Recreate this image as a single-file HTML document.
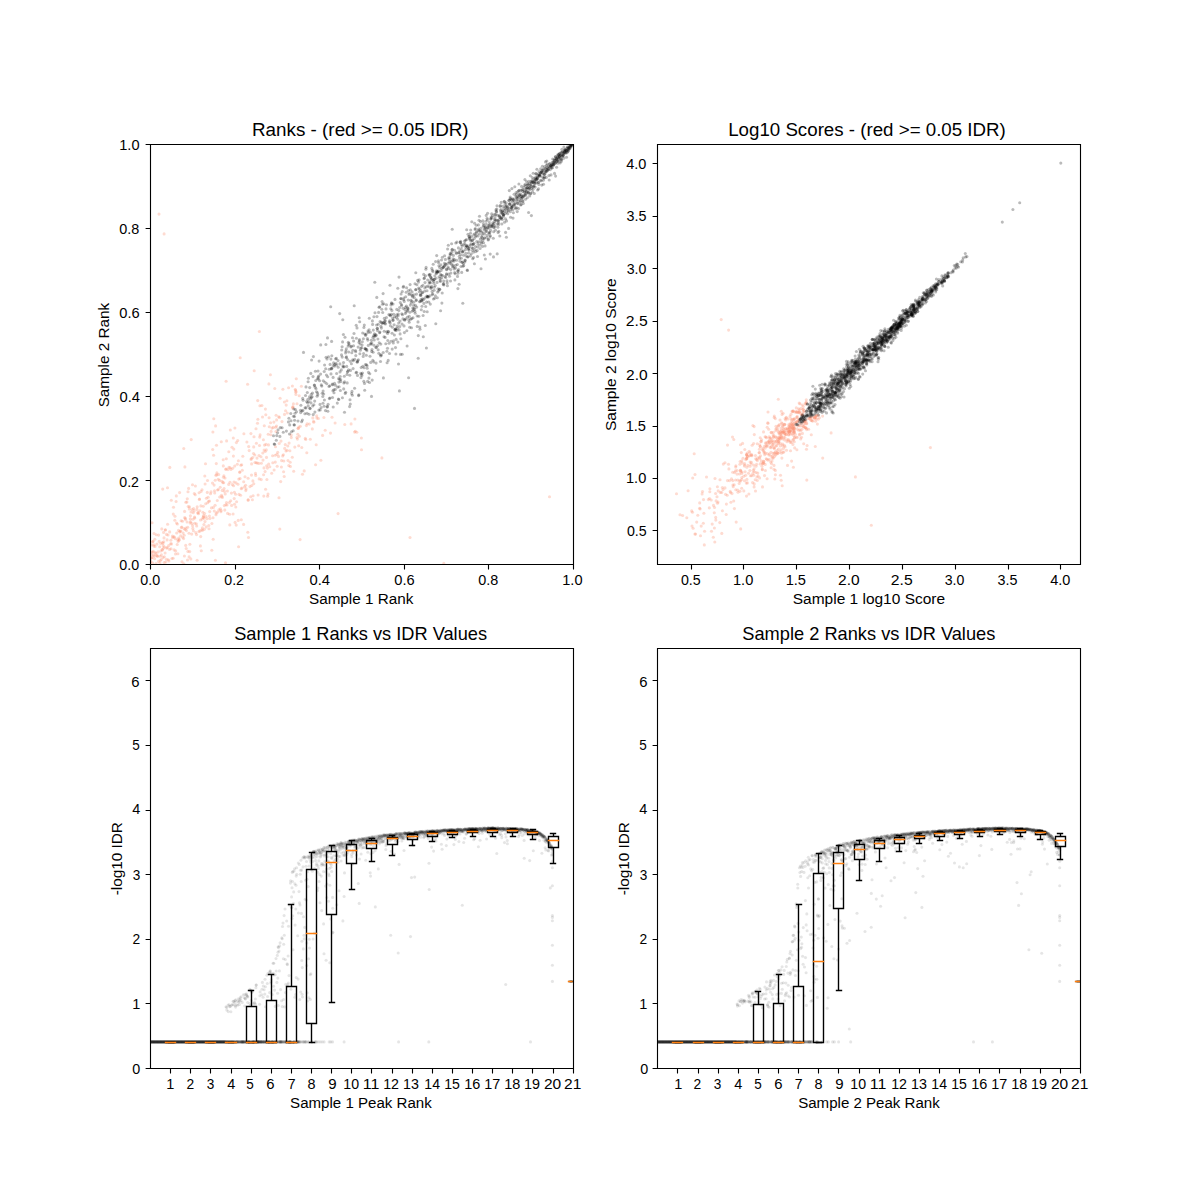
<!DOCTYPE html>
<html><head><meta charset="utf-8"><title>IDR plots</title>
<style>
html,body{margin:0;padding:0;background:#fff;}
body{width:1200px;height:1200px;overflow:hidden;font-family:"Liberation Sans", sans-serif;}
svg{display:block;position:absolute;left:0;top:0;}
text{font-family:"Liberation Sans", sans-serif;fill:#000;}
.fr{fill:none;stroke:#000;stroke-width:1.11;stroke-linecap:butt;}
.pk{fill:#000;fill-opacity:0.27;}
.pr{fill:#fc9272;fill-opacity:0.33;}
.pb{fill:#000;fill-opacity:0.1;}
.bx{fill:none;stroke:#000;stroke-width:1.39;stroke-linecap:butt;stroke-linejoin:miter;}
.cp{stroke-linecap:square;}
.md{fill:none;stroke:#ff7f0e;stroke-width:1.39;stroke-linecap:square;}
</style></head><body>
<svg width="1200" height="1200" viewBox="0 0 1200 1200">
<clipPath id="c1"><rect x="150.0" y="144.0" width="422.727" height="420.0"/></clipPath>
<g class="pr" clip-path="url(#c1)"><circle cx="283.4" cy="454.8" r="1.55"/><circle cx="185.8" cy="502.3" r="1.55"/><circle cx="196.9" cy="509.4" r="1.55"/><circle cx="228.8" cy="451.7" r="1.55"/><circle cx="279.2" cy="443.5" r="1.55"/><circle cx="192.5" cy="484.7" r="1.55"/><circle cx="173.5" cy="507.2" r="1.55"/><circle cx="250.7" cy="496.8" r="1.55"/><circle cx="217.6" cy="512.1" r="1.55"/><circle cx="254.8" cy="455" r="1.55"/><circle cx="178.9" cy="540.6" r="1.55"/><circle cx="283.8" cy="461" r="1.55"/><circle cx="200.9" cy="505.9" r="1.55"/><circle cx="184.4" cy="556" r="1.55"/><circle cx="163.2" cy="545.7" r="1.55"/><circle cx="154" cy="533.5" r="1.55"/><circle cx="332" cy="417.2" r="1.55"/><circle cx="190.8" cy="558.9" r="1.55"/><circle cx="275.9" cy="431.6" r="1.55"/><circle cx="257.9" cy="419.2" r="1.55"/><circle cx="281.6" cy="460.6" r="1.55"/><circle cx="178.5" cy="530.4" r="1.55"/><circle cx="232" cy="447.3" r="1.55"/><circle cx="166.7" cy="548.1" r="1.55"/><circle cx="284.5" cy="414.4" r="1.55"/><circle cx="179.6" cy="492.6" r="1.55"/><circle cx="151.8" cy="545" r="1.55"/><circle cx="253.5" cy="453.5" r="1.55"/><circle cx="275.7" cy="427.2" r="1.55"/><circle cx="170.6" cy="543.7" r="1.55"/><circle cx="226.3" cy="458.8" r="1.55"/><circle cx="354.9" cy="419" r="1.55"/><circle cx="247.8" cy="532.2" r="1.55"/><circle cx="189.9" cy="544.3" r="1.55"/><circle cx="234.5" cy="504.3" r="1.55"/><circle cx="239.7" cy="472.3" r="1.55"/><circle cx="295.6" cy="390" r="1.55"/><circle cx="248.7" cy="446.6" r="1.55"/><circle cx="240.6" cy="495.3" r="1.55"/><circle cx="248.3" cy="499.9" r="1.55"/><circle cx="268.7" cy="464.1" r="1.55"/><circle cx="266.7" cy="465.8" r="1.55"/><circle cx="320.9" cy="460.3" r="1.55"/><circle cx="282.7" cy="455.9" r="1.55"/><circle cx="205.7" cy="503.7" r="1.55"/><circle cx="287.3" cy="413" r="1.55"/><circle cx="285.6" cy="410.8" r="1.55"/><circle cx="173.3" cy="514.1" r="1.55"/><circle cx="223.7" cy="482.7" r="1.55"/><circle cx="174.4" cy="537" r="1.55"/><circle cx="209.5" cy="501" r="1.55"/><circle cx="200.7" cy="536.6" r="1.55"/><circle cx="294.8" cy="447.1" r="1.55"/><circle cx="209.9" cy="518.5" r="1.55"/><circle cx="154.4" cy="556.1" r="1.55"/><circle cx="287.8" cy="446" r="1.55"/><circle cx="203.1" cy="517.4" r="1.55"/><circle cx="199.8" cy="510.7" r="1.55"/><circle cx="316.7" cy="415.9" r="1.55"/><circle cx="220.4" cy="508.7" r="1.55"/><circle cx="255.5" cy="473.4" r="1.55"/><circle cx="263.4" cy="439.8" r="1.55"/><circle cx="222.2" cy="490.4" r="1.55"/><circle cx="198.5" cy="513.8" r="1.55"/><circle cx="281.4" cy="467" r="1.55"/><circle cx="264.1" cy="450.1" r="1.55"/><circle cx="288.8" cy="465.6" r="1.55"/><circle cx="293.4" cy="403.9" r="1.55"/><circle cx="223.9" cy="475.8" r="1.55"/><circle cx="167.5" cy="487.7" r="1.55"/><circle cx="183.8" cy="563.8" r="1.55"/><circle cx="231.6" cy="505.4" r="1.55"/><circle cx="301.4" cy="386.3" r="1.55"/><circle cx="262.5" cy="417" r="1.55"/><circle cx="179.8" cy="532" r="1.55"/><circle cx="246.9" cy="442" r="1.55"/><circle cx="264.5" cy="445.1" r="1.55"/><circle cx="255.7" cy="475.4" r="1.55"/><circle cx="233.6" cy="485.8" r="1.55"/><circle cx="224.4" cy="491.3" r="1.55"/><circle cx="160.8" cy="551" r="1.55"/><circle cx="223.5" cy="477.3" r="1.55"/><circle cx="166.5" cy="534.4" r="1.55"/><circle cx="174.8" cy="520.2" r="1.55"/><circle cx="171" cy="548.7" r="1.55"/><circle cx="179.4" cy="539.5" r="1.55"/><circle cx="245" cy="476.7" r="1.55"/><circle cx="198.3" cy="512.5" r="1.55"/><circle cx="306.8" cy="452.8" r="1.55"/><circle cx="381.9" cy="457.9" r="1.55"/><circle cx="228.7" cy="484.4" r="1.55"/><circle cx="275.5" cy="446.8" r="1.55"/><circle cx="161.2" cy="559.6" r="1.55"/><circle cx="168.9" cy="560.9" r="1.55"/><circle cx="265.4" cy="409.1" r="1.55"/><circle cx="235.8" cy="507" r="1.55"/><circle cx="200.4" cy="545.9" r="1.55"/><circle cx="325.2" cy="430.3" r="1.55"/><circle cx="264.3" cy="425.8" r="1.55"/><circle cx="219.7" cy="497" r="1.55"/><circle cx="241.9" cy="488" r="1.55"/><circle cx="318.4" cy="418.5" r="1.55"/><circle cx="160.1" cy="556.3" r="1.55"/><circle cx="278.7" cy="416.8" r="1.55"/><circle cx="292.8" cy="406.8" r="1.55"/><circle cx="237.3" cy="464.3" r="1.55"/><circle cx="177.2" cy="544.5" r="1.55"/><circle cx="305.7" cy="439.5" r="1.55"/><circle cx="312.8" cy="417.9" r="1.55"/><circle cx="243.6" cy="524.4" r="1.55"/><circle cx="185.7" cy="545.4" r="1.55"/><circle cx="222.8" cy="482.6" r="1.55"/><circle cx="284.4" cy="402" r="1.55"/><circle cx="199.6" cy="499" r="1.55"/><circle cx="268.9" cy="383.9" r="1.55"/><circle cx="215.1" cy="505.2" r="1.55"/><circle cx="272" cy="428.1" r="1.55"/><circle cx="154.2" cy="544.8" r="1.55"/><circle cx="196.3" cy="523.8" r="1.55"/><circle cx="284.7" cy="448.4" r="1.55"/><circle cx="189.5" cy="506.7" r="1.55"/><circle cx="259.2" cy="478.9" r="1.55"/><circle cx="288" cy="460.5" r="1.55"/><circle cx="209.4" cy="516" r="1.55"/><circle cx="187.1" cy="522" r="1.55"/><circle cx="243.9" cy="433.8" r="1.55"/><circle cx="221.3" cy="441.8" r="1.55"/><circle cx="206.1" cy="516.5" r="1.55"/><circle cx="183.6" cy="538.6" r="1.55"/><circle cx="262.8" cy="453" r="1.55"/><circle cx="298.9" cy="427" r="1.55"/><circle cx="218.7" cy="474.5" r="1.55"/><circle cx="261.9" cy="405.5" r="1.55"/><circle cx="153.3" cy="551.2" r="1.55"/><circle cx="189" cy="533.3" r="1.55"/><circle cx="192.1" cy="509.6" r="1.55"/><circle cx="322.6" cy="435.4" r="1.55"/><circle cx="158.1" cy="551.9" r="1.55"/><circle cx="297" cy="403.7" r="1.55"/><circle cx="266" cy="444.4" r="1.55"/><circle cx="306.4" cy="425.6" r="1.55"/><circle cx="292.6" cy="408.1" r="1.55"/><circle cx="163.4" cy="548.3" r="1.55"/><circle cx="215.8" cy="475.3" r="1.55"/><circle cx="299.4" cy="436.2" r="1.55"/><circle cx="235.6" cy="494.2" r="1.55"/><circle cx="236.6" cy="501.7" r="1.55"/><circle cx="216.3" cy="463.6" r="1.55"/><circle cx="178.7" cy="538.1" r="1.55"/><circle cx="156.1" cy="563.5" r="1.55"/><circle cx="152.2" cy="557.4" r="1.55"/><circle cx="355.3" cy="431.2" r="1.55"/><circle cx="215.6" cy="425.9" r="1.55"/><circle cx="156.2" cy="534.8" r="1.55"/><circle cx="201.1" cy="491.5" r="1.55"/><circle cx="305.3" cy="438.4" r="1.55"/><circle cx="310.3" cy="439.3" r="1.55"/><circle cx="274.1" cy="470" r="1.55"/><circle cx="192.8" cy="528.4" r="1.55"/><circle cx="165.3" cy="530" r="1.55"/><circle cx="213.6" cy="455.2" r="1.55"/><circle cx="218.9" cy="509.9" r="1.55"/><circle cx="164" cy="537.9" r="1.55"/><circle cx="191.9" cy="523.6" r="1.55"/><circle cx="335.1" cy="423" r="1.55"/><circle cx="243.7" cy="481.8" r="1.55"/><circle cx="188.6" cy="488.4" r="1.55"/><circle cx="254.9" cy="462.5" r="1.55"/><circle cx="202.9" cy="512.3" r="1.55"/><circle cx="180.9" cy="531.1" r="1.55"/><circle cx="232.3" cy="484.6" r="1.55"/><circle cx="220.2" cy="487.3" r="1.55"/><circle cx="233.4" cy="456.1" r="1.55"/><circle cx="290.2" cy="462.3" r="1.55"/><circle cx="178.1" cy="541.5" r="1.55"/><circle cx="161.4" cy="554.9" r="1.55"/><circle cx="316.9" cy="418.1" r="1.55"/><circle cx="273.3" cy="427.4" r="1.55"/><circle cx="181.4" cy="527.5" r="1.55"/><circle cx="256" cy="428.7" r="1.55"/><circle cx="173.2" cy="558.3" r="1.55"/><circle cx="222.4" cy="497.5" r="1.55"/><circle cx="152.6" cy="541.9" r="1.55"/><circle cx="240.1" cy="478.5" r="1.55"/><circle cx="266.5" cy="457.4" r="1.55"/><circle cx="239.9" cy="472" r="1.55"/><circle cx="194.3" cy="493.5" r="1.55"/><circle cx="248.1" cy="478.2" r="1.55"/><circle cx="275.2" cy="455.3" r="1.55"/><circle cx="215.2" cy="480.2" r="1.55"/><circle cx="157.5" cy="556.5" r="1.55"/><circle cx="251.8" cy="485.5" r="1.55"/><circle cx="304.2" cy="470.9" r="1.55"/><circle cx="282" cy="421.6" r="1.55"/><circle cx="233.1" cy="514" r="1.55"/><circle cx="250" cy="486.6" r="1.55"/><circle cx="253.1" cy="495.7" r="1.55"/><circle cx="197.6" cy="512.9" r="1.55"/><circle cx="177.9" cy="553.8" r="1.55"/><circle cx="169.8" cy="467.4" r="1.55"/><circle cx="298.7" cy="445.7" r="1.55"/><circle cx="225.9" cy="504.8" r="1.55"/><circle cx="202.4" cy="527.7" r="1.55"/><circle cx="156.6" cy="555.6" r="1.55"/><circle cx="187.9" cy="551.4" r="1.55"/><circle cx="290.4" cy="466.5" r="1.55"/><circle cx="232.7" cy="468.3" r="1.55"/><circle cx="158.5" cy="561.4" r="1.55"/><circle cx="190.4" cy="515.8" r="1.55"/><circle cx="205.5" cy="463.7" r="1.55"/><circle cx="257" cy="458.1" r="1.55"/><circle cx="241.2" cy="488.8" r="1.55"/><circle cx="184.6" cy="511.4" r="1.55"/><circle cx="273.9" cy="422.1" r="1.55"/><circle cx="284.2" cy="476.5" r="1.55"/><circle cx="238.2" cy="520.4" r="1.55"/><circle cx="153.1" cy="541.2" r="1.55"/><circle cx="361.5" cy="449.7" r="1.55"/><circle cx="276.5" cy="426.1" r="1.55"/><circle cx="292.3" cy="457.2" r="1.55"/><circle cx="323.9" cy="417.5" r="1.55"/><circle cx="216.2" cy="513.1" r="1.55"/><circle cx="307.1" cy="423.8" r="1.55"/><circle cx="203.5" cy="515.6" r="1.55"/><circle cx="252.4" cy="499.7" r="1.55"/><circle cx="316.2" cy="444.8" r="1.55"/><circle cx="289.1" cy="443.1" r="1.55"/><circle cx="259.9" cy="405.7" r="1.55"/><circle cx="261.4" cy="463.2" r="1.55"/><circle cx="269.8" cy="466.7" r="1.55"/><circle cx="313.8" cy="422.3" r="1.55"/><circle cx="268.2" cy="434.2" r="1.55"/><circle cx="300.3" cy="426.3" r="1.55"/><circle cx="269.3" cy="426.7" r="1.55"/><circle cx="194.5" cy="517.1" r="1.55"/><circle cx="295.7" cy="392.3" r="1.55"/><circle cx="211.9" cy="523.5" r="1.55"/><circle cx="184.2" cy="535.3" r="1.55"/><circle cx="155.5" cy="552.5" r="1.55"/><circle cx="226.6" cy="440.9" r="1.55"/><circle cx="291.3" cy="437.6" r="1.55"/><circle cx="267.4" cy="468.1" r="1.55"/><circle cx="193" cy="519.3" r="1.55"/><circle cx="175.7" cy="550.9" r="1.55"/><circle cx="234" cy="482" r="1.55"/><circle cx="301.8" cy="447.5" r="1.55"/><circle cx="197.1" cy="560.2" r="1.55"/><circle cx="210.5" cy="493.7" r="1.55"/><circle cx="214.1" cy="485.1" r="1.55"/><circle cx="230" cy="482.2" r="1.55"/><circle cx="213.2" cy="539.3" r="1.55"/><circle cx="272.8" cy="462.7" r="1.55"/><circle cx="155.1" cy="546.5" r="1.55"/><circle cx="208.1" cy="497.2" r="1.55"/><circle cx="182.5" cy="521.3" r="1.55"/><circle cx="238.8" cy="479.1" r="1.55"/><circle cx="162.3" cy="542.5" r="1.55"/><circle cx="229.4" cy="502.6" r="1.55"/><circle cx="238" cy="484.2" r="1.55"/><circle cx="291.2" cy="435.1" r="1.55"/><circle cx="295.2" cy="389.6" r="1.55"/><circle cx="185.1" cy="529.5" r="1.55"/><circle cx="203.7" cy="516.7" r="1.55"/><circle cx="176.7" cy="533" r="1.55"/><circle cx="218.2" cy="479.3" r="1.55"/><circle cx="207" cy="518.7" r="1.55"/><circle cx="265.2" cy="451.5" r="1.55"/><circle cx="268" cy="494.1" r="1.55"/><circle cx="188" cy="491.7" r="1.55"/><circle cx="204.4" cy="529.3" r="1.55"/><circle cx="168.7" cy="545.6" r="1.55"/><circle cx="229" cy="467.2" r="1.55"/><circle cx="162.1" cy="549.6" r="1.55"/><circle cx="200" cy="530.9" r="1.55"/><circle cx="224.3" cy="505.6" r="1.55"/><circle cx="309.3" cy="424.1" r="1.55"/><circle cx="204.8" cy="476" r="1.55"/><circle cx="234.9" cy="428" r="1.55"/><circle cx="171.5" cy="543.9" r="1.55"/><circle cx="225" cy="478" r="1.55"/><circle cx="152" cy="522.7" r="1.55"/><circle cx="226.5" cy="502.5" r="1.55"/><circle cx="227.9" cy="469.6" r="1.55"/><circle cx="223.2" cy="459.7" r="1.55"/><circle cx="217.3" cy="500.5" r="1.55"/><circle cx="229.6" cy="514.3" r="1.55"/><circle cx="174.1" cy="549.9" r="1.55"/><circle cx="204.6" cy="513.6" r="1.55"/><circle cx="223.3" cy="465.9" r="1.55"/><circle cx="186" cy="528" r="1.55"/><circle cx="184" cy="528.6" r="1.55"/><circle cx="194.7" cy="523.3" r="1.55"/><circle cx="241.3" cy="519.8" r="1.55"/><circle cx="196.5" cy="534.6" r="1.55"/><circle cx="230.3" cy="430" r="1.55"/><circle cx="263.6" cy="474.7" r="1.55"/><circle cx="258.8" cy="463.4" r="1.55"/><circle cx="279.8" cy="529.1" r="1.55"/><circle cx="286.2" cy="405.1" r="1.55"/><circle cx="153.7" cy="555.1" r="1.55"/><circle cx="299.2" cy="395.8" r="1.55"/><circle cx="167.1" cy="539.9" r="1.55"/><circle cx="256.2" cy="462.8" r="1.55"/><circle cx="293" cy="407.3" r="1.55"/><circle cx="257.7" cy="400.6" r="1.55"/><circle cx="166.4" cy="559.3" r="1.55"/><circle cx="168.2" cy="559.8" r="1.55"/><circle cx="276.6" cy="419.9" r="1.55"/><circle cx="198.9" cy="531.5" r="1.55"/><circle cx="205" cy="521.6" r="1.55"/><circle cx="244.5" cy="486.9" r="1.55"/><circle cx="225.2" cy="493.9" r="1.55"/><circle cx="216" cy="514.7" r="1.55"/><circle cx="269.1" cy="417.7" r="1.55"/><circle cx="285.3" cy="444.6" r="1.55"/><circle cx="211" cy="491.9" r="1.55"/><circle cx="189.3" cy="508.9" r="1.55"/><circle cx="152.9" cy="552.3" r="1.55"/><circle cx="202" cy="489.7" r="1.55"/><circle cx="189.1" cy="556.9" r="1.55"/><circle cx="245.6" cy="485.3" r="1.55"/><circle cx="159.7" cy="546.7" r="1.55"/><circle cx="216.7" cy="474.9" r="1.55"/><circle cx="277" cy="454.3" r="1.55"/><circle cx="193.2" cy="512.7" r="1.55"/><circle cx="278.5" cy="456.4" r="1.55"/><circle cx="259" cy="455.5" r="1.55"/><circle cx="193.6" cy="508.5" r="1.55"/><circle cx="199.3" cy="499.5" r="1.55"/><circle cx="182.7" cy="537.3" r="1.55"/><circle cx="187.5" cy="560" r="1.55"/><circle cx="241.7" cy="464.7" r="1.55"/><circle cx="260.1" cy="434.9" r="1.55"/><circle cx="195.8" cy="532.6" r="1.55"/><circle cx="152.8" cy="563.1" r="1.55"/><circle cx="225.7" cy="469.2" r="1.55"/><circle cx="218.4" cy="489.5" r="1.55"/><circle cx="212.9" cy="432" r="1.55"/><circle cx="265.6" cy="489.3" r="1.55"/><circle cx="151.5" cy="558" r="1.55"/><circle cx="230.9" cy="469.4" r="1.55"/><circle cx="275.3" cy="462.1" r="1.55"/><circle cx="206.2" cy="526.9" r="1.55"/><circle cx="220.9" cy="511.8" r="1.55"/><circle cx="159.9" cy="562.9" r="1.55"/><circle cx="238.4" cy="460.8" r="1.55"/><circle cx="188.2" cy="506.5" r="1.55"/><circle cx="182" cy="561.8" r="1.55"/><circle cx="207.7" cy="502.8" r="1.55"/><circle cx="201.8" cy="529.9" r="1.55"/><circle cx="236" cy="482.9" r="1.55"/><circle cx="193.4" cy="530.8" r="1.55"/><circle cx="163.8" cy="541.7" r="1.55"/><circle cx="240.8" cy="465.2" r="1.55"/><circle cx="176.5" cy="523.1" r="1.55"/><circle cx="270.4" cy="374.8" r="1.55"/><circle cx="219.5" cy="480.4" r="1.55"/><circle cx="234.4" cy="492.2" r="1.55"/><circle cx="154.8" cy="539.2" r="1.55"/><circle cx="246.1" cy="488.9" r="1.55"/><circle cx="221.1" cy="510.5" r="1.55"/><circle cx="162.9" cy="543.4" r="1.55"/><circle cx="161.8" cy="528.9" r="1.55"/><circle cx="224.1" cy="488.6" r="1.55"/><circle cx="251.5" cy="475.1" r="1.55"/><circle cx="175.5" cy="554" r="1.55"/><circle cx="296.9" cy="437.5" r="1.55"/><circle cx="181.8" cy="527.1" r="1.55"/><circle cx="184.9" cy="466.9" r="1.55"/><circle cx="159.2" cy="541.4" r="1.55"/><circle cx="226.1" cy="469" r="1.55"/><circle cx="270.8" cy="434.7" r="1.55"/><circle cx="205.1" cy="484" r="1.55"/><circle cx="187.7" cy="527.3" r="1.55"/><circle cx="254" cy="436.7" r="1.55"/><circle cx="235.1" cy="522.4" r="1.55"/><circle cx="264" cy="467.9" r="1.55"/><circle cx="259.5" cy="445.5" r="1.55"/><circle cx="267.6" cy="496.3" r="1.55"/><circle cx="164.5" cy="547" r="1.55"/><circle cx="227.4" cy="491" r="1.55"/><circle cx="286" cy="451" r="1.55"/><circle cx="258.1" cy="495" r="1.55"/><circle cx="271.1" cy="431.4" r="1.55"/><circle cx="240.2" cy="357.7" r="1.55"/><circle cx="296.1" cy="391.6" r="1.55"/><circle cx="251.3" cy="458.5" r="1.55"/><circle cx="236.4" cy="442.6" r="1.55"/><circle cx="177.8" cy="539.7" r="1.55"/><circle cx="150.9" cy="561.3" r="1.55"/><circle cx="209" cy="528.8" r="1.55"/><circle cx="298.1" cy="428.3" r="1.55"/><circle cx="281" cy="441.1" r="1.55"/><circle cx="207.5" cy="480.5" r="1.55"/><circle cx="180" cy="531.3" r="1.55"/><circle cx="277.7" cy="452.2" r="1.55"/><circle cx="169.5" cy="549.4" r="1.55"/><circle cx="280.7" cy="481.6" r="1.55"/><circle cx="187.3" cy="498.8" r="1.55"/><circle cx="259.7" cy="437.1" r="1.55"/><circle cx="234.7" cy="466.1" r="1.55"/><circle cx="233.8" cy="449.1" r="1.55"/><circle cx="202.6" cy="530.2" r="1.55"/><circle cx="242.8" cy="456.3" r="1.55"/><circle cx="313.6" cy="421.2" r="1.55"/><circle cx="265.8" cy="414.8" r="1.55"/><circle cx="216.5" cy="445.3" r="1.55"/><circle cx="214.7" cy="493" r="1.55"/><circle cx="167.3" cy="547.6" r="1.55"/><circle cx="172.4" cy="536.1" r="1.55"/><circle cx="248.5" cy="537.5" r="1.55"/><circle cx="162.7" cy="489.1" r="1.55"/><circle cx="276.1" cy="415.2" r="1.55"/><circle cx="201.3" cy="550.7" r="1.55"/><circle cx="286.9" cy="400.7" r="1.55"/><circle cx="185.3" cy="518.2" r="1.55"/><circle cx="344.8" cy="424.5" r="1.55"/><circle cx="279.4" cy="417.4" r="1.55"/><circle cx="151.7" cy="554.7" r="1.55"/><circle cx="238.6" cy="546.8" r="1.55"/><circle cx="227.6" cy="513.4" r="1.55"/><circle cx="153.9" cy="546.1" r="1.55"/><circle cx="245.8" cy="490.6" r="1.55"/><circle cx="202.2" cy="519.1" r="1.55"/><circle cx="351.1" cy="423.9" r="1.55"/><circle cx="356.8" cy="432.3" r="1.55"/><circle cx="208.6" cy="501.2" r="1.55"/><circle cx="312.3" cy="428.9" r="1.55"/><circle cx="195.4" cy="486" r="1.55"/><circle cx="261" cy="456.8" r="1.55"/><circle cx="203.9" cy="524.6" r="1.55"/><circle cx="164.2" cy="562.5" r="1.55"/><circle cx="160.7" cy="543.5" r="1.55"/><circle cx="169.7" cy="531.9" r="1.55"/><circle cx="213.8" cy="418.8" r="1.55"/><circle cx="296.3" cy="378.7" r="1.55"/><circle cx="221.5" cy="495.2" r="1.55"/><circle cx="271.7" cy="473.2" r="1.55"/><circle cx="151.3" cy="552.1" r="1.55"/><circle cx="213" cy="517.8" r="1.55"/><circle cx="292.4" cy="386" r="1.55"/><circle cx="227" cy="505" r="1.55"/><circle cx="196.7" cy="526" r="1.55"/><circle cx="170.8" cy="540.3" r="1.55"/><circle cx="297.4" cy="439.1" r="1.55"/><circle cx="253.7" cy="446.9" r="1.55"/><circle cx="164.3" cy="556.7" r="1.55"/><circle cx="279" cy="497.7" r="1.55"/><circle cx="175" cy="516.3" r="1.55"/><circle cx="158.6" cy="535.1" r="1.55"/><circle cx="185.5" cy="519.6" r="1.55"/><circle cx="206.4" cy="498.3" r="1.55"/><circle cx="230.1" cy="467.8" r="1.55"/><circle cx="302.5" cy="474.2" r="1.55"/><circle cx="252.9" cy="480.9" r="1.55"/><circle cx="173.7" cy="536.8" r="1.55"/><circle cx="257.2" cy="463" r="1.55"/><circle cx="237.7" cy="440.6" r="1.55"/><circle cx="186.9" cy="502.1" r="1.55"/><circle cx="172.6" cy="537.7" r="1.55"/><circle cx="297.8" cy="434.3" r="1.55"/><circle cx="214.5" cy="490.8" r="1.55"/><circle cx="295.9" cy="394.5" r="1.55"/><circle cx="274.8" cy="388.5" r="1.55"/><circle cx="234.2" cy="498.6" r="1.55"/><circle cx="216.9" cy="472.9" r="1.55"/><circle cx="221.9" cy="496.6" r="1.55"/><circle cx="204" cy="518.3" r="1.55"/><circle cx="272.6" cy="455.7" r="1.55"/><circle cx="268.5" cy="444.9" r="1.55"/><circle cx="225.5" cy="562.7" r="1.55"/><circle cx="186.2" cy="548.5" r="1.55"/><circle cx="167.6" cy="524.2" r="1.55"/><circle cx="263.8" cy="496.1" r="1.55"/><circle cx="163" cy="557.6" r="1.55"/><circle cx="165.4" cy="529.7" r="1.55"/><circle cx="171.3" cy="500.3" r="1.55"/><circle cx="224.8" cy="510.1" r="1.55"/><circle cx="265.1" cy="471.6" r="1.55"/><circle cx="197.2" cy="506.8" r="1.55"/><circle cx="231.4" cy="493.1" r="1.55"/><circle cx="217.5" cy="490" r="1.55"/><circle cx="283.6" cy="471.8" r="1.55"/><circle cx="287.1" cy="450.2" r="1.55"/><circle cx="247.6" cy="384.3" r="1.55"/><circle cx="254.2" cy="370.8" r="1.55"/><circle cx="266.3" cy="449.9" r="1.55"/><circle cx="209.7" cy="511.6" r="1.55"/><circle cx="176.1" cy="501.5" r="1.55"/><circle cx="176.3" cy="495.9" r="1.55"/><circle cx="150.6" cy="558.2" r="1.55"/><circle cx="157.4" cy="555.8" r="1.55"/><circle cx="211.8" cy="550.3" r="1.55"/><circle cx="330.5" cy="433.1" r="1.55"/><circle cx="168" cy="535" r="1.55"/><circle cx="165.8" cy="562" r="1.55"/><circle cx="293.7" cy="471.2" r="1.55"/><circle cx="194.8" cy="518" r="1.55"/><circle cx="183.1" cy="533.1" r="1.55"/><circle cx="222" cy="481.3" r="1.55"/><circle cx="203.3" cy="506.3" r="1.55"/><circle cx="208.8" cy="525.5" r="1.55"/><circle cx="261.2" cy="479.6" r="1.55"/><circle cx="270.6" cy="422.8" r="1.55"/><circle cx="214.3" cy="511" r="1.55"/><circle cx="211.4" cy="507.9" r="1.55"/><circle cx="190.1" cy="522.9" r="1.55"/><circle cx="175.4" cy="538.8" r="1.55"/><circle cx="190.3" cy="518.9" r="1.55"/><circle cx="180.7" cy="535.9" r="1.55"/><circle cx="191.2" cy="439.6" r="1.55"/><circle cx="212.5" cy="483.1" r="1.55"/><circle cx="242.3" cy="470.3" r="1.55"/><circle cx="256.4" cy="443.3" r="1.55"/><circle cx="192.6" cy="525.7" r="1.55"/><circle cx="181.1" cy="520.7" r="1.55"/><circle cx="194.1" cy="510.9" r="1.55"/><circle cx="199.1" cy="492.8" r="1.55"/><circle cx="263" cy="460.1" r="1.55"/><circle cx="233.3" cy="438" r="1.55"/><circle cx="249.2" cy="450.6" r="1.55"/><circle cx="155.9" cy="553.6" r="1.55"/><circle cx="189.7" cy="551.6" r="1.55"/><circle cx="177.4" cy="524" r="1.55"/><circle cx="239" cy="494.4" r="1.55"/><circle cx="229.8" cy="524.9" r="1.55"/><circle cx="154.6" cy="558.7" r="1.55"/><circle cx="251.6" cy="463.9" r="1.55"/><circle cx="213.4" cy="507.4" r="1.55"/><circle cx="253.8" cy="483.7" r="1.55"/><circle cx="215.4" cy="560.3" r="1.55"/><circle cx="163.6" cy="532.4" r="1.55"/><circle cx="200.5" cy="520" r="1.55"/><circle cx="289.9" cy="450.8" r="1.55"/><circle cx="165.1" cy="553" r="1.55"/><circle cx="282.9" cy="389.2" r="1.55"/><circle cx="191" cy="512" r="1.55"/><circle cx="298.3" cy="428.5" r="1.55"/><circle cx="259.4" cy="331.5" r="1.55"/><circle cx="190.6" cy="521.8" r="1.55"/><circle cx="230.7" cy="500.8" r="1.55"/><circle cx="162.5" cy="550.1" r="1.55"/><circle cx="248" cy="500.1" r="1.55"/><circle cx="315.6" cy="464.8" r="1.55"/><circle cx="191.7" cy="534.1" r="1.55"/><circle cx="251.1" cy="459.5" r="1.55"/><circle cx="236.2" cy="525.1" r="1.55"/><circle cx="212.7" cy="449.5" r="1.55"/><circle cx="288.6" cy="387.8" r="1.55"/><circle cx="250.9" cy="433.6" r="1.55"/><circle cx="207.3" cy="492.4" r="1.55"/><circle cx="280.1" cy="398.2" r="1.55"/><circle cx="157" cy="544.1" r="1.55"/><circle cx="184.7" cy="517.6" r="1.55"/><circle cx="266.9" cy="479.5" r="1.55"/><circle cx="160.3" cy="560.5" r="1.55"/><circle cx="150.4" cy="562.4" r="1.55"/><circle cx="252.7" cy="457.5" r="1.55"/><circle cx="277.2" cy="466.3" r="1.55"/><circle cx="195.2" cy="494.8" r="1.55"/><circle cx="171.9" cy="558.5" r="1.55"/><circle cx="257.5" cy="423.2" r="1.55"/><circle cx="186.4" cy="530.6" r="1.55"/><circle cx="159" cy="214.1" r="1.55"/><circle cx="164.1" cy="233.9" r="1.55"/><circle cx="549.5" cy="496.8" r="1.55"/><circle cx="410" cy="537.5" r="1.55"/><circle cx="443.8" cy="563.2" r="1.55"/><circle cx="300.1" cy="539.6" r="1.55"/><circle cx="338.1" cy="513.6" r="1.55"/><circle cx="226.1" cy="381.3" r="1.55"/><circle cx="183.8" cy="448.5" r="1.55"/><circle cx="354.6" cy="432.1" r="1.55"/><circle cx="361.4" cy="438" r="1.55"/></g>
<g class="pk" clip-path="url(#c1)"><circle cx="458.6" cy="269.5" r="1.55"/><circle cx="293.9" cy="409" r="1.55"/><circle cx="445.7" cy="277.5" r="1.55"/><circle cx="343.7" cy="388.9" r="1.55"/><circle cx="344.5" cy="412.3" r="1.55"/><circle cx="524.4" cy="190.9" r="1.55"/><circle cx="366.9" cy="350.7" r="1.55"/><circle cx="508.2" cy="211" r="1.55"/><circle cx="367.2" cy="368.2" r="1.55"/><circle cx="326.1" cy="357.3" r="1.55"/><circle cx="527" cy="187.8" r="1.55"/><circle cx="381.8" cy="309.3" r="1.55"/><circle cx="524.2" cy="192.2" r="1.55"/><circle cx="426.2" cy="286.8" r="1.55"/><circle cx="345.2" cy="393.4" r="1.55"/><circle cx="439.7" cy="267.6" r="1.55"/><circle cx="440.6" cy="310.7" r="1.55"/><circle cx="400.5" cy="354.4" r="1.55"/><circle cx="469.1" cy="250.1" r="1.55"/><circle cx="367.6" cy="381.4" r="1.55"/><circle cx="552.7" cy="159" r="1.55"/><circle cx="524" cy="187.3" r="1.55"/><circle cx="295" cy="413.3" r="1.55"/><circle cx="484.1" cy="229.6" r="1.55"/><circle cx="456.2" cy="252.5" r="1.55"/><circle cx="497.7" cy="220.5" r="1.55"/><circle cx="376.3" cy="335.2" r="1.55"/><circle cx="448.7" cy="257.9" r="1.55"/><circle cx="350" cy="399.8" r="1.55"/><circle cx="346.5" cy="356.9" r="1.55"/><circle cx="488.2" cy="239.9" r="1.55"/><circle cx="519.6" cy="199.5" r="1.55"/><circle cx="412.6" cy="297" r="1.55"/><circle cx="337.3" cy="403.1" r="1.55"/><circle cx="553.4" cy="164.6" r="1.55"/><circle cx="563.2" cy="155.5" r="1.55"/><circle cx="427.5" cy="296.5" r="1.55"/><circle cx="454.9" cy="279.9" r="1.55"/><circle cx="511.7" cy="205.5" r="1.55"/><circle cx="494.2" cy="227.1" r="1.55"/><circle cx="536.9" cy="169.2" r="1.55"/><circle cx="388.9" cy="314.6" r="1.55"/><circle cx="518.1" cy="203.7" r="1.55"/><circle cx="307.9" cy="399.3" r="1.55"/><circle cx="395" cy="299.4" r="1.55"/><circle cx="382.7" cy="312.5" r="1.55"/><circle cx="369.1" cy="329.7" r="1.55"/><circle cx="501.4" cy="218.5" r="1.55"/><circle cx="486" cy="221.2" r="1.55"/><circle cx="429.4" cy="275.1" r="1.55"/><circle cx="554.9" cy="160.4" r="1.55"/><circle cx="504.5" cy="222.3" r="1.55"/><circle cx="439.5" cy="289.4" r="1.55"/><circle cx="426.1" cy="267.4" r="1.55"/><circle cx="501.6" cy="217.6" r="1.55"/><circle cx="437.3" cy="297.8" r="1.55"/><circle cx="470.7" cy="230" r="1.55"/><circle cx="542.8" cy="172.3" r="1.55"/><circle cx="512.1" cy="207" r="1.55"/><circle cx="463" cy="266.3" r="1.55"/><circle cx="378.3" cy="324.2" r="1.55"/><circle cx="544.4" cy="176.9" r="1.55"/><circle cx="464.1" cy="245" r="1.55"/><circle cx="317.1" cy="396.2" r="1.55"/><circle cx="529.7" cy="195.9" r="1.55"/><circle cx="386.7" cy="331.9" r="1.55"/><circle cx="495.9" cy="209.9" r="1.55"/><circle cx="536" cy="179.4" r="1.55"/><circle cx="373.1" cy="352.2" r="1.55"/><circle cx="428.8" cy="302" r="1.55"/><circle cx="308.4" cy="378.3" r="1.55"/><circle cx="526.4" cy="188.2" r="1.55"/><circle cx="553.1" cy="165.5" r="1.55"/><circle cx="481" cy="268.7" r="1.55"/><circle cx="459.9" cy="250.8" r="1.55"/><circle cx="356.4" cy="338.3" r="1.55"/><circle cx="309" cy="414.3" r="1.55"/><circle cx="512.3" cy="206.5" r="1.55"/><circle cx="453.4" cy="255.4" r="1.55"/><circle cx="428.3" cy="296.3" r="1.55"/><circle cx="499.2" cy="215.9" r="1.55"/><circle cx="525.9" cy="191.1" r="1.55"/><circle cx="413.9" cy="308.3" r="1.55"/><circle cx="450.5" cy="281" r="1.55"/><circle cx="523.7" cy="196.6" r="1.55"/><circle cx="454.7" cy="272.6" r="1.55"/><circle cx="490.9" cy="219.1" r="1.55"/><circle cx="318.9" cy="410.1" r="1.55"/><circle cx="312.5" cy="393.1" r="1.55"/><circle cx="555.6" cy="176.1" r="1.55"/><circle cx="491.5" cy="226.4" r="1.55"/><circle cx="560.4" cy="159.2" r="1.55"/><circle cx="501" cy="213" r="1.55"/><circle cx="531.9" cy="182.3" r="1.55"/><circle cx="294.6" cy="420.3" r="1.55"/><circle cx="384.3" cy="318.4" r="1.55"/><circle cx="447" cy="280.8" r="1.55"/><circle cx="407.1" cy="346" r="1.55"/><circle cx="494.8" cy="221.4" r="1.55"/><circle cx="525.5" cy="199.3" r="1.55"/><circle cx="537.4" cy="179.1" r="1.55"/><circle cx="341.3" cy="369.9" r="1.55"/><circle cx="494.4" cy="219.2" r="1.55"/><circle cx="403.6" cy="299.8" r="1.55"/><circle cx="496.6" cy="211.9" r="1.55"/><circle cx="509" cy="200.2" r="1.55"/><circle cx="508.8" cy="207.9" r="1.55"/><circle cx="424.4" cy="277.9" r="1.55"/><circle cx="517.6" cy="201.2" r="1.55"/><circle cx="291.5" cy="431.8" r="1.55"/><circle cx="424.2" cy="311.5" r="1.55"/><circle cx="485.2" cy="226.7" r="1.55"/><circle cx="536.5" cy="179.2" r="1.55"/><circle cx="526.2" cy="189.1" r="1.55"/><circle cx="323.1" cy="391.1" r="1.55"/><circle cx="558.8" cy="161.2" r="1.55"/><circle cx="568.9" cy="147.5" r="1.55"/><circle cx="493.5" cy="256.9" r="1.55"/><circle cx="386.5" cy="304.7" r="1.55"/><circle cx="550.9" cy="167.6" r="1.55"/><circle cx="475.3" cy="228.5" r="1.55"/><circle cx="520.9" cy="190.4" r="1.55"/><circle cx="418.3" cy="335.6" r="1.55"/><circle cx="343.5" cy="362.6" r="1.55"/><circle cx="470.5" cy="233.3" r="1.55"/><circle cx="392.2" cy="349.1" r="1.55"/><circle cx="414.7" cy="309.1" r="1.55"/><circle cx="441.5" cy="260" r="1.55"/><circle cx="424.8" cy="287.9" r="1.55"/><circle cx="567.2" cy="152.6" r="1.55"/><circle cx="476.2" cy="225.3" r="1.55"/><circle cx="324.2" cy="371.5" r="1.55"/><circle cx="338.9" cy="382.1" r="1.55"/><circle cx="328.5" cy="356.7" r="1.55"/><circle cx="330.9" cy="359.1" r="1.55"/><circle cx="334.7" cy="366.1" r="1.55"/><circle cx="388.2" cy="360.4" r="1.55"/><circle cx="497.4" cy="223.8" r="1.55"/><circle cx="520" cy="193.9" r="1.55"/><circle cx="394.1" cy="324.8" r="1.55"/><circle cx="353.1" cy="368.6" r="1.55"/><circle cx="426.4" cy="348" r="1.55"/><circle cx="387.8" cy="340.5" r="1.55"/><circle cx="397.6" cy="319.1" r="1.55"/><circle cx="433.6" cy="281.3" r="1.55"/><circle cx="386.4" cy="317.5" r="1.55"/><circle cx="564.6" cy="151.3" r="1.55"/><circle cx="323.7" cy="394" r="1.55"/><circle cx="380.1" cy="321.5" r="1.55"/><circle cx="563.4" cy="155.1" r="1.55"/><circle cx="496.8" cy="209" r="1.55"/><circle cx="276.3" cy="440.2" r="1.55"/><circle cx="363.9" cy="327.5" r="1.55"/><circle cx="538.5" cy="188.9" r="1.55"/><circle cx="349.6" cy="406.6" r="1.55"/><circle cx="441.3" cy="275.3" r="1.55"/><circle cx="462.1" cy="246.1" r="1.55"/><circle cx="397.9" cy="342.1" r="1.55"/><circle cx="535.8" cy="173.9" r="1.55"/><circle cx="431.9" cy="278.8" r="1.55"/><circle cx="569.2" cy="146.9" r="1.55"/><circle cx="537.6" cy="190" r="1.55"/><circle cx="353.6" cy="341" r="1.55"/><circle cx="487.3" cy="235.3" r="1.55"/><circle cx="446.6" cy="274.7" r="1.55"/><circle cx="361" cy="377.6" r="1.55"/><circle cx="566.1" cy="152.9" r="1.55"/><circle cx="390.8" cy="308.7" r="1.55"/><circle cx="534.5" cy="183.6" r="1.55"/><circle cx="514.6" cy="204.1" r="1.55"/><circle cx="283.3" cy="432.2" r="1.55"/><circle cx="419.4" cy="289" r="1.55"/><circle cx="462.3" cy="251.7" r="1.55"/><circle cx="437.1" cy="282.4" r="1.55"/><circle cx="321.3" cy="384.9" r="1.55"/><circle cx="400.7" cy="298.5" r="1.55"/><circle cx="547.7" cy="170.1" r="1.55"/><circle cx="339.1" cy="386.7" r="1.55"/><circle cx="522.9" cy="201.5" r="1.55"/><circle cx="518.3" cy="196.8" r="1.55"/><circle cx="512.6" cy="201.9" r="1.55"/><circle cx="420.9" cy="295.2" r="1.55"/><circle cx="572.7" cy="144.5" r="1.55"/><circle cx="457.7" cy="270.7" r="1.55"/><circle cx="570.7" cy="145.3" r="1.55"/><circle cx="380.3" cy="354.7" r="1.55"/><circle cx="320.6" cy="374.1" r="1.55"/><circle cx="365.8" cy="349.3" r="1.55"/><circle cx="492" cy="225.1" r="1.55"/><circle cx="432.7" cy="293.7" r="1.55"/><circle cx="362.3" cy="341.8" r="1.55"/><circle cx="398.5" cy="364" r="1.55"/><circle cx="384.2" cy="331.2" r="1.55"/><circle cx="538.2" cy="182.5" r="1.55"/><circle cx="511.2" cy="208.1" r="1.55"/><circle cx="395.2" cy="329.3" r="1.55"/><circle cx="471.5" cy="236.6" r="1.55"/><circle cx="540.6" cy="180.3" r="1.55"/><circle cx="549" cy="175.6" r="1.55"/><circle cx="456.6" cy="260.3" r="1.55"/><circle cx="448.8" cy="274" r="1.55"/><circle cx="353.3" cy="360.8" r="1.55"/><circle cx="520.5" cy="205" r="1.55"/><circle cx="416.3" cy="299.9" r="1.55"/><circle cx="278.1" cy="429.8" r="1.55"/><circle cx="398.1" cy="315.7" r="1.55"/><circle cx="409" cy="294.5" r="1.55"/><circle cx="417.2" cy="326.4" r="1.55"/><circle cx="430.8" cy="276.9" r="1.55"/><circle cx="516.5" cy="194.4" r="1.55"/><circle cx="463.7" cy="265.6" r="1.55"/><circle cx="293.5" cy="416.3" r="1.55"/><circle cx="402.2" cy="354.2" r="1.55"/><circle cx="514.8" cy="186.7" r="1.55"/><circle cx="475.9" cy="251.6" r="1.55"/><circle cx="321.1" cy="407.5" r="1.55"/><circle cx="311" cy="402.9" r="1.55"/><circle cx="491.1" cy="217" r="1.55"/><circle cx="571.8" cy="145.8" r="1.55"/><circle cx="282.1" cy="427.8" r="1.55"/><circle cx="543.3" cy="180.2" r="1.55"/><circle cx="362.8" cy="366.2" r="1.55"/><circle cx="516.3" cy="197.5" r="1.55"/><circle cx="374.6" cy="335.7" r="1.55"/><circle cx="555.1" cy="163.4" r="1.55"/><circle cx="570.9" cy="146.6" r="1.55"/><circle cx="530.6" cy="184.7" r="1.55"/><circle cx="404.7" cy="320.2" r="1.55"/><circle cx="476.4" cy="232.9" r="1.55"/><circle cx="474.2" cy="238.6" r="1.55"/><circle cx="365.4" cy="364.6" r="1.55"/><circle cx="451.8" cy="252.3" r="1.55"/><circle cx="561.7" cy="160.1" r="1.55"/><circle cx="406.6" cy="287.7" r="1.55"/><circle cx="443.3" cy="284.4" r="1.55"/><circle cx="380.7" cy="356" r="1.55"/><circle cx="470" cy="239.7" r="1.55"/><circle cx="413.2" cy="310.2" r="1.55"/><circle cx="424.6" cy="291.2" r="1.55"/><circle cx="458.2" cy="271.3" r="1.55"/><circle cx="376.8" cy="297.4" r="1.55"/><circle cx="363.6" cy="353.6" r="1.55"/><circle cx="525.3" cy="194" r="1.55"/><circle cx="354.6" cy="388.3" r="1.55"/><circle cx="377.2" cy="328.6" r="1.55"/><circle cx="545.2" cy="172.9" r="1.55"/><circle cx="442.6" cy="275.5" r="1.55"/><circle cx="410.8" cy="300.3" r="1.55"/><circle cx="349.8" cy="375.2" r="1.55"/><circle cx="447.9" cy="263.2" r="1.55"/><circle cx="438.7" cy="291" r="1.55"/><circle cx="452" cy="249.9" r="1.55"/><circle cx="373.5" cy="335.9" r="1.55"/><circle cx="403.1" cy="308.2" r="1.55"/><circle cx="560.8" cy="155.3" r="1.55"/><circle cx="545.7" cy="168.5" r="1.55"/><circle cx="528.1" cy="192.8" r="1.55"/><circle cx="350.2" cy="361.3" r="1.55"/><circle cx="366.7" cy="349.4" r="1.55"/><circle cx="552.5" cy="167.7" r="1.55"/><circle cx="476.8" cy="241.5" r="1.55"/><circle cx="410.3" cy="305.1" r="1.55"/><circle cx="488.9" cy="228" r="1.55"/><circle cx="349" cy="344.7" r="1.55"/><circle cx="394.4" cy="335" r="1.55"/><circle cx="478.6" cy="229.1" r="1.55"/><circle cx="534.1" cy="186" r="1.55"/><circle cx="460.8" cy="254.7" r="1.55"/><circle cx="409.3" cy="316.4" r="1.55"/><circle cx="427.9" cy="286.1" r="1.55"/><circle cx="530.3" cy="175.8" r="1.55"/><circle cx="425" cy="282.6" r="1.55"/><circle cx="390.6" cy="315.8" r="1.55"/><circle cx="358.4" cy="359.8" r="1.55"/><circle cx="382.9" cy="322.6" r="1.55"/><circle cx="326.8" cy="383.8" r="1.55"/><circle cx="412.1" cy="291.9" r="1.55"/><circle cx="323" cy="403.3" r="1.55"/><circle cx="358.6" cy="395.6" r="1.55"/><circle cx="350.9" cy="346.9" r="1.55"/><circle cx="450.3" cy="253.4" r="1.55"/><circle cx="528.6" cy="212.5" r="1.55"/><circle cx="456.4" cy="253.6" r="1.55"/><circle cx="347.4" cy="372.1" r="1.55"/><circle cx="363.2" cy="356.4" r="1.55"/><circle cx="544.2" cy="174.5" r="1.55"/><circle cx="315.4" cy="371.3" r="1.55"/><circle cx="521.4" cy="194.8" r="1.55"/><circle cx="416.1" cy="300.5" r="1.55"/><circle cx="334.5" cy="383.2" r="1.55"/><circle cx="461.3" cy="258.3" r="1.55"/><circle cx="343.4" cy="334.5" r="1.55"/><circle cx="459.1" cy="284.2" r="1.55"/><circle cx="482.5" cy="246.4" r="1.55"/><circle cx="439.8" cy="289.2" r="1.55"/><circle cx="326.4" cy="375" r="1.55"/><circle cx="513" cy="218.1" r="1.55"/><circle cx="478.4" cy="224.9" r="1.55"/><circle cx="465.6" cy="240.2" r="1.55"/><circle cx="492.4" cy="225.8" r="1.55"/><circle cx="399.2" cy="329.9" r="1.55"/><circle cx="474.4" cy="263.8" r="1.55"/><circle cx="389.1" cy="343.2" r="1.55"/><circle cx="317.6" cy="392.9" r="1.55"/><circle cx="535.6" cy="177.2" r="1.55"/><circle cx="561.9" cy="149.3" r="1.55"/><circle cx="338.2" cy="367.3" r="1.55"/><circle cx="410.4" cy="289.9" r="1.55"/><circle cx="401.4" cy="304.5" r="1.55"/><circle cx="518.9" cy="184" r="1.55"/><circle cx="539.3" cy="176" r="1.55"/><circle cx="539.1" cy="171.6" r="1.55"/><circle cx="309.9" cy="408.2" r="1.55"/><circle cx="504.2" cy="201.3" r="1.55"/><circle cx="280.3" cy="427.6" r="1.55"/><circle cx="533.6" cy="186.2" r="1.55"/><circle cx="339.5" cy="379.2" r="1.55"/><circle cx="391.1" cy="341.2" r="1.55"/><circle cx="336.4" cy="358.4" r="1.55"/><circle cx="499.4" cy="219.6" r="1.55"/><circle cx="387.1" cy="362.8" r="1.55"/><circle cx="522.7" cy="191.5" r="1.55"/><circle cx="476.6" cy="231.7" r="1.55"/><circle cx="478.3" cy="230.6" r="1.55"/><circle cx="403.5" cy="286.3" r="1.55"/><circle cx="475.7" cy="236.8" r="1.55"/><circle cx="425.9" cy="269.3" r="1.55"/><circle cx="358.8" cy="394.9" r="1.55"/><circle cx="373.7" cy="361.9" r="1.55"/><circle cx="364.7" cy="390.3" r="1.55"/><circle cx="311.4" cy="397.6" r="1.55"/><circle cx="550.5" cy="166.1" r="1.55"/><circle cx="521.8" cy="196.2" r="1.55"/><circle cx="449.6" cy="276.2" r="1.55"/><circle cx="505.1" cy="213.4" r="1.55"/><circle cx="529" cy="181.3" r="1.55"/><circle cx="436.5" cy="270.9" r="1.55"/><circle cx="364.3" cy="325.1" r="1.55"/><circle cx="451.4" cy="264.3" r="1.55"/><circle cx="334" cy="392.7" r="1.55"/><circle cx="341.5" cy="354.9" r="1.55"/><circle cx="504.9" cy="203.9" r="1.55"/><circle cx="409.7" cy="327.3" r="1.55"/><circle cx="473.5" cy="257.6" r="1.55"/><circle cx="377" cy="316.6" r="1.55"/><circle cx="495.5" cy="230.2" r="1.55"/><circle cx="385.4" cy="323.9" r="1.55"/><circle cx="564.8" cy="149.5" r="1.55"/><circle cx="329.9" cy="398" r="1.55"/><circle cx="499.6" cy="216.1" r="1.55"/><circle cx="471.8" cy="221.8" r="1.55"/><circle cx="561.5" cy="159.3" r="1.55"/><circle cx="382.5" cy="304.3" r="1.55"/><circle cx="370.4" cy="332.3" r="1.55"/><circle cx="351.6" cy="393.6" r="1.55"/><circle cx="485.4" cy="259" r="1.55"/><circle cx="407.9" cy="310" r="1.55"/><circle cx="453.8" cy="266.9" r="1.55"/><circle cx="508.6" cy="228.4" r="1.55"/><circle cx="455.5" cy="268" r="1.55"/><circle cx="474.6" cy="223.3" r="1.55"/><circle cx="308.1" cy="381.8" r="1.55"/><circle cx="552" cy="164.8" r="1.55"/><circle cx="447.6" cy="249" r="1.55"/><circle cx="504.7" cy="210.5" r="1.55"/><circle cx="505.6" cy="232.4" r="1.55"/><circle cx="412.3" cy="311.1" r="1.55"/><circle cx="509.1" cy="200.4" r="1.55"/><circle cx="432.5" cy="270.2" r="1.55"/><circle cx="406.4" cy="306" r="1.55"/><circle cx="367.4" cy="338.5" r="1.55"/><circle cx="465" cy="260.1" r="1.55"/><circle cx="405.7" cy="296.8" r="1.55"/><circle cx="306" cy="386.9" r="1.55"/><circle cx="315.2" cy="387.2" r="1.55"/><circle cx="452.5" cy="266.7" r="1.55"/><circle cx="465.9" cy="247.4" r="1.55"/><circle cx="459.5" cy="258.5" r="1.55"/><circle cx="329.8" cy="385.8" r="1.55"/><circle cx="325" cy="382.3" r="1.55"/><circle cx="305.9" cy="407.9" r="1.55"/><circle cx="520.2" cy="202.3" r="1.55"/><circle cx="469.3" cy="238" r="1.55"/><circle cx="489.1" cy="225.4" r="1.55"/><circle cx="393.2" cy="320" r="1.55"/><circle cx="493.3" cy="238.2" r="1.55"/><circle cx="431.6" cy="286.4" r="1.55"/><circle cx="344.1" cy="366.8" r="1.55"/><circle cx="467.4" cy="270.5" r="1.55"/><circle cx="325.9" cy="344.5" r="1.55"/><circle cx="347" cy="374.5" r="1.55"/><circle cx="479.9" cy="245.3" r="1.55"/><circle cx="512.4" cy="198.8" r="1.55"/><circle cx="360.8" cy="373.2" r="1.55"/><circle cx="468.5" cy="253" r="1.55"/><circle cx="494.1" cy="223.4" r="1.55"/><circle cx="370.7" cy="362.4" r="1.55"/><circle cx="473.8" cy="234.9" r="1.55"/><circle cx="543.9" cy="178.3" r="1.55"/><circle cx="570.2" cy="147.7" r="1.55"/><circle cx="541.3" cy="180.7" r="1.55"/><circle cx="462.5" cy="262.1" r="1.55"/><circle cx="502.3" cy="219.4" r="1.55"/><circle cx="498.5" cy="224.7" r="1.55"/><circle cx="480.8" cy="228.2" r="1.55"/><circle cx="559.3" cy="156.8" r="1.55"/><circle cx="480.3" cy="239" r="1.55"/><circle cx="338.6" cy="378.5" r="1.55"/><circle cx="344.3" cy="376.3" r="1.55"/><circle cx="420.5" cy="294.3" r="1.55"/><circle cx="300.9" cy="405.3" r="1.55"/><circle cx="327.7" cy="376.8" r="1.55"/><circle cx="437.8" cy="271.5" r="1.55"/><circle cx="549.8" cy="164.1" r="1.55"/><circle cx="352" cy="391.4" r="1.55"/><circle cx="327.2" cy="407.1" r="1.55"/><circle cx="423.5" cy="299.6" r="1.55"/><circle cx="312.1" cy="396.7" r="1.55"/><circle cx="397.2" cy="326.1" r="1.55"/><circle cx="467.8" cy="247.2" r="1.55"/><circle cx="493.9" cy="227.8" r="1.55"/><circle cx="535.2" cy="187.1" r="1.55"/><circle cx="491.7" cy="213.9" r="1.55"/><circle cx="374.4" cy="333.7" r="1.55"/><circle cx="400.3" cy="302.5" r="1.55"/><circle cx="497.6" cy="215.2" r="1.55"/><circle cx="382.3" cy="323.5" r="1.55"/><circle cx="351.8" cy="352.7" r="1.55"/><circle cx="402.3" cy="291.5" r="1.55"/><circle cx="516.7" cy="199.7" r="1.55"/><circle cx="537.3" cy="176.7" r="1.55"/><circle cx="348.7" cy="352" r="1.55"/><circle cx="521.6" cy="186.4" r="1.55"/><circle cx="529.4" cy="187.5" r="1.55"/><circle cx="463.2" cy="251" r="1.55"/><circle cx="408.2" cy="300.1" r="1.55"/><circle cx="437.6" cy="292.1" r="1.55"/><circle cx="440.2" cy="280.6" r="1.55"/><circle cx="416.7" cy="307.1" r="1.55"/><circle cx="472.7" cy="258.7" r="1.55"/><circle cx="542.6" cy="170.5" r="1.55"/><circle cx="503.8" cy="214.7" r="1.55"/><circle cx="453.1" cy="258.9" r="1.55"/><circle cx="559.7" cy="153.5" r="1.55"/><circle cx="357" cy="327.9" r="1.55"/><circle cx="434.1" cy="290.3" r="1.55"/><circle cx="338.4" cy="399.1" r="1.55"/><circle cx="486.7" cy="237.5" r="1.55"/><circle cx="340.6" cy="379.6" r="1.55"/><circle cx="343" cy="365.9" r="1.55"/><circle cx="318.5" cy="379" r="1.55"/><circle cx="421.8" cy="300.9" r="1.55"/><circle cx="460.2" cy="242.4" r="1.55"/><circle cx="320.7" cy="344.9" r="1.55"/><circle cx="438.2" cy="271.1" r="1.55"/><circle cx="464.8" cy="262" r="1.55"/><circle cx="342.1" cy="346.7" r="1.55"/><circle cx="348.9" cy="343.4" r="1.55"/><circle cx="461" cy="266.5" r="1.55"/><circle cx="310.1" cy="408.6" r="1.55"/><circle cx="436.7" cy="255.6" r="1.55"/><circle cx="526.6" cy="181.6" r="1.55"/><circle cx="542.2" cy="177.1" r="1.55"/><circle cx="418.7" cy="288.1" r="1.55"/><circle cx="413" cy="317.7" r="1.55"/><circle cx="529.2" cy="188" r="1.55"/><circle cx="483.6" cy="242.8" r="1.55"/><circle cx="540" cy="175.2" r="1.55"/><circle cx="454.5" cy="250.3" r="1.55"/><circle cx="455.8" cy="243" r="1.55"/><circle cx="431.8" cy="268.4" r="1.55"/><circle cx="545.5" cy="161.9" r="1.55"/><circle cx="320" cy="404.4" r="1.55"/><circle cx="539.5" cy="175" r="1.55"/><circle cx="427.3" cy="296.7" r="1.55"/><circle cx="431.2" cy="279.3" r="1.55"/><circle cx="441.7" cy="278" r="1.55"/><circle cx="430.5" cy="282.8" r="1.55"/><circle cx="503.4" cy="216.5" r="1.55"/><circle cx="412.5" cy="295.6" r="1.55"/><circle cx="571.4" cy="145.1" r="1.55"/><circle cx="465.4" cy="249.7" r="1.55"/><circle cx="538" cy="175.4" r="1.55"/><circle cx="432.9" cy="271.6" r="1.55"/><circle cx="473.1" cy="244.6" r="1.55"/><circle cx="524.9" cy="179.6" r="1.55"/><circle cx="333.8" cy="389.8" r="1.55"/><circle cx="565.9" cy="150.6" r="1.55"/><circle cx="489.3" cy="222" r="1.55"/><circle cx="451.1" cy="254.3" r="1.55"/><circle cx="543.5" cy="184.2" r="1.55"/><circle cx="399.8" cy="326.6" r="1.55"/><circle cx="423.7" cy="274.4" r="1.55"/><circle cx="361.4" cy="374.3" r="1.55"/><circle cx="460.4" cy="242.6" r="1.55"/><circle cx="531.2" cy="181.4" r="1.55"/><circle cx="350.3" cy="404" r="1.55"/><circle cx="409.5" cy="293.2" r="1.55"/><circle cx="530.8" cy="193.7" r="1.55"/><circle cx="507.5" cy="207.2" r="1.55"/><circle cx="411.2" cy="302.9" r="1.55"/><circle cx="381" cy="326.2" r="1.55"/><circle cx="378.6" cy="312.4" r="1.55"/><circle cx="553.8" cy="162.3" r="1.55"/><circle cx="302.4" cy="420.1" r="1.55"/><circle cx="477.9" cy="243.9" r="1.55"/><circle cx="434.3" cy="287.2" r="1.55"/><circle cx="507.7" cy="213.8" r="1.55"/><circle cx="345.7" cy="392.2" r="1.55"/><circle cx="422" cy="306.2" r="1.55"/><circle cx="501.8" cy="224" r="1.55"/><circle cx="526" cy="192.9" r="1.55"/><circle cx="566.7" cy="150.4" r="1.55"/><circle cx="296.5" cy="411.7" r="1.55"/><circle cx="401.1" cy="293.9" r="1.55"/><circle cx="381.6" cy="355.1" r="1.55"/><circle cx="549.4" cy="166.8" r="1.55"/><circle cx="352.9" cy="350.3" r="1.55"/><circle cx="364.5" cy="383.4" r="1.55"/><circle cx="450.9" cy="273.1" r="1.55"/><circle cx="335.4" cy="385.2" r="1.55"/><circle cx="432.3" cy="294.8" r="1.55"/><circle cx="361.7" cy="347.8" r="1.55"/><circle cx="324.4" cy="400" r="1.55"/><circle cx="372.9" cy="337.6" r="1.55"/><circle cx="328.1" cy="404.2" r="1.55"/><circle cx="530.5" cy="193.3" r="1.55"/><circle cx="355.8" cy="355.6" r="1.55"/><circle cx="385.3" cy="320.6" r="1.55"/><circle cx="333.1" cy="377.4" r="1.55"/><circle cx="551.2" cy="165.9" r="1.55"/><circle cx="344.6" cy="381.9" r="1.55"/><circle cx="568.5" cy="150.2" r="1.55"/><circle cx="397.8" cy="288.3" r="1.55"/><circle cx="416" cy="289.5" r="1.55"/><circle cx="375.7" cy="370.6" r="1.55"/><circle cx="398.9" cy="310.5" r="1.55"/><circle cx="305.5" cy="395.5" r="1.55"/><circle cx="420.2" cy="301.2" r="1.55"/><circle cx="393.3" cy="343" r="1.55"/><circle cx="322.2" cy="393.3" r="1.55"/><circle cx="420.7" cy="290.5" r="1.55"/><circle cx="345.6" cy="352.9" r="1.55"/><circle cx="372" cy="349.6" r="1.55"/><circle cx="506" cy="205.9" r="1.55"/><circle cx="445.5" cy="264" r="1.55"/><circle cx="531" cy="186.5" r="1.55"/><circle cx="557.8" cy="163.2" r="1.55"/><circle cx="538.7" cy="182.2" r="1.55"/><circle cx="473.7" cy="252.1" r="1.55"/><circle cx="447.4" cy="285.7" r="1.55"/><circle cx="554.2" cy="163.9" r="1.55"/><circle cx="376.4" cy="347.2" r="1.55"/><circle cx="318.2" cy="377" r="1.55"/><circle cx="317.8" cy="394.7" r="1.55"/><circle cx="418" cy="321.9" r="1.55"/><circle cx="559.9" cy="153.3" r="1.55"/><circle cx="273.5" cy="435.8" r="1.55"/><circle cx="401.8" cy="313.8" r="1.55"/><circle cx="489.5" cy="233.5" r="1.55"/><circle cx="466.5" cy="239.5" r="1.55"/><circle cx="524.8" cy="185.5" r="1.55"/><circle cx="311.6" cy="360" r="1.55"/><circle cx="335.3" cy="389.4" r="1.55"/><circle cx="470.2" cy="244.8" r="1.55"/><circle cx="556.2" cy="159.5" r="1.55"/><circle cx="340.8" cy="381.6" r="1.55"/><circle cx="377.4" cy="328.3" r="1.55"/><circle cx="414.3" cy="297.6" r="1.55"/><circle cx="519.1" cy="194.6" r="1.55"/><circle cx="383.2" cy="352.5" r="1.55"/><circle cx="300.5" cy="410.2" r="1.55"/><circle cx="330.7" cy="306.7" r="1.55"/><circle cx="477.7" cy="247" r="1.55"/><circle cx="452.9" cy="265.1" r="1.55"/><circle cx="411.4" cy="295" r="1.55"/><circle cx="567.4" cy="147.8" r="1.55"/><circle cx="368.3" cy="345.4" r="1.55"/><circle cx="320.2" cy="409.9" r="1.55"/><circle cx="383.6" cy="322.8" r="1.55"/><circle cx="316.5" cy="391.8" r="1.55"/><circle cx="288.9" cy="418.3" r="1.55"/><circle cx="562.1" cy="156.4" r="1.55"/><circle cx="511" cy="209.4" r="1.55"/><circle cx="568.7" cy="148" r="1.55"/><circle cx="304.9" cy="413.7" r="1.55"/><circle cx="319.6" cy="380.8" r="1.55"/><circle cx="425.5" cy="275.7" r="1.55"/><circle cx="500.7" cy="218" r="1.55"/><circle cx="468" cy="234.2" r="1.55"/><circle cx="365" cy="348.5" r="1.55"/><circle cx="332.3" cy="384.1" r="1.55"/><circle cx="286.4" cy="431.1" r="1.55"/><circle cx="383.4" cy="377.9" r="1.55"/><circle cx="495.7" cy="214.5" r="1.55"/><circle cx="502" cy="212.8" r="1.55"/><circle cx="551" cy="174.9" r="1.55"/><circle cx="560.6" cy="154.6" r="1.55"/><circle cx="474" cy="243.3" r="1.55"/><circle cx="460.6" cy="241.3" r="1.55"/><circle cx="440.9" cy="264.9" r="1.55"/><circle cx="540.7" cy="168.8" r="1.55"/><circle cx="520.7" cy="196.4" r="1.55"/><circle cx="397.4" cy="328.4" r="1.55"/><circle cx="419.6" cy="301.8" r="1.55"/><circle cx="534.3" cy="193.5" r="1.55"/><circle cx="421.6" cy="300.7" r="1.55"/><circle cx="523.3" cy="203.5" r="1.55"/><circle cx="384" cy="336.8" r="1.55"/><circle cx="487.1" cy="218.3" r="1.55"/><circle cx="557.5" cy="160.8" r="1.55"/><circle cx="309.7" cy="387.6" r="1.55"/><circle cx="517" cy="198.4" r="1.55"/><circle cx="438.4" cy="260.9" r="1.55"/><circle cx="375" cy="312.7" r="1.55"/><circle cx="516.9" cy="207.7" r="1.55"/><circle cx="337.5" cy="387.1" r="1.55"/><circle cx="525.1" cy="184.4" r="1.55"/><circle cx="506.4" cy="237.3" r="1.55"/><circle cx="517.8" cy="191.7" r="1.55"/><circle cx="359.9" cy="353.8" r="1.55"/><circle cx="537.8" cy="178.1" r="1.55"/><circle cx="544.8" cy="166.6" r="1.55"/><circle cx="356.6" cy="372.3" r="1.55"/><circle cx="366" cy="334.3" r="1.55"/><circle cx="548.5" cy="169" r="1.55"/><circle cx="503.6" cy="215" r="1.55"/><circle cx="554.7" cy="160.3" r="1.55"/><circle cx="372.2" cy="380.1" r="1.55"/><circle cx="403.8" cy="298.1" r="1.55"/><circle cx="530.1" cy="185.6" r="1.55"/><circle cx="430.1" cy="274.2" r="1.55"/><circle cx="365.2" cy="348.7" r="1.55"/><circle cx="317.4" cy="378.8" r="1.55"/><circle cx="559.1" cy="157.1" r="1.55"/><circle cx="332.1" cy="368.1" r="1.55"/><circle cx="567.6" cy="146.7" r="1.55"/><circle cx="379.6" cy="332.8" r="1.55"/><circle cx="366.3" cy="355.3" r="1.55"/><circle cx="444.3" cy="266" r="1.55"/><circle cx="513.4" cy="212.7" r="1.55"/><circle cx="433.4" cy="299" r="1.55"/><circle cx="567.9" cy="151.5" r="1.55"/><circle cx="480.5" cy="221.6" r="1.55"/><circle cx="407.5" cy="317.1" r="1.55"/><circle cx="440" cy="278.4" r="1.55"/><circle cx="372.6" cy="324.4" r="1.55"/><circle cx="406.8" cy="330.8" r="1.55"/><circle cx="348.5" cy="369.7" r="1.55"/><circle cx="458.8" cy="252.7" r="1.55"/><circle cx="425.1" cy="297.9" r="1.55"/><circle cx="362.1" cy="345.1" r="1.55"/><circle cx="515.6" cy="208.8" r="1.55"/><circle cx="336.6" cy="373.5" r="1.55"/><circle cx="391" cy="304.9" r="1.55"/><circle cx="554.3" cy="162.1" r="1.55"/><circle cx="343.2" cy="367" r="1.55"/><circle cx="415.6" cy="289.7" r="1.55"/><circle cx="438" cy="288.8" r="1.55"/><circle cx="490.4" cy="235.7" r="1.55"/><circle cx="566.8" cy="148.4" r="1.55"/><circle cx="469.8" cy="238.4" r="1.55"/><circle cx="546.3" cy="177.4" r="1.55"/><circle cx="471.6" cy="244.3" r="1.55"/><circle cx="534.9" cy="181.8" r="1.55"/><circle cx="542.4" cy="166.3" r="1.55"/><circle cx="313.2" cy="414.6" r="1.55"/><circle cx="513.7" cy="199" r="1.55"/><circle cx="330.1" cy="364.4" r="1.55"/><circle cx="392.4" cy="327.2" r="1.55"/><circle cx="536.7" cy="182.9" r="1.55"/><circle cx="366.5" cy="364.8" r="1.55"/><circle cx="541.1" cy="172.5" r="1.55"/><circle cx="452.2" cy="229.3" r="1.55"/><circle cx="532.5" cy="191.8" r="1.55"/><circle cx="430.7" cy="277.3" r="1.55"/><circle cx="313.4" cy="356.6" r="1.55"/><circle cx="465.2" cy="260.5" r="1.55"/><circle cx="425.3" cy="325.5" r="1.55"/><circle cx="502.7" cy="206.3" r="1.55"/><circle cx="479" cy="220.3" r="1.55"/><circle cx="417.6" cy="280.4" r="1.55"/><circle cx="470.9" cy="241.1" r="1.55"/><circle cx="472.9" cy="248.3" r="1.55"/><circle cx="327.4" cy="406.4" r="1.55"/><circle cx="568.1" cy="150.9" r="1.55"/><circle cx="506.2" cy="202.8" r="1.55"/><circle cx="466.7" cy="229.8" r="1.55"/><circle cx="504" cy="208.3" r="1.55"/><circle cx="491.3" cy="226.9" r="1.55"/><circle cx="300.7" cy="412.6" r="1.55"/><circle cx="495.3" cy="220.1" r="1.55"/><circle cx="422.6" cy="298.9" r="1.55"/><circle cx="389.7" cy="320.8" r="1.55"/><circle cx="434.7" cy="298.3" r="1.55"/><circle cx="421.1" cy="299.2" r="1.55"/><circle cx="468.9" cy="236.2" r="1.55"/><circle cx="418.5" cy="282.1" r="1.55"/><circle cx="346.1" cy="357.5" r="1.55"/><circle cx="318" cy="371" r="1.55"/><circle cx="500.9" cy="209.6" r="1.55"/><circle cx="356" cy="372.8" r="1.55"/><circle cx="435.2" cy="285.5" r="1.55"/><circle cx="498.3" cy="221.1" r="1.55"/><circle cx="493.7" cy="231.8" r="1.55"/><circle cx="529.5" cy="183.4" r="1.55"/><circle cx="314.9" cy="412.1" r="1.55"/><circle cx="521.3" cy="204.6" r="1.55"/><circle cx="400" cy="321.1" r="1.55"/><circle cx="352.5" cy="337.7" r="1.55"/><circle cx="448.1" cy="267.1" r="1.55"/><circle cx="348.1" cy="346.1" r="1.55"/><circle cx="421.5" cy="286.6" r="1.55"/><circle cx="482.3" cy="237.9" r="1.55"/><circle cx="491.9" cy="217.8" r="1.55"/><circle cx="377.9" cy="339" r="1.55"/><circle cx="371.3" cy="340.3" r="1.55"/><circle cx="560.2" cy="158.1" r="1.55"/><circle cx="455.7" cy="265.3" r="1.55"/><circle cx="428.1" cy="297.2" r="1.55"/><circle cx="341.7" cy="350" r="1.55"/><circle cx="406" cy="312" r="1.55"/><circle cx="532.8" cy="186.9" r="1.55"/><circle cx="368" cy="331" r="1.55"/><circle cx="379" cy="307.3" r="1.55"/><circle cx="393.5" cy="340.7" r="1.55"/><circle cx="534.7" cy="180.9" r="1.55"/><circle cx="422.4" cy="292.5" r="1.55"/><circle cx="347.2" cy="382.9" r="1.55"/><circle cx="522.2" cy="189.7" r="1.55"/><circle cx="375.9" cy="347.4" r="1.55"/><circle cx="386" cy="308.9" r="1.55"/><circle cx="276.8" cy="435.6" r="1.55"/><circle cx="547" cy="167.4" r="1.55"/><circle cx="506.9" cy="206.1" r="1.55"/><circle cx="289.7" cy="424.9" r="1.55"/><circle cx="359" cy="342.5" r="1.55"/><circle cx="359.3" cy="340.9" r="1.55"/><circle cx="457.5" cy="276.4" r="1.55"/><circle cx="338" cy="360.6" r="1.55"/><circle cx="377.7" cy="345.6" r="1.55"/><circle cx="303.5" cy="352.4" r="1.55"/><circle cx="380.5" cy="361.5" r="1.55"/><circle cx="551.8" cy="168.1" r="1.55"/><circle cx="559.5" cy="156.2" r="1.55"/><circle cx="371.8" cy="342.9" r="1.55"/><circle cx="570.3" cy="146.4" r="1.55"/><circle cx="566.5" cy="157.3" r="1.55"/><circle cx="477.2" cy="250.6" r="1.55"/><circle cx="392.1" cy="333.2" r="1.55"/><circle cx="431.4" cy="287.5" r="1.55"/><circle cx="368.5" cy="372.4" r="1.55"/><circle cx="478.1" cy="235.9" r="1.55"/><circle cx="541.8" cy="185.1" r="1.55"/><circle cx="447.2" cy="283" r="1.55"/><circle cx="482.1" cy="235.1" r="1.55"/><circle cx="558" cy="154.4" r="1.55"/><circle cx="545.9" cy="171.8" r="1.55"/><circle cx="357.5" cy="375.4" r="1.55"/><circle cx="539.8" cy="174.7" r="1.55"/><circle cx="290.8" cy="413.5" r="1.55"/><circle cx="477.5" cy="256.5" r="1.55"/><circle cx="319.1" cy="361.1" r="1.55"/><circle cx="346.3" cy="348.9" r="1.55"/><circle cx="408.4" cy="290.6" r="1.55"/><circle cx="347.8" cy="371.2" r="1.55"/><circle cx="514.1" cy="194.2" r="1.55"/><circle cx="533.4" cy="182.7" r="1.55"/><circle cx="379.2" cy="342.7" r="1.55"/><circle cx="329.2" cy="369.3" r="1.55"/><circle cx="393" cy="304" r="1.55"/><circle cx="294.5" cy="416.5" r="1.55"/><circle cx="399.4" cy="390.9" r="1.55"/><circle cx="308.2" cy="405.9" r="1.55"/><circle cx="510.1" cy="198.6" r="1.55"/><circle cx="527.3" cy="197.7" r="1.55"/><circle cx="478.8" cy="241.7" r="1.55"/><circle cx="392.6" cy="318" r="1.55"/><circle cx="446.8" cy="269.8" r="1.55"/><circle cx="394.8" cy="329.5" r="1.55"/><circle cx="444.6" cy="255.8" r="1.55"/><circle cx="468.1" cy="256.7" r="1.55"/><circle cx="369.3" cy="318.2" r="1.55"/><circle cx="390.4" cy="325.7" r="1.55"/><circle cx="352.7" cy="359.7" r="1.55"/><circle cx="446.3" cy="269.1" r="1.55"/><circle cx="472" cy="247.7" r="1.55"/><circle cx="537.1" cy="178" r="1.55"/><circle cx="563" cy="156.1" r="1.55"/><circle cx="414.5" cy="408.4" r="1.55"/><circle cx="549.2" cy="180" r="1.55"/><circle cx="419.3" cy="291.7" r="1.55"/><circle cx="515.4" cy="203" r="1.55"/><circle cx="400.1" cy="333.9" r="1.55"/><circle cx="457.3" cy="264.5" r="1.55"/><circle cx="507.1" cy="208.5" r="1.55"/><circle cx="464.5" cy="241" r="1.55"/><circle cx="332.5" cy="397.5" r="1.55"/><circle cx="395.9" cy="354" r="1.55"/><circle cx="459" cy="252.8" r="1.55"/><circle cx="340" cy="371.9" r="1.55"/><circle cx="523.1" cy="189.5" r="1.55"/><circle cx="561.3" cy="152" r="1.55"/><circle cx="354" cy="333.5" r="1.55"/><circle cx="523.5" cy="195.7" r="1.55"/><circle cx="410.6" cy="319.3" r="1.55"/><circle cx="437.5" cy="272.2" r="1.55"/><circle cx="533.9" cy="178.7" r="1.55"/><circle cx="510.4" cy="211.7" r="1.55"/><circle cx="332.7" cy="384.7" r="1.55"/><circle cx="407.3" cy="310.9" r="1.55"/><circle cx="456.9" cy="242.1" r="1.55"/><circle cx="313.9" cy="404.8" r="1.55"/><circle cx="548.3" cy="169.7" r="1.55"/><circle cx="536.2" cy="173.6" r="1.55"/><circle cx="461.2" cy="248.8" r="1.55"/><circle cx="513.2" cy="199.9" r="1.55"/><circle cx="509.5" cy="204.3" r="1.55"/><circle cx="310.8" cy="373.4" r="1.55"/><circle cx="510.8" cy="199.1" r="1.55"/><circle cx="449.8" cy="257.4" r="1.55"/><circle cx="562.6" cy="151.7" r="1.55"/><circle cx="356.2" cy="325.3" r="1.55"/><circle cx="543.7" cy="168.7" r="1.55"/><circle cx="532.3" cy="177.6" r="1.55"/><circle cx="488.4" cy="239.3" r="1.55"/><circle cx="307.3" cy="392.5" r="1.55"/><circle cx="522.4" cy="197.3" r="1.55"/><circle cx="442.4" cy="257.2" r="1.55"/><circle cx="514.5" cy="205.2" r="1.55"/><circle cx="563.7" cy="158.2" r="1.55"/><circle cx="293.2" cy="430.7" r="1.55"/><circle cx="402.9" cy="318.9" r="1.55"/><circle cx="475.5" cy="246.6" r="1.55"/><circle cx="552.9" cy="162.4" r="1.55"/><circle cx="405.8" cy="318.8" r="1.55"/><circle cx="546.6" cy="165.2" r="1.55"/><circle cx="518.7" cy="190.7" r="1.55"/><circle cx="524.6" cy="195.3" r="1.55"/><circle cx="557.7" cy="157.5" r="1.55"/><circle cx="325.7" cy="368.8" r="1.55"/><circle cx="408.6" cy="377.7" r="1.55"/><circle cx="327" cy="358.9" r="1.55"/><circle cx="359.5" cy="339.6" r="1.55"/><circle cx="526.8" cy="191.3" r="1.55"/><circle cx="521.1" cy="198.2" r="1.55"/><circle cx="375.5" cy="334.6" r="1.55"/><circle cx="387.5" cy="348.2" r="1.55"/><circle cx="467" cy="245.5" r="1.55"/><circle cx="467.2" cy="270" r="1.55"/><circle cx="432.1" cy="291.4" r="1.55"/><circle cx="427.2" cy="311.8" r="1.55"/><circle cx="388.7" cy="331.7" r="1.55"/><circle cx="404" cy="325.9" r="1.55"/><circle cx="572.5" cy="144.2" r="1.55"/><circle cx="555.3" cy="157" r="1.55"/><circle cx="418.2" cy="358.2" r="1.55"/><circle cx="518" cy="197.1" r="1.55"/><circle cx="546.8" cy="161" r="1.55"/><circle cx="358.1" cy="347.1" r="1.55"/><circle cx="464.7" cy="243.5" r="1.55"/><circle cx="371.7" cy="351.4" r="1.55"/><circle cx="369.5" cy="382.5" r="1.55"/><circle cx="540.4" cy="173" r="1.55"/><circle cx="374.8" cy="282.2" r="1.55"/><circle cx="441.1" cy="270.4" r="1.55"/><circle cx="561" cy="155.9" r="1.55"/><circle cx="565.4" cy="153.1" r="1.55"/><circle cx="440.4" cy="281.5" r="1.55"/><circle cx="454" cy="261.1" r="1.55"/><circle cx="465.8" cy="253.2" r="1.55"/><circle cx="463.4" cy="263.6" r="1.55"/><circle cx="439.3" cy="272" r="1.55"/><circle cx="505.3" cy="206.8" r="1.55"/><circle cx="484.3" cy="255" r="1.55"/><circle cx="402.5" cy="314.7" r="1.55"/><circle cx="461.5" cy="244.4" r="1.55"/><circle cx="569.4" cy="148.6" r="1.55"/><circle cx="434.9" cy="275.8" r="1.55"/><circle cx="333.2" cy="407" r="1.55"/><circle cx="563.9" cy="147.1" r="1.55"/><circle cx="467.6" cy="257" r="1.55"/><circle cx="346.7" cy="366.4" r="1.55"/><circle cx="509.7" cy="204.4" r="1.55"/><circle cx="339.9" cy="363.9" r="1.55"/><circle cx="485.6" cy="227.5" r="1.55"/><circle cx="538.9" cy="184.5" r="1.55"/><circle cx="552.1" cy="162.6" r="1.55"/><circle cx="429.2" cy="283.1" r="1.55"/><circle cx="332.9" cy="390.7" r="1.55"/><circle cx="468.7" cy="248.6" r="1.55"/><circle cx="493.1" cy="224.5" r="1.55"/><circle cx="532.7" cy="182" r="1.55"/><circle cx="517.2" cy="211.6" r="1.55"/><circle cx="373.3" cy="330.1" r="1.55"/><circle cx="324.6" cy="365" r="1.55"/><circle cx="380.8" cy="344.1" r="1.55"/><circle cx="503.3" cy="214.9" r="1.55"/><circle cx="531.6" cy="188.4" r="1.55"/><circle cx="308.8" cy="401.8" r="1.55"/><circle cx="472.4" cy="250.5" r="1.55"/><circle cx="452.3" cy="249.4" r="1.55"/><circle cx="444.4" cy="263.4" r="1.55"/><circle cx="541.7" cy="170.7" r="1.55"/><circle cx="556.9" cy="161.3" r="1.55"/><circle cx="407.7" cy="307.8" r="1.55"/><circle cx="419.8" cy="327" r="1.55"/><circle cx="454.4" cy="259.6" r="1.55"/><circle cx="327.9" cy="411.3" r="1.55"/><circle cx="362.5" cy="373" r="1.55"/><circle cx="418.9" cy="316.2" r="1.55"/><circle cx="512.8" cy="209.7" r="1.55"/><circle cx="315.8" cy="380.5" r="1.55"/><circle cx="486.5" cy="231.1" r="1.55"/><circle cx="313" cy="376.6" r="1.55"/><circle cx="547.4" cy="164.3" r="1.55"/><circle cx="558.6" cy="155" r="1.55"/><circle cx="486.3" cy="224.2" r="1.55"/><circle cx="405.3" cy="313.5" r="1.55"/><circle cx="425.7" cy="306.5" r="1.55"/><circle cx="424" cy="278.6" r="1.55"/><circle cx="466.3" cy="245.7" r="1.55"/><circle cx="487.4" cy="219.8" r="1.55"/><circle cx="443" cy="267.8" r="1.55"/><circle cx="361.9" cy="375.5" r="1.55"/><circle cx="406.2" cy="292.3" r="1.55"/><circle cx="395.5" cy="347.6" r="1.55"/><circle cx="374.2" cy="339.9" r="1.55"/><circle cx="561.1" cy="161.7" r="1.55"/><circle cx="452.7" cy="260.7" r="1.55"/><circle cx="429.6" cy="287" r="1.55"/><circle cx="359.2" cy="317.8" r="1.55"/><circle cx="354.7" cy="359.3" r="1.55"/><circle cx="502.9" cy="210.7" r="1.55"/><circle cx="370" cy="356.2" r="1.55"/><circle cx="390.2" cy="323" r="1.55"/><circle cx="476.1" cy="235.5" r="1.55"/><circle cx="433" cy="280.2" r="1.55"/><circle cx="360.4" cy="350.2" r="1.55"/><circle cx="434.5" cy="279.1" r="1.55"/><circle cx="360.1" cy="344" r="1.55"/><circle cx="462.6" cy="251.9" r="1.55"/><circle cx="550.7" cy="165.7" r="1.55"/><circle cx="489.7" cy="224.3" r="1.55"/><circle cx="436.9" cy="271.8" r="1.55"/><circle cx="385.8" cy="343.8" r="1.55"/><circle cx="484" cy="238.8" r="1.55"/><circle cx="448.5" cy="268.5" r="1.55"/><circle cx="396.7" cy="314.9" r="1.55"/><circle cx="374" cy="345.2" r="1.55"/><circle cx="564.5" cy="152.4" r="1.55"/><circle cx="433.8" cy="283.3" r="1.55"/><circle cx="342.6" cy="341.9" r="1.55"/><circle cx="502.1" cy="211.2" r="1.55"/><circle cx="333.4" cy="365.5" r="1.55"/><circle cx="461.7" cy="272.4" r="1.55"/><circle cx="414.8" cy="311.3" r="1.55"/><circle cx="333.6" cy="362.9" r="1.55"/><circle cx="359.7" cy="321.7" r="1.55"/><circle cx="429.7" cy="281.9" r="1.55"/><circle cx="360.6" cy="348.3" r="1.55"/><circle cx="405.5" cy="307.4" r="1.55"/><circle cx="274.6" cy="444.2" r="1.55"/><circle cx="443.9" cy="285" r="1.55"/><circle cx="494.6" cy="214.3" r="1.55"/><circle cx="498.1" cy="232.6" r="1.55"/><circle cx="442" cy="268.2" r="1.55"/><circle cx="427" cy="290.8" r="1.55"/><circle cx="416.5" cy="294.1" r="1.55"/><circle cx="411.7" cy="318.6" r="1.55"/><circle cx="487.6" cy="213.2" r="1.55"/><circle cx="535.4" cy="178.5" r="1.55"/><circle cx="517.4" cy="203.3" r="1.55"/><circle cx="483" cy="233.1" r="1.55"/><circle cx="487.8" cy="227.6" r="1.55"/><circle cx="386.9" cy="351.3" r="1.55"/><circle cx="372.8" cy="360.2" r="1.55"/><circle cx="395.7" cy="328.8" r="1.55"/><circle cx="353.5" cy="345.8" r="1.55"/><circle cx="408" cy="308.5" r="1.55"/><circle cx="469.6" cy="236.4" r="1.55"/><circle cx="316" cy="388.7" r="1.55"/><circle cx="560" cy="163" r="1.55"/><circle cx="490.8" cy="218.7" r="1.55"/><circle cx="496.5" cy="220" r="1.55"/><circle cx="294.3" cy="425" r="1.55"/><circle cx="438.9" cy="265.8" r="1.55"/><circle cx="411.9" cy="301" r="1.55"/><circle cx="378.1" cy="349.8" r="1.55"/><circle cx="404.6" cy="319.5" r="1.55"/><circle cx="362.7" cy="333" r="1.55"/><circle cx="435.4" cy="295.7" r="1.55"/><circle cx="508.4" cy="210.1" r="1.55"/><circle cx="533" cy="189.3" r="1.55"/><circle cx="390" cy="285.3" r="1.55"/><circle cx="555.5" cy="156.6" r="1.55"/><circle cx="431" cy="288.4" r="1.55"/><circle cx="474.8" cy="233.7" r="1.55"/><circle cx="461.9" cy="262.3" r="1.55"/><circle cx="563.5" cy="153.7" r="1.55"/><circle cx="488.7" cy="232.7" r="1.55"/><circle cx="416.9" cy="284.8" r="1.55"/><circle cx="340.4" cy="390.5" r="1.55"/><circle cx="345.9" cy="351.1" r="1.55"/><circle cx="541.5" cy="172.1" r="1.55"/><circle cx="498.7" cy="222.9" r="1.55"/><circle cx="446.5" cy="273.7" r="1.55"/><circle cx="546.1" cy="169.4" r="1.55"/><circle cx="402" cy="324.1" r="1.55"/><circle cx="396.1" cy="339.4" r="1.55"/><circle cx="291" cy="420.7" r="1.55"/><circle cx="572.4" cy="144" r="1.55"/><circle cx="497.2" cy="253.9" r="1.55"/><circle cx="462.8" cy="303.2" r="1.55"/><circle cx="497.9" cy="227.3" r="1.55"/><circle cx="435.8" cy="323.7" r="1.55"/><circle cx="547.2" cy="170.8" r="1.55"/><circle cx="555.8" cy="162.8" r="1.55"/><circle cx="382.1" cy="301.6" r="1.55"/><circle cx="460.1" cy="261.2" r="1.55"/><circle cx="396.5" cy="330.3" r="1.55"/><circle cx="448.3" cy="245.2" r="1.55"/><circle cx="357.3" cy="362.2" r="1.55"/><circle cx="442.2" cy="293" r="1.55"/><circle cx="391.9" cy="310.4" r="1.55"/><circle cx="527.1" cy="185.3" r="1.55"/><circle cx="430.3" cy="304.1" r="1.55"/><circle cx="335.6" cy="358.7" r="1.55"/><circle cx="488.5" cy="226.2" r="1.55"/><circle cx="367.8" cy="340.1" r="1.55"/><circle cx="522" cy="198.1" r="1.55"/><circle cx="389.9" cy="315.1" r="1.55"/><circle cx="288.4" cy="421.9" r="1.55"/><circle cx="482.9" cy="220.7" r="1.55"/><circle cx="484.7" cy="234" r="1.55"/><circle cx="463.6" cy="255.2" r="1.55"/><circle cx="451.2" cy="261.4" r="1.55"/><circle cx="527.7" cy="184.9" r="1.55"/><circle cx="439.1" cy="276.8" r="1.55"/><circle cx="379.7" cy="306.9" r="1.55"/><circle cx="377.5" cy="330.6" r="1.55"/><circle cx="298" cy="421" r="1.55"/><circle cx="546.4" cy="171.4" r="1.55"/><circle cx="479.5" cy="216.3" r="1.55"/><circle cx="331.6" cy="341.4" r="1.55"/><circle cx="426.6" cy="302.1" r="1.55"/><circle cx="564.3" cy="150.8" r="1.55"/><circle cx="479.4" cy="233.8" r="1.55"/><circle cx="520.3" cy="201" r="1.55"/><circle cx="565" cy="150" r="1.55"/><circle cx="450.1" cy="263.1" r="1.55"/><circle cx="336.7" cy="365.1" r="1.55"/><circle cx="443.7" cy="281.1" r="1.55"/><circle cx="301.6" cy="421.7" r="1.55"/><circle cx="499.8" cy="236" r="1.55"/><circle cx="531.4" cy="215.6" r="1.55"/><circle cx="314.5" cy="385.4" r="1.55"/><circle cx="357.7" cy="360.9" r="1.55"/><circle cx="306.6" cy="401.5" r="1.55"/><circle cx="354.2" cy="305.8" r="1.55"/><circle cx="370.6" cy="343.6" r="1.55"/><circle cx="371.5" cy="396.4" r="1.55"/><circle cx="294.1" cy="424.7" r="1.55"/><circle cx="551.4" cy="165.4" r="1.55"/><circle cx="383.1" cy="293.6" r="1.55"/><circle cx="457.9" cy="288.6" r="1.55"/><circle cx="558.9" cy="154.8" r="1.55"/><circle cx="535" cy="183.3" r="1.55"/><circle cx="412.8" cy="308" r="1.55"/><circle cx="536.3" cy="179.8" r="1.55"/><circle cx="449.4" cy="261.8" r="1.55"/><circle cx="566.3" cy="151.1" r="1.55"/><circle cx="427.7" cy="280" r="1.55"/><circle cx="323.3" cy="380.7" r="1.55"/><circle cx="413.6" cy="305.2" r="1.55"/><circle cx="429.9" cy="295.9" r="1.55"/><circle cx="342.8" cy="319.7" r="1.55"/><circle cx="381.2" cy="322.4" r="1.55"/><circle cx="400.9" cy="338.8" r="1.55"/><circle cx="434" cy="279.5" r="1.55"/><circle cx="552.3" cy="164.5" r="1.55"/><circle cx="415.2" cy="313.3" r="1.55"/><circle cx="533.2" cy="173.2" r="1.55"/><circle cx="302" cy="411" r="1.55"/><circle cx="401.6" cy="305.6" r="1.55"/><circle cx="567.8" cy="149.8" r="1.55"/><circle cx="361.2" cy="367.5" r="1.55"/><circle cx="500.5" cy="210.8" r="1.55"/><circle cx="393.7" cy="314.2" r="1.55"/><circle cx="484.5" cy="237.7" r="1.55"/><circle cx="329.4" cy="398.6" r="1.55"/><circle cx="445.4" cy="259.4" r="1.55"/><circle cx="331" cy="373.9" r="1.55"/><circle cx="351.3" cy="346.3" r="1.55"/><circle cx="475.1" cy="229.5" r="1.55"/><circle cx="485.1" cy="245.9" r="1.55"/><circle cx="384.7" cy="321.3" r="1.55"/><circle cx="321.8" cy="386.1" r="1.55"/><circle cx="376.6" cy="325" r="1.55"/><circle cx="558.4" cy="157.9" r="1.55"/><circle cx="549.6" cy="163.5" r="1.55"/><circle cx="485.8" cy="231.5" r="1.55"/><circle cx="458.4" cy="247.9" r="1.55"/><circle cx="504.4" cy="201.7" r="1.55"/><circle cx="562.8" cy="153.9" r="1.55"/><circle cx="423.9" cy="303.4" r="1.55"/><circle cx="415" cy="283.7" r="1.55"/><circle cx="327.5" cy="337.9" r="1.55"/><circle cx="352.4" cy="395.3" r="1.55"/><circle cx="343.9" cy="383" r="1.55"/><circle cx="376.1" cy="363.1" r="1.55"/><circle cx="544.6" cy="174.3" r="1.55"/><circle cx="482.7" cy="240.4" r="1.55"/><circle cx="409.9" cy="312.2" r="1.55"/><circle cx="474.9" cy="249.5" r="1.55"/><circle cx="556.4" cy="158.8" r="1.55"/><circle cx="500.3" cy="205.4" r="1.55"/><circle cx="483.2" cy="226.5" r="1.55"/><circle cx="318.7" cy="376.1" r="1.55"/><circle cx="501.2" cy="202.4" r="1.55"/><circle cx="495" cy="216.9" r="1.55"/><circle cx="345" cy="337.2" r="1.55"/><circle cx="556.7" cy="161.5" r="1.55"/><circle cx="515.8" cy="196" r="1.55"/><circle cx="480.1" cy="248.5" r="1.55"/><circle cx="331.2" cy="369" r="1.55"/><circle cx="481.9" cy="232" r="1.55"/><circle cx="355.7" cy="351.8" r="1.55"/><circle cx="443.2" cy="267.3" r="1.55"/><circle cx="451.6" cy="243.7" r="1.55"/><circle cx="305.1" cy="407.7" r="1.55"/><circle cx="395.4" cy="330.4" r="1.55"/><circle cx="381.4" cy="328.1" r="1.55"/><circle cx="399" cy="277.1" r="1.55"/><circle cx="527.5" cy="187.6" r="1.55"/><circle cx="554" cy="159.9" r="1.55"/><circle cx="469.4" cy="246.8" r="1.55"/><circle cx="426.8" cy="296.1" r="1.55"/><circle cx="503.1" cy="212.3" r="1.55"/><circle cx="486.9" cy="228.9" r="1.55"/><circle cx="446.1" cy="264.7" r="1.55"/><circle cx="373.9" cy="316.7" r="1.55"/><circle cx="455.1" cy="273.8" r="1.55"/><circle cx="528.4" cy="192" r="1.55"/><circle cx="506.6" cy="220.9" r="1.55"/><circle cx="279.9" cy="436.4" r="1.55"/><circle cx="302.7" cy="398.4" r="1.55"/><circle cx="450.7" cy="269.6" r="1.55"/><circle cx="506.7" cy="212.1" r="1.55"/><circle cx="499.9" cy="217.4" r="1.55"/><circle cx="492.6" cy="215.8" r="1.55"/><circle cx="480.6" cy="230.7" r="1.55"/><circle cx="570" cy="145.5" r="1.55"/><circle cx="436.2" cy="272.9" r="1.55"/><circle cx="398.3" cy="314" r="1.55"/><circle cx="310.5" cy="398.9" r="1.55"/><circle cx="562.4" cy="152.2" r="1.55"/><circle cx="529.9" cy="189.8" r="1.55"/><circle cx="384.9" cy="323.3" r="1.55"/><circle cx="401.2" cy="298.7" r="1.55"/><circle cx="557.1" cy="158.6" r="1.55"/><circle cx="429" cy="274.9" r="1.55"/><circle cx="378.8" cy="353.3" r="1.55"/><circle cx="389.3" cy="322" r="1.55"/><circle cx="436" cy="278.2" r="1.55"/><circle cx="545.3" cy="171" r="1.55"/><circle cx="543" cy="173.8" r="1.55"/><circle cx="470.4" cy="255.9" r="1.55"/><circle cx="339.7" cy="313.6" r="1.55"/><circle cx="338.8" cy="399.5" r="1.55"/><circle cx="379.9" cy="332.1" r="1.55"/><circle cx="334.9" cy="364.2" r="1.55"/><circle cx="371.1" cy="344.3" r="1.55"/><circle cx="497" cy="205.7" r="1.55"/><circle cx="519.2" cy="190.2" r="1.55"/><circle cx="351.4" cy="363.7" r="1.55"/><circle cx="544.1" cy="177.8" r="1.55"/><circle cx="404.9" cy="309.6" r="1.55"/><circle cx="473.3" cy="244.1" r="1.55"/><circle cx="436.4" cy="273.5" r="1.55"/><circle cx="385.1" cy="337.4" r="1.55"/><circle cx="309.5" cy="396.9" r="1.55"/><circle cx="450" cy="254.8" r="1.55"/><circle cx="490.2" cy="254.1" r="1.55"/><circle cx="565.2" cy="151.9" r="1.55"/><circle cx="454.2" cy="268.9" r="1.55"/><circle cx="515.2" cy="207.5" r="1.55"/><circle cx="557.3" cy="155.7" r="1.55"/><circle cx="516.1" cy="192.6" r="1.55"/><circle cx="423.1" cy="315.5" r="1.55"/><circle cx="303.1" cy="400.2" r="1.55"/><circle cx="511.5" cy="207.4" r="1.55"/><circle cx="554.5" cy="173.4" r="1.55"/><circle cx="539.6" cy="176.3" r="1.55"/><circle cx="527.9" cy="183.8" r="1.55"/><circle cx="571.6" cy="144.9" r="1.55"/><circle cx="417.1" cy="316" r="1.55"/><circle cx="481.4" cy="237.1" r="1.55"/><circle cx="441.9" cy="303.1" r="1.55"/><circle cx="383.8" cy="303.8" r="1.55"/><circle cx="484.9" cy="228.7" r="1.55"/><circle cx="409.2" cy="322.2" r="1.55"/><circle cx="342.4" cy="397.8" r="1.55"/><circle cx="472.2" cy="240.6" r="1.55"/><circle cx="411.5" cy="327.7" r="1.55"/><circle cx="445" cy="276.6" r="1.55"/><circle cx="459.3" cy="256.3" r="1.55"/><circle cx="420.4" cy="295.4" r="1.55"/><circle cx="365.6" cy="335.4" r="1.55"/><circle cx="413.7" cy="302.3" r="1.55"/><circle cx="528.2" cy="193.1" r="1.55"/><circle cx="311.2" cy="394.4" r="1.55"/><circle cx="415.4" cy="305.4" r="1.55"/><circle cx="556.6" cy="167.2" r="1.55"/><circle cx="340.2" cy="376.5" r="1.55"/><circle cx="572" cy="144.7" r="1.55"/><circle cx="364.9" cy="334.1" r="1.55"/><circle cx="363.4" cy="338.7" r="1.55"/><circle cx="490.6" cy="230.4" r="1.55"/><circle cx="569.8" cy="148.7" r="1.55"/><circle cx="391.3" cy="314.4" r="1.55"/><circle cx="368.2" cy="332.5" r="1.55"/><circle cx="357.1" cy="361.7" r="1.55"/><circle cx="367.1" cy="365.7" r="1.55"/><circle cx="399.6" cy="307.6" r="1.55"/><circle cx="336" cy="363.3" r="1.55"/><circle cx="490" cy="236.9" r="1.55"/><circle cx="511.9" cy="188.6" r="1.55"/><circle cx="514.3" cy="200.8" r="1.55"/><circle cx="538.4" cy="174.1" r="1.55"/><circle cx="495.2" cy="226" r="1.55"/><circle cx="421.3" cy="309.8" r="1.55"/><circle cx="472.6" cy="240.1" r="1.55"/><circle cx="565.7" cy="149.7" r="1.55"/><circle cx="274.2" cy="444" r="1.55"/><circle cx="307.5" cy="402.8" r="1.55"/><circle cx="404.2" cy="301.4" r="1.55"/><circle cx="289.5" cy="434" r="1.55"/><circle cx="528.8" cy="188.7" r="1.55"/><circle cx="553.6" cy="165" r="1.55"/><circle cx="302.9" cy="410.4" r="1.55"/><circle cx="394.6" cy="316.9" r="1.55"/><circle cx="492.8" cy="222.7" r="1.55"/><circle cx="314.3" cy="385" r="1.55"/><circle cx="295.4" cy="409.5" r="1.55"/><circle cx="331.8" cy="355.8" r="1.55"/><circle cx="550.3" cy="169.6" r="1.55"/><circle cx="410.1" cy="284.6" r="1.55"/><circle cx="513.5" cy="204.8" r="1.55"/><circle cx="500.1" cy="206.6" r="1.55"/><circle cx="483.4" cy="223.6" r="1.55"/><circle cx="350.5" cy="370.4" r="1.55"/><circle cx="540.9" cy="172.7" r="1.55"/><circle cx="435.6" cy="261.6" r="1.55"/><circle cx="483.8" cy="225.6" r="1.55"/><circle cx="363.8" cy="381.2" r="1.55"/><circle cx="403.3" cy="287.3" r="1.55"/><circle cx="486.2" cy="215.4" r="1.55"/><circle cx="325.5" cy="410.6" r="1.55"/><circle cx="342.2" cy="357.1" r="1.55"/><circle cx="329" cy="386.5" r="1.55"/><circle cx="509.3" cy="190.6" r="1.55"/><circle cx="496.3" cy="211.4" r="1.55"/><circle cx="532.1" cy="180.5" r="1.55"/><circle cx="312.7" cy="406" r="1.55"/><circle cx="322.8" cy="396.5" r="1.55"/><circle cx="392.8" cy="320.4" r="1.55"/><circle cx="556" cy="158.4" r="1.55"/><circle cx="505.5" cy="218.9" r="1.55"/><circle cx="518.5" cy="208.6" r="1.55"/><circle cx="548.8" cy="166.5" r="1.55"/><circle cx="510.2" cy="197" r="1.55"/><circle cx="355.5" cy="350.5" r="1.55"/><circle cx="466.9" cy="246.3" r="1.55"/><circle cx="468.3" cy="249.2" r="1.55"/><circle cx="489.8" cy="232.2" r="1.55"/><circle cx="415.8" cy="272.7" r="1.55"/><circle cx="531.7" cy="183.1" r="1.55"/><circle cx="422.9" cy="285.2" r="1.55"/><circle cx="509.9" cy="203.2" r="1.55"/><circle cx="458" cy="273.3" r="1.55"/><circle cx="443.5" cy="283.5" r="1.55"/><circle cx="389.5" cy="353.5" r="1.55"/><circle cx="347.6" cy="359.5" r="1.55"/><circle cx="375.3" cy="336.3" r="1.55"/><circle cx="420" cy="329.2" r="1.55"/><circle cx="422.2" cy="292.8" r="1.55"/><circle cx="408.8" cy="319.9" r="1.55"/><circle cx="368.9" cy="378.1" r="1.55"/><circle cx="571.1" cy="146" r="1.55"/><circle cx="558.2" cy="159.7" r="1.55"/><circle cx="479.7" cy="230.9" r="1.55"/><circle cx="404.4" cy="332.6" r="1.55"/><circle cx="314.7" cy="401.1" r="1.55"/><circle cx="481.6" cy="243.2" r="1.55"/><circle cx="307" cy="413.2" r="1.55"/><circle cx="324.1" cy="406.2" r="1.55"/><circle cx="543.1" cy="169.9" r="1.55"/><circle cx="433.2" cy="264.2" r="1.55"/><circle cx="331.4" cy="368.4" r="1.55"/><circle cx="525.7" cy="195.1" r="1.55"/><circle cx="449.2" cy="259.2" r="1.55"/><circle cx="547.9" cy="168.3" r="1.55"/><circle cx="391.7" cy="303.6" r="1.55"/><circle cx="396.3" cy="317.3" r="1.55"/><circle cx="502.5" cy="214.1" r="1.55"/><circle cx="398.7" cy="323.1" r="1.55"/><circle cx="369.8" cy="373.7" r="1.55"/><circle cx="419.1" cy="279.7" r="1.55"/><circle cx="277.6" cy="432.7" r="1.55"/><circle cx="414.1" cy="294.7" r="1.55"/><circle cx="364.1" cy="367.7" r="1.55"/><circle cx="568.3" cy="148.9" r="1.55"/><circle cx="533.8" cy="181.1" r="1.55"/><circle cx="510.6" cy="217.2" r="1.55"/><circle cx="511.3" cy="200.1" r="1.55"/><circle cx="519.4" cy="195.5" r="1.55"/><circle cx="391.5" cy="302.7" r="1.55"/><circle cx="388" cy="331.4" r="1.55"/><circle cx="522.6" cy="200.6" r="1.55"/><circle cx="444.1" cy="266.2" r="1.55"/><circle cx="498.8" cy="231.3" r="1.55"/><circle cx="440.8" cy="274.6" r="1.55"/><circle cx="481.2" cy="241.9" r="1.55"/><circle cx="505.8" cy="209.2" r="1.55"/><circle cx="348.3" cy="342.3" r="1.55"/><circle cx="423.3" cy="336.7" r="1.55"/><circle cx="396.8" cy="309.4" r="1.55"/><circle cx="466.1" cy="256.1" r="1.55"/><circle cx="438.6" cy="262.7" r="1.55"/><circle cx="372.4" cy="320.9" r="1.55"/><circle cx="564.1" cy="152.8" r="1.55"/><circle cx="471.3" cy="253.7" r="1.55"/><circle cx="387.6" cy="333.4" r="1.55"/></g>
<clipPath id="c2"><rect x="657.273" y="144.0" width="422.727" height="420.0"/></clipPath>
<g class="pr" clip-path="url(#c2)"><circle cx="735.4" cy="470.9" r="1.55"/><circle cx="700.5" cy="535.7" r="1.55"/><circle cx="695.6" cy="534.1" r="1.55"/><circle cx="704.6" cy="531.2" r="1.55"/><circle cx="682.6" cy="515.5" r="1.55"/><circle cx="714.8" cy="542" r="1.55"/><circle cx="711.5" cy="531.2" r="1.55"/><circle cx="701.2" cy="526.1" r="1.55"/><circle cx="686.8" cy="517.7" r="1.55"/><circle cx="692" cy="526.1" r="1.55"/><circle cx="713.3" cy="537.3" r="1.55"/><circle cx="744.6" cy="463.5" r="1.55"/><circle cx="691.7" cy="510.9" r="1.55"/><circle cx="714.4" cy="528" r="1.55"/><circle cx="703.3" cy="523.3" r="1.55"/><circle cx="694.9" cy="534" r="1.55"/><circle cx="696.7" cy="522.1" r="1.55"/><circle cx="688.1" cy="490.8" r="1.55"/><circle cx="692.5" cy="512.2" r="1.55"/><circle cx="697.8" cy="515.2" r="1.55"/><circle cx="714.3" cy="512.7" r="1.55"/><circle cx="693.1" cy="528.2" r="1.55"/><circle cx="703.9" cy="513.2" r="1.55"/><circle cx="715.7" cy="517.4" r="1.55"/><circle cx="719.8" cy="522.6" r="1.55"/><circle cx="700.1" cy="508.9" r="1.55"/><circle cx="699.6" cy="508.2" r="1.55"/><circle cx="721.8" cy="533.4" r="1.55"/><circle cx="726.2" cy="514.5" r="1.55"/><circle cx="712.2" cy="524.1" r="1.55"/><circle cx="703.5" cy="499.6" r="1.55"/><circle cx="714.5" cy="507.5" r="1.55"/><circle cx="699.7" cy="502.9" r="1.55"/><circle cx="709.9" cy="488.7" r="1.55"/><circle cx="715.8" cy="520.1" r="1.55"/><circle cx="708.4" cy="499.6" r="1.55"/><circle cx="716.1" cy="500.9" r="1.55"/><circle cx="736.2" cy="522.1" r="1.55"/><circle cx="722.4" cy="510.8" r="1.55"/><circle cx="718" cy="502" r="1.55"/><circle cx="726.4" cy="504.1" r="1.55"/><circle cx="709.3" cy="507.9" r="1.55"/><circle cx="715.6" cy="493.5" r="1.55"/><circle cx="740.7" cy="528.9" r="1.55"/><circle cx="702.1" cy="493.9" r="1.55"/><circle cx="713.5" cy="505.4" r="1.55"/><circle cx="709.8" cy="491.8" r="1.55"/><circle cx="695" cy="474.5" r="1.55"/><circle cx="717" cy="496.8" r="1.55"/><circle cx="717.5" cy="503.3" r="1.55"/><circle cx="709.5" cy="498.5" r="1.55"/><circle cx="727.2" cy="495.3" r="1.55"/><circle cx="734.4" cy="508.6" r="1.55"/><circle cx="702.5" cy="491.6" r="1.55"/><circle cx="720.3" cy="492.4" r="1.55"/><circle cx="732" cy="493.6" r="1.55"/><circle cx="718.2" cy="490.9" r="1.55"/><circle cx="717.4" cy="486.7" r="1.55"/><circle cx="706.5" cy="477" r="1.55"/><circle cx="738" cy="492.2" r="1.55"/><circle cx="694.2" cy="453.8" r="1.55"/><circle cx="730.2" cy="491.4" r="1.55"/><circle cx="723" cy="489.6" r="1.55"/><circle cx="730.9" cy="502.3" r="1.55"/><circle cx="721.7" cy="492.5" r="1.55"/><circle cx="725" cy="487.9" r="1.55"/><circle cx="711.2" cy="500" r="1.55"/><circle cx="730.6" cy="492.6" r="1.55"/><circle cx="733.7" cy="501" r="1.55"/><circle cx="722.4" cy="487.5" r="1.55"/><circle cx="720" cy="479.8" r="1.55"/><circle cx="729.6" cy="480.6" r="1.55"/><circle cx="743.8" cy="490.9" r="1.55"/><circle cx="735.8" cy="489.8" r="1.55"/><circle cx="725.6" cy="494.2" r="1.55"/><circle cx="746.5" cy="496.1" r="1.55"/><circle cx="727.5" cy="480.6" r="1.55"/><circle cx="715" cy="478.5" r="1.55"/><circle cx="734.6" cy="472.6" r="1.55"/><circle cx="737.7" cy="490" r="1.55"/><circle cx="733.2" cy="486.8" r="1.55"/><circle cx="740" cy="491.3" r="1.55"/><circle cx="731.5" cy="478.9" r="1.55"/><circle cx="734.2" cy="484.7" r="1.55"/><circle cx="735.6" cy="480" r="1.55"/><circle cx="725" cy="462.7" r="1.55"/><circle cx="739.7" cy="480.9" r="1.55"/><circle cx="754.1" cy="486.9" r="1.55"/><circle cx="748.9" cy="494" r="1.55"/><circle cx="732.9" cy="485" r="1.55"/><circle cx="739.5" cy="474" r="1.55"/><circle cx="746.9" cy="479.4" r="1.55"/><circle cx="732.7" cy="472.2" r="1.55"/><circle cx="753.8" cy="475.2" r="1.55"/><circle cx="732.8" cy="480.6" r="1.55"/><circle cx="752.6" cy="482.6" r="1.55"/><circle cx="728.9" cy="468.9" r="1.55"/><circle cx="757.3" cy="480.5" r="1.55"/><circle cx="744.5" cy="480.7" r="1.55"/><circle cx="741.8" cy="477.6" r="1.55"/><circle cx="745.6" cy="475.2" r="1.55"/><circle cx="728.5" cy="464.2" r="1.55"/><circle cx="746.3" cy="483.1" r="1.55"/><circle cx="755.5" cy="491" r="1.55"/><circle cx="748.5" cy="473.3" r="1.55"/><circle cx="741.7" cy="488.3" r="1.55"/><circle cx="723.3" cy="464.1" r="1.55"/><circle cx="740.5" cy="470.4" r="1.55"/><circle cx="747.4" cy="482.9" r="1.55"/><circle cx="739.2" cy="483.5" r="1.55"/><circle cx="750.1" cy="462" r="1.55"/><circle cx="752.8" cy="473.5" r="1.55"/><circle cx="754.2" cy="483.9" r="1.55"/><circle cx="740.6" cy="480.9" r="1.55"/><circle cx="741.8" cy="479.5" r="1.55"/><circle cx="739.9" cy="464.2" r="1.55"/><circle cx="762.5" cy="486.9" r="1.55"/><circle cx="745.1" cy="471.8" r="1.55"/><circle cx="754.1" cy="471.8" r="1.55"/><circle cx="746.9" cy="467.3" r="1.55"/><circle cx="737" cy="474.1" r="1.55"/><circle cx="743.8" cy="476.2" r="1.55"/><circle cx="741.8" cy="460.9" r="1.55"/><circle cx="740.7" cy="471.5" r="1.55"/><circle cx="742.1" cy="463.1" r="1.55"/><circle cx="740.4" cy="470.2" r="1.55"/><circle cx="737.8" cy="480.1" r="1.55"/><circle cx="742" cy="472" r="1.55"/><circle cx="740.1" cy="461.5" r="1.55"/><circle cx="755.2" cy="479.8" r="1.55"/><circle cx="735.9" cy="465.8" r="1.55"/><circle cx="751.6" cy="475.7" r="1.55"/><circle cx="753.3" cy="470.4" r="1.55"/><circle cx="746.6" cy="458.1" r="1.55"/><circle cx="746.6" cy="455.1" r="1.55"/><circle cx="735.7" cy="467.1" r="1.55"/><circle cx="756.9" cy="477" r="1.55"/><circle cx="750" cy="466.2" r="1.55"/><circle cx="746.5" cy="454.8" r="1.55"/><circle cx="747.5" cy="456.6" r="1.55"/><circle cx="737.1" cy="470.5" r="1.55"/><circle cx="757.8" cy="473.1" r="1.55"/><circle cx="750.5" cy="475.8" r="1.55"/><circle cx="743" cy="458.2" r="1.55"/><circle cx="749.9" cy="470.5" r="1.55"/><circle cx="756" cy="472.5" r="1.55"/><circle cx="744.4" cy="466.1" r="1.55"/><circle cx="744.6" cy="465" r="1.55"/><circle cx="759.6" cy="477.9" r="1.55"/><circle cx="758.1" cy="476" r="1.55"/><circle cx="741.8" cy="473.4" r="1.55"/><circle cx="746.8" cy="458.4" r="1.55"/><circle cx="754.1" cy="468.7" r="1.55"/><circle cx="774.8" cy="479" r="1.55"/><circle cx="751" cy="464" r="1.55"/><circle cx="747.3" cy="456" r="1.55"/><circle cx="747.8" cy="465.2" r="1.55"/><circle cx="747.2" cy="453.1" r="1.55"/><circle cx="746.7" cy="458.9" r="1.55"/><circle cx="782.2" cy="485.7" r="1.55"/><circle cx="733.8" cy="439.5" r="1.55"/><circle cx="756" cy="466.2" r="1.55"/><circle cx="767.1" cy="478.8" r="1.55"/><circle cx="751.4" cy="462.4" r="1.55"/><circle cx="762" cy="466.3" r="1.55"/><circle cx="765.2" cy="464.4" r="1.55"/><circle cx="745.7" cy="459.6" r="1.55"/><circle cx="741.3" cy="452.6" r="1.55"/><circle cx="759.6" cy="458.6" r="1.55"/><circle cx="753.6" cy="465.1" r="1.55"/><circle cx="763.6" cy="462.8" r="1.55"/><circle cx="727.5" cy="445.1" r="1.55"/><circle cx="766.2" cy="458.7" r="1.55"/><circle cx="749.7" cy="452.7" r="1.55"/><circle cx="740.5" cy="444.8" r="1.55"/><circle cx="762.3" cy="469.7" r="1.55"/><circle cx="749.1" cy="456.1" r="1.55"/><circle cx="756.6" cy="464.2" r="1.55"/><circle cx="759.6" cy="457.3" r="1.55"/><circle cx="762.4" cy="463.6" r="1.55"/><circle cx="756.6" cy="459.6" r="1.55"/><circle cx="775.4" cy="474.7" r="1.55"/><circle cx="751.8" cy="454.8" r="1.55"/><circle cx="763.8" cy="461.2" r="1.55"/><circle cx="761.6" cy="439.8" r="1.55"/><circle cx="751.4" cy="454.9" r="1.55"/><circle cx="746.7" cy="454.3" r="1.55"/><circle cx="757.4" cy="460.6" r="1.55"/><circle cx="771.1" cy="467.8" r="1.55"/><circle cx="757.8" cy="457.9" r="1.55"/><circle cx="755.4" cy="455.5" r="1.55"/><circle cx="762.7" cy="463.6" r="1.55"/><circle cx="765.4" cy="470.5" r="1.55"/><circle cx="761.3" cy="460.9" r="1.55"/><circle cx="762.3" cy="469.1" r="1.55"/><circle cx="742.6" cy="443.4" r="1.55"/><circle cx="759.7" cy="444.7" r="1.55"/><circle cx="764.5" cy="475.6" r="1.55"/><circle cx="774.5" cy="456.4" r="1.55"/><circle cx="759.4" cy="452.5" r="1.55"/><circle cx="732.5" cy="437" r="1.55"/><circle cx="755.7" cy="458.7" r="1.55"/><circle cx="773.4" cy="458" r="1.55"/><circle cx="760.2" cy="446.3" r="1.55"/><circle cx="760.2" cy="463.9" r="1.55"/><circle cx="750.2" cy="455.4" r="1.55"/><circle cx="763.5" cy="461.2" r="1.55"/><circle cx="760.3" cy="446.8" r="1.55"/><circle cx="769.1" cy="459.3" r="1.55"/><circle cx="780.5" cy="475.3" r="1.55"/><circle cx="767.2" cy="453.6" r="1.55"/><circle cx="781.2" cy="480.3" r="1.55"/><circle cx="774" cy="465.4" r="1.55"/><circle cx="760.5" cy="455.8" r="1.55"/><circle cx="775.3" cy="470.4" r="1.55"/><circle cx="751.9" cy="455.8" r="1.55"/><circle cx="770.6" cy="462.1" r="1.55"/><circle cx="771.6" cy="463.7" r="1.55"/><circle cx="763.7" cy="463.3" r="1.55"/><circle cx="769.4" cy="454.1" r="1.55"/><circle cx="772.4" cy="458.3" r="1.55"/><circle cx="749.2" cy="451.3" r="1.55"/><circle cx="774" cy="469.2" r="1.55"/><circle cx="759.4" cy="449.3" r="1.55"/><circle cx="764.1" cy="452.9" r="1.55"/><circle cx="759.1" cy="452.7" r="1.55"/><circle cx="768.1" cy="460.2" r="1.55"/><circle cx="766.8" cy="459.2" r="1.55"/><circle cx="752.1" cy="445.3" r="1.55"/><circle cx="773.3" cy="444.2" r="1.55"/><circle cx="744.8" cy="449.5" r="1.55"/><circle cx="769" cy="455" r="1.55"/><circle cx="764.4" cy="446.2" r="1.55"/><circle cx="753.6" cy="443.6" r="1.55"/><circle cx="771.2" cy="456.3" r="1.55"/><circle cx="777.7" cy="453.2" r="1.55"/><circle cx="765.6" cy="442.7" r="1.55"/><circle cx="765.2" cy="448.1" r="1.55"/><circle cx="771" cy="452.2" r="1.55"/><circle cx="754.3" cy="434.6" r="1.55"/><circle cx="766" cy="445.8" r="1.55"/><circle cx="763.4" cy="450.4" r="1.55"/><circle cx="764.1" cy="451.7" r="1.55"/><circle cx="765.3" cy="453.1" r="1.55"/><circle cx="762.9" cy="448.2" r="1.55"/><circle cx="775.4" cy="451.9" r="1.55"/><circle cx="782.9" cy="452.3" r="1.55"/><circle cx="767.2" cy="442.3" r="1.55"/><circle cx="793.4" cy="467.3" r="1.55"/><circle cx="773" cy="453.4" r="1.55"/><circle cx="772" cy="461.1" r="1.55"/><circle cx="772.8" cy="445.1" r="1.55"/><circle cx="772.5" cy="456.1" r="1.55"/><circle cx="754.1" cy="426.6" r="1.55"/><circle cx="776" cy="446" r="1.55"/><circle cx="760.2" cy="437.7" r="1.55"/><circle cx="774.8" cy="452.7" r="1.55"/><circle cx="774.4" cy="453.6" r="1.55"/><circle cx="772" cy="440.6" r="1.55"/><circle cx="757.3" cy="443.7" r="1.55"/><circle cx="773.6" cy="447.8" r="1.55"/><circle cx="776.8" cy="454" r="1.55"/><circle cx="774.4" cy="448.7" r="1.55"/><circle cx="769.7" cy="442.7" r="1.55"/><circle cx="761.1" cy="441.2" r="1.55"/><circle cx="771.6" cy="441.3" r="1.55"/><circle cx="772.8" cy="442.6" r="1.55"/><circle cx="767.1" cy="445.8" r="1.55"/><circle cx="770.1" cy="447.3" r="1.55"/><circle cx="765.8" cy="437" r="1.55"/><circle cx="779.9" cy="451.9" r="1.55"/><circle cx="764.8" cy="454.8" r="1.55"/><circle cx="777.9" cy="453.2" r="1.55"/><circle cx="766.9" cy="446.4" r="1.55"/><circle cx="774.6" cy="447.6" r="1.55"/><circle cx="771.1" cy="442.9" r="1.55"/><circle cx="781.5" cy="453.3" r="1.55"/><circle cx="768.8" cy="443.9" r="1.55"/><circle cx="776.8" cy="445.4" r="1.55"/><circle cx="768.9" cy="441" r="1.55"/><circle cx="775.6" cy="454.9" r="1.55"/><circle cx="771.5" cy="446.3" r="1.55"/><circle cx="762.5" cy="449.8" r="1.55"/><circle cx="765.1" cy="436.7" r="1.55"/><circle cx="766" cy="443.8" r="1.55"/><circle cx="781.9" cy="458.1" r="1.55"/><circle cx="768.6" cy="442.1" r="1.55"/><circle cx="761" cy="441.7" r="1.55"/><circle cx="777.1" cy="452.5" r="1.55"/><circle cx="781.1" cy="449.9" r="1.55"/><circle cx="777.1" cy="450.6" r="1.55"/><circle cx="770.9" cy="447.7" r="1.55"/><circle cx="778.9" cy="441.8" r="1.55"/><circle cx="771.2" cy="439.1" r="1.55"/><circle cx="774.1" cy="441.1" r="1.55"/><circle cx="787.5" cy="465.4" r="1.55"/><circle cx="783.8" cy="452.1" r="1.55"/><circle cx="778.4" cy="449.1" r="1.55"/><circle cx="780.7" cy="436.6" r="1.55"/><circle cx="791.6" cy="461.1" r="1.55"/><circle cx="769.7" cy="438.3" r="1.55"/><circle cx="763.5" cy="431.9" r="1.55"/><circle cx="780" cy="437.9" r="1.55"/><circle cx="769.3" cy="440.8" r="1.55"/><circle cx="782.6" cy="445.6" r="1.55"/><circle cx="775.4" cy="442.7" r="1.55"/><circle cx="790.5" cy="450.7" r="1.55"/><circle cx="776.6" cy="441.1" r="1.55"/><circle cx="780.3" cy="445.9" r="1.55"/><circle cx="766.6" cy="437.7" r="1.55"/><circle cx="770.4" cy="437.7" r="1.55"/><circle cx="773.5" cy="436.8" r="1.55"/><circle cx="780.6" cy="443.5" r="1.55"/><circle cx="784.5" cy="445.5" r="1.55"/><circle cx="776" cy="441.3" r="1.55"/><circle cx="778.9" cy="437.8" r="1.55"/><circle cx="775.7" cy="436.8" r="1.55"/><circle cx="782" cy="432.9" r="1.55"/><circle cx="776.9" cy="428.3" r="1.55"/><circle cx="773.1" cy="434.8" r="1.55"/><circle cx="780.5" cy="438.9" r="1.55"/><circle cx="778.4" cy="441.5" r="1.55"/><circle cx="781.9" cy="432.2" r="1.55"/><circle cx="776.1" cy="437.6" r="1.55"/><circle cx="785" cy="446.8" r="1.55"/><circle cx="773.4" cy="437.6" r="1.55"/><circle cx="778.6" cy="443.5" r="1.55"/><circle cx="775.9" cy="430.8" r="1.55"/><circle cx="777.6" cy="439.3" r="1.55"/><circle cx="780.3" cy="434.5" r="1.55"/><circle cx="786.5" cy="450.2" r="1.55"/><circle cx="779" cy="440.6" r="1.55"/><circle cx="781.5" cy="437.1" r="1.55"/><circle cx="768.7" cy="429.2" r="1.55"/><circle cx="771.5" cy="432.5" r="1.55"/><circle cx="778.4" cy="431.9" r="1.55"/><circle cx="791.5" cy="442.5" r="1.55"/><circle cx="790.2" cy="441" r="1.55"/><circle cx="773.9" cy="435.7" r="1.55"/><circle cx="782.8" cy="444.1" r="1.55"/><circle cx="783.6" cy="437.3" r="1.55"/><circle cx="788.4" cy="439.6" r="1.55"/><circle cx="783.5" cy="448.4" r="1.55"/><circle cx="781" cy="428.1" r="1.55"/><circle cx="781.5" cy="438.2" r="1.55"/><circle cx="767.2" cy="427.3" r="1.55"/><circle cx="796.9" cy="449.8" r="1.55"/><circle cx="781.5" cy="430.3" r="1.55"/><circle cx="778.1" cy="443.1" r="1.55"/><circle cx="783.8" cy="429.6" r="1.55"/><circle cx="790.3" cy="442.4" r="1.55"/><circle cx="784.6" cy="433.9" r="1.55"/><circle cx="768" cy="423.2" r="1.55"/><circle cx="783.1" cy="439" r="1.55"/><circle cx="781.5" cy="435.7" r="1.55"/><circle cx="788.7" cy="440.7" r="1.55"/><circle cx="792.9" cy="444.5" r="1.55"/><circle cx="778.3" cy="439.2" r="1.55"/><circle cx="788.6" cy="434.4" r="1.55"/><circle cx="773.4" cy="432.3" r="1.55"/><circle cx="784.8" cy="440.1" r="1.55"/><circle cx="769.1" cy="436.7" r="1.55"/><circle cx="786.4" cy="429" r="1.55"/><circle cx="774.3" cy="416" r="1.55"/><circle cx="775.8" cy="429.1" r="1.55"/><circle cx="779.1" cy="432.8" r="1.55"/><circle cx="778.5" cy="437.2" r="1.55"/><circle cx="779.7" cy="438.3" r="1.55"/><circle cx="788.7" cy="435" r="1.55"/><circle cx="783.2" cy="432.3" r="1.55"/><circle cx="783.7" cy="432" r="1.55"/><circle cx="779.2" cy="434" r="1.55"/><circle cx="794.7" cy="447.9" r="1.55"/><circle cx="771.1" cy="432.4" r="1.55"/><circle cx="777.9" cy="429.7" r="1.55"/><circle cx="784.9" cy="437.4" r="1.55"/><circle cx="783" cy="426.1" r="1.55"/><circle cx="790.6" cy="434.3" r="1.55"/><circle cx="767.8" cy="422.9" r="1.55"/><circle cx="793.6" cy="435.5" r="1.55"/><circle cx="781.1" cy="433.8" r="1.55"/><circle cx="790.7" cy="423.4" r="1.55"/><circle cx="785.1" cy="434.1" r="1.55"/><circle cx="789.5" cy="427.6" r="1.55"/><circle cx="780.2" cy="432.1" r="1.55"/><circle cx="782.8" cy="431.8" r="1.55"/><circle cx="787.7" cy="429.1" r="1.55"/><circle cx="794.6" cy="437.9" r="1.55"/><circle cx="780.9" cy="431.5" r="1.55"/><circle cx="786.1" cy="434.4" r="1.55"/><circle cx="774.2" cy="417.5" r="1.55"/><circle cx="778.6" cy="425.4" r="1.55"/><circle cx="788.6" cy="429.4" r="1.55"/><circle cx="782.3" cy="423.6" r="1.55"/><circle cx="784.9" cy="424.3" r="1.55"/><circle cx="790.3" cy="431.6" r="1.55"/><circle cx="787.8" cy="432.3" r="1.55"/><circle cx="793.2" cy="439.2" r="1.55"/><circle cx="768" cy="412" r="1.55"/><circle cx="784.2" cy="424.2" r="1.55"/><circle cx="786.4" cy="430.8" r="1.55"/><circle cx="783.3" cy="428.6" r="1.55"/><circle cx="794.4" cy="431.1" r="1.55"/><circle cx="803.7" cy="443.7" r="1.55"/><circle cx="792.9" cy="430.6" r="1.55"/><circle cx="789.9" cy="430.8" r="1.55"/><circle cx="784.4" cy="432.9" r="1.55"/><circle cx="790.5" cy="430.8" r="1.55"/><circle cx="789.5" cy="431.5" r="1.55"/><circle cx="794.3" cy="441.7" r="1.55"/><circle cx="786.1" cy="434.5" r="1.55"/><circle cx="789" cy="431.2" r="1.55"/><circle cx="789.4" cy="431.2" r="1.55"/><circle cx="784" cy="431.5" r="1.55"/><circle cx="788" cy="432" r="1.55"/><circle cx="778.1" cy="426.2" r="1.55"/><circle cx="797.3" cy="437.5" r="1.55"/><circle cx="784.5" cy="431.7" r="1.55"/><circle cx="792.4" cy="427.7" r="1.55"/><circle cx="789.1" cy="432.3" r="1.55"/><circle cx="789.5" cy="433.1" r="1.55"/><circle cx="792" cy="433.9" r="1.55"/><circle cx="782.5" cy="426" r="1.55"/><circle cx="787.1" cy="439.9" r="1.55"/><circle cx="799.2" cy="425.4" r="1.55"/><circle cx="796.3" cy="437.1" r="1.55"/><circle cx="787.6" cy="428.3" r="1.55"/><circle cx="775.3" cy="418.6" r="1.55"/><circle cx="780" cy="420" r="1.55"/><circle cx="776" cy="426.3" r="1.55"/><circle cx="791" cy="430.9" r="1.55"/><circle cx="782" cy="414.4" r="1.55"/><circle cx="791.1" cy="427.4" r="1.55"/><circle cx="783.1" cy="413.2" r="1.55"/><circle cx="794.2" cy="428.8" r="1.55"/><circle cx="785.5" cy="428.6" r="1.55"/><circle cx="790.1" cy="427.9" r="1.55"/><circle cx="801.5" cy="437.3" r="1.55"/><circle cx="792.5" cy="424.9" r="1.55"/><circle cx="789.2" cy="426.2" r="1.55"/><circle cx="794.4" cy="432.5" r="1.55"/><circle cx="793.3" cy="433.1" r="1.55"/><circle cx="784.5" cy="424.7" r="1.55"/><circle cx="792.6" cy="427.8" r="1.55"/><circle cx="800.2" cy="426" r="1.55"/><circle cx="793.1" cy="440.3" r="1.55"/><circle cx="807.1" cy="445.5" r="1.55"/><circle cx="800.8" cy="430.7" r="1.55"/><circle cx="787" cy="441.7" r="1.55"/><circle cx="798.7" cy="430.3" r="1.55"/><circle cx="806.5" cy="449.3" r="1.55"/><circle cx="800.7" cy="438.9" r="1.55"/><circle cx="792.3" cy="429" r="1.55"/><circle cx="781.5" cy="422.9" r="1.55"/><circle cx="794.6" cy="437.5" r="1.55"/><circle cx="793.7" cy="431.6" r="1.55"/><circle cx="799.9" cy="434.1" r="1.55"/><circle cx="797.5" cy="426.1" r="1.55"/><circle cx="797.2" cy="429.1" r="1.55"/><circle cx="795.3" cy="434.2" r="1.55"/><circle cx="794.2" cy="432.2" r="1.55"/><circle cx="792.3" cy="428.4" r="1.55"/><circle cx="781.3" cy="411.2" r="1.55"/><circle cx="793.9" cy="427" r="1.55"/><circle cx="785.7" cy="419.9" r="1.55"/><circle cx="791.7" cy="421.1" r="1.55"/><circle cx="794" cy="429.7" r="1.55"/><circle cx="785.1" cy="418.7" r="1.55"/><circle cx="793.4" cy="428.9" r="1.55"/><circle cx="801.9" cy="429.2" r="1.55"/><circle cx="803.5" cy="426.6" r="1.55"/><circle cx="794.4" cy="428.2" r="1.55"/><circle cx="788.1" cy="419" r="1.55"/><circle cx="792.2" cy="425.3" r="1.55"/><circle cx="789" cy="424.2" r="1.55"/><circle cx="791.1" cy="419" r="1.55"/><circle cx="789.5" cy="428.7" r="1.55"/><circle cx="779.6" cy="424.6" r="1.55"/><circle cx="790.9" cy="426.3" r="1.55"/><circle cx="786.3" cy="418" r="1.55"/><circle cx="802.4" cy="433.4" r="1.55"/><circle cx="799.3" cy="434.9" r="1.55"/><circle cx="792.7" cy="422.3" r="1.55"/><circle cx="796" cy="423.1" r="1.55"/><circle cx="786.2" cy="417.2" r="1.55"/><circle cx="793.4" cy="424.4" r="1.55"/><circle cx="795.2" cy="422.3" r="1.55"/><circle cx="790.7" cy="424.8" r="1.55"/><circle cx="793.7" cy="423.8" r="1.55"/><circle cx="793" cy="426.1" r="1.55"/><circle cx="797.3" cy="421.4" r="1.55"/><circle cx="794.2" cy="426.1" r="1.55"/><circle cx="811.3" cy="434.8" r="1.55"/><circle cx="799.7" cy="429.7" r="1.55"/><circle cx="792.3" cy="419.2" r="1.55"/><circle cx="794.1" cy="428.3" r="1.55"/><circle cx="803.8" cy="426.5" r="1.55"/><circle cx="803.6" cy="423.8" r="1.55"/><circle cx="798.1" cy="421.3" r="1.55"/><circle cx="788.9" cy="425.8" r="1.55"/><circle cx="791.4" cy="424" r="1.55"/><circle cx="794.3" cy="418.6" r="1.55"/><circle cx="790" cy="416.4" r="1.55"/><circle cx="792" cy="411.4" r="1.55"/><circle cx="792.7" cy="411.6" r="1.55"/><circle cx="799.3" cy="419.4" r="1.55"/><circle cx="802.4" cy="425.9" r="1.55"/><circle cx="806.8" cy="423.8" r="1.55"/><circle cx="805.6" cy="427.7" r="1.55"/><circle cx="799.6" cy="411.8" r="1.55"/><circle cx="805.1" cy="423.9" r="1.55"/><circle cx="796.1" cy="422" r="1.55"/><circle cx="794.3" cy="419.4" r="1.55"/><circle cx="798" cy="420.4" r="1.55"/><circle cx="805.6" cy="427.6" r="1.55"/><circle cx="808.7" cy="429.3" r="1.55"/><circle cx="796.8" cy="417.4" r="1.55"/><circle cx="804.8" cy="421.6" r="1.55"/><circle cx="791" cy="414.2" r="1.55"/><circle cx="796.4" cy="412.4" r="1.55"/><circle cx="801.2" cy="423.5" r="1.55"/><circle cx="806.7" cy="429.6" r="1.55"/><circle cx="799.3" cy="409.7" r="1.55"/><circle cx="799.2" cy="412" r="1.55"/><circle cx="798.1" cy="412.6" r="1.55"/><circle cx="800.9" cy="413.8" r="1.55"/><circle cx="797.1" cy="417.8" r="1.55"/><circle cx="804.8" cy="427.7" r="1.55"/><circle cx="802.2" cy="414.5" r="1.55"/><circle cx="806.8" cy="428.5" r="1.55"/><circle cx="793.7" cy="419.6" r="1.55"/><circle cx="806.1" cy="420.1" r="1.55"/><circle cx="793.4" cy="411.2" r="1.55"/><circle cx="812.1" cy="420.8" r="1.55"/><circle cx="796.3" cy="407.9" r="1.55"/><circle cx="797.2" cy="411.9" r="1.55"/><circle cx="797.2" cy="416.2" r="1.55"/><circle cx="808.8" cy="418.5" r="1.55"/><circle cx="808.9" cy="418.6" r="1.55"/><circle cx="794.9" cy="412" r="1.55"/><circle cx="806.5" cy="422.9" r="1.55"/><circle cx="796.3" cy="411.6" r="1.55"/><circle cx="805.6" cy="421.5" r="1.55"/><circle cx="799.9" cy="403.7" r="1.55"/><circle cx="798.7" cy="408.8" r="1.55"/><circle cx="804.2" cy="421.6" r="1.55"/><circle cx="802.9" cy="411.8" r="1.55"/><circle cx="799.1" cy="412.6" r="1.55"/><circle cx="802.5" cy="415" r="1.55"/><circle cx="802.9" cy="409.4" r="1.55"/><circle cx="801.1" cy="408.4" r="1.55"/><circle cx="804.4" cy="421.3" r="1.55"/><circle cx="793" cy="410.7" r="1.55"/><circle cx="811.2" cy="417.4" r="1.55"/><circle cx="816.2" cy="419" r="1.55"/><circle cx="811.2" cy="420.3" r="1.55"/><circle cx="804.5" cy="410.6" r="1.55"/><circle cx="817.4" cy="424.1" r="1.55"/><circle cx="816" cy="417.4" r="1.55"/><circle cx="810.4" cy="418.2" r="1.55"/><circle cx="801.6" cy="414.8" r="1.55"/><circle cx="813" cy="417" r="1.55"/><circle cx="803.3" cy="409.2" r="1.55"/><circle cx="803.9" cy="412" r="1.55"/><circle cx="812.7" cy="421.1" r="1.55"/><circle cx="816" cy="415.7" r="1.55"/><circle cx="815.7" cy="415.9" r="1.55"/><circle cx="814.9" cy="417.3" r="1.55"/><circle cx="810.1" cy="417.1" r="1.55"/><circle cx="805" cy="403.8" r="1.55"/><circle cx="814.3" cy="417.8" r="1.55"/><circle cx="811" cy="420.3" r="1.55"/><circle cx="799.2" cy="403.1" r="1.55"/><circle cx="814.5" cy="418.4" r="1.55"/><circle cx="815.5" cy="421.3" r="1.55"/><circle cx="815.1" cy="417.1" r="1.55"/><circle cx="819.4" cy="417.8" r="1.55"/><circle cx="806.2" cy="402" r="1.55"/><circle cx="806.2" cy="402.7" r="1.55"/><circle cx="805.9" cy="404.1" r="1.55"/><circle cx="803.3" cy="406.5" r="1.55"/><circle cx="802.2" cy="405" r="1.55"/><circle cx="818.1" cy="419.2" r="1.55"/><circle cx="806.3" cy="399.7" r="1.55"/><circle cx="822.6" cy="416.1" r="1.55"/><circle cx="817.1" cy="415.5" r="1.55"/><circle cx="818" cy="415.3" r="1.55"/><circle cx="721.2" cy="319.6" r="1.55"/><circle cx="728.6" cy="330.1" r="1.55"/><circle cx="930.4" cy="447.6" r="1.55"/><circle cx="855.4" cy="476.9" r="1.55"/><circle cx="871.3" cy="525.2" r="1.55"/><circle cx="822.7" cy="458.1" r="1.55"/><circle cx="806.8" cy="480.1" r="1.55"/><circle cx="752.9" cy="425.5" r="1.55"/><circle cx="778.3" cy="399.3" r="1.55"/><circle cx="676.5" cy="493.7" r="1.55"/><circle cx="704.3" cy="544.9" r="1.55"/><circle cx="680" cy="514.7" r="1.55"/><circle cx="692.7" cy="478" r="1.55"/><circle cx="831.1" cy="432.9" r="1.55"/><circle cx="815.3" cy="446.5" r="1.55"/></g>
<g class="pk" clip-path="url(#c2)"><circle cx="797.9" cy="424.8" r="1.55"/><circle cx="799.3" cy="421.8" r="1.55"/><circle cx="796" cy="424.4" r="1.55"/><circle cx="799.9" cy="419.7" r="1.55"/><circle cx="801.3" cy="421.4" r="1.55"/><circle cx="797" cy="424.3" r="1.55"/><circle cx="801.9" cy="417.9" r="1.55"/><circle cx="800.2" cy="418.8" r="1.55"/><circle cx="800.2" cy="419.6" r="1.55"/><circle cx="804" cy="418.8" r="1.55"/><circle cx="807" cy="416.2" r="1.55"/><circle cx="801" cy="423" r="1.55"/><circle cx="802.8" cy="421.7" r="1.55"/><circle cx="803.3" cy="417.3" r="1.55"/><circle cx="802.3" cy="415.6" r="1.55"/><circle cx="802.8" cy="414.8" r="1.55"/><circle cx="804.5" cy="416.3" r="1.55"/><circle cx="802.6" cy="419.2" r="1.55"/><circle cx="801.9" cy="418.3" r="1.55"/><circle cx="803.9" cy="420.2" r="1.55"/><circle cx="806.6" cy="416" r="1.55"/><circle cx="805.1" cy="417.9" r="1.55"/><circle cx="801.5" cy="416.7" r="1.55"/><circle cx="800.9" cy="418.8" r="1.55"/><circle cx="804.8" cy="416.2" r="1.55"/><circle cx="803.4" cy="416.8" r="1.55"/><circle cx="812.4" cy="415.3" r="1.55"/><circle cx="802" cy="421.2" r="1.55"/><circle cx="805.5" cy="419.6" r="1.55"/><circle cx="803.8" cy="419.7" r="1.55"/><circle cx="809.5" cy="416.3" r="1.55"/><circle cx="807.7" cy="414.9" r="1.55"/><circle cx="811.8" cy="414.7" r="1.55"/><circle cx="810.8" cy="413.9" r="1.55"/><circle cx="806.3" cy="411.3" r="1.55"/><circle cx="806.3" cy="414.4" r="1.55"/><circle cx="808.4" cy="414.9" r="1.55"/><circle cx="807" cy="415.5" r="1.55"/><circle cx="810.8" cy="416.3" r="1.55"/><circle cx="810.8" cy="413.6" r="1.55"/><circle cx="806.7" cy="411.4" r="1.55"/><circle cx="809.4" cy="408.3" r="1.55"/><circle cx="807.6" cy="409.3" r="1.55"/><circle cx="807.3" cy="403.7" r="1.55"/><circle cx="812" cy="410.8" r="1.55"/><circle cx="809.8" cy="404.8" r="1.55"/><circle cx="808.9" cy="411.1" r="1.55"/><circle cx="818.6" cy="415" r="1.55"/><circle cx="809.1" cy="408.5" r="1.55"/><circle cx="810.1" cy="410.9" r="1.55"/><circle cx="810.8" cy="413.9" r="1.55"/><circle cx="818.1" cy="408.4" r="1.55"/><circle cx="811.8" cy="407.5" r="1.55"/><circle cx="816.5" cy="409.3" r="1.55"/><circle cx="811.3" cy="410.4" r="1.55"/><circle cx="809.5" cy="407.3" r="1.55"/><circle cx="814.4" cy="402.5" r="1.55"/><circle cx="815.4" cy="409.7" r="1.55"/><circle cx="814.4" cy="406.1" r="1.55"/><circle cx="811.9" cy="411.9" r="1.55"/><circle cx="813.3" cy="414.8" r="1.55"/><circle cx="818.5" cy="409.2" r="1.55"/><circle cx="815.1" cy="414" r="1.55"/><circle cx="810.6" cy="412.4" r="1.55"/><circle cx="816.1" cy="411" r="1.55"/><circle cx="807.5" cy="404.2" r="1.55"/><circle cx="816.1" cy="407.5" r="1.55"/><circle cx="808.7" cy="407.9" r="1.55"/><circle cx="816.9" cy="409.8" r="1.55"/><circle cx="810.3" cy="411.2" r="1.55"/><circle cx="812.9" cy="405.6" r="1.55"/><circle cx="814.5" cy="406.9" r="1.55"/><circle cx="817.7" cy="412.6" r="1.55"/><circle cx="817.8" cy="410" r="1.55"/><circle cx="812.7" cy="406.9" r="1.55"/><circle cx="820.6" cy="406.9" r="1.55"/><circle cx="814.5" cy="403.1" r="1.55"/><circle cx="813.6" cy="405.3" r="1.55"/><circle cx="812.1" cy="409.7" r="1.55"/><circle cx="815.2" cy="407.6" r="1.55"/><circle cx="809.8" cy="406.7" r="1.55"/><circle cx="822.4" cy="410.9" r="1.55"/><circle cx="814.8" cy="411" r="1.55"/><circle cx="820.6" cy="409.6" r="1.55"/><circle cx="810.5" cy="400.1" r="1.55"/><circle cx="820.3" cy="408.9" r="1.55"/><circle cx="820.6" cy="403.2" r="1.55"/><circle cx="823.3" cy="407.8" r="1.55"/><circle cx="815.4" cy="404.2" r="1.55"/><circle cx="812.2" cy="400.5" r="1.55"/><circle cx="822" cy="412.5" r="1.55"/><circle cx="818.8" cy="406.8" r="1.55"/><circle cx="811" cy="402.5" r="1.55"/><circle cx="820.3" cy="410.3" r="1.55"/><circle cx="824.2" cy="411.2" r="1.55"/><circle cx="818.1" cy="408.7" r="1.55"/><circle cx="821.8" cy="400.7" r="1.55"/><circle cx="824.1" cy="405" r="1.55"/><circle cx="815.7" cy="412.1" r="1.55"/><circle cx="816.4" cy="403.1" r="1.55"/><circle cx="819.3" cy="408.5" r="1.55"/><circle cx="815.5" cy="400.1" r="1.55"/><circle cx="820.3" cy="411.4" r="1.55"/><circle cx="816" cy="408.2" r="1.55"/><circle cx="818.3" cy="406.7" r="1.55"/><circle cx="811.7" cy="405.1" r="1.55"/><circle cx="820.9" cy="403.4" r="1.55"/><circle cx="819.2" cy="406.8" r="1.55"/><circle cx="819" cy="402.2" r="1.55"/><circle cx="812.1" cy="398.3" r="1.55"/><circle cx="817" cy="396.5" r="1.55"/><circle cx="826.5" cy="412.9" r="1.55"/><circle cx="816.1" cy="402.6" r="1.55"/><circle cx="820.4" cy="399.2" r="1.55"/><circle cx="818.3" cy="406.2" r="1.55"/><circle cx="832.2" cy="412.2" r="1.55"/><circle cx="811.8" cy="394.8" r="1.55"/><circle cx="821" cy="406.2" r="1.55"/><circle cx="819.8" cy="403.2" r="1.55"/><circle cx="818" cy="398.3" r="1.55"/><circle cx="816.2" cy="398.8" r="1.55"/><circle cx="825.7" cy="408.2" r="1.55"/><circle cx="823.4" cy="403.4" r="1.55"/><circle cx="816.8" cy="396.2" r="1.55"/><circle cx="820" cy="402.7" r="1.55"/><circle cx="813" cy="398.8" r="1.55"/><circle cx="833.2" cy="413" r="1.55"/><circle cx="820.9" cy="404.9" r="1.55"/><circle cx="813.8" cy="394.2" r="1.55"/><circle cx="823.5" cy="406.7" r="1.55"/><circle cx="820.3" cy="405" r="1.55"/><circle cx="819" cy="399.2" r="1.55"/><circle cx="821.7" cy="399.4" r="1.55"/><circle cx="812.8" cy="393.4" r="1.55"/><circle cx="824.9" cy="408.3" r="1.55"/><circle cx="830" cy="408.9" r="1.55"/><circle cx="820.4" cy="406.3" r="1.55"/><circle cx="826.1" cy="401.5" r="1.55"/><circle cx="816.6" cy="395" r="1.55"/><circle cx="819.2" cy="400" r="1.55"/><circle cx="814.4" cy="396.6" r="1.55"/><circle cx="813.1" cy="398.7" r="1.55"/><circle cx="825.6" cy="401.4" r="1.55"/><circle cx="828.8" cy="405.2" r="1.55"/><circle cx="819.7" cy="402.3" r="1.55"/><circle cx="831.9" cy="410.9" r="1.55"/><circle cx="825.9" cy="403.3" r="1.55"/><circle cx="815.3" cy="389.1" r="1.55"/><circle cx="817.1" cy="402.2" r="1.55"/><circle cx="829.8" cy="403.3" r="1.55"/><circle cx="820.1" cy="403.7" r="1.55"/><circle cx="826.7" cy="404.2" r="1.55"/><circle cx="815.6" cy="393.2" r="1.55"/><circle cx="827.1" cy="405.7" r="1.55"/><circle cx="819.9" cy="393.1" r="1.55"/><circle cx="821.5" cy="403.8" r="1.55"/><circle cx="835" cy="404.5" r="1.55"/><circle cx="825.1" cy="398" r="1.55"/><circle cx="823.6" cy="397" r="1.55"/><circle cx="820.6" cy="395.2" r="1.55"/><circle cx="819.2" cy="395.6" r="1.55"/><circle cx="827.7" cy="402.6" r="1.55"/><circle cx="816.3" cy="394.2" r="1.55"/><circle cx="817.4" cy="395" r="1.55"/><circle cx="829.3" cy="407.3" r="1.55"/><circle cx="818.6" cy="393.8" r="1.55"/><circle cx="829.2" cy="396.8" r="1.55"/><circle cx="828" cy="403.3" r="1.55"/><circle cx="824.1" cy="397.9" r="1.55"/><circle cx="818.5" cy="395.4" r="1.55"/><circle cx="825.1" cy="403.9" r="1.55"/><circle cx="832.6" cy="406.8" r="1.55"/><circle cx="833.9" cy="406.3" r="1.55"/><circle cx="821.8" cy="392.4" r="1.55"/><circle cx="822.3" cy="404.8" r="1.55"/><circle cx="821.6" cy="395.1" r="1.55"/><circle cx="822.5" cy="402.9" r="1.55"/><circle cx="821.7" cy="398.6" r="1.55"/><circle cx="818.7" cy="395.8" r="1.55"/><circle cx="827.5" cy="399" r="1.55"/><circle cx="820.6" cy="388.5" r="1.55"/><circle cx="825.8" cy="399.1" r="1.55"/><circle cx="821.8" cy="394.4" r="1.55"/><circle cx="827.8" cy="401.8" r="1.55"/><circle cx="827.8" cy="394.8" r="1.55"/><circle cx="822.9" cy="396.7" r="1.55"/><circle cx="822.4" cy="398.1" r="1.55"/><circle cx="828.2" cy="401.6" r="1.55"/><circle cx="823.4" cy="396.6" r="1.55"/><circle cx="812.9" cy="386.2" r="1.55"/><circle cx="821.2" cy="391" r="1.55"/><circle cx="825" cy="395.1" r="1.55"/><circle cx="818.4" cy="393" r="1.55"/><circle cx="820.5" cy="395.3" r="1.55"/><circle cx="829.9" cy="402.8" r="1.55"/><circle cx="821.3" cy="390.3" r="1.55"/><circle cx="830.6" cy="398.4" r="1.55"/><circle cx="828.4" cy="392.9" r="1.55"/><circle cx="831.5" cy="401.1" r="1.55"/><circle cx="829.8" cy="399.6" r="1.55"/><circle cx="826.6" cy="396.2" r="1.55"/><circle cx="833.2" cy="397.6" r="1.55"/><circle cx="829.7" cy="394.4" r="1.55"/><circle cx="821.1" cy="392.4" r="1.55"/><circle cx="826.8" cy="399.5" r="1.55"/><circle cx="829.8" cy="396.6" r="1.55"/><circle cx="826.6" cy="394.9" r="1.55"/><circle cx="829.7" cy="394.8" r="1.55"/><circle cx="825.6" cy="393.5" r="1.55"/><circle cx="828.3" cy="396.8" r="1.55"/><circle cx="829.5" cy="390.9" r="1.55"/><circle cx="822.1" cy="388.3" r="1.55"/><circle cx="832" cy="403.1" r="1.55"/><circle cx="833.8" cy="400.6" r="1.55"/><circle cx="828.7" cy="393.9" r="1.55"/><circle cx="827" cy="392.4" r="1.55"/><circle cx="822.8" cy="391.4" r="1.55"/><circle cx="829" cy="394.8" r="1.55"/><circle cx="832.9" cy="397.7" r="1.55"/><circle cx="831.1" cy="397.8" r="1.55"/><circle cx="833.4" cy="395" r="1.55"/><circle cx="827.3" cy="391.2" r="1.55"/><circle cx="826.5" cy="390.1" r="1.55"/><circle cx="832.5" cy="396.6" r="1.55"/><circle cx="834.8" cy="392.4" r="1.55"/><circle cx="827.7" cy="389.9" r="1.55"/><circle cx="827.5" cy="396" r="1.55"/><circle cx="819.7" cy="385.2" r="1.55"/><circle cx="835.5" cy="392.5" r="1.55"/><circle cx="827.6" cy="388.5" r="1.55"/><circle cx="827.8" cy="391.8" r="1.55"/><circle cx="832.5" cy="394.7" r="1.55"/><circle cx="831.1" cy="396.7" r="1.55"/><circle cx="827.2" cy="390.1" r="1.55"/><circle cx="838.3" cy="396.6" r="1.55"/><circle cx="840" cy="398.3" r="1.55"/><circle cx="834.7" cy="399" r="1.55"/><circle cx="836.4" cy="396.4" r="1.55"/><circle cx="827.1" cy="395.9" r="1.55"/><circle cx="830.7" cy="402.7" r="1.55"/><circle cx="826.3" cy="389.4" r="1.55"/><circle cx="827.6" cy="386.4" r="1.55"/><circle cx="832.6" cy="391.2" r="1.55"/><circle cx="830.9" cy="393.6" r="1.55"/><circle cx="825.4" cy="390.4" r="1.55"/><circle cx="838.9" cy="397.4" r="1.55"/><circle cx="821.8" cy="389.4" r="1.55"/><circle cx="822.1" cy="384.2" r="1.55"/><circle cx="831.9" cy="387.5" r="1.55"/><circle cx="835.5" cy="399.7" r="1.55"/><circle cx="835.3" cy="392.8" r="1.55"/><circle cx="836.2" cy="389" r="1.55"/><circle cx="827" cy="396.5" r="1.55"/><circle cx="833.4" cy="393.3" r="1.55"/><circle cx="830.6" cy="394.3" r="1.55"/><circle cx="832.1" cy="391.1" r="1.55"/><circle cx="832" cy="389.5" r="1.55"/><circle cx="824.9" cy="385.1" r="1.55"/><circle cx="835.5" cy="394.4" r="1.55"/><circle cx="830.7" cy="388.4" r="1.55"/><circle cx="832.4" cy="392.9" r="1.55"/><circle cx="831.5" cy="394.7" r="1.55"/><circle cx="834.9" cy="395.4" r="1.55"/><circle cx="834.8" cy="393.9" r="1.55"/><circle cx="836.2" cy="392.8" r="1.55"/><circle cx="825.5" cy="396.4" r="1.55"/><circle cx="835.6" cy="387.9" r="1.55"/><circle cx="829.3" cy="385.2" r="1.55"/><circle cx="832.8" cy="386.2" r="1.55"/><circle cx="830.5" cy="383.2" r="1.55"/><circle cx="831.4" cy="385" r="1.55"/><circle cx="832.5" cy="391.1" r="1.55"/><circle cx="834.5" cy="391.9" r="1.55"/><circle cx="829.2" cy="390.3" r="1.55"/><circle cx="831.8" cy="383.4" r="1.55"/><circle cx="836.8" cy="388.7" r="1.55"/><circle cx="835.6" cy="393.2" r="1.55"/><circle cx="825.4" cy="384.4" r="1.55"/><circle cx="833.5" cy="395.8" r="1.55"/><circle cx="824.8" cy="383.9" r="1.55"/><circle cx="835" cy="392.3" r="1.55"/><circle cx="830.8" cy="388.2" r="1.55"/><circle cx="832.4" cy="388" r="1.55"/><circle cx="837.4" cy="390.3" r="1.55"/><circle cx="838.1" cy="395.2" r="1.55"/><circle cx="841.4" cy="396.6" r="1.55"/><circle cx="836.9" cy="395.6" r="1.55"/><circle cx="829.6" cy="382.7" r="1.55"/><circle cx="832.3" cy="386.9" r="1.55"/><circle cx="832.2" cy="391.1" r="1.55"/><circle cx="833.8" cy="384" r="1.55"/><circle cx="837.7" cy="389" r="1.55"/><circle cx="842.3" cy="393.6" r="1.55"/><circle cx="837" cy="384" r="1.55"/><circle cx="832.8" cy="379.9" r="1.55"/><circle cx="833" cy="383.9" r="1.55"/><circle cx="836.3" cy="391.4" r="1.55"/><circle cx="839.2" cy="393.7" r="1.55"/><circle cx="839" cy="390.9" r="1.55"/><circle cx="839.5" cy="390.5" r="1.55"/><circle cx="831" cy="386.1" r="1.55"/><circle cx="829" cy="385" r="1.55"/><circle cx="833.5" cy="382.8" r="1.55"/><circle cx="836.7" cy="385.9" r="1.55"/><circle cx="835.6" cy="384.1" r="1.55"/><circle cx="836.3" cy="388.2" r="1.55"/><circle cx="837.9" cy="392" r="1.55"/><circle cx="841.4" cy="381.7" r="1.55"/><circle cx="843.5" cy="391.5" r="1.55"/><circle cx="835" cy="381.7" r="1.55"/><circle cx="840.5" cy="386.6" r="1.55"/><circle cx="838.6" cy="383.4" r="1.55"/><circle cx="841.5" cy="388.4" r="1.55"/><circle cx="835.4" cy="386.7" r="1.55"/><circle cx="834.8" cy="386.7" r="1.55"/><circle cx="834.1" cy="381.8" r="1.55"/><circle cx="834.3" cy="380.1" r="1.55"/><circle cx="839.7" cy="388.7" r="1.55"/><circle cx="833.8" cy="384.1" r="1.55"/><circle cx="840.3" cy="391.1" r="1.55"/><circle cx="844" cy="397" r="1.55"/><circle cx="836.9" cy="382.8" r="1.55"/><circle cx="839.2" cy="389.7" r="1.55"/><circle cx="837.6" cy="384.2" r="1.55"/><circle cx="831.8" cy="376.6" r="1.55"/><circle cx="838.3" cy="383.4" r="1.55"/><circle cx="844.5" cy="388.7" r="1.55"/><circle cx="831.8" cy="381.6" r="1.55"/><circle cx="838.4" cy="382.7" r="1.55"/><circle cx="832.2" cy="379.4" r="1.55"/><circle cx="838.8" cy="385.8" r="1.55"/><circle cx="837" cy="384.2" r="1.55"/><circle cx="838.4" cy="388.1" r="1.55"/><circle cx="831.6" cy="380.3" r="1.55"/><circle cx="837.6" cy="385.7" r="1.55"/><circle cx="842.3" cy="384.5" r="1.55"/><circle cx="838.8" cy="381.6" r="1.55"/><circle cx="841.1" cy="385.3" r="1.55"/><circle cx="839.9" cy="386.3" r="1.55"/><circle cx="831.5" cy="375" r="1.55"/><circle cx="840.8" cy="386" r="1.55"/><circle cx="830.8" cy="376.5" r="1.55"/><circle cx="835.5" cy="377.2" r="1.55"/><circle cx="838" cy="383.1" r="1.55"/><circle cx="836" cy="378.9" r="1.55"/><circle cx="836.4" cy="379.8" r="1.55"/><circle cx="842.8" cy="387.3" r="1.55"/><circle cx="834.6" cy="379.6" r="1.55"/><circle cx="846" cy="384.4" r="1.55"/><circle cx="841.2" cy="394.1" r="1.55"/><circle cx="846.2" cy="386" r="1.55"/><circle cx="834.4" cy="379.5" r="1.55"/><circle cx="833.9" cy="376.8" r="1.55"/><circle cx="840.2" cy="382.2" r="1.55"/><circle cx="850.8" cy="386.5" r="1.55"/><circle cx="841.7" cy="378.7" r="1.55"/><circle cx="838.1" cy="379.6" r="1.55"/><circle cx="840.5" cy="380.5" r="1.55"/><circle cx="844.6" cy="382.7" r="1.55"/><circle cx="845.6" cy="385" r="1.55"/><circle cx="841.5" cy="380.4" r="1.55"/><circle cx="843.8" cy="377.2" r="1.55"/><circle cx="844.8" cy="380.7" r="1.55"/><circle cx="843.9" cy="378.3" r="1.55"/><circle cx="839.5" cy="379.4" r="1.55"/><circle cx="835.5" cy="373.6" r="1.55"/><circle cx="835.7" cy="381.8" r="1.55"/><circle cx="839.6" cy="380.6" r="1.55"/><circle cx="838" cy="381.7" r="1.55"/><circle cx="837.6" cy="377.9" r="1.55"/><circle cx="845.4" cy="380.4" r="1.55"/><circle cx="846" cy="383.5" r="1.55"/><circle cx="842.3" cy="383.4" r="1.55"/><circle cx="838.3" cy="379" r="1.55"/><circle cx="839.7" cy="383.4" r="1.55"/><circle cx="846.1" cy="380.9" r="1.55"/><circle cx="840" cy="381.2" r="1.55"/><circle cx="843" cy="383.8" r="1.55"/><circle cx="837.7" cy="374.2" r="1.55"/><circle cx="843.9" cy="376.4" r="1.55"/><circle cx="850.1" cy="382" r="1.55"/><circle cx="846.8" cy="382.2" r="1.55"/><circle cx="843.7" cy="377.3" r="1.55"/><circle cx="841.7" cy="381.1" r="1.55"/><circle cx="849.3" cy="388.2" r="1.55"/><circle cx="846.6" cy="383.1" r="1.55"/><circle cx="841.2" cy="375.9" r="1.55"/><circle cx="841.9" cy="382.3" r="1.55"/><circle cx="841.7" cy="377.1" r="1.55"/><circle cx="840.8" cy="377" r="1.55"/><circle cx="838" cy="375.5" r="1.55"/><circle cx="846.9" cy="380.1" r="1.55"/><circle cx="846.7" cy="381.4" r="1.55"/><circle cx="838.8" cy="374" r="1.55"/><circle cx="845.1" cy="380.7" r="1.55"/><circle cx="836.2" cy="375.5" r="1.55"/><circle cx="846.2" cy="377.5" r="1.55"/><circle cx="846.9" cy="382.7" r="1.55"/><circle cx="853.8" cy="378.7" r="1.55"/><circle cx="844.4" cy="378.6" r="1.55"/><circle cx="846.1" cy="378.3" r="1.55"/><circle cx="844.4" cy="377.9" r="1.55"/><circle cx="841.9" cy="379" r="1.55"/><circle cx="840.4" cy="375.1" r="1.55"/><circle cx="839.8" cy="371.3" r="1.55"/><circle cx="850" cy="384.6" r="1.55"/><circle cx="836.9" cy="373.9" r="1.55"/><circle cx="849.7" cy="379" r="1.55"/><circle cx="852.2" cy="375.6" r="1.55"/><circle cx="843.7" cy="375.5" r="1.55"/><circle cx="841.2" cy="374.3" r="1.55"/><circle cx="846.8" cy="376.5" r="1.55"/><circle cx="848.3" cy="371.6" r="1.55"/><circle cx="851.4" cy="376.4" r="1.55"/><circle cx="840.2" cy="377.5" r="1.55"/><circle cx="847.3" cy="383.1" r="1.55"/><circle cx="842.9" cy="374.8" r="1.55"/><circle cx="855" cy="378.5" r="1.55"/><circle cx="851.2" cy="377.1" r="1.55"/><circle cx="848.2" cy="381.8" r="1.55"/><circle cx="847.5" cy="372.1" r="1.55"/><circle cx="846.9" cy="373.7" r="1.55"/><circle cx="846.1" cy="375.5" r="1.55"/><circle cx="848.5" cy="381.8" r="1.55"/><circle cx="843.5" cy="374.1" r="1.55"/><circle cx="842.2" cy="374.5" r="1.55"/><circle cx="845.2" cy="375.4" r="1.55"/><circle cx="849.5" cy="375.2" r="1.55"/><circle cx="847.1" cy="374.5" r="1.55"/><circle cx="846.9" cy="374.9" r="1.55"/><circle cx="840.7" cy="372.4" r="1.55"/><circle cx="845.3" cy="372.6" r="1.55"/><circle cx="840.7" cy="374" r="1.55"/><circle cx="848.8" cy="380.7" r="1.55"/><circle cx="844.9" cy="376.9" r="1.55"/><circle cx="849.2" cy="377.7" r="1.55"/><circle cx="841.8" cy="371.3" r="1.55"/><circle cx="844" cy="370.9" r="1.55"/><circle cx="848.3" cy="370.3" r="1.55"/><circle cx="846.9" cy="376.3" r="1.55"/><circle cx="852.2" cy="371.9" r="1.55"/><circle cx="843.7" cy="368.8" r="1.55"/><circle cx="849.7" cy="373.8" r="1.55"/><circle cx="848.1" cy="376.1" r="1.55"/><circle cx="847.7" cy="368.6" r="1.55"/><circle cx="846.8" cy="374.9" r="1.55"/><circle cx="853.1" cy="377.7" r="1.55"/><circle cx="851.3" cy="378.7" r="1.55"/><circle cx="847.4" cy="370.7" r="1.55"/><circle cx="855.7" cy="377.2" r="1.55"/><circle cx="844.8" cy="374.5" r="1.55"/><circle cx="843.8" cy="372.1" r="1.55"/><circle cx="853.3" cy="376.4" r="1.55"/><circle cx="851.3" cy="373.1" r="1.55"/><circle cx="858.3" cy="379.3" r="1.55"/><circle cx="848.2" cy="372.4" r="1.55"/><circle cx="851.8" cy="371.3" r="1.55"/><circle cx="854.5" cy="372.6" r="1.55"/><circle cx="850.7" cy="373.3" r="1.55"/><circle cx="850.5" cy="371.7" r="1.55"/><circle cx="848.8" cy="373.2" r="1.55"/><circle cx="849.4" cy="372.6" r="1.55"/><circle cx="851.2" cy="370.8" r="1.55"/><circle cx="851.2" cy="377" r="1.55"/><circle cx="849.7" cy="368.3" r="1.55"/><circle cx="850.2" cy="370.4" r="1.55"/><circle cx="846.9" cy="370" r="1.55"/><circle cx="849.4" cy="371.3" r="1.55"/><circle cx="853.3" cy="375.4" r="1.55"/><circle cx="851.6" cy="371.7" r="1.55"/><circle cx="852.7" cy="366.1" r="1.55"/><circle cx="848.3" cy="372" r="1.55"/><circle cx="851.1" cy="372.6" r="1.55"/><circle cx="847.7" cy="373.4" r="1.55"/><circle cx="848.6" cy="367" r="1.55"/><circle cx="852.2" cy="370.4" r="1.55"/><circle cx="845.1" cy="370.1" r="1.55"/><circle cx="859.5" cy="376.6" r="1.55"/><circle cx="850.3" cy="373.9" r="1.55"/><circle cx="847.8" cy="370.6" r="1.55"/><circle cx="850.8" cy="374.5" r="1.55"/><circle cx="850.2" cy="370.3" r="1.55"/><circle cx="850.4" cy="364" r="1.55"/><circle cx="848.6" cy="366.2" r="1.55"/><circle cx="850.7" cy="368.2" r="1.55"/><circle cx="860.1" cy="377" r="1.55"/><circle cx="853.2" cy="369.4" r="1.55"/><circle cx="851.5" cy="372.4" r="1.55"/><circle cx="852.4" cy="366.5" r="1.55"/><circle cx="850.7" cy="380.5" r="1.55"/><circle cx="854" cy="374.6" r="1.55"/><circle cx="846.5" cy="364.2" r="1.55"/><circle cx="848.3" cy="361.7" r="1.55"/><circle cx="844.8" cy="369.7" r="1.55"/><circle cx="847.9" cy="368.9" r="1.55"/><circle cx="846.5" cy="366.9" r="1.55"/><circle cx="853.1" cy="364.9" r="1.55"/><circle cx="858.9" cy="367.8" r="1.55"/><circle cx="856.1" cy="373.5" r="1.55"/><circle cx="853.5" cy="369.4" r="1.55"/><circle cx="854.3" cy="372.8" r="1.55"/><circle cx="851.1" cy="362.3" r="1.55"/><circle cx="858.5" cy="373.4" r="1.55"/><circle cx="858.4" cy="379.1" r="1.55"/><circle cx="852.2" cy="369.1" r="1.55"/><circle cx="855.4" cy="370.5" r="1.55"/><circle cx="846.5" cy="361.4" r="1.55"/><circle cx="859.5" cy="369.3" r="1.55"/><circle cx="855.9" cy="369.4" r="1.55"/><circle cx="847.9" cy="363.7" r="1.55"/><circle cx="854.2" cy="365.3" r="1.55"/><circle cx="857.4" cy="372.5" r="1.55"/><circle cx="854.8" cy="371.2" r="1.55"/><circle cx="851.9" cy="361.4" r="1.55"/><circle cx="856" cy="362.6" r="1.55"/><circle cx="848.4" cy="369.3" r="1.55"/><circle cx="855.1" cy="368.1" r="1.55"/><circle cx="851.5" cy="366" r="1.55"/><circle cx="856.2" cy="366.3" r="1.55"/><circle cx="854.2" cy="366.9" r="1.55"/><circle cx="847.5" cy="365.1" r="1.55"/><circle cx="854.1" cy="370.7" r="1.55"/><circle cx="856.3" cy="367.5" r="1.55"/><circle cx="857.2" cy="369.7" r="1.55"/><circle cx="862.7" cy="374.1" r="1.55"/><circle cx="851.7" cy="360.3" r="1.55"/><circle cx="857" cy="366.6" r="1.55"/><circle cx="854.9" cy="372.8" r="1.55"/><circle cx="854.7" cy="363.7" r="1.55"/><circle cx="865.5" cy="370.8" r="1.55"/><circle cx="855.7" cy="363.3" r="1.55"/><circle cx="855.3" cy="366" r="1.55"/><circle cx="855.4" cy="362.6" r="1.55"/><circle cx="860.8" cy="369.1" r="1.55"/><circle cx="855" cy="361.5" r="1.55"/><circle cx="855.5" cy="363.8" r="1.55"/><circle cx="859.3" cy="365" r="1.55"/><circle cx="859.2" cy="365.3" r="1.55"/><circle cx="859.5" cy="369.1" r="1.55"/><circle cx="856" cy="365.4" r="1.55"/><circle cx="854.6" cy="362.8" r="1.55"/><circle cx="859.3" cy="362.6" r="1.55"/><circle cx="854.3" cy="362.4" r="1.55"/><circle cx="855" cy="363.8" r="1.55"/><circle cx="856.2" cy="363" r="1.55"/><circle cx="857.8" cy="366.3" r="1.55"/><circle cx="858.6" cy="368.9" r="1.55"/><circle cx="852.7" cy="362.4" r="1.55"/><circle cx="857" cy="361.5" r="1.55"/><circle cx="858.2" cy="363.9" r="1.55"/><circle cx="857.2" cy="365.1" r="1.55"/><circle cx="859.1" cy="361.5" r="1.55"/><circle cx="858.9" cy="367" r="1.55"/><circle cx="857.1" cy="363.8" r="1.55"/><circle cx="855.1" cy="356.1" r="1.55"/><circle cx="863.4" cy="367.1" r="1.55"/><circle cx="864.3" cy="368.2" r="1.55"/><circle cx="858.2" cy="365.6" r="1.55"/><circle cx="864.4" cy="359.9" r="1.55"/><circle cx="852.7" cy="360.2" r="1.55"/><circle cx="860.7" cy="363.2" r="1.55"/><circle cx="857.5" cy="359.5" r="1.55"/><circle cx="862.6" cy="363.1" r="1.55"/><circle cx="858" cy="368.9" r="1.55"/><circle cx="861.5" cy="368.1" r="1.55"/><circle cx="855.9" cy="361.5" r="1.55"/><circle cx="863.6" cy="367.3" r="1.55"/><circle cx="860.2" cy="365.4" r="1.55"/><circle cx="861.9" cy="365.4" r="1.55"/><circle cx="858.5" cy="360.5" r="1.55"/><circle cx="862.3" cy="362.1" r="1.55"/><circle cx="855.3" cy="359.4" r="1.55"/><circle cx="856.1" cy="361.9" r="1.55"/><circle cx="861.3" cy="362.6" r="1.55"/><circle cx="864.1" cy="366.9" r="1.55"/><circle cx="858.2" cy="361.5" r="1.55"/><circle cx="864.9" cy="361.5" r="1.55"/><circle cx="856" cy="361.2" r="1.55"/><circle cx="862.9" cy="363.4" r="1.55"/><circle cx="858.1" cy="358.1" r="1.55"/><circle cx="858.8" cy="363.8" r="1.55"/><circle cx="860" cy="359" r="1.55"/><circle cx="863.4" cy="362.1" r="1.55"/><circle cx="858.8" cy="355" r="1.55"/><circle cx="861.1" cy="360.1" r="1.55"/><circle cx="866.3" cy="363.8" r="1.55"/><circle cx="867.1" cy="360.3" r="1.55"/><circle cx="864" cy="359.6" r="1.55"/><circle cx="866.8" cy="362.9" r="1.55"/><circle cx="866" cy="355.7" r="1.55"/><circle cx="866.8" cy="361.8" r="1.55"/><circle cx="866.7" cy="359.7" r="1.55"/><circle cx="863.2" cy="361.6" r="1.55"/><circle cx="863.4" cy="361.2" r="1.55"/><circle cx="862.9" cy="358.9" r="1.55"/><circle cx="862.9" cy="361.1" r="1.55"/><circle cx="859.6" cy="357.5" r="1.55"/><circle cx="862.2" cy="355.1" r="1.55"/><circle cx="866.8" cy="365" r="1.55"/><circle cx="863.6" cy="357.9" r="1.55"/><circle cx="860.6" cy="351.5" r="1.55"/><circle cx="866.7" cy="363.7" r="1.55"/><circle cx="870" cy="360.3" r="1.55"/><circle cx="864.2" cy="360.8" r="1.55"/><circle cx="862.3" cy="352.7" r="1.55"/><circle cx="872.1" cy="361.7" r="1.55"/><circle cx="868" cy="360.8" r="1.55"/><circle cx="869.2" cy="360.3" r="1.55"/><circle cx="865.5" cy="359.2" r="1.55"/><circle cx="864.2" cy="356.5" r="1.55"/><circle cx="857.7" cy="363.1" r="1.55"/><circle cx="862.7" cy="352.8" r="1.55"/><circle cx="863.6" cy="359" r="1.55"/><circle cx="868.3" cy="359.8" r="1.55"/><circle cx="866.3" cy="359.3" r="1.55"/><circle cx="864.1" cy="347.7" r="1.55"/><circle cx="868.7" cy="359.8" r="1.55"/><circle cx="860.3" cy="353.1" r="1.55"/><circle cx="868.1" cy="357" r="1.55"/><circle cx="868.1" cy="354.6" r="1.55"/><circle cx="864" cy="355.4" r="1.55"/><circle cx="859.8" cy="356.1" r="1.55"/><circle cx="870.1" cy="361.7" r="1.55"/><circle cx="856.4" cy="351.5" r="1.55"/><circle cx="862.6" cy="354.4" r="1.55"/><circle cx="871.3" cy="358.7" r="1.55"/><circle cx="865.2" cy="356.9" r="1.55"/><circle cx="867.5" cy="354.8" r="1.55"/><circle cx="863.8" cy="351.7" r="1.55"/><circle cx="865.6" cy="360.1" r="1.55"/><circle cx="867.9" cy="353.4" r="1.55"/><circle cx="869.6" cy="354.6" r="1.55"/><circle cx="866.3" cy="360.4" r="1.55"/><circle cx="861.2" cy="351" r="1.55"/><circle cx="867.6" cy="355.9" r="1.55"/><circle cx="869.6" cy="356.6" r="1.55"/><circle cx="862.5" cy="353.5" r="1.55"/><circle cx="866.1" cy="354.8" r="1.55"/><circle cx="867.3" cy="354.2" r="1.55"/><circle cx="872.3" cy="358.9" r="1.55"/><circle cx="864.1" cy="353.7" r="1.55"/><circle cx="859.4" cy="349.3" r="1.55"/><circle cx="866.9" cy="354.6" r="1.55"/><circle cx="869.2" cy="353.7" r="1.55"/><circle cx="866.3" cy="360" r="1.55"/><circle cx="867.9" cy="351.4" r="1.55"/><circle cx="864.1" cy="351.1" r="1.55"/><circle cx="867.2" cy="352.1" r="1.55"/><circle cx="878.1" cy="357.8" r="1.55"/><circle cx="860.2" cy="351.9" r="1.55"/><circle cx="864.1" cy="348.1" r="1.55"/><circle cx="867.4" cy="355.3" r="1.55"/><circle cx="864.7" cy="348.8" r="1.55"/><circle cx="876.6" cy="355.1" r="1.55"/><circle cx="868.8" cy="350.9" r="1.55"/><circle cx="864.2" cy="348.4" r="1.55"/><circle cx="863.1" cy="346.3" r="1.55"/><circle cx="866.4" cy="350.5" r="1.55"/><circle cx="870.1" cy="354.2" r="1.55"/><circle cx="866.4" cy="348.4" r="1.55"/><circle cx="878" cy="361.7" r="1.55"/><circle cx="870.6" cy="356.4" r="1.55"/><circle cx="869.2" cy="352" r="1.55"/><circle cx="867" cy="352" r="1.55"/><circle cx="878.5" cy="359.3" r="1.55"/><circle cx="867.3" cy="350.6" r="1.55"/><circle cx="871.8" cy="354.8" r="1.55"/><circle cx="875.1" cy="355.5" r="1.55"/><circle cx="868.9" cy="348.1" r="1.55"/><circle cx="875.3" cy="350.3" r="1.55"/><circle cx="870.3" cy="349.2" r="1.55"/><circle cx="873.9" cy="356.4" r="1.55"/><circle cx="876.2" cy="354.3" r="1.55"/><circle cx="871.3" cy="354.1" r="1.55"/><circle cx="873.1" cy="350.1" r="1.55"/><circle cx="869.3" cy="346.1" r="1.55"/><circle cx="878.7" cy="357.6" r="1.55"/><circle cx="877" cy="353.9" r="1.55"/><circle cx="873.1" cy="353.4" r="1.55"/><circle cx="876.1" cy="354.7" r="1.55"/><circle cx="873" cy="349.5" r="1.55"/><circle cx="868.3" cy="347.8" r="1.55"/><circle cx="876.7" cy="351" r="1.55"/><circle cx="870.1" cy="347" r="1.55"/><circle cx="874.2" cy="345.3" r="1.55"/><circle cx="873.7" cy="352.9" r="1.55"/><circle cx="867.7" cy="345.8" r="1.55"/><circle cx="872.9" cy="349.7" r="1.55"/><circle cx="871.5" cy="349.3" r="1.55"/><circle cx="870.7" cy="345.2" r="1.55"/><circle cx="865.3" cy="350.2" r="1.55"/><circle cx="870.3" cy="350.8" r="1.55"/><circle cx="874.2" cy="346.6" r="1.55"/><circle cx="873.2" cy="350" r="1.55"/><circle cx="868.3" cy="345.8" r="1.55"/><circle cx="873.1" cy="349.7" r="1.55"/><circle cx="865.6" cy="349.6" r="1.55"/><circle cx="869.6" cy="348.2" r="1.55"/><circle cx="876.4" cy="351.4" r="1.55"/><circle cx="874.2" cy="344.4" r="1.55"/><circle cx="871.5" cy="346.3" r="1.55"/><circle cx="872.9" cy="349.4" r="1.55"/><circle cx="878.2" cy="348.8" r="1.55"/><circle cx="875.9" cy="344.6" r="1.55"/><circle cx="875.6" cy="350.4" r="1.55"/><circle cx="868.7" cy="346.3" r="1.55"/><circle cx="875.2" cy="349.8" r="1.55"/><circle cx="875" cy="346.8" r="1.55"/><circle cx="875.6" cy="347.2" r="1.55"/><circle cx="869.9" cy="347.3" r="1.55"/><circle cx="871.5" cy="347.5" r="1.55"/><circle cx="874.9" cy="349.1" r="1.55"/><circle cx="879.9" cy="346.7" r="1.55"/><circle cx="874" cy="345.9" r="1.55"/><circle cx="875.2" cy="349.6" r="1.55"/><circle cx="872.7" cy="343.6" r="1.55"/><circle cx="870.4" cy="343.2" r="1.55"/><circle cx="876.4" cy="349.5" r="1.55"/><circle cx="878.4" cy="347.7" r="1.55"/><circle cx="878.6" cy="347.4" r="1.55"/><circle cx="875.8" cy="346.5" r="1.55"/><circle cx="877.3" cy="348.7" r="1.55"/><circle cx="874.8" cy="348.4" r="1.55"/><circle cx="874.5" cy="342.6" r="1.55"/><circle cx="878.5" cy="349.9" r="1.55"/><circle cx="873.6" cy="343.5" r="1.55"/><circle cx="884" cy="350.7" r="1.55"/><circle cx="875.9" cy="345.7" r="1.55"/><circle cx="874" cy="343.4" r="1.55"/><circle cx="874.4" cy="346.8" r="1.55"/><circle cx="877.1" cy="345.6" r="1.55"/><circle cx="875.4" cy="347.7" r="1.55"/><circle cx="877.4" cy="348.1" r="1.55"/><circle cx="873.4" cy="345.7" r="1.55"/><circle cx="872.2" cy="339.3" r="1.55"/><circle cx="874" cy="343.9" r="1.55"/><circle cx="876.2" cy="348.6" r="1.55"/><circle cx="879.6" cy="348.8" r="1.55"/><circle cx="872.3" cy="339.5" r="1.55"/><circle cx="873.7" cy="349.3" r="1.55"/><circle cx="881.1" cy="347.4" r="1.55"/><circle cx="875.2" cy="339.8" r="1.55"/><circle cx="876.7" cy="341.7" r="1.55"/><circle cx="880.8" cy="341.1" r="1.55"/><circle cx="876.4" cy="343.4" r="1.55"/><circle cx="881.4" cy="350.7" r="1.55"/><circle cx="882.7" cy="344.5" r="1.55"/><circle cx="880.9" cy="342.4" r="1.55"/><circle cx="876.8" cy="343.8" r="1.55"/><circle cx="874" cy="339.6" r="1.55"/><circle cx="878.1" cy="342.9" r="1.55"/><circle cx="878.6" cy="343.2" r="1.55"/><circle cx="872.7" cy="339.5" r="1.55"/><circle cx="881" cy="348.2" r="1.55"/><circle cx="881.5" cy="349.7" r="1.55"/><circle cx="877.4" cy="342" r="1.55"/><circle cx="878.7" cy="343.6" r="1.55"/><circle cx="877.6" cy="338.5" r="1.55"/><circle cx="881.9" cy="345.2" r="1.55"/><circle cx="878.6" cy="342.7" r="1.55"/><circle cx="884.8" cy="346.5" r="1.55"/><circle cx="881.6" cy="344.9" r="1.55"/><circle cx="881.6" cy="345" r="1.55"/><circle cx="882.3" cy="343.1" r="1.55"/><circle cx="875.9" cy="338.8" r="1.55"/><circle cx="883.4" cy="343" r="1.55"/><circle cx="877" cy="337.1" r="1.55"/><circle cx="883.4" cy="340.7" r="1.55"/><circle cx="881.7" cy="343.9" r="1.55"/><circle cx="875.5" cy="340.9" r="1.55"/><circle cx="879.3" cy="340" r="1.55"/><circle cx="880.5" cy="341.1" r="1.55"/><circle cx="881" cy="342.9" r="1.55"/><circle cx="882.1" cy="341.9" r="1.55"/><circle cx="881" cy="341.7" r="1.55"/><circle cx="879.1" cy="338.9" r="1.55"/><circle cx="883.6" cy="340.4" r="1.55"/><circle cx="888.3" cy="347.3" r="1.55"/><circle cx="880.7" cy="338.8" r="1.55"/><circle cx="884.6" cy="346.1" r="1.55"/><circle cx="880.5" cy="335.9" r="1.55"/><circle cx="881.7" cy="337.5" r="1.55"/><circle cx="886.7" cy="342.7" r="1.55"/><circle cx="885.1" cy="341.8" r="1.55"/><circle cx="884.8" cy="346.2" r="1.55"/><circle cx="881.4" cy="344.3" r="1.55"/><circle cx="878.2" cy="341" r="1.55"/><circle cx="882.8" cy="340.1" r="1.55"/><circle cx="884.4" cy="343.6" r="1.55"/><circle cx="883.9" cy="341.7" r="1.55"/><circle cx="887.5" cy="341.4" r="1.55"/><circle cx="878.9" cy="339.9" r="1.55"/><circle cx="882.9" cy="338.3" r="1.55"/><circle cx="881.6" cy="338.7" r="1.55"/><circle cx="884.1" cy="336.6" r="1.55"/><circle cx="882.8" cy="338.9" r="1.55"/><circle cx="889.3" cy="339.5" r="1.55"/><circle cx="883.2" cy="340.1" r="1.55"/><circle cx="887" cy="341.5" r="1.55"/><circle cx="882" cy="341.6" r="1.55"/><circle cx="880" cy="333.5" r="1.55"/><circle cx="879.2" cy="336.2" r="1.55"/><circle cx="884.4" cy="337.2" r="1.55"/><circle cx="887.7" cy="340.7" r="1.55"/><circle cx="880.3" cy="342.2" r="1.55"/><circle cx="879.1" cy="335.8" r="1.55"/><circle cx="881.7" cy="341.4" r="1.55"/><circle cx="881.9" cy="339.3" r="1.55"/><circle cx="885.3" cy="340.1" r="1.55"/><circle cx="886.3" cy="340.3" r="1.55"/><circle cx="886.1" cy="337.8" r="1.55"/><circle cx="882" cy="337.2" r="1.55"/><circle cx="880.3" cy="336.9" r="1.55"/><circle cx="882.8" cy="337.9" r="1.55"/><circle cx="882.8" cy="339.3" r="1.55"/><circle cx="886.4" cy="337.9" r="1.55"/><circle cx="884.2" cy="336" r="1.55"/><circle cx="884.4" cy="334.9" r="1.55"/><circle cx="885.5" cy="339.4" r="1.55"/><circle cx="886.1" cy="340.5" r="1.55"/><circle cx="887.7" cy="336.2" r="1.55"/><circle cx="882.8" cy="334.6" r="1.55"/><circle cx="883.9" cy="337" r="1.55"/><circle cx="890.9" cy="342.4" r="1.55"/><circle cx="883.2" cy="333.9" r="1.55"/><circle cx="889.3" cy="337.7" r="1.55"/><circle cx="881" cy="336.7" r="1.55"/><circle cx="886" cy="334.9" r="1.55"/><circle cx="890.8" cy="338" r="1.55"/><circle cx="882.6" cy="331" r="1.55"/><circle cx="888.1" cy="337.4" r="1.55"/><circle cx="885.7" cy="335.2" r="1.55"/><circle cx="884.6" cy="331.1" r="1.55"/><circle cx="888.3" cy="339.3" r="1.55"/><circle cx="886.3" cy="333.7" r="1.55"/><circle cx="886.2" cy="336.1" r="1.55"/><circle cx="884.2" cy="334.2" r="1.55"/><circle cx="889.9" cy="336.5" r="1.55"/><circle cx="886.9" cy="340.1" r="1.55"/><circle cx="889.4" cy="337.1" r="1.55"/><circle cx="891.4" cy="343.1" r="1.55"/><circle cx="886.3" cy="339.3" r="1.55"/><circle cx="887.4" cy="333.8" r="1.55"/><circle cx="888.7" cy="336.6" r="1.55"/><circle cx="890" cy="334.4" r="1.55"/><circle cx="880.8" cy="330.6" r="1.55"/><circle cx="889.2" cy="337.9" r="1.55"/><circle cx="894.4" cy="338.2" r="1.55"/><circle cx="890.8" cy="336.5" r="1.55"/><circle cx="885.1" cy="334.9" r="1.55"/><circle cx="892.9" cy="340.6" r="1.55"/><circle cx="895.9" cy="337.3" r="1.55"/><circle cx="892.1" cy="336" r="1.55"/><circle cx="885.8" cy="336.2" r="1.55"/><circle cx="885" cy="330.7" r="1.55"/><circle cx="886.7" cy="337.3" r="1.55"/><circle cx="888.3" cy="329.2" r="1.55"/><circle cx="891.1" cy="336.6" r="1.55"/><circle cx="886.5" cy="333.6" r="1.55"/><circle cx="895.3" cy="335.1" r="1.55"/><circle cx="892.3" cy="333.2" r="1.55"/><circle cx="889.4" cy="332.8" r="1.55"/><circle cx="891.5" cy="334.1" r="1.55"/><circle cx="889.5" cy="336.8" r="1.55"/><circle cx="884.9" cy="328.8" r="1.55"/><circle cx="888.6" cy="332.4" r="1.55"/><circle cx="888.9" cy="332" r="1.55"/><circle cx="892" cy="331.3" r="1.55"/><circle cx="894.1" cy="334.7" r="1.55"/><circle cx="887.1" cy="331.7" r="1.55"/><circle cx="889.7" cy="332" r="1.55"/><circle cx="888.3" cy="331.9" r="1.55"/><circle cx="884.4" cy="332.1" r="1.55"/><circle cx="890.2" cy="329.7" r="1.55"/><circle cx="886.9" cy="331.5" r="1.55"/><circle cx="894.3" cy="331.3" r="1.55"/><circle cx="892.7" cy="338.1" r="1.55"/><circle cx="891" cy="334.9" r="1.55"/><circle cx="891" cy="335.9" r="1.55"/><circle cx="894.2" cy="332.4" r="1.55"/><circle cx="890" cy="330.4" r="1.55"/><circle cx="893.7" cy="332.5" r="1.55"/><circle cx="892.6" cy="331.4" r="1.55"/><circle cx="891.2" cy="331" r="1.55"/><circle cx="890.7" cy="330" r="1.55"/><circle cx="895.5" cy="328.7" r="1.55"/><circle cx="894.5" cy="330" r="1.55"/><circle cx="891.8" cy="331.9" r="1.55"/><circle cx="891.4" cy="329.4" r="1.55"/><circle cx="891.8" cy="327.2" r="1.55"/><circle cx="891.7" cy="327.5" r="1.55"/><circle cx="891.5" cy="331.2" r="1.55"/><circle cx="897.7" cy="333.1" r="1.55"/><circle cx="890.6" cy="328.1" r="1.55"/><circle cx="890.4" cy="329.1" r="1.55"/><circle cx="891.1" cy="329.8" r="1.55"/><circle cx="890.1" cy="328.8" r="1.55"/><circle cx="891.7" cy="328.2" r="1.55"/><circle cx="895.4" cy="331.2" r="1.55"/><circle cx="894.8" cy="334.4" r="1.55"/><circle cx="892.8" cy="327.3" r="1.55"/><circle cx="896.4" cy="326.6" r="1.55"/><circle cx="895.3" cy="332.1" r="1.55"/><circle cx="896" cy="328.8" r="1.55"/><circle cx="892.9" cy="329.6" r="1.55"/><circle cx="896.6" cy="328.3" r="1.55"/><circle cx="894.8" cy="328.1" r="1.55"/><circle cx="891.7" cy="328.6" r="1.55"/><circle cx="897.8" cy="327.8" r="1.55"/><circle cx="892.3" cy="328.2" r="1.55"/><circle cx="893.7" cy="327.4" r="1.55"/><circle cx="895.3" cy="329.3" r="1.55"/><circle cx="894.1" cy="324.2" r="1.55"/><circle cx="896.3" cy="330.1" r="1.55"/><circle cx="891.6" cy="328.4" r="1.55"/><circle cx="892.6" cy="326.4" r="1.55"/><circle cx="896.8" cy="328.9" r="1.55"/><circle cx="897.7" cy="328.4" r="1.55"/><circle cx="897.2" cy="330.1" r="1.55"/><circle cx="897.2" cy="331.9" r="1.55"/><circle cx="892.3" cy="326.6" r="1.55"/><circle cx="896.2" cy="325.9" r="1.55"/><circle cx="894.3" cy="324.3" r="1.55"/><circle cx="894.6" cy="325.4" r="1.55"/><circle cx="897.9" cy="329" r="1.55"/><circle cx="896.8" cy="327.7" r="1.55"/><circle cx="897.6" cy="326.7" r="1.55"/><circle cx="897.4" cy="327.6" r="1.55"/><circle cx="896.1" cy="325.3" r="1.55"/><circle cx="898.9" cy="329.6" r="1.55"/><circle cx="894.6" cy="324.3" r="1.55"/><circle cx="900" cy="326" r="1.55"/><circle cx="894" cy="326.5" r="1.55"/><circle cx="891.4" cy="327.7" r="1.55"/><circle cx="901.2" cy="330.4" r="1.55"/><circle cx="896.6" cy="324.9" r="1.55"/><circle cx="898" cy="328" r="1.55"/><circle cx="893.6" cy="326.1" r="1.55"/><circle cx="896.5" cy="323.5" r="1.55"/><circle cx="901.9" cy="326" r="1.55"/><circle cx="896.7" cy="328.1" r="1.55"/><circle cx="894.1" cy="329.3" r="1.55"/><circle cx="899.7" cy="325.3" r="1.55"/><circle cx="898.6" cy="327" r="1.55"/><circle cx="899.3" cy="327.2" r="1.55"/><circle cx="899.6" cy="325.4" r="1.55"/><circle cx="899.8" cy="326.1" r="1.55"/><circle cx="897.6" cy="326.7" r="1.55"/><circle cx="899.2" cy="324.3" r="1.55"/><circle cx="900.8" cy="326.8" r="1.55"/><circle cx="893.6" cy="320.2" r="1.55"/><circle cx="899.7" cy="326.7" r="1.55"/><circle cx="900.5" cy="322.5" r="1.55"/><circle cx="900.8" cy="322.9" r="1.55"/><circle cx="896.5" cy="325.4" r="1.55"/><circle cx="897.9" cy="322.2" r="1.55"/><circle cx="898.6" cy="326.8" r="1.55"/><circle cx="895.9" cy="322.1" r="1.55"/><circle cx="896.1" cy="322.8" r="1.55"/><circle cx="893.7" cy="324.9" r="1.55"/><circle cx="901.6" cy="328" r="1.55"/><circle cx="899.6" cy="323.2" r="1.55"/><circle cx="900.6" cy="322.1" r="1.55"/><circle cx="895.7" cy="321.2" r="1.55"/><circle cx="899.1" cy="324" r="1.55"/><circle cx="900.4" cy="325.8" r="1.55"/><circle cx="898.3" cy="320" r="1.55"/><circle cx="898.9" cy="324.1" r="1.55"/><circle cx="898.1" cy="325.4" r="1.55"/><circle cx="901.8" cy="323.4" r="1.55"/><circle cx="901.1" cy="325.6" r="1.55"/><circle cx="904.3" cy="326.3" r="1.55"/><circle cx="898.5" cy="324.1" r="1.55"/><circle cx="899.5" cy="323.2" r="1.55"/><circle cx="896.3" cy="323.6" r="1.55"/><circle cx="902.9" cy="323.6" r="1.55"/><circle cx="899.8" cy="322.7" r="1.55"/><circle cx="901.2" cy="323.2" r="1.55"/><circle cx="901.2" cy="324.2" r="1.55"/><circle cx="902" cy="320" r="1.55"/><circle cx="901.4" cy="320.5" r="1.55"/><circle cx="898.1" cy="325.1" r="1.55"/><circle cx="901.9" cy="321.2" r="1.55"/><circle cx="900.4" cy="322.4" r="1.55"/><circle cx="898.6" cy="323.3" r="1.55"/><circle cx="901.2" cy="321.2" r="1.55"/><circle cx="905" cy="322.4" r="1.55"/><circle cx="900.7" cy="319.5" r="1.55"/><circle cx="901.7" cy="321.2" r="1.55"/><circle cx="899.9" cy="322.7" r="1.55"/><circle cx="903.3" cy="323.6" r="1.55"/><circle cx="902.1" cy="318.5" r="1.55"/><circle cx="902.6" cy="319.1" r="1.55"/><circle cx="900.7" cy="320" r="1.55"/><circle cx="902.6" cy="323.2" r="1.55"/><circle cx="905.3" cy="319.9" r="1.55"/><circle cx="899.9" cy="324.5" r="1.55"/><circle cx="904.3" cy="318.9" r="1.55"/><circle cx="906.3" cy="325.2" r="1.55"/><circle cx="898.9" cy="324.9" r="1.55"/><circle cx="899.9" cy="315.4" r="1.55"/><circle cx="898.8" cy="318.1" r="1.55"/><circle cx="900.2" cy="317.1" r="1.55"/><circle cx="902.5" cy="318.5" r="1.55"/><circle cx="899" cy="317.7" r="1.55"/><circle cx="901.9" cy="320.7" r="1.55"/><circle cx="900.3" cy="316.8" r="1.55"/><circle cx="902.5" cy="319.9" r="1.55"/><circle cx="903" cy="317.2" r="1.55"/><circle cx="904.4" cy="320.2" r="1.55"/><circle cx="903.7" cy="319.4" r="1.55"/><circle cx="899.6" cy="319.1" r="1.55"/><circle cx="908" cy="321.5" r="1.55"/><circle cx="902.7" cy="315.6" r="1.55"/><circle cx="901.6" cy="318.9" r="1.55"/><circle cx="902.2" cy="315.1" r="1.55"/><circle cx="905.1" cy="321.2" r="1.55"/><circle cx="904.8" cy="321.4" r="1.55"/><circle cx="902.7" cy="319.5" r="1.55"/><circle cx="902.6" cy="310.7" r="1.55"/><circle cx="908.4" cy="317.1" r="1.55"/><circle cx="908.4" cy="321" r="1.55"/><circle cx="908.6" cy="315.8" r="1.55"/><circle cx="906.4" cy="319.6" r="1.55"/><circle cx="905.7" cy="317" r="1.55"/><circle cx="904.7" cy="313.5" r="1.55"/><circle cx="905.5" cy="316.3" r="1.55"/><circle cx="906.6" cy="313.6" r="1.55"/><circle cx="907.4" cy="317.2" r="1.55"/><circle cx="906.3" cy="309.8" r="1.55"/><circle cx="906.7" cy="317.9" r="1.55"/><circle cx="907.5" cy="315.4" r="1.55"/><circle cx="903.6" cy="313" r="1.55"/><circle cx="907.1" cy="311.7" r="1.55"/><circle cx="909.9" cy="314.7" r="1.55"/><circle cx="911.6" cy="315.7" r="1.55"/><circle cx="907.9" cy="315.4" r="1.55"/><circle cx="904.8" cy="313.2" r="1.55"/><circle cx="907.6" cy="312.3" r="1.55"/><circle cx="903.3" cy="310.2" r="1.55"/><circle cx="905" cy="313.8" r="1.55"/><circle cx="906.7" cy="312.4" r="1.55"/><circle cx="913.3" cy="315.9" r="1.55"/><circle cx="906.7" cy="313.5" r="1.55"/><circle cx="908.1" cy="317.6" r="1.55"/><circle cx="913.1" cy="316.4" r="1.55"/><circle cx="904.7" cy="310.9" r="1.55"/><circle cx="905.3" cy="313.2" r="1.55"/><circle cx="907.4" cy="312.9" r="1.55"/><circle cx="911.1" cy="314.3" r="1.55"/><circle cx="910.9" cy="312.6" r="1.55"/><circle cx="911.7" cy="315.1" r="1.55"/><circle cx="906" cy="311.2" r="1.55"/><circle cx="912.5" cy="315.4" r="1.55"/><circle cx="906.3" cy="309.5" r="1.55"/><circle cx="910.3" cy="316.3" r="1.55"/><circle cx="905.8" cy="313.6" r="1.55"/><circle cx="908.5" cy="315.1" r="1.55"/><circle cx="907.6" cy="311.1" r="1.55"/><circle cx="910.9" cy="314" r="1.55"/><circle cx="911.9" cy="313.5" r="1.55"/><circle cx="909.7" cy="312.3" r="1.55"/><circle cx="915.3" cy="313.3" r="1.55"/><circle cx="911.7" cy="314.5" r="1.55"/><circle cx="909.5" cy="308.9" r="1.55"/><circle cx="912.2" cy="313.9" r="1.55"/><circle cx="907.8" cy="312.1" r="1.55"/><circle cx="915.9" cy="312.3" r="1.55"/><circle cx="907.3" cy="315.1" r="1.55"/><circle cx="910.4" cy="307.3" r="1.55"/><circle cx="911.5" cy="309.9" r="1.55"/><circle cx="912" cy="313.9" r="1.55"/><circle cx="910.8" cy="312" r="1.55"/><circle cx="911.4" cy="314.6" r="1.55"/><circle cx="915.5" cy="312.1" r="1.55"/><circle cx="913.8" cy="311.9" r="1.55"/><circle cx="912.6" cy="312" r="1.55"/><circle cx="913.4" cy="310" r="1.55"/><circle cx="912.4" cy="312" r="1.55"/><circle cx="914.5" cy="313.4" r="1.55"/><circle cx="909.1" cy="311.5" r="1.55"/><circle cx="910.5" cy="311.4" r="1.55"/><circle cx="910.8" cy="308.4" r="1.55"/><circle cx="911.8" cy="314.5" r="1.55"/><circle cx="913.9" cy="308.9" r="1.55"/><circle cx="914.9" cy="309.6" r="1.55"/><circle cx="913.8" cy="306.8" r="1.55"/><circle cx="912.9" cy="309" r="1.55"/><circle cx="917.1" cy="309.8" r="1.55"/><circle cx="909.6" cy="309.2" r="1.55"/><circle cx="912.8" cy="313.5" r="1.55"/><circle cx="915.3" cy="311.4" r="1.55"/><circle cx="913.7" cy="309.3" r="1.55"/><circle cx="911.3" cy="304.6" r="1.55"/><circle cx="913.6" cy="305.4" r="1.55"/><circle cx="915.6" cy="308.5" r="1.55"/><circle cx="914.8" cy="311.6" r="1.55"/><circle cx="911.4" cy="306.3" r="1.55"/><circle cx="914.3" cy="309.7" r="1.55"/><circle cx="914.4" cy="309.1" r="1.55"/><circle cx="912.5" cy="305" r="1.55"/><circle cx="912.5" cy="310.8" r="1.55"/><circle cx="910.7" cy="306.7" r="1.55"/><circle cx="917.6" cy="311.3" r="1.55"/><circle cx="913.4" cy="306.7" r="1.55"/><circle cx="913.5" cy="304.3" r="1.55"/><circle cx="917.8" cy="311.6" r="1.55"/><circle cx="917" cy="309.1" r="1.55"/><circle cx="914" cy="310.7" r="1.55"/><circle cx="913.5" cy="306.4" r="1.55"/><circle cx="917.4" cy="306.7" r="1.55"/><circle cx="918.1" cy="304.9" r="1.55"/><circle cx="916" cy="309.2" r="1.55"/><circle cx="912.7" cy="305" r="1.55"/><circle cx="917.4" cy="307.8" r="1.55"/><circle cx="917.7" cy="308.4" r="1.55"/><circle cx="912.8" cy="306.6" r="1.55"/><circle cx="914.3" cy="308" r="1.55"/><circle cx="913.8" cy="304.3" r="1.55"/><circle cx="915" cy="306.7" r="1.55"/><circle cx="918.5" cy="303.3" r="1.55"/><circle cx="919.8" cy="307.5" r="1.55"/><circle cx="913.6" cy="305.6" r="1.55"/><circle cx="921.9" cy="305.2" r="1.55"/><circle cx="915.7" cy="301.2" r="1.55"/><circle cx="919.9" cy="306.3" r="1.55"/><circle cx="913.6" cy="307.5" r="1.55"/><circle cx="919.1" cy="305.6" r="1.55"/><circle cx="918.3" cy="304.3" r="1.55"/><circle cx="919" cy="305.9" r="1.55"/><circle cx="915.7" cy="304.5" r="1.55"/><circle cx="915.4" cy="300" r="1.55"/><circle cx="917.6" cy="304.1" r="1.55"/><circle cx="917.4" cy="303.1" r="1.55"/><circle cx="919.3" cy="303.6" r="1.55"/><circle cx="919.5" cy="305" r="1.55"/><circle cx="919.5" cy="305.3" r="1.55"/><circle cx="919.1" cy="302.8" r="1.55"/><circle cx="921" cy="306.8" r="1.55"/><circle cx="921.1" cy="303.9" r="1.55"/><circle cx="918.8" cy="304.1" r="1.55"/><circle cx="922.9" cy="303.8" r="1.55"/><circle cx="919.5" cy="302.1" r="1.55"/><circle cx="918.9" cy="302.2" r="1.55"/><circle cx="917.5" cy="302.3" r="1.55"/><circle cx="918.7" cy="299.5" r="1.55"/><circle cx="917" cy="301.7" r="1.55"/><circle cx="922.5" cy="304.2" r="1.55"/><circle cx="921.6" cy="299.8" r="1.55"/><circle cx="922.6" cy="300" r="1.55"/><circle cx="925.2" cy="299.9" r="1.55"/><circle cx="920.1" cy="302.1" r="1.55"/><circle cx="918.4" cy="301.1" r="1.55"/><circle cx="922.4" cy="298.9" r="1.55"/><circle cx="925.3" cy="300.6" r="1.55"/><circle cx="919.5" cy="301.5" r="1.55"/><circle cx="922.7" cy="298.2" r="1.55"/><circle cx="922.7" cy="301.6" r="1.55"/><circle cx="920.9" cy="301.9" r="1.55"/><circle cx="923.7" cy="299.2" r="1.55"/><circle cx="926.6" cy="301.5" r="1.55"/><circle cx="921.9" cy="299.7" r="1.55"/><circle cx="922.1" cy="299.1" r="1.55"/><circle cx="925.4" cy="303" r="1.55"/><circle cx="922.9" cy="297" r="1.55"/><circle cx="919.7" cy="297.4" r="1.55"/><circle cx="925.9" cy="299.5" r="1.55"/><circle cx="922.8" cy="298.4" r="1.55"/><circle cx="926.7" cy="296" r="1.55"/><circle cx="922.9" cy="300" r="1.55"/><circle cx="924.6" cy="294.6" r="1.55"/><circle cx="924.8" cy="299.4" r="1.55"/><circle cx="922.5" cy="296.5" r="1.55"/><circle cx="927.2" cy="298.1" r="1.55"/><circle cx="927.6" cy="298.6" r="1.55"/><circle cx="925.7" cy="294.8" r="1.55"/><circle cx="927.7" cy="295.6" r="1.55"/><circle cx="925.6" cy="297.2" r="1.55"/><circle cx="924.1" cy="293.2" r="1.55"/><circle cx="926.8" cy="290.5" r="1.55"/><circle cx="928.5" cy="296.9" r="1.55"/><circle cx="926.6" cy="294.7" r="1.55"/><circle cx="924.5" cy="294.8" r="1.55"/><circle cx="927" cy="294" r="1.55"/><circle cx="923.3" cy="292.7" r="1.55"/><circle cx="926.8" cy="297.1" r="1.55"/><circle cx="929.4" cy="295.7" r="1.55"/><circle cx="925.5" cy="294.8" r="1.55"/><circle cx="928.4" cy="295.8" r="1.55"/><circle cx="926.7" cy="293.8" r="1.55"/><circle cx="929.3" cy="294.4" r="1.55"/><circle cx="927.8" cy="293.6" r="1.55"/><circle cx="930.5" cy="293.6" r="1.55"/><circle cx="924.6" cy="292.5" r="1.55"/><circle cx="931.6" cy="296.3" r="1.55"/><circle cx="928.6" cy="289.5" r="1.55"/><circle cx="926.8" cy="290" r="1.55"/><circle cx="930.5" cy="292.9" r="1.55"/><circle cx="927" cy="292.6" r="1.55"/><circle cx="931" cy="296" r="1.55"/><circle cx="932.1" cy="294.2" r="1.55"/><circle cx="927.3" cy="292.3" r="1.55"/><circle cx="933.4" cy="294.9" r="1.55"/><circle cx="930.2" cy="291.2" r="1.55"/><circle cx="931.8" cy="290.8" r="1.55"/><circle cx="929.6" cy="291.2" r="1.55"/><circle cx="930" cy="293.4" r="1.55"/><circle cx="932.4" cy="291.4" r="1.55"/><circle cx="932.1" cy="290.3" r="1.55"/><circle cx="931.6" cy="291.9" r="1.55"/><circle cx="931.9" cy="291.1" r="1.55"/><circle cx="932.4" cy="291.6" r="1.55"/><circle cx="930.1" cy="288.9" r="1.55"/><circle cx="929.5" cy="291.9" r="1.55"/><circle cx="930.9" cy="288.6" r="1.55"/><circle cx="931.5" cy="291" r="1.55"/><circle cx="932.4" cy="290.1" r="1.55"/><circle cx="934.6" cy="287.5" r="1.55"/><circle cx="931.5" cy="289.3" r="1.55"/><circle cx="935.7" cy="292" r="1.55"/><circle cx="934.5" cy="289.6" r="1.55"/><circle cx="932" cy="289.5" r="1.55"/><circle cx="936.8" cy="289.7" r="1.55"/><circle cx="935.7" cy="290.3" r="1.55"/><circle cx="935.1" cy="288.8" r="1.55"/><circle cx="936.8" cy="287.7" r="1.55"/><circle cx="933.5" cy="287" r="1.55"/><circle cx="934.1" cy="285.9" r="1.55"/><circle cx="936.6" cy="288.2" r="1.55"/><circle cx="934" cy="288.7" r="1.55"/><circle cx="931.3" cy="287.2" r="1.55"/><circle cx="935.1" cy="287.2" r="1.55"/><circle cx="935.7" cy="283.7" r="1.55"/><circle cx="933.1" cy="285.8" r="1.55"/><circle cx="935.6" cy="286.9" r="1.55"/><circle cx="935.7" cy="287.2" r="1.55"/><circle cx="935.9" cy="286" r="1.55"/><circle cx="935.2" cy="286.2" r="1.55"/><circle cx="934.8" cy="285.1" r="1.55"/><circle cx="937.7" cy="284.5" r="1.55"/><circle cx="937" cy="285.4" r="1.55"/><circle cx="936.7" cy="284.8" r="1.55"/><circle cx="942.7" cy="285.9" r="1.55"/><circle cx="937.7" cy="284.3" r="1.55"/><circle cx="938.1" cy="284.9" r="1.55"/><circle cx="937.2" cy="283.6" r="1.55"/><circle cx="938.5" cy="283.8" r="1.55"/><circle cx="941.2" cy="281.7" r="1.55"/><circle cx="940.8" cy="283.3" r="1.55"/><circle cx="936.4" cy="279" r="1.55"/><circle cx="942" cy="283.2" r="1.55"/><circle cx="941.3" cy="282.7" r="1.55"/><circle cx="941.8" cy="281.6" r="1.55"/><circle cx="939.1" cy="281.2" r="1.55"/><circle cx="938.9" cy="279.6" r="1.55"/><circle cx="938.5" cy="281.5" r="1.55"/><circle cx="942.1" cy="282.3" r="1.55"/><circle cx="942.4" cy="281.9" r="1.55"/><circle cx="942.5" cy="280.3" r="1.55"/><circle cx="943.6" cy="280.8" r="1.55"/><circle cx="941.6" cy="279.1" r="1.55"/><circle cx="943.5" cy="276.8" r="1.55"/><circle cx="944.5" cy="281.2" r="1.55"/><circle cx="944.5" cy="280.9" r="1.55"/><circle cx="944.4" cy="280.2" r="1.55"/><circle cx="944.3" cy="281" r="1.55"/><circle cx="944.8" cy="277.9" r="1.55"/><circle cx="941.9" cy="275.9" r="1.55"/><circle cx="943.6" cy="278.6" r="1.55"/><circle cx="948.1" cy="277" r="1.55"/><circle cx="944" cy="278.3" r="1.55"/><circle cx="946.4" cy="278" r="1.55"/><circle cx="946.8" cy="277.4" r="1.55"/><circle cx="945.6" cy="275.4" r="1.55"/><circle cx="948" cy="276" r="1.55"/><circle cx="947.9" cy="275.1" r="1.55"/><circle cx="945" cy="274.9" r="1.55"/><circle cx="948.5" cy="276.6" r="1.55"/><circle cx="947.9" cy="272.9" r="1.55"/><circle cx="947.8" cy="276.1" r="1.55"/><circle cx="947" cy="276.9" r="1.55"/><circle cx="948.5" cy="272.9" r="1.55"/><circle cx="947.8" cy="273.3" r="1.55"/><circle cx="951" cy="272.7" r="1.55"/><circle cx="953.3" cy="270.1" r="1.55"/><circle cx="953.1" cy="272" r="1.55"/><circle cx="952.7" cy="271.2" r="1.55"/><circle cx="955.1" cy="268.1" r="1.55"/><circle cx="956.4" cy="268.1" r="1.55"/><circle cx="955.8" cy="265.6" r="1.55"/><circle cx="954.3" cy="265.5" r="1.55"/><circle cx="957.5" cy="266.2" r="1.55"/><circle cx="957.6" cy="264.3" r="1.55"/><circle cx="958.5" cy="267.1" r="1.55"/><circle cx="956.7" cy="264" r="1.55"/><circle cx="960.8" cy="261.7" r="1.55"/><circle cx="962.4" cy="262" r="1.55"/><circle cx="962.7" cy="260" r="1.55"/><circle cx="966.9" cy="256.6" r="1.55"/><circle cx="965.6" cy="256.9" r="1.55"/><circle cx="1002.3" cy="222.1" r="1.55"/><circle cx="1012.9" cy="209.5" r="1.55"/><circle cx="1019.7" cy="202.7" r="1.55"/><circle cx="1060.8" cy="163.1" r="1.55"/><circle cx="965.3" cy="253.5" r="1.55"/><circle cx="963.2" cy="257.7" r="1.55"/></g>
<clipPath id="c3"><rect x="150.0" y="648.0" width="422.727" height="420.0"/></clipPath>
<g class="pb" clip-path="url(#c3)"><circle cx="150.2" cy="1041.9" r="1.55"/><circle cx="150.4" cy="1041.9" r="1.55"/><circle cx="150.5" cy="1041.9" r="1.55"/><circle cx="150.7" cy="1041.9" r="1.55"/><circle cx="150.9" cy="1041.9" r="1.55"/><circle cx="151.1" cy="1041.9" r="1.55"/><circle cx="151.2" cy="1041.9" r="1.55"/><circle cx="151.4" cy="1041.9" r="1.55"/><circle cx="151.6" cy="1041.9" r="1.55"/><circle cx="151.8" cy="1041.9" r="1.55"/><circle cx="151.9" cy="1041.9" r="1.55"/><circle cx="152.1" cy="1041.9" r="1.55"/><circle cx="152.3" cy="1041.9" r="1.55"/><circle cx="152.5" cy="1041.9" r="1.55"/><circle cx="152.6" cy="1041.9" r="1.55"/><circle cx="152.8" cy="1041.9" r="1.55"/><circle cx="153" cy="1041.9" r="1.55"/><circle cx="153.2" cy="1041.9" r="1.55"/><circle cx="153.3" cy="1041.9" r="1.55"/><circle cx="153.5" cy="1041.9" r="1.55"/><circle cx="153.7" cy="1041.9" r="1.55"/><circle cx="153.9" cy="1041.9" r="1.55"/><circle cx="154" cy="1041.9" r="1.55"/><circle cx="154.2" cy="1041.9" r="1.55"/><circle cx="154.4" cy="1041.9" r="1.55"/><circle cx="154.6" cy="1041.9" r="1.55"/><circle cx="154.7" cy="1041.9" r="1.55"/><circle cx="154.9" cy="1041.9" r="1.55"/><circle cx="155.1" cy="1041.9" r="1.55"/><circle cx="155.3" cy="1041.9" r="1.55"/><circle cx="155.4" cy="1041.9" r="1.55"/><circle cx="155.6" cy="1041.9" r="1.55"/><circle cx="155.8" cy="1041.9" r="1.55"/><circle cx="156" cy="1041.9" r="1.55"/><circle cx="156.1" cy="1041.9" r="1.55"/><circle cx="156.3" cy="1041.9" r="1.55"/><circle cx="156.5" cy="1041.9" r="1.55"/><circle cx="156.7" cy="1041.9" r="1.55"/><circle cx="156.8" cy="1041.9" r="1.55"/><circle cx="157" cy="1041.9" r="1.55"/><circle cx="157.2" cy="1041.9" r="1.55"/><circle cx="157.4" cy="1041.9" r="1.55"/><circle cx="157.5" cy="1041.9" r="1.55"/><circle cx="157.7" cy="1041.9" r="1.55"/><circle cx="157.9" cy="1041.9" r="1.55"/><circle cx="158.1" cy="1041.9" r="1.55"/><circle cx="158.2" cy="1041.9" r="1.55"/><circle cx="158.4" cy="1041.9" r="1.55"/><circle cx="158.6" cy="1041.9" r="1.55"/><circle cx="158.8" cy="1041.9" r="1.55"/><circle cx="158.9" cy="1041.9" r="1.55"/><circle cx="159.1" cy="1041.9" r="1.55"/><circle cx="159.3" cy="1041.9" r="1.55"/><circle cx="159.5" cy="1041.9" r="1.55"/><circle cx="159.6" cy="1041.9" r="1.55"/><circle cx="159.8" cy="1041.9" r="1.55"/><circle cx="160" cy="1041.9" r="1.55"/><circle cx="160.2" cy="1041.9" r="1.55"/><circle cx="160.3" cy="1041.9" r="1.55"/><circle cx="160.5" cy="1041.9" r="1.55"/><circle cx="160.7" cy="1041.9" r="1.55"/><circle cx="160.9" cy="1041.9" r="1.55"/><circle cx="161" cy="1041.9" r="1.55"/><circle cx="161.2" cy="1041.9" r="1.55"/><circle cx="161.4" cy="1041.9" r="1.55"/><circle cx="161.6" cy="1041.9" r="1.55"/><circle cx="161.7" cy="1041.9" r="1.55"/><circle cx="161.9" cy="1041.9" r="1.55"/><circle cx="162.1" cy="1041.9" r="1.55"/><circle cx="162.3" cy="1041.9" r="1.55"/><circle cx="162.4" cy="1041.9" r="1.55"/><circle cx="162.6" cy="1041.9" r="1.55"/><circle cx="162.8" cy="1041.9" r="1.55"/><circle cx="163" cy="1041.9" r="1.55"/><circle cx="163.1" cy="1041.9" r="1.55"/><circle cx="163.3" cy="1041.9" r="1.55"/><circle cx="163.5" cy="1041.9" r="1.55"/><circle cx="163.7" cy="1041.9" r="1.55"/><circle cx="163.8" cy="1041.9" r="1.55"/><circle cx="164" cy="1041.9" r="1.55"/><circle cx="164.2" cy="1041.9" r="1.55"/><circle cx="164.4" cy="1041.9" r="1.55"/><circle cx="164.5" cy="1041.9" r="1.55"/><circle cx="164.7" cy="1041.9" r="1.55"/><circle cx="164.9" cy="1041.9" r="1.55"/><circle cx="165.1" cy="1041.9" r="1.55"/><circle cx="165.2" cy="1041.9" r="1.55"/><circle cx="165.4" cy="1041.9" r="1.55"/><circle cx="165.6" cy="1041.9" r="1.55"/><circle cx="165.8" cy="1041.9" r="1.55"/><circle cx="165.9" cy="1041.9" r="1.55"/><circle cx="166.1" cy="1041.9" r="1.55"/><circle cx="166.3" cy="1041.9" r="1.55"/><circle cx="166.5" cy="1041.9" r="1.55"/><circle cx="166.6" cy="1041.9" r="1.55"/><circle cx="166.8" cy="1041.9" r="1.55"/><circle cx="167" cy="1041.9" r="1.55"/><circle cx="167.2" cy="1041.9" r="1.55"/><circle cx="167.3" cy="1041.9" r="1.55"/><circle cx="167.5" cy="1041.9" r="1.55"/><circle cx="167.7" cy="1041.9" r="1.55"/><circle cx="167.9" cy="1041.9" r="1.55"/><circle cx="168" cy="1041.9" r="1.55"/><circle cx="168.2" cy="1041.9" r="1.55"/><circle cx="168.4" cy="1041.9" r="1.55"/><circle cx="168.6" cy="1041.9" r="1.55"/><circle cx="168.7" cy="1041.9" r="1.55"/><circle cx="168.9" cy="1041.9" r="1.55"/><circle cx="169.1" cy="1041.9" r="1.55"/><circle cx="169.3" cy="1041.9" r="1.55"/><circle cx="169.4" cy="1041.9" r="1.55"/><circle cx="169.6" cy="1041.9" r="1.55"/><circle cx="169.8" cy="1041.9" r="1.55"/><circle cx="170" cy="1041.9" r="1.55"/><circle cx="170.1" cy="1041.9" r="1.55"/><circle cx="170.3" cy="1041.9" r="1.55"/><circle cx="170.5" cy="1041.9" r="1.55"/><circle cx="170.7" cy="1041.9" r="1.55"/><circle cx="170.8" cy="1041.9" r="1.55"/><circle cx="171" cy="1041.9" r="1.55"/><circle cx="171.2" cy="1041.9" r="1.55"/><circle cx="171.4" cy="1041.9" r="1.55"/><circle cx="171.5" cy="1041.9" r="1.55"/><circle cx="171.7" cy="1041.9" r="1.55"/><circle cx="171.9" cy="1041.9" r="1.55"/><circle cx="172.1" cy="1041.9" r="1.55"/><circle cx="172.2" cy="1041.9" r="1.55"/><circle cx="172.4" cy="1041.9" r="1.55"/><circle cx="172.6" cy="1041.9" r="1.55"/><circle cx="172.8" cy="1041.9" r="1.55"/><circle cx="172.9" cy="1041.9" r="1.55"/><circle cx="173.1" cy="1041.9" r="1.55"/><circle cx="173.3" cy="1041.9" r="1.55"/><circle cx="173.5" cy="1041.9" r="1.55"/><circle cx="173.6" cy="1041.9" r="1.55"/><circle cx="173.8" cy="1041.9" r="1.55"/><circle cx="174" cy="1041.9" r="1.55"/><circle cx="174.2" cy="1041.9" r="1.55"/><circle cx="174.3" cy="1041.9" r="1.55"/><circle cx="174.5" cy="1041.9" r="1.55"/><circle cx="174.7" cy="1041.9" r="1.55"/><circle cx="174.9" cy="1041.9" r="1.55"/><circle cx="175" cy="1041.9" r="1.55"/><circle cx="175.2" cy="1041.9" r="1.55"/><circle cx="175.4" cy="1041.9" r="1.55"/><circle cx="175.6" cy="1041.9" r="1.55"/><circle cx="175.7" cy="1041.9" r="1.55"/><circle cx="175.9" cy="1041.9" r="1.55"/><circle cx="176.1" cy="1041.9" r="1.55"/><circle cx="176.3" cy="1041.9" r="1.55"/><circle cx="176.4" cy="1041.9" r="1.55"/><circle cx="176.6" cy="1041.9" r="1.55"/><circle cx="176.8" cy="1041.9" r="1.55"/><circle cx="177" cy="1041.9" r="1.55"/><circle cx="177.1" cy="1041.9" r="1.55"/><circle cx="177.3" cy="1041.9" r="1.55"/><circle cx="177.5" cy="1041.9" r="1.55"/><circle cx="177.7" cy="1041.9" r="1.55"/><circle cx="177.8" cy="1041.9" r="1.55"/><circle cx="178" cy="1041.9" r="1.55"/><circle cx="178.2" cy="1041.9" r="1.55"/><circle cx="178.4" cy="1041.9" r="1.55"/><circle cx="178.5" cy="1041.9" r="1.55"/><circle cx="178.7" cy="1041.9" r="1.55"/><circle cx="178.9" cy="1041.9" r="1.55"/><circle cx="179.1" cy="1041.9" r="1.55"/><circle cx="179.2" cy="1041.9" r="1.55"/><circle cx="179.4" cy="1041.9" r="1.55"/><circle cx="179.6" cy="1041.9" r="1.55"/><circle cx="179.8" cy="1041.9" r="1.55"/><circle cx="179.9" cy="1041.9" r="1.55"/><circle cx="180.1" cy="1041.9" r="1.55"/><circle cx="180.3" cy="1041.9" r="1.55"/><circle cx="180.5" cy="1041.9" r="1.55"/><circle cx="180.6" cy="1041.9" r="1.55"/><circle cx="180.8" cy="1041.9" r="1.55"/><circle cx="181" cy="1041.9" r="1.55"/><circle cx="181.2" cy="1041.9" r="1.55"/><circle cx="181.3" cy="1041.9" r="1.55"/><circle cx="181.5" cy="1041.9" r="1.55"/><circle cx="181.7" cy="1041.9" r="1.55"/><circle cx="181.9" cy="1041.9" r="1.55"/><circle cx="182" cy="1041.9" r="1.55"/><circle cx="182.2" cy="1041.9" r="1.55"/><circle cx="182.4" cy="1041.9" r="1.55"/><circle cx="182.6" cy="1041.9" r="1.55"/><circle cx="182.7" cy="1041.9" r="1.55"/><circle cx="182.9" cy="1041.9" r="1.55"/><circle cx="183.1" cy="1041.9" r="1.55"/><circle cx="183.3" cy="1041.9" r="1.55"/><circle cx="183.4" cy="1041.9" r="1.55"/><circle cx="183.6" cy="1041.9" r="1.55"/><circle cx="183.8" cy="1041.9" r="1.55"/><circle cx="184" cy="1041.9" r="1.55"/><circle cx="184.1" cy="1041.9" r="1.55"/><circle cx="184.3" cy="1041.9" r="1.55"/><circle cx="184.5" cy="1041.9" r="1.55"/><circle cx="184.7" cy="1041.9" r="1.55"/><circle cx="184.8" cy="1041.9" r="1.55"/><circle cx="185" cy="1041.9" r="1.55"/><circle cx="185.2" cy="1041.9" r="1.55"/><circle cx="185.4" cy="1041.9" r="1.55"/><circle cx="185.5" cy="1041.9" r="1.55"/><circle cx="185.7" cy="1041.9" r="1.55"/><circle cx="185.9" cy="1041.9" r="1.55"/><circle cx="186.1" cy="1041.9" r="1.55"/><circle cx="186.2" cy="1041.9" r="1.55"/><circle cx="186.4" cy="1041.9" r="1.55"/><circle cx="186.6" cy="1041.9" r="1.55"/><circle cx="186.8" cy="1041.9" r="1.55"/><circle cx="186.9" cy="1041.9" r="1.55"/><circle cx="187.1" cy="1041.9" r="1.55"/><circle cx="187.3" cy="1041.9" r="1.55"/><circle cx="187.5" cy="1041.9" r="1.55"/><circle cx="187.6" cy="1041.9" r="1.55"/><circle cx="187.8" cy="1041.9" r="1.55"/><circle cx="188" cy="1041.9" r="1.55"/><circle cx="188.2" cy="1041.9" r="1.55"/><circle cx="188.3" cy="1041.9" r="1.55"/><circle cx="188.5" cy="1041.9" r="1.55"/><circle cx="188.7" cy="1041.9" r="1.55"/><circle cx="188.9" cy="1041.9" r="1.55"/><circle cx="189" cy="1041.9" r="1.55"/><circle cx="189.2" cy="1041.9" r="1.55"/><circle cx="189.4" cy="1041.9" r="1.55"/><circle cx="189.6" cy="1041.9" r="1.55"/><circle cx="189.7" cy="1041.9" r="1.55"/><circle cx="189.9" cy="1041.9" r="1.55"/><circle cx="190.1" cy="1041.9" r="1.55"/><circle cx="190.3" cy="1041.9" r="1.55"/><circle cx="190.4" cy="1041.9" r="1.55"/><circle cx="190.6" cy="1041.9" r="1.55"/><circle cx="190.8" cy="1041.9" r="1.55"/><circle cx="191" cy="1041.9" r="1.55"/><circle cx="191.1" cy="1041.9" r="1.55"/><circle cx="191.3" cy="1041.9" r="1.55"/><circle cx="191.5" cy="1041.9" r="1.55"/><circle cx="191.7" cy="1041.9" r="1.55"/><circle cx="191.8" cy="1041.9" r="1.55"/><circle cx="192" cy="1041.9" r="1.55"/><circle cx="192.2" cy="1041.9" r="1.55"/><circle cx="192.4" cy="1041.9" r="1.55"/><circle cx="192.5" cy="1041.9" r="1.55"/><circle cx="192.7" cy="1041.9" r="1.55"/><circle cx="192.9" cy="1041.9" r="1.55"/><circle cx="193.1" cy="1041.9" r="1.55"/><circle cx="193.2" cy="1041.9" r="1.55"/><circle cx="193.4" cy="1041.9" r="1.55"/><circle cx="193.6" cy="1041.9" r="1.55"/><circle cx="193.8" cy="1041.9" r="1.55"/><circle cx="193.9" cy="1041.9" r="1.55"/><circle cx="194.1" cy="1041.9" r="1.55"/><circle cx="194.3" cy="1041.9" r="1.55"/><circle cx="194.5" cy="1041.9" r="1.55"/><circle cx="194.6" cy="1041.9" r="1.55"/><circle cx="194.8" cy="1041.9" r="1.55"/><circle cx="195" cy="1041.9" r="1.55"/><circle cx="195.2" cy="1041.9" r="1.55"/><circle cx="195.3" cy="1041.9" r="1.55"/><circle cx="195.5" cy="1041.9" r="1.55"/><circle cx="195.7" cy="1041.9" r="1.55"/><circle cx="195.9" cy="1041.9" r="1.55"/><circle cx="196" cy="1041.9" r="1.55"/><circle cx="196.2" cy="1041.9" r="1.55"/><circle cx="196.4" cy="1041.9" r="1.55"/><circle cx="196.6" cy="1041.9" r="1.55"/><circle cx="196.7" cy="1041.9" r="1.55"/><circle cx="196.9" cy="1041.9" r="1.55"/><circle cx="197.1" cy="1041.9" r="1.55"/><circle cx="197.3" cy="1041.9" r="1.55"/><circle cx="197.4" cy="1041.9" r="1.55"/><circle cx="197.6" cy="1041.9" r="1.55"/><circle cx="197.8" cy="1041.9" r="1.55"/><circle cx="198" cy="1041.9" r="1.55"/><circle cx="198.1" cy="1041.9" r="1.55"/><circle cx="198.3" cy="1041.9" r="1.55"/><circle cx="198.5" cy="1041.9" r="1.55"/><circle cx="198.7" cy="1041.9" r="1.55"/><circle cx="198.8" cy="1041.9" r="1.55"/><circle cx="199" cy="1041.9" r="1.55"/><circle cx="199.2" cy="1041.9" r="1.55"/><circle cx="199.4" cy="1041.9" r="1.55"/><circle cx="199.5" cy="1041.9" r="1.55"/><circle cx="199.7" cy="1041.9" r="1.55"/><circle cx="199.9" cy="1041.9" r="1.55"/><circle cx="200.1" cy="1041.9" r="1.55"/><circle cx="200.2" cy="1041.9" r="1.55"/><circle cx="200.4" cy="1041.9" r="1.55"/><circle cx="200.6" cy="1041.9" r="1.55"/><circle cx="200.8" cy="1041.9" r="1.55"/><circle cx="200.9" cy="1041.9" r="1.55"/><circle cx="201.1" cy="1041.9" r="1.55"/><circle cx="201.3" cy="1041.9" r="1.55"/><circle cx="201.5" cy="1041.9" r="1.55"/><circle cx="201.6" cy="1041.9" r="1.55"/><circle cx="201.8" cy="1041.9" r="1.55"/><circle cx="202" cy="1041.9" r="1.55"/><circle cx="202.2" cy="1041.9" r="1.55"/><circle cx="202.3" cy="1041.9" r="1.55"/><circle cx="202.5" cy="1041.9" r="1.55"/><circle cx="202.7" cy="1041.9" r="1.55"/><circle cx="202.9" cy="1041.9" r="1.55"/><circle cx="203" cy="1041.9" r="1.55"/><circle cx="203.2" cy="1041.9" r="1.55"/><circle cx="203.4" cy="1041.9" r="1.55"/><circle cx="203.6" cy="1041.9" r="1.55"/><circle cx="203.7" cy="1041.9" r="1.55"/><circle cx="203.9" cy="1041.9" r="1.55"/><circle cx="204.1" cy="1041.9" r="1.55"/><circle cx="204.3" cy="1041.9" r="1.55"/><circle cx="204.4" cy="1041.9" r="1.55"/><circle cx="204.6" cy="1041.9" r="1.55"/><circle cx="204.8" cy="1041.9" r="1.55"/><circle cx="205" cy="1041.9" r="1.55"/><circle cx="205.1" cy="1041.9" r="1.55"/><circle cx="205.3" cy="1041.9" r="1.55"/><circle cx="205.5" cy="1041.9" r="1.55"/><circle cx="205.7" cy="1041.9" r="1.55"/><circle cx="205.8" cy="1041.9" r="1.55"/><circle cx="206" cy="1041.9" r="1.55"/><circle cx="206.2" cy="1041.9" r="1.55"/><circle cx="206.4" cy="1041.9" r="1.55"/><circle cx="206.5" cy="1041.9" r="1.55"/><circle cx="206.7" cy="1041.9" r="1.55"/><circle cx="206.9" cy="1041.9" r="1.55"/><circle cx="207.1" cy="1041.9" r="1.55"/><circle cx="207.2" cy="1041.9" r="1.55"/><circle cx="207.4" cy="1041.9" r="1.55"/><circle cx="207.6" cy="1041.9" r="1.55"/><circle cx="207.8" cy="1041.9" r="1.55"/><circle cx="207.9" cy="1041.9" r="1.55"/><circle cx="208.1" cy="1041.9" r="1.55"/><circle cx="208.3" cy="1041.9" r="1.55"/><circle cx="208.5" cy="1041.9" r="1.55"/><circle cx="208.6" cy="1041.9" r="1.55"/><circle cx="208.8" cy="1041.9" r="1.55"/><circle cx="209" cy="1041.9" r="1.55"/><circle cx="209.2" cy="1041.9" r="1.55"/><circle cx="209.3" cy="1041.9" r="1.55"/><circle cx="209.5" cy="1041.9" r="1.55"/><circle cx="209.7" cy="1041.9" r="1.55"/><circle cx="209.9" cy="1041.9" r="1.55"/><circle cx="210" cy="1041.9" r="1.55"/><circle cx="210.2" cy="1041.9" r="1.55"/><circle cx="210.4" cy="1041.9" r="1.55"/><circle cx="210.6" cy="1041.9" r="1.55"/><circle cx="210.7" cy="1041.9" r="1.55"/><circle cx="210.9" cy="1041.9" r="1.55"/><circle cx="211.1" cy="1041.9" r="1.55"/><circle cx="211.3" cy="1041.9" r="1.55"/><circle cx="211.4" cy="1041.9" r="1.55"/><circle cx="211.6" cy="1041.9" r="1.55"/><circle cx="211.8" cy="1041.9" r="1.55"/><circle cx="212" cy="1041.9" r="1.55"/><circle cx="212.1" cy="1041.9" r="1.55"/><circle cx="212.3" cy="1041.9" r="1.55"/><circle cx="212.5" cy="1041.9" r="1.55"/><circle cx="212.7" cy="1041.9" r="1.55"/><circle cx="212.8" cy="1041.9" r="1.55"/><circle cx="213" cy="1041.9" r="1.55"/><circle cx="213.2" cy="1041.9" r="1.55"/><circle cx="213.4" cy="1041.9" r="1.55"/><circle cx="213.5" cy="1041.9" r="1.55"/><circle cx="213.7" cy="1041.9" r="1.55"/><circle cx="213.9" cy="1041.9" r="1.55"/><circle cx="214.1" cy="1041.9" r="1.55"/><circle cx="214.2" cy="1041.9" r="1.55"/><circle cx="214.4" cy="1041.9" r="1.55"/><circle cx="214.6" cy="1041.9" r="1.55"/><circle cx="214.8" cy="1041.9" r="1.55"/><circle cx="214.9" cy="1041.9" r="1.55"/><circle cx="215.1" cy="1041.9" r="1.55"/><circle cx="215.3" cy="1041.9" r="1.55"/><circle cx="215.5" cy="1041.9" r="1.55"/><circle cx="215.6" cy="1041.9" r="1.55"/><circle cx="215.8" cy="1041.9" r="1.55"/><circle cx="216" cy="1041.9" r="1.55"/><circle cx="216.2" cy="1041.9" r="1.55"/><circle cx="216.3" cy="1041.9" r="1.55"/><circle cx="216.5" cy="1041.9" r="1.55"/><circle cx="216.7" cy="1041.9" r="1.55"/><circle cx="216.9" cy="1041.9" r="1.55"/><circle cx="217" cy="1041.9" r="1.55"/><circle cx="217.2" cy="1041.9" r="1.55"/><circle cx="217.4" cy="1041.9" r="1.55"/><circle cx="217.6" cy="1041.9" r="1.55"/><circle cx="217.7" cy="1041.9" r="1.55"/><circle cx="217.9" cy="1041.9" r="1.55"/><circle cx="218.1" cy="1041.9" r="1.55"/><circle cx="218.3" cy="1041.9" r="1.55"/><circle cx="218.4" cy="1041.9" r="1.55"/><circle cx="218.6" cy="1041.9" r="1.55"/><circle cx="218.8" cy="1041.9" r="1.55"/><circle cx="219" cy="1041.9" r="1.55"/><circle cx="219.1" cy="1041.9" r="1.55"/><circle cx="219.3" cy="1041.9" r="1.55"/><circle cx="219.5" cy="1041.9" r="1.55"/><circle cx="219.7" cy="1041.9" r="1.55"/><circle cx="219.8" cy="1041.9" r="1.55"/><circle cx="220" cy="1041.9" r="1.55"/><circle cx="220.2" cy="1041.9" r="1.55"/><circle cx="220.4" cy="1041.9" r="1.55"/><circle cx="220.5" cy="1041.9" r="1.55"/><circle cx="220.7" cy="1041.9" r="1.55"/><circle cx="220.9" cy="1041.9" r="1.55"/><circle cx="221.1" cy="1041.9" r="1.55"/><circle cx="221.2" cy="1041.9" r="1.55"/><circle cx="221.4" cy="1041.9" r="1.55"/><circle cx="221.6" cy="1041.9" r="1.55"/><circle cx="221.8" cy="1041.9" r="1.55"/><circle cx="221.9" cy="1041.9" r="1.55"/><circle cx="222.1" cy="1041.9" r="1.55"/><circle cx="222.3" cy="1041.9" r="1.55"/><circle cx="222.5" cy="1041.9" r="1.55"/><circle cx="222.6" cy="1041.9" r="1.55"/><circle cx="222.8" cy="1041.9" r="1.55"/><circle cx="223" cy="1041.9" r="1.55"/><circle cx="223.2" cy="1041.9" r="1.55"/><circle cx="223.3" cy="1041.9" r="1.55"/><circle cx="223.5" cy="1041.9" r="1.55"/><circle cx="223.7" cy="1041.9" r="1.55"/><circle cx="223.9" cy="1041.9" r="1.55"/><circle cx="224" cy="1041.9" r="1.55"/><circle cx="224.2" cy="1041.9" r="1.55"/><circle cx="224.4" cy="1041.9" r="1.55"/><circle cx="224.6" cy="1041.9" r="1.55"/><circle cx="224.7" cy="1041.9" r="1.55"/><circle cx="224.9" cy="1041.9" r="1.55"/><circle cx="225.1" cy="1041.9" r="1.55"/><circle cx="225.3" cy="1041.9" r="1.55"/><circle cx="225.4" cy="1041.9" r="1.55"/><circle cx="225.6" cy="1041.9" r="1.55"/><circle cx="225.8" cy="1041.9" r="1.55"/><circle cx="226" cy="1006.7" r="1.55"/><circle cx="226.1" cy="1041.9" r="1.55"/><circle cx="226.3" cy="1041.9" r="1.55"/><circle cx="226.5" cy="1041.9" r="1.55"/><circle cx="226.7" cy="1007.3" r="1.55"/><circle cx="226.8" cy="1009.9" r="1.55"/><circle cx="227" cy="1041.9" r="1.55"/><circle cx="227.2" cy="1041.9" r="1.55"/><circle cx="227.4" cy="1041.9" r="1.55"/><circle cx="227.5" cy="1041.9" r="1.55"/><circle cx="227.7" cy="1041.9" r="1.55"/><circle cx="227.9" cy="1041.9" r="1.55"/><circle cx="228.1" cy="1005" r="1.55"/><circle cx="228.2" cy="1011.6" r="1.55"/><circle cx="228.4" cy="1041.9" r="1.55"/><circle cx="228.6" cy="1041.9" r="1.55"/><circle cx="228.8" cy="1041.9" r="1.55"/><circle cx="228.9" cy="1041.9" r="1.55"/><circle cx="229.1" cy="1004.9" r="1.55"/><circle cx="229.3" cy="1041.9" r="1.55"/><circle cx="229.5" cy="1041.9" r="1.55"/><circle cx="229.6" cy="1041.9" r="1.55"/><circle cx="229.8" cy="1006.6" r="1.55"/><circle cx="230" cy="1041.9" r="1.55"/><circle cx="230.2" cy="1041.9" r="1.55"/><circle cx="230.3" cy="1006.4" r="1.55"/><circle cx="230.5" cy="1041.9" r="1.55"/><circle cx="230.7" cy="1041.9" r="1.55"/><circle cx="230.9" cy="1011.7" r="1.55"/><circle cx="231" cy="1041.9" r="1.55"/><circle cx="231.2" cy="1041.9" r="1.55"/><circle cx="231.4" cy="1041.9" r="1.55"/><circle cx="231.6" cy="1005.3" r="1.55"/><circle cx="231.7" cy="1041.9" r="1.55"/><circle cx="231.9" cy="1041.9" r="1.55"/><circle cx="232.1" cy="1041.9" r="1.55"/><circle cx="232.3" cy="1004.5" r="1.55"/><circle cx="232.4" cy="1041.9" r="1.55"/><circle cx="232.6" cy="1041.9" r="1.55"/><circle cx="232.8" cy="1041.9" r="1.55"/><circle cx="233" cy="1041.9" r="1.55"/><circle cx="233.1" cy="1001.2" r="1.55"/><circle cx="233.3" cy="1041.9" r="1.55"/><circle cx="233.5" cy="1041.9" r="1.55"/><circle cx="233.7" cy="1004.8" r="1.55"/><circle cx="233.8" cy="1001.4" r="1.55"/><circle cx="234" cy="1041.9" r="1.55"/><circle cx="234.2" cy="1041.9" r="1.55"/><circle cx="234.4" cy="1041.9" r="1.55"/><circle cx="234.5" cy="1041.9" r="1.55"/><circle cx="234.7" cy="1041.9" r="1.55"/><circle cx="234.9" cy="1002.4" r="1.55"/><circle cx="235.1" cy="1000.6" r="1.55"/><circle cx="235.2" cy="1005.8" r="1.55"/><circle cx="235.4" cy="1041.9" r="1.55"/><circle cx="235.6" cy="1007.1" r="1.55"/><circle cx="235.8" cy="999.7" r="1.55"/><circle cx="235.9" cy="1041.9" r="1.55"/><circle cx="236.1" cy="1041.9" r="1.55"/><circle cx="236.3" cy="1041.9" r="1.55"/><circle cx="236.5" cy="1041.9" r="1.55"/><circle cx="236.6" cy="1004.8" r="1.55"/><circle cx="236.8" cy="1041.9" r="1.55"/><circle cx="237" cy="1041.9" r="1.55"/><circle cx="237.2" cy="1041.9" r="1.55"/><circle cx="237.3" cy="1041.9" r="1.55"/><circle cx="237.5" cy="1001.3" r="1.55"/><circle cx="237.7" cy="1005.3" r="1.55"/><circle cx="237.9" cy="1041.9" r="1.55"/><circle cx="238" cy="1041.9" r="1.55"/><circle cx="238.2" cy="1041.9" r="1.55"/><circle cx="238.4" cy="998.9" r="1.55"/><circle cx="238.6" cy="1002.1" r="1.55"/><circle cx="238.7" cy="1041.9" r="1.55"/><circle cx="238.9" cy="1041.9" r="1.55"/><circle cx="239.1" cy="1041.9" r="1.55"/><circle cx="239.3" cy="1041.9" r="1.55"/><circle cx="239.4" cy="1004.4" r="1.55"/><circle cx="239.6" cy="1001.3" r="1.55"/><circle cx="239.8" cy="999.2" r="1.55"/><circle cx="240" cy="1041.9" r="1.55"/><circle cx="240.1" cy="1041.9" r="1.55"/><circle cx="240.3" cy="997.9" r="1.55"/><circle cx="240.5" cy="1041.9" r="1.55"/><circle cx="240.7" cy="1041.9" r="1.55"/><circle cx="240.8" cy="1000.5" r="1.55"/><circle cx="241" cy="996.7" r="1.55"/><circle cx="241.2" cy="1041.9" r="1.55"/><circle cx="241.4" cy="1041.9" r="1.55"/><circle cx="241.5" cy="1041.9" r="1.55"/><circle cx="241.7" cy="1041.9" r="1.55"/><circle cx="241.9" cy="1041.9" r="1.55"/><circle cx="242.1" cy="1041.9" r="1.55"/><circle cx="242.2" cy="1002.4" r="1.55"/><circle cx="242.4" cy="1041.9" r="1.55"/><circle cx="242.6" cy="1041.9" r="1.55"/><circle cx="242.8" cy="1041.9" r="1.55"/><circle cx="242.9" cy="1041.9" r="1.55"/><circle cx="243.1" cy="1041.9" r="1.55"/><circle cx="243.3" cy="994.9" r="1.55"/><circle cx="243.5" cy="1041.9" r="1.55"/><circle cx="243.6" cy="1041.9" r="1.55"/><circle cx="243.8" cy="1041.9" r="1.55"/><circle cx="244" cy="1041.9" r="1.55"/><circle cx="244.2" cy="997.8" r="1.55"/><circle cx="244.3" cy="1041.9" r="1.55"/><circle cx="244.5" cy="1041.9" r="1.55"/><circle cx="244.7" cy="1006" r="1.55"/><circle cx="244.9" cy="1041.9" r="1.55"/><circle cx="245" cy="994.6" r="1.55"/><circle cx="245.2" cy="998.6" r="1.55"/><circle cx="245.4" cy="998.9" r="1.55"/><circle cx="245.6" cy="1041.9" r="1.55"/><circle cx="245.7" cy="1041.9" r="1.55"/><circle cx="245.9" cy="1041.9" r="1.55"/><circle cx="246.1" cy="1041.9" r="1.55"/><circle cx="246.3" cy="993.8" r="1.55"/><circle cx="246.4" cy="1041.9" r="1.55"/><circle cx="246.6" cy="994.9" r="1.55"/><circle cx="246.8" cy="1041.9" r="1.55"/><circle cx="247" cy="995.8" r="1.55"/><circle cx="247.1" cy="1041.9" r="1.55"/><circle cx="247.3" cy="996.6" r="1.55"/><circle cx="247.5" cy="1041.9" r="1.55"/><circle cx="247.7" cy="1002.6" r="1.55"/><circle cx="247.8" cy="996.9" r="1.55"/><circle cx="248" cy="1041.9" r="1.55"/><circle cx="248.2" cy="1041.9" r="1.55"/><circle cx="248.4" cy="1041.9" r="1.55"/><circle cx="248.5" cy="1041.9" r="1.55"/><circle cx="248.7" cy="1041.9" r="1.55"/><circle cx="248.9" cy="1041.9" r="1.55"/><circle cx="249.1" cy="1041.9" r="1.55"/><circle cx="249.2" cy="1041.9" r="1.55"/><circle cx="249.4" cy="1041.9" r="1.55"/><circle cx="249.6" cy="1041.9" r="1.55"/><circle cx="249.8" cy="1003.5" r="1.55"/><circle cx="249.9" cy="989.3" r="1.55"/><circle cx="250.1" cy="990.1" r="1.55"/><circle cx="250.3" cy="1005.2" r="1.55"/><circle cx="250.5" cy="1041.9" r="1.55"/><circle cx="250.6" cy="1041.9" r="1.55"/><circle cx="250.8" cy="991" r="1.55"/><circle cx="251" cy="1041.9" r="1.55"/><circle cx="251.2" cy="1000.5" r="1.55"/><circle cx="251.3" cy="1041.9" r="1.55"/><circle cx="251.5" cy="990.2" r="1.55"/><circle cx="251.7" cy="1041.9" r="1.55"/><circle cx="251.9" cy="992.4" r="1.55"/><circle cx="252" cy="991.8" r="1.55"/><circle cx="252.2" cy="1041.9" r="1.55"/><circle cx="252.4" cy="1003.4" r="1.55"/><circle cx="252.6" cy="1041.9" r="1.55"/><circle cx="252.7" cy="1041.9" r="1.55"/><circle cx="252.9" cy="1041.9" r="1.55"/><circle cx="253.1" cy="1041.9" r="1.55"/><circle cx="253.3" cy="1041.9" r="1.55"/><circle cx="253.4" cy="1041.9" r="1.55"/><circle cx="253.6" cy="1041.9" r="1.55"/><circle cx="253.8" cy="1041.9" r="1.55"/><circle cx="254" cy="1041.9" r="1.55"/><circle cx="254.2" cy="1041.9" r="1.55"/><circle cx="254.3" cy="1003.6" r="1.55"/><circle cx="254.5" cy="1002.4" r="1.55"/><circle cx="254.7" cy="1041.9" r="1.55"/><circle cx="254.9" cy="1041.9" r="1.55"/><circle cx="255" cy="1041.9" r="1.55"/><circle cx="255.2" cy="1041.9" r="1.55"/><circle cx="255.4" cy="999" r="1.55"/><circle cx="255.6" cy="1004" r="1.55"/><circle cx="255.7" cy="1041.9" r="1.55"/><circle cx="255.9" cy="987.8" r="1.55"/><circle cx="256.1" cy="985.1" r="1.55"/><circle cx="256.3" cy="985.1" r="1.55"/><circle cx="256.4" cy="1041.9" r="1.55"/><circle cx="256.6" cy="1041.9" r="1.55"/><circle cx="256.8" cy="1041.9" r="1.55"/><circle cx="257" cy="1041.9" r="1.55"/><circle cx="257.1" cy="1041.9" r="1.55"/><circle cx="257.3" cy="1041.9" r="1.55"/><circle cx="257.5" cy="1041.9" r="1.55"/><circle cx="257.7" cy="1041.9" r="1.55"/><circle cx="257.8" cy="1041.9" r="1.55"/><circle cx="258" cy="1041.9" r="1.55"/><circle cx="258.2" cy="1041.9" r="1.55"/><circle cx="258.4" cy="1041.9" r="1.55"/><circle cx="258.5" cy="1041.9" r="1.55"/><circle cx="258.7" cy="1041.9" r="1.55"/><circle cx="258.9" cy="1041.9" r="1.55"/><circle cx="259.1" cy="1041.9" r="1.55"/><circle cx="259.2" cy="1041.9" r="1.55"/><circle cx="259.4" cy="1041.9" r="1.55"/><circle cx="259.6" cy="1004.3" r="1.55"/><circle cx="259.8" cy="1041.9" r="1.55"/><circle cx="259.9" cy="995.8" r="1.55"/><circle cx="260.1" cy="991.9" r="1.55"/><circle cx="260.3" cy="1041.9" r="1.55"/><circle cx="260.5" cy="1041.9" r="1.55"/><circle cx="260.6" cy="1041.9" r="1.55"/><circle cx="260.8" cy="1041.9" r="1.55"/><circle cx="261" cy="1041.9" r="1.55"/><circle cx="261.2" cy="1041.9" r="1.55"/><circle cx="261.3" cy="1041.9" r="1.55"/><circle cx="261.5" cy="1041.9" r="1.55"/><circle cx="261.7" cy="1041.9" r="1.55"/><circle cx="261.9" cy="994.8" r="1.55"/><circle cx="262" cy="989.2" r="1.55"/><circle cx="262.2" cy="1041.9" r="1.55"/><circle cx="262.4" cy="982.4" r="1.55"/><circle cx="262.6" cy="1041.9" r="1.55"/><circle cx="262.7" cy="1041.9" r="1.55"/><circle cx="262.9" cy="1041.9" r="1.55"/><circle cx="263.1" cy="997.2" r="1.55"/><circle cx="263.3" cy="986.1" r="1.55"/><circle cx="263.4" cy="1041.9" r="1.55"/><circle cx="263.6" cy="1041.9" r="1.55"/><circle cx="263.8" cy="1041.9" r="1.55"/><circle cx="264" cy="1041.9" r="1.55"/><circle cx="264.1" cy="989.8" r="1.55"/><circle cx="264.3" cy="1041.9" r="1.55"/><circle cx="264.5" cy="1041.9" r="1.55"/><circle cx="264.7" cy="1041.9" r="1.55"/><circle cx="264.8" cy="994.1" r="1.55"/><circle cx="265" cy="979.3" r="1.55"/><circle cx="265.2" cy="1041.9" r="1.55"/><circle cx="265.4" cy="986.7" r="1.55"/><circle cx="265.5" cy="1006.8" r="1.55"/><circle cx="265.7" cy="1041.9" r="1.55"/><circle cx="265.9" cy="1041.9" r="1.55"/><circle cx="266.1" cy="1041.9" r="1.55"/><circle cx="266.2" cy="1041.9" r="1.55"/><circle cx="266.4" cy="1041.9" r="1.55"/><circle cx="266.6" cy="1041.9" r="1.55"/><circle cx="266.8" cy="1041.9" r="1.55"/><circle cx="266.9" cy="975.2" r="1.55"/><circle cx="267.1" cy="1041.9" r="1.55"/><circle cx="267.3" cy="983.5" r="1.55"/><circle cx="267.5" cy="1041.9" r="1.55"/><circle cx="267.6" cy="996.5" r="1.55"/><circle cx="267.8" cy="1041.9" r="1.55"/><circle cx="268" cy="973.3" r="1.55"/><circle cx="268.2" cy="1041.9" r="1.55"/><circle cx="268.3" cy="1041.9" r="1.55"/><circle cx="268.5" cy="1041.9" r="1.55"/><circle cx="268.7" cy="1041.9" r="1.55"/><circle cx="268.9" cy="1041.9" r="1.55"/><circle cx="269" cy="1041.9" r="1.55"/><circle cx="269.2" cy="1041.9" r="1.55"/><circle cx="269.4" cy="1041.9" r="1.55"/><circle cx="269.6" cy="992.6" r="1.55"/><circle cx="269.7" cy="972.4" r="1.55"/><circle cx="269.9" cy="1041.9" r="1.55"/><circle cx="270.1" cy="970.8" r="1.55"/><circle cx="270.3" cy="971.4" r="1.55"/><circle cx="270.4" cy="1041.9" r="1.55"/><circle cx="270.6" cy="1041.9" r="1.55"/><circle cx="270.8" cy="983" r="1.55"/><circle cx="271" cy="973.4" r="1.55"/><circle cx="271.1" cy="981.8" r="1.55"/><circle cx="271.3" cy="979.5" r="1.55"/><circle cx="271.5" cy="1041.9" r="1.55"/><circle cx="271.7" cy="1041.9" r="1.55"/><circle cx="271.8" cy="1041.9" r="1.55"/><circle cx="272" cy="1041.9" r="1.55"/><circle cx="272.2" cy="994.5" r="1.55"/><circle cx="272.4" cy="1041.9" r="1.55"/><circle cx="272.5" cy="1041.9" r="1.55"/><circle cx="272.7" cy="1041.9" r="1.55"/><circle cx="272.9" cy="1041.9" r="1.55"/><circle cx="273.1" cy="963.3" r="1.55"/><circle cx="273.2" cy="1041.9" r="1.55"/><circle cx="273.4" cy="973.4" r="1.55"/><circle cx="273.6" cy="986.3" r="1.55"/><circle cx="273.8" cy="963.3" r="1.55"/><circle cx="273.9" cy="975" r="1.55"/><circle cx="274.1" cy="1041.9" r="1.55"/><circle cx="274.3" cy="1041.9" r="1.55"/><circle cx="274.5" cy="1041.9" r="1.55"/><circle cx="274.6" cy="990.1" r="1.55"/><circle cx="274.8" cy="1041.9" r="1.55"/><circle cx="275" cy="1041.9" r="1.55"/><circle cx="275.2" cy="1006.4" r="1.55"/><circle cx="275.3" cy="974.8" r="1.55"/><circle cx="275.5" cy="1041.9" r="1.55"/><circle cx="275.7" cy="1041.9" r="1.55"/><circle cx="275.9" cy="1041.9" r="1.55"/><circle cx="276" cy="958.6" r="1.55"/><circle cx="276.2" cy="971" r="1.55"/><circle cx="276.4" cy="1041.9" r="1.55"/><circle cx="276.6" cy="1041.9" r="1.55"/><circle cx="276.7" cy="1041.9" r="1.55"/><circle cx="276.9" cy="982.4" r="1.55"/><circle cx="277.1" cy="1041.9" r="1.55"/><circle cx="277.3" cy="955.4" r="1.55"/><circle cx="277.4" cy="1041.9" r="1.55"/><circle cx="277.6" cy="993.3" r="1.55"/><circle cx="277.8" cy="978.1" r="1.55"/><circle cx="278" cy="952.2" r="1.55"/><circle cx="278.1" cy="946.9" r="1.55"/><circle cx="278.3" cy="1005.5" r="1.55"/><circle cx="278.5" cy="947.4" r="1.55"/><circle cx="278.7" cy="1041.9" r="1.55"/><circle cx="278.8" cy="1041.9" r="1.55"/><circle cx="279" cy="951" r="1.55"/><circle cx="279.2" cy="1041.9" r="1.55"/><circle cx="279.4" cy="970.9" r="1.55"/><circle cx="279.5" cy="1041.9" r="1.55"/><circle cx="279.7" cy="945.9" r="1.55"/><circle cx="279.9" cy="1041.9" r="1.55"/><circle cx="280.1" cy="942.7" r="1.55"/><circle cx="280.2" cy="1041.9" r="1.55"/><circle cx="280.4" cy="1041.9" r="1.55"/><circle cx="280.6" cy="989.6" r="1.55"/><circle cx="280.8" cy="1041.9" r="1.55"/><circle cx="280.9" cy="1041.9" r="1.55"/><circle cx="281.1" cy="1041.9" r="1.55"/><circle cx="281.3" cy="1041.9" r="1.55"/><circle cx="281.5" cy="1041.9" r="1.55"/><circle cx="281.6" cy="1000.8" r="1.55"/><circle cx="281.8" cy="937.9" r="1.55"/><circle cx="282" cy="1041.9" r="1.55"/><circle cx="282.2" cy="938.7" r="1.55"/><circle cx="282.3" cy="1006.6" r="1.55"/><circle cx="282.5" cy="926.5" r="1.55"/><circle cx="282.7" cy="1041.9" r="1.55"/><circle cx="282.9" cy="1041.9" r="1.55"/><circle cx="283" cy="923.1" r="1.55"/><circle cx="283.2" cy="1041.9" r="1.55"/><circle cx="283.4" cy="958.8" r="1.55"/><circle cx="283.6" cy="999.5" r="1.55"/><circle cx="283.7" cy="944.3" r="1.55"/><circle cx="283.9" cy="1041.9" r="1.55"/><circle cx="284.1" cy="915.6" r="1.55"/><circle cx="284.3" cy="935.2" r="1.55"/><circle cx="284.4" cy="1041.9" r="1.55"/><circle cx="284.6" cy="1006.9" r="1.55"/><circle cx="284.8" cy="1041.9" r="1.55"/><circle cx="285" cy="909" r="1.55"/><circle cx="285.1" cy="1041.9" r="1.55"/><circle cx="285.3" cy="959.5" r="1.55"/><circle cx="285.5" cy="992.6" r="1.55"/><circle cx="285.7" cy="1041.9" r="1.55"/><circle cx="285.8" cy="984.4" r="1.55"/><circle cx="286" cy="1041.9" r="1.55"/><circle cx="286.2" cy="1041.9" r="1.55"/><circle cx="286.4" cy="1041.9" r="1.55"/><circle cx="286.5" cy="1041.9" r="1.55"/><circle cx="286.7" cy="921" r="1.55"/><circle cx="286.9" cy="1041.9" r="1.55"/><circle cx="287.1" cy="963.9" r="1.55"/><circle cx="287.2" cy="986.3" r="1.55"/><circle cx="287.4" cy="964.6" r="1.55"/><circle cx="287.6" cy="1041.9" r="1.55"/><circle cx="287.8" cy="1041.9" r="1.55"/><circle cx="287.9" cy="984.6" r="1.55"/><circle cx="288.1" cy="956" r="1.55"/><circle cx="288.3" cy="983" r="1.55"/><circle cx="288.5" cy="926.2" r="1.55"/><circle cx="288.6" cy="1041.9" r="1.55"/><circle cx="288.8" cy="1041.9" r="1.55"/><circle cx="289" cy="975.6" r="1.55"/><circle cx="289.2" cy="905.1" r="1.55"/><circle cx="289.3" cy="1041.9" r="1.55"/><circle cx="289.5" cy="1041.9" r="1.55"/><circle cx="289.7" cy="1041.9" r="1.55"/><circle cx="289.9" cy="1041.9" r="1.55"/><circle cx="290" cy="1041.9" r="1.55"/><circle cx="290.2" cy="1041.9" r="1.55"/><circle cx="290.4" cy="883.1" r="1.55"/><circle cx="290.6" cy="880.7" r="1.55"/><circle cx="290.7" cy="1041.9" r="1.55"/><circle cx="290.9" cy="989.3" r="1.55"/><circle cx="291.1" cy="1041.9" r="1.55"/><circle cx="291.3" cy="1041.9" r="1.55"/><circle cx="291.4" cy="907.5" r="1.55"/><circle cx="291.6" cy="896.9" r="1.55"/><circle cx="291.8" cy="907.5" r="1.55"/><circle cx="292" cy="887.8" r="1.55"/><circle cx="292.1" cy="918.5" r="1.55"/><circle cx="292.3" cy="872.4" r="1.55"/><circle cx="292.5" cy="881.5" r="1.55"/><circle cx="292.7" cy="915.7" r="1.55"/><circle cx="292.8" cy="871.5" r="1.55"/><circle cx="293" cy="949.8" r="1.55"/><circle cx="293.2" cy="1041.9" r="1.55"/><circle cx="293.4" cy="1041.9" r="1.55"/><circle cx="293.5" cy="903.4" r="1.55"/><circle cx="293.7" cy="891.9" r="1.55"/><circle cx="293.9" cy="1041.9" r="1.55"/><circle cx="294.1" cy="871.1" r="1.55"/><circle cx="294.2" cy="1041.9" r="1.55"/><circle cx="294.4" cy="1041.9" r="1.55"/><circle cx="294.6" cy="868.7" r="1.55"/><circle cx="294.8" cy="997.2" r="1.55"/><circle cx="294.9" cy="883.8" r="1.55"/><circle cx="295.1" cy="925.1" r="1.55"/><circle cx="295.3" cy="1041.9" r="1.55"/><circle cx="295.5" cy="1041.9" r="1.55"/><circle cx="295.6" cy="994.6" r="1.55"/><circle cx="295.8" cy="909" r="1.55"/><circle cx="296" cy="885.2" r="1.55"/><circle cx="296.2" cy="876.1" r="1.55"/><circle cx="296.3" cy="977.6" r="1.55"/><circle cx="296.5" cy="867.8" r="1.55"/><circle cx="296.7" cy="874.2" r="1.55"/><circle cx="296.9" cy="1041.9" r="1.55"/><circle cx="297" cy="1041.9" r="1.55"/><circle cx="297.2" cy="1041.9" r="1.55"/><circle cx="297.4" cy="1041.9" r="1.55"/><circle cx="297.6" cy="1041.9" r="1.55"/><circle cx="297.7" cy="935.8" r="1.55"/><circle cx="297.9" cy="1041.9" r="1.55"/><circle cx="298.1" cy="979.1" r="1.55"/><circle cx="298.3" cy="863" r="1.55"/><circle cx="298.4" cy="913" r="1.55"/><circle cx="298.6" cy="1041.9" r="1.55"/><circle cx="298.8" cy="1041.9" r="1.55"/><circle cx="299" cy="891.6" r="1.55"/><circle cx="299.1" cy="1041.9" r="1.55"/><circle cx="299.3" cy="864.5" r="1.55"/><circle cx="299.5" cy="902.9" r="1.55"/><circle cx="299.7" cy="1041.9" r="1.55"/><circle cx="299.8" cy="999.6" r="1.55"/><circle cx="300" cy="905" r="1.55"/><circle cx="300.2" cy="874.3" r="1.55"/><circle cx="300.4" cy="1041.9" r="1.55"/><circle cx="300.5" cy="870.3" r="1.55"/><circle cx="300.7" cy="992" r="1.55"/><circle cx="300.9" cy="860.3" r="1.55"/><circle cx="301.1" cy="1041.9" r="1.55"/><circle cx="301.2" cy="881.5" r="1.55"/><circle cx="301.4" cy="913.4" r="1.55"/><circle cx="301.6" cy="870.1" r="1.55"/><circle cx="301.8" cy="960.5" r="1.55"/><circle cx="301.9" cy="941.2" r="1.55"/><circle cx="302.1" cy="994.3" r="1.55"/><circle cx="302.3" cy="967.6" r="1.55"/><circle cx="302.5" cy="997" r="1.55"/><circle cx="302.6" cy="1041.9" r="1.55"/><circle cx="302.8" cy="857.9" r="1.55"/><circle cx="303" cy="866.9" r="1.55"/><circle cx="303.2" cy="1041.9" r="1.55"/><circle cx="303.3" cy="948.9" r="1.55"/><circle cx="303.5" cy="916.8" r="1.55"/><circle cx="303.7" cy="857.1" r="1.55"/><circle cx="303.9" cy="1041.9" r="1.55"/><circle cx="304" cy="935.2" r="1.55"/><circle cx="304.2" cy="938.9" r="1.55"/><circle cx="304.4" cy="856.6" r="1.55"/><circle cx="304.6" cy="1041.9" r="1.55"/><circle cx="304.7" cy="927.4" r="1.55"/><circle cx="304.9" cy="857.9" r="1.55"/><circle cx="305.1" cy="899.3" r="1.55"/><circle cx="305.3" cy="857.2" r="1.55"/><circle cx="305.4" cy="1041.9" r="1.55"/><circle cx="305.6" cy="880.2" r="1.55"/><circle cx="305.8" cy="1041.9" r="1.55"/><circle cx="306" cy="866.3" r="1.55"/><circle cx="306.1" cy="1041.9" r="1.55"/><circle cx="306.3" cy="900" r="1.55"/><circle cx="306.5" cy="861.5" r="1.55"/><circle cx="306.7" cy="965.6" r="1.55"/><circle cx="306.8" cy="942.9" r="1.55"/><circle cx="307" cy="879.3" r="1.55"/><circle cx="307.2" cy="992.7" r="1.55"/><circle cx="307.4" cy="1001" r="1.55"/><circle cx="307.5" cy="871.8" r="1.55"/><circle cx="307.7" cy="856.2" r="1.55"/><circle cx="307.9" cy="857.2" r="1.55"/><circle cx="308.1" cy="1041.9" r="1.55"/><circle cx="308.2" cy="886.6" r="1.55"/><circle cx="308.4" cy="1041.9" r="1.55"/><circle cx="308.6" cy="958.8" r="1.55"/><circle cx="308.8" cy="857.8" r="1.55"/><circle cx="308.9" cy="997.7" r="1.55"/><circle cx="309.1" cy="866" r="1.55"/><circle cx="309.3" cy="939.2" r="1.55"/><circle cx="309.5" cy="948" r="1.55"/><circle cx="309.6" cy="857.3" r="1.55"/><circle cx="309.8" cy="855.4" r="1.55"/><circle cx="310" cy="859.7" r="1.55"/><circle cx="310.2" cy="974.7" r="1.55"/><circle cx="310.3" cy="999.4" r="1.55"/><circle cx="310.5" cy="862.1" r="1.55"/><circle cx="310.7" cy="857" r="1.55"/><circle cx="310.9" cy="973.7" r="1.55"/><circle cx="311" cy="855.5" r="1.55"/><circle cx="311.2" cy="869.4" r="1.55"/><circle cx="311.4" cy="854.6" r="1.55"/><circle cx="311.6" cy="1041.9" r="1.55"/><circle cx="311.7" cy="1041.9" r="1.55"/><circle cx="311.9" cy="857.9" r="1.55"/><circle cx="312.1" cy="1041.9" r="1.55"/><circle cx="312.3" cy="857.7" r="1.55"/><circle cx="312.4" cy="871.3" r="1.55"/><circle cx="312.6" cy="861.4" r="1.55"/><circle cx="312.8" cy="852.5" r="1.55"/><circle cx="313" cy="855.9" r="1.55"/><circle cx="313.1" cy="939" r="1.55"/><circle cx="313.3" cy="851.4" r="1.55"/><circle cx="313.5" cy="851.6" r="1.55"/><circle cx="313.7" cy="852.7" r="1.55"/><circle cx="313.8" cy="852.2" r="1.55"/><circle cx="314" cy="851.2" r="1.55"/><circle cx="314.2" cy="854.3" r="1.55"/><circle cx="314.4" cy="933.1" r="1.55"/><circle cx="314.5" cy="868.6" r="1.55"/><circle cx="314.7" cy="851.9" r="1.55"/><circle cx="314.9" cy="1041.9" r="1.55"/><circle cx="315.1" cy="857.2" r="1.55"/><circle cx="315.2" cy="854.7" r="1.55"/><circle cx="315.4" cy="851" r="1.55"/><circle cx="315.6" cy="860.6" r="1.55"/><circle cx="315.8" cy="852.3" r="1.55"/><circle cx="315.9" cy="1041.9" r="1.55"/><circle cx="316.1" cy="853" r="1.55"/><circle cx="316.3" cy="1041.9" r="1.55"/><circle cx="316.5" cy="865.2" r="1.55"/><circle cx="316.6" cy="863.6" r="1.55"/><circle cx="316.8" cy="853.7" r="1.55"/><circle cx="317" cy="850.8" r="1.55"/><circle cx="317.2" cy="856.2" r="1.55"/><circle cx="317.3" cy="853.8" r="1.55"/><circle cx="317.5" cy="890.6" r="1.55"/><circle cx="317.7" cy="872.2" r="1.55"/><circle cx="317.9" cy="888" r="1.55"/><circle cx="318" cy="865.8" r="1.55"/><circle cx="318.2" cy="849.8" r="1.55"/><circle cx="318.4" cy="868.4" r="1.55"/><circle cx="318.6" cy="850.2" r="1.55"/><circle cx="318.7" cy="853.2" r="1.55"/><circle cx="318.9" cy="860.9" r="1.55"/><circle cx="319.1" cy="881.5" r="1.55"/><circle cx="319.3" cy="850.6" r="1.55"/><circle cx="319.4" cy="852.1" r="1.55"/><circle cx="319.6" cy="874.5" r="1.55"/><circle cx="319.8" cy="851.9" r="1.55"/><circle cx="320" cy="902.7" r="1.55"/><circle cx="320.1" cy="853.7" r="1.55"/><circle cx="320.3" cy="856.9" r="1.55"/><circle cx="320.5" cy="849" r="1.55"/><circle cx="320.7" cy="852.4" r="1.55"/><circle cx="320.8" cy="855.9" r="1.55"/><circle cx="321" cy="852.8" r="1.55"/><circle cx="321.2" cy="876.1" r="1.55"/><circle cx="321.4" cy="863.6" r="1.55"/><circle cx="321.5" cy="865.2" r="1.55"/><circle cx="321.7" cy="910.6" r="1.55"/><circle cx="321.9" cy="854.4" r="1.55"/><circle cx="322.1" cy="849.3" r="1.55"/><circle cx="322.2" cy="851.1" r="1.55"/><circle cx="322.4" cy="849.5" r="1.55"/><circle cx="322.6" cy="863.9" r="1.55"/><circle cx="322.8" cy="849.7" r="1.55"/><circle cx="322.9" cy="851.3" r="1.55"/><circle cx="323.1" cy="864.8" r="1.55"/><circle cx="323.3" cy="850.9" r="1.55"/><circle cx="323.5" cy="871.5" r="1.55"/><circle cx="323.6" cy="923.9" r="1.55"/><circle cx="323.8" cy="847.7" r="1.55"/><circle cx="324" cy="953.8" r="1.55"/><circle cx="324.2" cy="847.6" r="1.55"/><circle cx="324.3" cy="855.9" r="1.55"/><circle cx="324.5" cy="865.1" r="1.55"/><circle cx="324.7" cy="854.7" r="1.55"/><circle cx="324.9" cy="861.6" r="1.55"/><circle cx="325" cy="850.7" r="1.55"/><circle cx="325.2" cy="849.2" r="1.55"/><circle cx="325.4" cy="851.6" r="1.55"/><circle cx="325.6" cy="886.1" r="1.55"/><circle cx="325.7" cy="847.4" r="1.55"/><circle cx="325.9" cy="871.9" r="1.55"/><circle cx="326.1" cy="960.3" r="1.55"/><circle cx="326.3" cy="854.8" r="1.55"/><circle cx="326.4" cy="869.1" r="1.55"/><circle cx="326.6" cy="856.7" r="1.55"/><circle cx="326.8" cy="897.5" r="1.55"/><circle cx="327" cy="884" r="1.55"/><circle cx="327.1" cy="853.5" r="1.55"/><circle cx="327.3" cy="847.4" r="1.55"/><circle cx="327.5" cy="847.5" r="1.55"/><circle cx="327.7" cy="850" r="1.55"/><circle cx="327.8" cy="861.1" r="1.55"/><circle cx="328" cy="856.7" r="1.55"/><circle cx="328.2" cy="846.1" r="1.55"/><circle cx="328.4" cy="852" r="1.55"/><circle cx="328.5" cy="901.3" r="1.55"/><circle cx="328.7" cy="874" r="1.55"/><circle cx="328.9" cy="861.9" r="1.55"/><circle cx="329.1" cy="848.7" r="1.55"/><circle cx="329.2" cy="875.7" r="1.55"/><circle cx="329.4" cy="868.5" r="1.55"/><circle cx="329.6" cy="845.9" r="1.55"/><circle cx="329.8" cy="962.8" r="1.55"/><circle cx="329.9" cy="885.3" r="1.55"/><circle cx="330.1" cy="846.1" r="1.55"/><circle cx="330.3" cy="863.7" r="1.55"/><circle cx="330.5" cy="846.8" r="1.55"/><circle cx="330.6" cy="919" r="1.55"/><circle cx="330.8" cy="853.7" r="1.55"/><circle cx="331" cy="867.3" r="1.55"/><circle cx="331.2" cy="845.6" r="1.55"/><circle cx="331.3" cy="864.7" r="1.55"/><circle cx="331.5" cy="857.4" r="1.55"/><circle cx="331.7" cy="871.5" r="1.55"/><circle cx="331.9" cy="858.5" r="1.55"/><circle cx="332" cy="847.8" r="1.55"/><circle cx="332.2" cy="846.7" r="1.55"/><circle cx="332.4" cy="932.9" r="1.55"/><circle cx="332.6" cy="897.4" r="1.55"/><circle cx="332.7" cy="908.3" r="1.55"/><circle cx="332.9" cy="932.3" r="1.55"/><circle cx="333.1" cy="847.9" r="1.55"/><circle cx="333.3" cy="845.8" r="1.55"/><circle cx="333.4" cy="844.7" r="1.55"/><circle cx="333.6" cy="846.1" r="1.55"/><circle cx="333.8" cy="855.9" r="1.55"/><circle cx="334" cy="846.5" r="1.55"/><circle cx="334.1" cy="861.1" r="1.55"/><circle cx="334.3" cy="848.4" r="1.55"/><circle cx="334.5" cy="845" r="1.55"/><circle cx="334.7" cy="846.9" r="1.55"/><circle cx="334.8" cy="848.9" r="1.55"/><circle cx="335" cy="851.8" r="1.55"/><circle cx="335.2" cy="846.4" r="1.55"/><circle cx="335.4" cy="847.3" r="1.55"/><circle cx="335.5" cy="859.5" r="1.55"/><circle cx="335.7" cy="849.3" r="1.55"/><circle cx="335.9" cy="850.3" r="1.55"/><circle cx="336.1" cy="845.6" r="1.55"/><circle cx="336.2" cy="855.5" r="1.55"/><circle cx="336.4" cy="855.7" r="1.55"/><circle cx="336.6" cy="845.5" r="1.55"/><circle cx="336.8" cy="904.7" r="1.55"/><circle cx="336.9" cy="843.6" r="1.55"/><circle cx="337.1" cy="855.5" r="1.55"/><circle cx="337.3" cy="850.2" r="1.55"/><circle cx="337.5" cy="853.5" r="1.55"/><circle cx="337.6" cy="859.4" r="1.55"/><circle cx="337.8" cy="844.2" r="1.55"/><circle cx="338" cy="862.3" r="1.55"/><circle cx="338.2" cy="843.9" r="1.55"/><circle cx="338.3" cy="845.3" r="1.55"/><circle cx="338.5" cy="856.6" r="1.55"/><circle cx="338.7" cy="851.2" r="1.55"/><circle cx="338.9" cy="844.2" r="1.55"/><circle cx="339" cy="890.7" r="1.55"/><circle cx="339.2" cy="846.9" r="1.55"/><circle cx="339.4" cy="848.6" r="1.55"/><circle cx="339.6" cy="844.9" r="1.55"/><circle cx="339.7" cy="847.2" r="1.55"/><circle cx="339.9" cy="856.4" r="1.55"/><circle cx="340.1" cy="846.2" r="1.55"/><circle cx="340.3" cy="844.6" r="1.55"/><circle cx="340.4" cy="849.6" r="1.55"/><circle cx="340.6" cy="842.9" r="1.55"/><circle cx="340.8" cy="844.5" r="1.55"/><circle cx="341" cy="843.2" r="1.55"/><circle cx="341.1" cy="861" r="1.55"/><circle cx="341.3" cy="842.4" r="1.55"/><circle cx="341.5" cy="846" r="1.55"/><circle cx="341.7" cy="853.1" r="1.55"/><circle cx="341.8" cy="844" r="1.55"/><circle cx="342" cy="843.6" r="1.55"/><circle cx="342.2" cy="846.2" r="1.55"/><circle cx="342.4" cy="847.6" r="1.55"/><circle cx="342.5" cy="846" r="1.55"/><circle cx="342.7" cy="848.5" r="1.55"/><circle cx="342.9" cy="920.9" r="1.55"/><circle cx="343.1" cy="844" r="1.55"/><circle cx="343.2" cy="843.6" r="1.55"/><circle cx="343.4" cy="855.3" r="1.55"/><circle cx="343.6" cy="852" r="1.55"/><circle cx="343.8" cy="846.3" r="1.55"/><circle cx="343.9" cy="843.6" r="1.55"/><circle cx="344.1" cy="896.5" r="1.55"/><circle cx="344.3" cy="847.4" r="1.55"/><circle cx="344.5" cy="872.9" r="1.55"/><circle cx="344.6" cy="854.9" r="1.55"/><circle cx="344.8" cy="855.4" r="1.55"/><circle cx="345" cy="842" r="1.55"/><circle cx="345.2" cy="846.2" r="1.55"/><circle cx="345.3" cy="852.8" r="1.55"/><circle cx="345.5" cy="844.6" r="1.55"/><circle cx="345.7" cy="849.6" r="1.55"/><circle cx="345.9" cy="843.9" r="1.55"/><circle cx="346" cy="844.3" r="1.55"/><circle cx="346.2" cy="848.3" r="1.55"/><circle cx="346.4" cy="842.2" r="1.55"/><circle cx="346.6" cy="847.6" r="1.55"/><circle cx="346.7" cy="847.6" r="1.55"/><circle cx="346.9" cy="854.4" r="1.55"/><circle cx="347.1" cy="850.7" r="1.55"/><circle cx="347.3" cy="846.7" r="1.55"/><circle cx="347.4" cy="844.4" r="1.55"/><circle cx="347.6" cy="849.7" r="1.55"/><circle cx="347.8" cy="852.4" r="1.55"/><circle cx="348" cy="844.7" r="1.55"/><circle cx="348.1" cy="841.9" r="1.55"/><circle cx="348.3" cy="843.7" r="1.55"/><circle cx="348.5" cy="841.9" r="1.55"/><circle cx="348.7" cy="844" r="1.55"/><circle cx="348.8" cy="841" r="1.55"/><circle cx="349" cy="842.9" r="1.55"/><circle cx="349.2" cy="841.3" r="1.55"/><circle cx="349.4" cy="841.2" r="1.55"/><circle cx="349.5" cy="844.4" r="1.55"/><circle cx="349.7" cy="850.5" r="1.55"/><circle cx="349.9" cy="843.9" r="1.55"/><circle cx="350.1" cy="844.1" r="1.55"/><circle cx="350.2" cy="846.1" r="1.55"/><circle cx="350.4" cy="841.4" r="1.55"/><circle cx="350.6" cy="841.2" r="1.55"/><circle cx="350.8" cy="844.4" r="1.55"/><circle cx="350.9" cy="840.7" r="1.55"/><circle cx="351.1" cy="841.5" r="1.55"/><circle cx="351.3" cy="845" r="1.55"/><circle cx="351.5" cy="854.6" r="1.55"/><circle cx="351.6" cy="841.8" r="1.55"/><circle cx="351.8" cy="856.8" r="1.55"/><circle cx="352" cy="840.8" r="1.55"/><circle cx="352.2" cy="851.2" r="1.55"/><circle cx="352.3" cy="840" r="1.55"/><circle cx="352.5" cy="841.3" r="1.55"/><circle cx="352.7" cy="864.1" r="1.55"/><circle cx="352.9" cy="850.5" r="1.55"/><circle cx="353" cy="844.5" r="1.55"/><circle cx="353.2" cy="853" r="1.55"/><circle cx="353.4" cy="842.8" r="1.55"/><circle cx="353.6" cy="844.1" r="1.55"/><circle cx="353.7" cy="842.6" r="1.55"/><circle cx="353.9" cy="839.8" r="1.55"/><circle cx="354.1" cy="840.6" r="1.55"/><circle cx="354.3" cy="840.3" r="1.55"/><circle cx="354.4" cy="841.7" r="1.55"/><circle cx="354.6" cy="846.4" r="1.55"/><circle cx="354.8" cy="843" r="1.55"/><circle cx="355" cy="847.7" r="1.55"/><circle cx="355.1" cy="840.1" r="1.55"/><circle cx="355.3" cy="850.2" r="1.55"/><circle cx="355.5" cy="840.3" r="1.55"/><circle cx="355.7" cy="845.6" r="1.55"/><circle cx="355.8" cy="841.9" r="1.55"/><circle cx="356" cy="840.7" r="1.55"/><circle cx="356.2" cy="846.5" r="1.55"/><circle cx="356.4" cy="855" r="1.55"/><circle cx="356.5" cy="850.7" r="1.55"/><circle cx="356.7" cy="840.9" r="1.55"/><circle cx="356.9" cy="848.5" r="1.55"/><circle cx="357.1" cy="841.3" r="1.55"/><circle cx="357.3" cy="842.6" r="1.55"/><circle cx="357.4" cy="840.3" r="1.55"/><circle cx="357.6" cy="840.1" r="1.55"/><circle cx="357.8" cy="841.6" r="1.55"/><circle cx="358" cy="842.7" r="1.55"/><circle cx="358.1" cy="841.4" r="1.55"/><circle cx="358.3" cy="883.5" r="1.55"/><circle cx="358.5" cy="847.7" r="1.55"/><circle cx="358.7" cy="839.6" r="1.55"/><circle cx="358.8" cy="838.9" r="1.55"/><circle cx="359" cy="844.6" r="1.55"/><circle cx="359.2" cy="903.4" r="1.55"/><circle cx="359.4" cy="839.3" r="1.55"/><circle cx="359.5" cy="859.1" r="1.55"/><circle cx="359.7" cy="840.4" r="1.55"/><circle cx="359.9" cy="839.2" r="1.55"/><circle cx="360.1" cy="840.6" r="1.55"/><circle cx="360.2" cy="845.9" r="1.55"/><circle cx="360.4" cy="845.2" r="1.55"/><circle cx="360.6" cy="842.5" r="1.55"/><circle cx="360.8" cy="840.3" r="1.55"/><circle cx="360.9" cy="844.1" r="1.55"/><circle cx="361.1" cy="854" r="1.55"/><circle cx="361.3" cy="838.9" r="1.55"/><circle cx="361.5" cy="841.3" r="1.55"/><circle cx="361.6" cy="839.1" r="1.55"/><circle cx="361.8" cy="847.9" r="1.55"/><circle cx="362" cy="838.7" r="1.55"/><circle cx="362.2" cy="840.9" r="1.55"/><circle cx="362.3" cy="844.6" r="1.55"/><circle cx="362.5" cy="839.6" r="1.55"/><circle cx="362.7" cy="838.8" r="1.55"/><circle cx="362.9" cy="839.8" r="1.55"/><circle cx="363" cy="838.9" r="1.55"/><circle cx="363.2" cy="847.6" r="1.55"/><circle cx="363.4" cy="841.2" r="1.55"/><circle cx="363.6" cy="840.7" r="1.55"/><circle cx="363.7" cy="838.5" r="1.55"/><circle cx="363.9" cy="839.8" r="1.55"/><circle cx="364.1" cy="838.7" r="1.55"/><circle cx="364.3" cy="847.5" r="1.55"/><circle cx="364.4" cy="843" r="1.55"/><circle cx="364.6" cy="841.5" r="1.55"/><circle cx="364.8" cy="838.6" r="1.55"/><circle cx="365" cy="839.2" r="1.55"/><circle cx="365.1" cy="843.3" r="1.55"/><circle cx="365.3" cy="838.5" r="1.55"/><circle cx="365.5" cy="840.8" r="1.55"/><circle cx="365.7" cy="860.2" r="1.55"/><circle cx="365.8" cy="840" r="1.55"/><circle cx="366" cy="837.9" r="1.55"/><circle cx="366.2" cy="842.5" r="1.55"/><circle cx="366.4" cy="841.8" r="1.55"/><circle cx="366.5" cy="844.7" r="1.55"/><circle cx="366.7" cy="838.5" r="1.55"/><circle cx="366.9" cy="840.4" r="1.55"/><circle cx="367.1" cy="839.5" r="1.55"/><circle cx="367.2" cy="840.8" r="1.55"/><circle cx="367.4" cy="838" r="1.55"/><circle cx="367.6" cy="837.9" r="1.55"/><circle cx="367.8" cy="852.3" r="1.55"/><circle cx="367.9" cy="841.6" r="1.55"/><circle cx="368.1" cy="838.7" r="1.55"/><circle cx="368.3" cy="840.4" r="1.55"/><circle cx="368.5" cy="840.4" r="1.55"/><circle cx="368.6" cy="843.6" r="1.55"/><circle cx="368.8" cy="838" r="1.55"/><circle cx="369" cy="837.2" r="1.55"/><circle cx="369.2" cy="838" r="1.55"/><circle cx="369.3" cy="838.7" r="1.55"/><circle cx="369.5" cy="840.4" r="1.55"/><circle cx="369.7" cy="837.5" r="1.55"/><circle cx="369.9" cy="837.9" r="1.55"/><circle cx="370" cy="842.3" r="1.55"/><circle cx="370.2" cy="872.8" r="1.55"/><circle cx="370.4" cy="841.6" r="1.55"/><circle cx="370.6" cy="876.1" r="1.55"/><circle cx="370.7" cy="844.7" r="1.55"/><circle cx="370.9" cy="853.8" r="1.55"/><circle cx="371.1" cy="839.1" r="1.55"/><circle cx="371.3" cy="843.7" r="1.55"/><circle cx="371.4" cy="836.8" r="1.55"/><circle cx="371.6" cy="841.8" r="1.55"/><circle cx="371.8" cy="837.5" r="1.55"/><circle cx="372" cy="841.6" r="1.55"/><circle cx="372.1" cy="838.1" r="1.55"/><circle cx="372.3" cy="837" r="1.55"/><circle cx="372.5" cy="836.8" r="1.55"/><circle cx="372.7" cy="838.3" r="1.55"/><circle cx="372.8" cy="842.5" r="1.55"/><circle cx="373" cy="852.5" r="1.55"/><circle cx="373.2" cy="836.9" r="1.55"/><circle cx="373.4" cy="838.7" r="1.55"/><circle cx="373.5" cy="846" r="1.55"/><circle cx="373.7" cy="839.9" r="1.55"/><circle cx="373.9" cy="842.7" r="1.55"/><circle cx="374.1" cy="837.9" r="1.55"/><circle cx="374.2" cy="838.2" r="1.55"/><circle cx="374.4" cy="843.2" r="1.55"/><circle cx="374.6" cy="836.9" r="1.55"/><circle cx="374.8" cy="840.7" r="1.55"/><circle cx="374.9" cy="839.8" r="1.55"/><circle cx="375.1" cy="850.8" r="1.55"/><circle cx="375.3" cy="906.9" r="1.55"/><circle cx="375.5" cy="836.2" r="1.55"/><circle cx="375.6" cy="837.1" r="1.55"/><circle cx="375.8" cy="843.2" r="1.55"/><circle cx="376" cy="840.7" r="1.55"/><circle cx="376.2" cy="841.5" r="1.55"/><circle cx="376.3" cy="838.9" r="1.55"/><circle cx="376.5" cy="842.1" r="1.55"/><circle cx="376.7" cy="841.6" r="1.55"/><circle cx="376.9" cy="842.7" r="1.55"/><circle cx="377" cy="838.3" r="1.55"/><circle cx="377.2" cy="839.6" r="1.55"/><circle cx="377.4" cy="835.9" r="1.55"/><circle cx="377.6" cy="841.6" r="1.55"/><circle cx="377.7" cy="837.7" r="1.55"/><circle cx="377.9" cy="840.1" r="1.55"/><circle cx="378.1" cy="836.3" r="1.55"/><circle cx="378.3" cy="868.9" r="1.55"/><circle cx="378.4" cy="838.7" r="1.55"/><circle cx="378.6" cy="839.7" r="1.55"/><circle cx="378.8" cy="836.4" r="1.55"/><circle cx="379" cy="837.8" r="1.55"/><circle cx="379.1" cy="836.1" r="1.55"/><circle cx="379.3" cy="843.9" r="1.55"/><circle cx="379.5" cy="835.9" r="1.55"/><circle cx="379.7" cy="837.5" r="1.55"/><circle cx="379.8" cy="838.1" r="1.55"/><circle cx="380" cy="842.2" r="1.55"/><circle cx="380.2" cy="841.9" r="1.55"/><circle cx="380.4" cy="835.5" r="1.55"/><circle cx="380.5" cy="839.1" r="1.55"/><circle cx="380.7" cy="839.9" r="1.55"/><circle cx="380.9" cy="836" r="1.55"/><circle cx="381.1" cy="836.2" r="1.55"/><circle cx="381.2" cy="836" r="1.55"/><circle cx="381.4" cy="838.4" r="1.55"/><circle cx="381.6" cy="838.7" r="1.55"/><circle cx="381.8" cy="836.8" r="1.55"/><circle cx="381.9" cy="841.4" r="1.55"/><circle cx="382.1" cy="836.7" r="1.55"/><circle cx="382.3" cy="842.6" r="1.55"/><circle cx="382.5" cy="835.4" r="1.55"/><circle cx="382.6" cy="836.7" r="1.55"/><circle cx="382.8" cy="841.1" r="1.55"/><circle cx="383" cy="835.1" r="1.55"/><circle cx="383.2" cy="841.5" r="1.55"/><circle cx="383.3" cy="836.7" r="1.55"/><circle cx="383.5" cy="835.1" r="1.55"/><circle cx="383.7" cy="839.8" r="1.55"/><circle cx="383.9" cy="836" r="1.55"/><circle cx="384" cy="841.6" r="1.55"/><circle cx="384.2" cy="834.9" r="1.55"/><circle cx="384.4" cy="835.2" r="1.55"/><circle cx="384.6" cy="834.8" r="1.55"/><circle cx="384.7" cy="835.6" r="1.55"/><circle cx="384.9" cy="837.1" r="1.55"/><circle cx="385.1" cy="835.9" r="1.55"/><circle cx="385.3" cy="838.7" r="1.55"/><circle cx="385.4" cy="835.4" r="1.55"/><circle cx="385.6" cy="835.7" r="1.55"/><circle cx="385.8" cy="849.5" r="1.55"/><circle cx="386" cy="845.8" r="1.55"/><circle cx="386.1" cy="843.9" r="1.55"/><circle cx="386.3" cy="835.1" r="1.55"/><circle cx="386.5" cy="834.8" r="1.55"/><circle cx="386.7" cy="836.4" r="1.55"/><circle cx="386.8" cy="839.1" r="1.55"/><circle cx="387" cy="835.3" r="1.55"/><circle cx="387.2" cy="835" r="1.55"/><circle cx="387.4" cy="836.7" r="1.55"/><circle cx="387.5" cy="835.2" r="1.55"/><circle cx="387.7" cy="841.2" r="1.55"/><circle cx="387.9" cy="837.1" r="1.55"/><circle cx="388.1" cy="838.1" r="1.55"/><circle cx="388.2" cy="835.5" r="1.55"/><circle cx="388.4" cy="834.6" r="1.55"/><circle cx="388.6" cy="837.6" r="1.55"/><circle cx="388.8" cy="835.2" r="1.55"/><circle cx="388.9" cy="837.2" r="1.55"/><circle cx="389.1" cy="836.8" r="1.55"/><circle cx="389.3" cy="834.8" r="1.55"/><circle cx="389.5" cy="834.9" r="1.55"/><circle cx="389.6" cy="839" r="1.55"/><circle cx="389.8" cy="838.7" r="1.55"/><circle cx="390" cy="840.7" r="1.55"/><circle cx="390.2" cy="834.5" r="1.55"/><circle cx="390.3" cy="834.3" r="1.55"/><circle cx="390.5" cy="836.6" r="1.55"/><circle cx="390.7" cy="935.2" r="1.55"/><circle cx="390.9" cy="834.2" r="1.55"/><circle cx="391" cy="835.9" r="1.55"/><circle cx="391.2" cy="851.2" r="1.55"/><circle cx="391.4" cy="839.3" r="1.55"/><circle cx="391.6" cy="837.1" r="1.55"/><circle cx="391.7" cy="834.2" r="1.55"/><circle cx="391.9" cy="834.7" r="1.55"/><circle cx="392.1" cy="839.1" r="1.55"/><circle cx="392.3" cy="835.9" r="1.55"/><circle cx="392.4" cy="835.7" r="1.55"/><circle cx="392.6" cy="838.4" r="1.55"/><circle cx="392.8" cy="835.6" r="1.55"/><circle cx="393" cy="834.8" r="1.55"/><circle cx="393.1" cy="837.3" r="1.55"/><circle cx="393.3" cy="835.9" r="1.55"/><circle cx="393.5" cy="835.7" r="1.55"/><circle cx="393.7" cy="834.3" r="1.55"/><circle cx="393.8" cy="836.3" r="1.55"/><circle cx="394" cy="835.3" r="1.55"/><circle cx="394.2" cy="834.9" r="1.55"/><circle cx="394.4" cy="837.9" r="1.55"/><circle cx="394.5" cy="854" r="1.55"/><circle cx="394.7" cy="834.8" r="1.55"/><circle cx="394.9" cy="836.2" r="1.55"/><circle cx="395.1" cy="839.4" r="1.55"/><circle cx="395.2" cy="835.3" r="1.55"/><circle cx="395.4" cy="841.2" r="1.55"/><circle cx="395.6" cy="833.8" r="1.55"/><circle cx="395.8" cy="834.1" r="1.55"/><circle cx="395.9" cy="834" r="1.55"/><circle cx="396.1" cy="836.9" r="1.55"/><circle cx="396.3" cy="833.8" r="1.55"/><circle cx="396.5" cy="834.5" r="1.55"/><circle cx="396.6" cy="833.5" r="1.55"/><circle cx="396.8" cy="839.2" r="1.55"/><circle cx="397" cy="838.3" r="1.55"/><circle cx="397.2" cy="842.2" r="1.55"/><circle cx="397.3" cy="834.9" r="1.55"/><circle cx="397.5" cy="838.8" r="1.55"/><circle cx="397.7" cy="833.4" r="1.55"/><circle cx="397.9" cy="837.5" r="1.55"/><circle cx="398" cy="841.2" r="1.55"/><circle cx="398.2" cy="953" r="1.55"/><circle cx="398.4" cy="834.8" r="1.55"/><circle cx="398.6" cy="837.6" r="1.55"/><circle cx="398.7" cy="833.5" r="1.55"/><circle cx="398.9" cy="836.4" r="1.55"/><circle cx="399.1" cy="864.4" r="1.55"/><circle cx="399.3" cy="835.3" r="1.55"/><circle cx="399.4" cy="833.3" r="1.55"/><circle cx="399.6" cy="837.8" r="1.55"/><circle cx="399.8" cy="834" r="1.55"/><circle cx="400" cy="835.2" r="1.55"/><circle cx="400.1" cy="835.8" r="1.55"/><circle cx="400.3" cy="833.7" r="1.55"/><circle cx="400.5" cy="833.6" r="1.55"/><circle cx="400.7" cy="836.3" r="1.55"/><circle cx="400.8" cy="833.8" r="1.55"/><circle cx="401" cy="836.3" r="1.55"/><circle cx="401.2" cy="835.6" r="1.55"/><circle cx="401.4" cy="838" r="1.55"/><circle cx="401.5" cy="838.2" r="1.55"/><circle cx="401.7" cy="833.6" r="1.55"/><circle cx="401.9" cy="841" r="1.55"/><circle cx="402.1" cy="833.6" r="1.55"/><circle cx="402.2" cy="835.6" r="1.55"/><circle cx="402.4" cy="833.7" r="1.55"/><circle cx="402.6" cy="836.2" r="1.55"/><circle cx="402.8" cy="837.5" r="1.55"/><circle cx="402.9" cy="837.4" r="1.55"/><circle cx="403.1" cy="838.4" r="1.55"/><circle cx="403.3" cy="838.5" r="1.55"/><circle cx="403.5" cy="833.5" r="1.55"/><circle cx="403.6" cy="833.9" r="1.55"/><circle cx="403.8" cy="835.6" r="1.55"/><circle cx="404" cy="850.5" r="1.55"/><circle cx="404.2" cy="838.8" r="1.55"/><circle cx="404.3" cy="832.8" r="1.55"/><circle cx="404.5" cy="833.1" r="1.55"/><circle cx="404.7" cy="832.9" r="1.55"/><circle cx="404.9" cy="835.7" r="1.55"/><circle cx="405" cy="833.2" r="1.55"/><circle cx="405.2" cy="833.3" r="1.55"/><circle cx="405.4" cy="833.8" r="1.55"/><circle cx="405.6" cy="836.8" r="1.55"/><circle cx="405.7" cy="833.9" r="1.55"/><circle cx="405.9" cy="832.8" r="1.55"/><circle cx="406.1" cy="833.3" r="1.55"/><circle cx="406.3" cy="833.6" r="1.55"/><circle cx="406.4" cy="834.3" r="1.55"/><circle cx="406.6" cy="833.7" r="1.55"/><circle cx="406.8" cy="833.7" r="1.55"/><circle cx="407" cy="837.2" r="1.55"/><circle cx="407.1" cy="837.2" r="1.55"/><circle cx="407.3" cy="833.9" r="1.55"/><circle cx="407.5" cy="833.6" r="1.55"/><circle cx="407.7" cy="833.1" r="1.55"/><circle cx="407.8" cy="833.1" r="1.55"/><circle cx="408" cy="833.4" r="1.55"/><circle cx="408.2" cy="834.9" r="1.55"/><circle cx="408.4" cy="833" r="1.55"/><circle cx="408.5" cy="834.1" r="1.55"/><circle cx="408.7" cy="833.5" r="1.55"/><circle cx="408.9" cy="832.5" r="1.55"/><circle cx="409.1" cy="832.5" r="1.55"/><circle cx="409.2" cy="837" r="1.55"/><circle cx="409.4" cy="834.1" r="1.55"/><circle cx="409.6" cy="833.8" r="1.55"/><circle cx="409.8" cy="836.5" r="1.55"/><circle cx="409.9" cy="832.4" r="1.55"/><circle cx="410.1" cy="837.5" r="1.55"/><circle cx="410.3" cy="835.2" r="1.55"/><circle cx="410.5" cy="936.6" r="1.55"/><circle cx="410.6" cy="836.1" r="1.55"/><circle cx="410.8" cy="834.7" r="1.55"/><circle cx="411" cy="833" r="1.55"/><circle cx="411.2" cy="833.2" r="1.55"/><circle cx="411.3" cy="833.7" r="1.55"/><circle cx="411.5" cy="877.6" r="1.55"/><circle cx="411.7" cy="833.5" r="1.55"/><circle cx="411.9" cy="833.1" r="1.55"/><circle cx="412" cy="834.9" r="1.55"/><circle cx="412.2" cy="836.4" r="1.55"/><circle cx="412.4" cy="833.4" r="1.55"/><circle cx="412.6" cy="840.4" r="1.55"/><circle cx="412.7" cy="835.2" r="1.55"/><circle cx="412.9" cy="836.6" r="1.55"/><circle cx="413.1" cy="834.5" r="1.55"/><circle cx="413.3" cy="845.2" r="1.55"/><circle cx="413.4" cy="833.6" r="1.55"/><circle cx="413.6" cy="834.4" r="1.55"/><circle cx="413.8" cy="836.6" r="1.55"/><circle cx="414" cy="832.4" r="1.55"/><circle cx="414.1" cy="833.1" r="1.55"/><circle cx="414.3" cy="832.7" r="1.55"/><circle cx="414.5" cy="834.9" r="1.55"/><circle cx="414.7" cy="877.1" r="1.55"/><circle cx="414.8" cy="833.1" r="1.55"/><circle cx="415" cy="832" r="1.55"/><circle cx="415.2" cy="833" r="1.55"/><circle cx="415.4" cy="831.9" r="1.55"/><circle cx="415.5" cy="832.3" r="1.55"/><circle cx="415.7" cy="833.3" r="1.55"/><circle cx="415.9" cy="833.8" r="1.55"/><circle cx="416.1" cy="832" r="1.55"/><circle cx="416.2" cy="832.3" r="1.55"/><circle cx="416.4" cy="833.9" r="1.55"/><circle cx="416.6" cy="833" r="1.55"/><circle cx="416.8" cy="833.8" r="1.55"/><circle cx="416.9" cy="833.2" r="1.55"/><circle cx="417.1" cy="832.4" r="1.55"/><circle cx="417.3" cy="833.6" r="1.55"/><circle cx="417.5" cy="832.3" r="1.55"/><circle cx="417.6" cy="832.2" r="1.55"/><circle cx="417.8" cy="833.7" r="1.55"/><circle cx="418" cy="837.2" r="1.55"/><circle cx="418.2" cy="833.8" r="1.55"/><circle cx="418.3" cy="832.4" r="1.55"/><circle cx="418.5" cy="833.1" r="1.55"/><circle cx="418.7" cy="835.7" r="1.55"/><circle cx="418.9" cy="835.1" r="1.55"/><circle cx="419" cy="831.7" r="1.55"/><circle cx="419.2" cy="831.6" r="1.55"/><circle cx="419.4" cy="833" r="1.55"/><circle cx="419.6" cy="832.7" r="1.55"/><circle cx="419.7" cy="832.7" r="1.55"/><circle cx="419.9" cy="831.8" r="1.55"/><circle cx="420.1" cy="834.1" r="1.55"/><circle cx="420.3" cy="833.2" r="1.55"/><circle cx="420.4" cy="831.6" r="1.55"/><circle cx="420.6" cy="831.9" r="1.55"/><circle cx="420.8" cy="837.2" r="1.55"/><circle cx="421" cy="831.6" r="1.55"/><circle cx="421.1" cy="831.9" r="1.55"/><circle cx="421.3" cy="834.8" r="1.55"/><circle cx="421.5" cy="831.5" r="1.55"/><circle cx="421.7" cy="832.6" r="1.55"/><circle cx="421.8" cy="832.1" r="1.55"/><circle cx="422" cy="832.5" r="1.55"/><circle cx="422.2" cy="833.1" r="1.55"/><circle cx="422.4" cy="831.4" r="1.55"/><circle cx="422.5" cy="832.8" r="1.55"/><circle cx="422.7" cy="831.8" r="1.55"/><circle cx="422.9" cy="831.7" r="1.55"/><circle cx="423.1" cy="831.7" r="1.55"/><circle cx="423.2" cy="834.3" r="1.55"/><circle cx="423.4" cy="832" r="1.55"/><circle cx="423.6" cy="834" r="1.55"/><circle cx="423.8" cy="837.7" r="1.55"/><circle cx="423.9" cy="832" r="1.55"/><circle cx="424.1" cy="836.8" r="1.55"/><circle cx="424.3" cy="832" r="1.55"/><circle cx="424.5" cy="834" r="1.55"/><circle cx="424.6" cy="832.4" r="1.55"/><circle cx="424.8" cy="835.9" r="1.55"/><circle cx="425" cy="833.4" r="1.55"/><circle cx="425.2" cy="832.5" r="1.55"/><circle cx="425.3" cy="831.1" r="1.55"/><circle cx="425.5" cy="831.8" r="1.55"/><circle cx="425.7" cy="834.1" r="1.55"/><circle cx="425.9" cy="832.9" r="1.55"/><circle cx="426" cy="831.2" r="1.55"/><circle cx="426.2" cy="836.1" r="1.55"/><circle cx="426.4" cy="831.8" r="1.55"/><circle cx="426.6" cy="835.1" r="1.55"/><circle cx="426.7" cy="832" r="1.55"/><circle cx="426.9" cy="832" r="1.55"/><circle cx="427.1" cy="830.9" r="1.55"/><circle cx="427.3" cy="831.1" r="1.55"/><circle cx="427.4" cy="835.1" r="1.55"/><circle cx="427.6" cy="832.2" r="1.55"/><circle cx="427.8" cy="831.2" r="1.55"/><circle cx="428" cy="834.6" r="1.55"/><circle cx="428.1" cy="831.8" r="1.55"/><circle cx="428.3" cy="838.4" r="1.55"/><circle cx="428.5" cy="830.9" r="1.55"/><circle cx="428.7" cy="833.3" r="1.55"/><circle cx="428.8" cy="834.8" r="1.55"/><circle cx="429" cy="863.3" r="1.55"/><circle cx="429.2" cy="889.5" r="1.55"/><circle cx="429.4" cy="831" r="1.55"/><circle cx="429.5" cy="831.4" r="1.55"/><circle cx="429.7" cy="832" r="1.55"/><circle cx="429.9" cy="831.9" r="1.55"/><circle cx="430.1" cy="832.2" r="1.55"/><circle cx="430.2" cy="833.2" r="1.55"/><circle cx="430.4" cy="831" r="1.55"/><circle cx="430.6" cy="832.3" r="1.55"/><circle cx="430.8" cy="831.3" r="1.55"/><circle cx="430.9" cy="831.2" r="1.55"/><circle cx="431.1" cy="832.5" r="1.55"/><circle cx="431.3" cy="830.8" r="1.55"/><circle cx="431.5" cy="835.6" r="1.55"/><circle cx="431.6" cy="847.1" r="1.55"/><circle cx="431.8" cy="834.5" r="1.55"/><circle cx="432" cy="830.7" r="1.55"/><circle cx="432.2" cy="830.7" r="1.55"/><circle cx="432.3" cy="834.2" r="1.55"/><circle cx="432.5" cy="831" r="1.55"/><circle cx="432.7" cy="831" r="1.55"/><circle cx="432.9" cy="830.8" r="1.55"/><circle cx="433" cy="831.3" r="1.55"/><circle cx="433.2" cy="834.5" r="1.55"/><circle cx="433.4" cy="830.7" r="1.55"/><circle cx="433.6" cy="851.1" r="1.55"/><circle cx="433.7" cy="832.6" r="1.55"/><circle cx="433.9" cy="831.2" r="1.55"/><circle cx="434.1" cy="831.9" r="1.55"/><circle cx="434.3" cy="830.9" r="1.55"/><circle cx="434.4" cy="840.5" r="1.55"/><circle cx="434.6" cy="832.6" r="1.55"/><circle cx="434.8" cy="830.8" r="1.55"/><circle cx="435" cy="836.2" r="1.55"/><circle cx="435.1" cy="831.6" r="1.55"/><circle cx="435.3" cy="832.2" r="1.55"/><circle cx="435.5" cy="830.7" r="1.55"/><circle cx="435.7" cy="838.5" r="1.55"/><circle cx="435.8" cy="832.5" r="1.55"/><circle cx="436" cy="841" r="1.55"/><circle cx="436.2" cy="831.2" r="1.55"/><circle cx="436.4" cy="831.3" r="1.55"/><circle cx="436.5" cy="831.9" r="1.55"/><circle cx="436.7" cy="830.6" r="1.55"/><circle cx="436.9" cy="835" r="1.55"/><circle cx="437.1" cy="830.2" r="1.55"/><circle cx="437.2" cy="832.1" r="1.55"/><circle cx="437.4" cy="830.3" r="1.55"/><circle cx="437.6" cy="830.9" r="1.55"/><circle cx="437.8" cy="833.1" r="1.55"/><circle cx="437.9" cy="831.4" r="1.55"/><circle cx="438.1" cy="830.7" r="1.55"/><circle cx="438.3" cy="831.2" r="1.55"/><circle cx="438.5" cy="831.7" r="1.55"/><circle cx="438.6" cy="833.7" r="1.55"/><circle cx="438.8" cy="831.2" r="1.55"/><circle cx="439" cy="831.2" r="1.55"/><circle cx="439.2" cy="833" r="1.55"/><circle cx="439.3" cy="830.8" r="1.55"/><circle cx="439.5" cy="833.1" r="1.55"/><circle cx="439.7" cy="831.1" r="1.55"/><circle cx="439.9" cy="830.7" r="1.55"/><circle cx="440" cy="832.3" r="1.55"/><circle cx="440.2" cy="832.1" r="1.55"/><circle cx="440.4" cy="831" r="1.55"/><circle cx="440.6" cy="830.1" r="1.55"/><circle cx="440.7" cy="832" r="1.55"/><circle cx="440.9" cy="830.3" r="1.55"/><circle cx="441.1" cy="830.8" r="1.55"/><circle cx="441.3" cy="831.3" r="1.55"/><circle cx="441.4" cy="844.3" r="1.55"/><circle cx="441.6" cy="831" r="1.55"/><circle cx="441.8" cy="830.9" r="1.55"/><circle cx="442" cy="834" r="1.55"/><circle cx="442.1" cy="849.3" r="1.55"/><circle cx="442.3" cy="830.5" r="1.55"/><circle cx="442.5" cy="831.9" r="1.55"/><circle cx="442.7" cy="830.1" r="1.55"/><circle cx="442.8" cy="830.3" r="1.55"/><circle cx="443" cy="830.5" r="1.55"/><circle cx="443.2" cy="830.5" r="1.55"/><circle cx="443.4" cy="830" r="1.55"/><circle cx="443.5" cy="831.5" r="1.55"/><circle cx="443.7" cy="830.4" r="1.55"/><circle cx="443.9" cy="830" r="1.55"/><circle cx="444.1" cy="834" r="1.55"/><circle cx="444.2" cy="830.6" r="1.55"/><circle cx="444.4" cy="829.9" r="1.55"/><circle cx="444.6" cy="835.5" r="1.55"/><circle cx="444.8" cy="831" r="1.55"/><circle cx="444.9" cy="829.9" r="1.55"/><circle cx="445.1" cy="829.8" r="1.55"/><circle cx="445.3" cy="831.3" r="1.55"/><circle cx="445.5" cy="830.5" r="1.55"/><circle cx="445.6" cy="830.5" r="1.55"/><circle cx="445.8" cy="830.3" r="1.55"/><circle cx="446" cy="829.8" r="1.55"/><circle cx="446.2" cy="830.1" r="1.55"/><circle cx="446.3" cy="845.6" r="1.55"/><circle cx="446.5" cy="831.3" r="1.55"/><circle cx="446.7" cy="831.3" r="1.55"/><circle cx="446.9" cy="839.1" r="1.55"/><circle cx="447" cy="831.1" r="1.55"/><circle cx="447.2" cy="830.8" r="1.55"/><circle cx="447.4" cy="830" r="1.55"/><circle cx="447.6" cy="829.7" r="1.55"/><circle cx="447.7" cy="831.1" r="1.55"/><circle cx="447.9" cy="831.1" r="1.55"/><circle cx="448.1" cy="830.4" r="1.55"/><circle cx="448.3" cy="829.9" r="1.55"/><circle cx="448.4" cy="829.9" r="1.55"/><circle cx="448.6" cy="831.6" r="1.55"/><circle cx="448.8" cy="835.7" r="1.55"/><circle cx="449" cy="830.3" r="1.55"/><circle cx="449.1" cy="831" r="1.55"/><circle cx="449.3" cy="829.8" r="1.55"/><circle cx="449.5" cy="831.7" r="1.55"/><circle cx="449.7" cy="830.3" r="1.55"/><circle cx="449.8" cy="832.2" r="1.55"/><circle cx="450" cy="829.5" r="1.55"/><circle cx="450.2" cy="829.5" r="1.55"/><circle cx="450.4" cy="832.4" r="1.55"/><circle cx="450.5" cy="829.5" r="1.55"/><circle cx="450.7" cy="832.8" r="1.55"/><circle cx="450.9" cy="829.8" r="1.55"/><circle cx="451.1" cy="830.6" r="1.55"/><circle cx="451.2" cy="831.2" r="1.55"/><circle cx="451.4" cy="830.9" r="1.55"/><circle cx="451.6" cy="829.7" r="1.55"/><circle cx="451.8" cy="829.7" r="1.55"/><circle cx="451.9" cy="829.5" r="1.55"/><circle cx="452.1" cy="829.9" r="1.55"/><circle cx="452.3" cy="833.2" r="1.55"/><circle cx="452.5" cy="830.1" r="1.55"/><circle cx="452.6" cy="829.5" r="1.55"/><circle cx="452.8" cy="831.6" r="1.55"/><circle cx="453" cy="833.5" r="1.55"/><circle cx="453.2" cy="830" r="1.55"/><circle cx="453.3" cy="830.7" r="1.55"/><circle cx="453.5" cy="830.5" r="1.55"/><circle cx="453.7" cy="829.9" r="1.55"/><circle cx="453.9" cy="844.6" r="1.55"/><circle cx="454" cy="830" r="1.55"/><circle cx="454.2" cy="829.8" r="1.55"/><circle cx="454.4" cy="830.8" r="1.55"/><circle cx="454.6" cy="829.7" r="1.55"/><circle cx="454.7" cy="832.8" r="1.55"/><circle cx="454.9" cy="831.1" r="1.55"/><circle cx="455.1" cy="831.2" r="1.55"/><circle cx="455.3" cy="839.4" r="1.55"/><circle cx="455.4" cy="830.4" r="1.55"/><circle cx="455.6" cy="836.1" r="1.55"/><circle cx="455.8" cy="830.9" r="1.55"/><circle cx="456" cy="829.7" r="1.55"/><circle cx="456.1" cy="829.3" r="1.55"/><circle cx="456.3" cy="831" r="1.55"/><circle cx="456.5" cy="830.6" r="1.55"/><circle cx="456.7" cy="835" r="1.55"/><circle cx="456.8" cy="829.6" r="1.55"/><circle cx="457" cy="830.5" r="1.55"/><circle cx="457.2" cy="830.7" r="1.55"/><circle cx="457.4" cy="829.4" r="1.55"/><circle cx="457.5" cy="829.3" r="1.55"/><circle cx="457.7" cy="829.2" r="1.55"/><circle cx="457.9" cy="829.1" r="1.55"/><circle cx="458.1" cy="830" r="1.55"/><circle cx="458.2" cy="831.2" r="1.55"/><circle cx="458.4" cy="829.1" r="1.55"/><circle cx="458.6" cy="831" r="1.55"/><circle cx="458.8" cy="829.6" r="1.55"/><circle cx="458.9" cy="841.6" r="1.55"/><circle cx="459.1" cy="830" r="1.55"/><circle cx="459.3" cy="831.8" r="1.55"/><circle cx="459.5" cy="830.1" r="1.55"/><circle cx="459.6" cy="830.5" r="1.55"/><circle cx="459.8" cy="829.4" r="1.55"/><circle cx="460" cy="833.9" r="1.55"/><circle cx="460.2" cy="829.1" r="1.55"/><circle cx="460.3" cy="829.2" r="1.55"/><circle cx="460.5" cy="829.7" r="1.55"/><circle cx="460.7" cy="831.3" r="1.55"/><circle cx="460.9" cy="829.6" r="1.55"/><circle cx="461.1" cy="829.6" r="1.55"/><circle cx="461.2" cy="830.1" r="1.55"/><circle cx="461.4" cy="831.3" r="1.55"/><circle cx="461.6" cy="830.6" r="1.55"/><circle cx="461.8" cy="831.5" r="1.55"/><circle cx="461.9" cy="831.6" r="1.55"/><circle cx="462.1" cy="829.2" r="1.55"/><circle cx="462.3" cy="905.2" r="1.55"/><circle cx="462.5" cy="830.2" r="1.55"/><circle cx="462.6" cy="831.8" r="1.55"/><circle cx="462.8" cy="829.3" r="1.55"/><circle cx="463" cy="830.4" r="1.55"/><circle cx="463.2" cy="830" r="1.55"/><circle cx="463.3" cy="831.3" r="1.55"/><circle cx="463.5" cy="832.1" r="1.55"/><circle cx="463.7" cy="842.5" r="1.55"/><circle cx="463.9" cy="829.7" r="1.55"/><circle cx="464" cy="829.5" r="1.55"/><circle cx="464.2" cy="830" r="1.55"/><circle cx="464.4" cy="829.3" r="1.55"/><circle cx="464.6" cy="838.2" r="1.55"/><circle cx="464.7" cy="829.1" r="1.55"/><circle cx="464.9" cy="828.7" r="1.55"/><circle cx="465.1" cy="829.6" r="1.55"/><circle cx="465.3" cy="829.7" r="1.55"/><circle cx="465.4" cy="829.2" r="1.55"/><circle cx="465.6" cy="828.7" r="1.55"/><circle cx="465.8" cy="830.1" r="1.55"/><circle cx="466" cy="834.1" r="1.55"/><circle cx="466.1" cy="830.9" r="1.55"/><circle cx="466.3" cy="829.6" r="1.55"/><circle cx="466.5" cy="829.7" r="1.55"/><circle cx="466.7" cy="833.7" r="1.55"/><circle cx="466.8" cy="829.6" r="1.55"/><circle cx="467" cy="829" r="1.55"/><circle cx="467.2" cy="828.6" r="1.55"/><circle cx="467.4" cy="830.4" r="1.55"/><circle cx="467.5" cy="830.4" r="1.55"/><circle cx="467.7" cy="829.7" r="1.55"/><circle cx="467.9" cy="828.7" r="1.55"/><circle cx="468.1" cy="829.8" r="1.55"/><circle cx="468.2" cy="832.5" r="1.55"/><circle cx="468.4" cy="830.3" r="1.55"/><circle cx="468.6" cy="829" r="1.55"/><circle cx="468.8" cy="828.6" r="1.55"/><circle cx="468.9" cy="829" r="1.55"/><circle cx="469.1" cy="828.7" r="1.55"/><circle cx="469.3" cy="828.9" r="1.55"/><circle cx="469.5" cy="828.9" r="1.55"/><circle cx="469.6" cy="828.8" r="1.55"/><circle cx="469.8" cy="830.1" r="1.55"/><circle cx="470" cy="829.6" r="1.55"/><circle cx="470.2" cy="828.6" r="1.55"/><circle cx="470.3" cy="828.9" r="1.55"/><circle cx="470.5" cy="830.8" r="1.55"/><circle cx="470.7" cy="829.2" r="1.55"/><circle cx="470.9" cy="828.9" r="1.55"/><circle cx="471" cy="831" r="1.55"/><circle cx="471.2" cy="828.5" r="1.55"/><circle cx="471.4" cy="830.3" r="1.55"/><circle cx="471.6" cy="828.7" r="1.55"/><circle cx="471.7" cy="830.7" r="1.55"/><circle cx="471.9" cy="828.9" r="1.55"/><circle cx="472.1" cy="829.3" r="1.55"/><circle cx="472.3" cy="828.9" r="1.55"/><circle cx="472.4" cy="828.5" r="1.55"/><circle cx="472.6" cy="828.4" r="1.55"/><circle cx="472.8" cy="828.8" r="1.55"/><circle cx="473" cy="829.1" r="1.55"/><circle cx="473.1" cy="829.2" r="1.55"/><circle cx="473.3" cy="828.6" r="1.55"/><circle cx="473.5" cy="829.4" r="1.55"/><circle cx="473.7" cy="839.7" r="1.55"/><circle cx="473.8" cy="829.5" r="1.55"/><circle cx="474" cy="828.9" r="1.55"/><circle cx="474.2" cy="830.7" r="1.55"/><circle cx="474.4" cy="831.2" r="1.55"/><circle cx="474.5" cy="828.3" r="1.55"/><circle cx="474.7" cy="838.7" r="1.55"/><circle cx="474.9" cy="830.7" r="1.55"/><circle cx="475.1" cy="829.5" r="1.55"/><circle cx="475.2" cy="828.4" r="1.55"/><circle cx="475.4" cy="828.5" r="1.55"/><circle cx="475.6" cy="829" r="1.55"/><circle cx="475.8" cy="829" r="1.55"/><circle cx="475.9" cy="828.7" r="1.55"/><circle cx="476.1" cy="829" r="1.55"/><circle cx="476.3" cy="829.1" r="1.55"/><circle cx="476.5" cy="828.7" r="1.55"/><circle cx="476.6" cy="828.5" r="1.55"/><circle cx="476.8" cy="830.1" r="1.55"/><circle cx="477" cy="828.8" r="1.55"/><circle cx="477.2" cy="828.9" r="1.55"/><circle cx="477.3" cy="829.2" r="1.55"/><circle cx="477.5" cy="829.4" r="1.55"/><circle cx="477.7" cy="831.9" r="1.55"/><circle cx="477.9" cy="832" r="1.55"/><circle cx="478" cy="829.6" r="1.55"/><circle cx="478.2" cy="829.2" r="1.55"/><circle cx="478.4" cy="846.7" r="1.55"/><circle cx="478.6" cy="828.4" r="1.55"/><circle cx="478.7" cy="830" r="1.55"/><circle cx="478.9" cy="828.2" r="1.55"/><circle cx="479.1" cy="833.6" r="1.55"/><circle cx="479.3" cy="831.3" r="1.55"/><circle cx="479.4" cy="829.9" r="1.55"/><circle cx="479.6" cy="828.4" r="1.55"/><circle cx="479.8" cy="828.6" r="1.55"/><circle cx="480" cy="829.1" r="1.55"/><circle cx="480.1" cy="840.3" r="1.55"/><circle cx="480.3" cy="830.5" r="1.55"/><circle cx="480.5" cy="828.2" r="1.55"/><circle cx="480.7" cy="828.9" r="1.55"/><circle cx="480.8" cy="828.4" r="1.55"/><circle cx="481" cy="829.5" r="1.55"/><circle cx="481.2" cy="830.1" r="1.55"/><circle cx="481.4" cy="830.4" r="1.55"/><circle cx="481.5" cy="829.3" r="1.55"/><circle cx="481.7" cy="829.2" r="1.55"/><circle cx="481.9" cy="828.3" r="1.55"/><circle cx="482.1" cy="831.5" r="1.55"/><circle cx="482.2" cy="833.2" r="1.55"/><circle cx="482.4" cy="830.5" r="1.55"/><circle cx="482.6" cy="830.7" r="1.55"/><circle cx="482.8" cy="828" r="1.55"/><circle cx="482.9" cy="830.3" r="1.55"/><circle cx="483.1" cy="828" r="1.55"/><circle cx="483.3" cy="828.8" r="1.55"/><circle cx="483.5" cy="829" r="1.55"/><circle cx="483.6" cy="829.7" r="1.55"/><circle cx="483.8" cy="829.4" r="1.55"/><circle cx="484" cy="828.2" r="1.55"/><circle cx="484.2" cy="828.3" r="1.55"/><circle cx="484.3" cy="828.8" r="1.55"/><circle cx="484.5" cy="828" r="1.55"/><circle cx="484.7" cy="828.3" r="1.55"/><circle cx="484.9" cy="827.9" r="1.55"/><circle cx="485" cy="830.2" r="1.55"/><circle cx="485.2" cy="831.4" r="1.55"/><circle cx="485.4" cy="830.6" r="1.55"/><circle cx="485.6" cy="828.2" r="1.55"/><circle cx="485.7" cy="828.6" r="1.55"/><circle cx="485.9" cy="830" r="1.55"/><circle cx="486.1" cy="830.6" r="1.55"/><circle cx="486.3" cy="829.4" r="1.55"/><circle cx="486.4" cy="828.3" r="1.55"/><circle cx="486.6" cy="839" r="1.55"/><circle cx="486.8" cy="828.6" r="1.55"/><circle cx="487" cy="829.3" r="1.55"/><circle cx="487.1" cy="829.3" r="1.55"/><circle cx="487.3" cy="828.3" r="1.55"/><circle cx="487.5" cy="828.8" r="1.55"/><circle cx="487.7" cy="828" r="1.55"/><circle cx="487.8" cy="828" r="1.55"/><circle cx="488" cy="829.3" r="1.55"/><circle cx="488.2" cy="827.9" r="1.55"/><circle cx="488.4" cy="828" r="1.55"/><circle cx="488.5" cy="828.5" r="1.55"/><circle cx="488.7" cy="828.2" r="1.55"/><circle cx="488.9" cy="828.4" r="1.55"/><circle cx="489.1" cy="828" r="1.55"/><circle cx="489.2" cy="830.5" r="1.55"/><circle cx="489.4" cy="828.2" r="1.55"/><circle cx="489.6" cy="828.2" r="1.55"/><circle cx="489.8" cy="834.4" r="1.55"/><circle cx="489.9" cy="828.3" r="1.55"/><circle cx="490.1" cy="829.5" r="1.55"/><circle cx="490.3" cy="828.2" r="1.55"/><circle cx="490.5" cy="829.5" r="1.55"/><circle cx="490.6" cy="827.9" r="1.55"/><circle cx="490.8" cy="828.1" r="1.55"/><circle cx="491" cy="828.8" r="1.55"/><circle cx="491.2" cy="828.2" r="1.55"/><circle cx="491.3" cy="829.5" r="1.55"/><circle cx="491.5" cy="828.4" r="1.55"/><circle cx="491.7" cy="828.5" r="1.55"/><circle cx="491.9" cy="827.8" r="1.55"/><circle cx="492" cy="829.4" r="1.55"/><circle cx="492.2" cy="827.8" r="1.55"/><circle cx="492.4" cy="828.2" r="1.55"/><circle cx="492.6" cy="828.3" r="1.55"/><circle cx="492.7" cy="827.9" r="1.55"/><circle cx="492.9" cy="828.3" r="1.55"/><circle cx="493.1" cy="827.9" r="1.55"/><circle cx="493.3" cy="828.1" r="1.55"/><circle cx="493.4" cy="827.9" r="1.55"/><circle cx="493.6" cy="829.6" r="1.55"/><circle cx="493.8" cy="828.2" r="1.55"/><circle cx="494" cy="831.2" r="1.55"/><circle cx="494.1" cy="828.3" r="1.55"/><circle cx="494.3" cy="828.8" r="1.55"/><circle cx="494.5" cy="829.6" r="1.55"/><circle cx="494.7" cy="828.6" r="1.55"/><circle cx="494.8" cy="828.1" r="1.55"/><circle cx="495" cy="828.6" r="1.55"/><circle cx="495.2" cy="828.2" r="1.55"/><circle cx="495.4" cy="830.7" r="1.55"/><circle cx="495.5" cy="838.2" r="1.55"/><circle cx="495.7" cy="829.9" r="1.55"/><circle cx="495.9" cy="827.9" r="1.55"/><circle cx="496.1" cy="828.6" r="1.55"/><circle cx="496.2" cy="830.5" r="1.55"/><circle cx="496.4" cy="828.8" r="1.55"/><circle cx="496.6" cy="829.5" r="1.55"/><circle cx="496.8" cy="853.5" r="1.55"/><circle cx="496.9" cy="829.9" r="1.55"/><circle cx="497.1" cy="828.2" r="1.55"/><circle cx="497.3" cy="829.6" r="1.55"/><circle cx="497.5" cy="827.9" r="1.55"/><circle cx="497.6" cy="832.1" r="1.55"/><circle cx="497.8" cy="828.9" r="1.55"/><circle cx="498" cy="827.9" r="1.55"/><circle cx="498.2" cy="828" r="1.55"/><circle cx="498.3" cy="829.6" r="1.55"/><circle cx="498.5" cy="828.5" r="1.55"/><circle cx="498.7" cy="828.3" r="1.55"/><circle cx="498.9" cy="829.3" r="1.55"/><circle cx="499" cy="829.3" r="1.55"/><circle cx="499.2" cy="829.3" r="1.55"/><circle cx="499.4" cy="829.8" r="1.55"/><circle cx="499.6" cy="834.7" r="1.55"/><circle cx="499.7" cy="828.3" r="1.55"/><circle cx="499.9" cy="830.1" r="1.55"/><circle cx="500.1" cy="828.6" r="1.55"/><circle cx="500.3" cy="828.3" r="1.55"/><circle cx="500.4" cy="833.4" r="1.55"/><circle cx="500.6" cy="828.6" r="1.55"/><circle cx="500.8" cy="828.4" r="1.55"/><circle cx="501" cy="829.6" r="1.55"/><circle cx="501.1" cy="828.2" r="1.55"/><circle cx="501.3" cy="828.6" r="1.55"/><circle cx="501.5" cy="830.8" r="1.55"/><circle cx="501.7" cy="835.4" r="1.55"/><circle cx="501.8" cy="837.7" r="1.55"/><circle cx="502" cy="828.4" r="1.55"/><circle cx="502.2" cy="830.2" r="1.55"/><circle cx="502.4" cy="830.6" r="1.55"/><circle cx="502.5" cy="828.4" r="1.55"/><circle cx="502.7" cy="828.3" r="1.55"/><circle cx="502.9" cy="829.3" r="1.55"/><circle cx="503.1" cy="828.4" r="1.55"/><circle cx="503.2" cy="828.2" r="1.55"/><circle cx="503.4" cy="828.2" r="1.55"/><circle cx="503.6" cy="829.3" r="1.55"/><circle cx="503.8" cy="829.8" r="1.55"/><circle cx="503.9" cy="828.4" r="1.55"/><circle cx="504.1" cy="829.3" r="1.55"/><circle cx="504.3" cy="828.4" r="1.55"/><circle cx="504.5" cy="842.6" r="1.55"/><circle cx="504.6" cy="829.6" r="1.55"/><circle cx="504.8" cy="830.4" r="1.55"/><circle cx="505" cy="829.5" r="1.55"/><circle cx="505.2" cy="829" r="1.55"/><circle cx="505.3" cy="833.7" r="1.55"/><circle cx="505.5" cy="828.5" r="1.55"/><circle cx="505.7" cy="984.5" r="1.55"/><circle cx="505.9" cy="829.7" r="1.55"/><circle cx="506" cy="836.9" r="1.55"/><circle cx="506.2" cy="828.1" r="1.55"/><circle cx="506.4" cy="830.5" r="1.55"/><circle cx="506.6" cy="828.3" r="1.55"/><circle cx="506.7" cy="828.2" r="1.55"/><circle cx="506.9" cy="830" r="1.55"/><circle cx="507.1" cy="828.7" r="1.55"/><circle cx="507.3" cy="840.6" r="1.55"/><circle cx="507.4" cy="843.8" r="1.55"/><circle cx="507.6" cy="828.9" r="1.55"/><circle cx="507.8" cy="828.6" r="1.55"/><circle cx="508" cy="831.9" r="1.55"/><circle cx="508.1" cy="828.7" r="1.55"/><circle cx="508.3" cy="831.3" r="1.55"/><circle cx="508.5" cy="828.3" r="1.55"/><circle cx="508.7" cy="829" r="1.55"/><circle cx="508.8" cy="828.4" r="1.55"/><circle cx="509" cy="831.1" r="1.55"/><circle cx="509.2" cy="829.2" r="1.55"/><circle cx="509.4" cy="830.5" r="1.55"/><circle cx="509.5" cy="828.5" r="1.55"/><circle cx="509.7" cy="828.6" r="1.55"/><circle cx="509.9" cy="828.6" r="1.55"/><circle cx="510.1" cy="828.6" r="1.55"/><circle cx="510.2" cy="829.8" r="1.55"/><circle cx="510.4" cy="833" r="1.55"/><circle cx="510.6" cy="829.4" r="1.55"/><circle cx="510.8" cy="831.6" r="1.55"/><circle cx="510.9" cy="831.6" r="1.55"/><circle cx="511.1" cy="829" r="1.55"/><circle cx="511.3" cy="829.6" r="1.55"/><circle cx="511.5" cy="828.4" r="1.55"/><circle cx="511.6" cy="829.2" r="1.55"/><circle cx="511.8" cy="828.6" r="1.55"/><circle cx="512" cy="830.5" r="1.55"/><circle cx="512.2" cy="829.2" r="1.55"/><circle cx="512.3" cy="830.6" r="1.55"/><circle cx="512.5" cy="830.8" r="1.55"/><circle cx="512.7" cy="829" r="1.55"/><circle cx="512.9" cy="831.4" r="1.55"/><circle cx="513" cy="828.6" r="1.55"/><circle cx="513.2" cy="828.5" r="1.55"/><circle cx="513.4" cy="829" r="1.55"/><circle cx="513.6" cy="831.2" r="1.55"/><circle cx="513.7" cy="829.6" r="1.55"/><circle cx="513.9" cy="828.9" r="1.55"/><circle cx="514.1" cy="829.8" r="1.55"/><circle cx="514.3" cy="830" r="1.55"/><circle cx="514.4" cy="828.8" r="1.55"/><circle cx="514.6" cy="831.6" r="1.55"/><circle cx="514.8" cy="830.4" r="1.55"/><circle cx="515" cy="829" r="1.55"/><circle cx="515.1" cy="828.5" r="1.55"/><circle cx="515.3" cy="830.8" r="1.55"/><circle cx="515.5" cy="829.1" r="1.55"/><circle cx="515.7" cy="828.9" r="1.55"/><circle cx="515.8" cy="829.8" r="1.55"/><circle cx="516" cy="828.6" r="1.55"/><circle cx="516.2" cy="829.3" r="1.55"/><circle cx="516.4" cy="830.9" r="1.55"/><circle cx="516.5" cy="829.3" r="1.55"/><circle cx="516.7" cy="828.5" r="1.55"/><circle cx="516.9" cy="828.9" r="1.55"/><circle cx="517.1" cy="828.6" r="1.55"/><circle cx="517.2" cy="831.6" r="1.55"/><circle cx="517.4" cy="831.2" r="1.55"/><circle cx="517.6" cy="830.9" r="1.55"/><circle cx="517.8" cy="828.6" r="1.55"/><circle cx="517.9" cy="829.9" r="1.55"/><circle cx="518.1" cy="830.1" r="1.55"/><circle cx="518.3" cy="830.4" r="1.55"/><circle cx="518.5" cy="836.6" r="1.55"/><circle cx="518.6" cy="829" r="1.55"/><circle cx="518.8" cy="830.1" r="1.55"/><circle cx="519" cy="829.3" r="1.55"/><circle cx="519.2" cy="830.2" r="1.55"/><circle cx="519.3" cy="834.8" r="1.55"/><circle cx="519.5" cy="829.1" r="1.55"/><circle cx="519.7" cy="829" r="1.55"/><circle cx="519.9" cy="830.5" r="1.55"/><circle cx="520" cy="832.2" r="1.55"/><circle cx="520.2" cy="828.8" r="1.55"/><circle cx="520.4" cy="830.4" r="1.55"/><circle cx="520.6" cy="828.7" r="1.55"/><circle cx="520.7" cy="830.2" r="1.55"/><circle cx="520.9" cy="828.7" r="1.55"/><circle cx="521.1" cy="829.3" r="1.55"/><circle cx="521.3" cy="829.1" r="1.55"/><circle cx="521.4" cy="832.7" r="1.55"/><circle cx="521.6" cy="828.8" r="1.55"/><circle cx="521.8" cy="829.1" r="1.55"/><circle cx="522" cy="829.3" r="1.55"/><circle cx="522.1" cy="829.2" r="1.55"/><circle cx="522.3" cy="835.5" r="1.55"/><circle cx="522.5" cy="829" r="1.55"/><circle cx="522.7" cy="829.8" r="1.55"/><circle cx="522.8" cy="829.1" r="1.55"/><circle cx="523" cy="829.5" r="1.55"/><circle cx="523.2" cy="830.1" r="1.55"/><circle cx="523.4" cy="830.6" r="1.55"/><circle cx="523.5" cy="829.3" r="1.55"/><circle cx="523.7" cy="830.1" r="1.55"/><circle cx="523.9" cy="829.3" r="1.55"/><circle cx="524.1" cy="840.4" r="1.55"/><circle cx="524.2" cy="858.3" r="1.55"/><circle cx="524.4" cy="833.9" r="1.55"/><circle cx="524.6" cy="831.3" r="1.55"/><circle cx="524.8" cy="829.2" r="1.55"/><circle cx="524.9" cy="831.4" r="1.55"/><circle cx="525.1" cy="829.4" r="1.55"/><circle cx="525.3" cy="829.5" r="1.55"/><circle cx="525.5" cy="829.7" r="1.55"/><circle cx="525.6" cy="830.2" r="1.55"/><circle cx="525.8" cy="830.1" r="1.55"/><circle cx="526" cy="829.7" r="1.55"/><circle cx="526.2" cy="832.1" r="1.55"/><circle cx="526.3" cy="830.3" r="1.55"/><circle cx="526.5" cy="830.4" r="1.55"/><circle cx="526.7" cy="829.7" r="1.55"/><circle cx="526.9" cy="830.8" r="1.55"/><circle cx="527" cy="830.1" r="1.55"/><circle cx="527.2" cy="829.5" r="1.55"/><circle cx="527.4" cy="829.7" r="1.55"/><circle cx="527.6" cy="829.7" r="1.55"/><circle cx="527.7" cy="830" r="1.55"/><circle cx="527.9" cy="830" r="1.55"/><circle cx="528.1" cy="832.6" r="1.55"/><circle cx="528.3" cy="829.8" r="1.55"/><circle cx="528.4" cy="830.1" r="1.55"/><circle cx="528.6" cy="832.8" r="1.55"/><circle cx="528.8" cy="831.9" r="1.55"/><circle cx="529" cy="830.6" r="1.55"/><circle cx="529.1" cy="834.9" r="1.55"/><circle cx="529.3" cy="832" r="1.55"/><circle cx="529.5" cy="830.2" r="1.55"/><circle cx="529.7" cy="860.6" r="1.55"/><circle cx="529.8" cy="831" r="1.55"/><circle cx="530" cy="832.9" r="1.55"/><circle cx="530.2" cy="831.6" r="1.55"/><circle cx="530.4" cy="830.4" r="1.55"/><circle cx="530.5" cy="831.6" r="1.55"/><circle cx="530.7" cy="830" r="1.55"/><circle cx="530.9" cy="830.2" r="1.55"/><circle cx="531.1" cy="832.7" r="1.55"/><circle cx="531.2" cy="831" r="1.55"/><circle cx="531.4" cy="831.4" r="1.55"/><circle cx="531.6" cy="830.8" r="1.55"/><circle cx="531.8" cy="831.9" r="1.55"/><circle cx="531.9" cy="831.2" r="1.55"/><circle cx="532.1" cy="830.2" r="1.55"/><circle cx="532.3" cy="833.8" r="1.55"/><circle cx="532.5" cy="830.9" r="1.55"/><circle cx="532.6" cy="831.9" r="1.55"/><circle cx="532.8" cy="831.1" r="1.55"/><circle cx="533" cy="831.7" r="1.55"/><circle cx="533.2" cy="831" r="1.55"/><circle cx="533.3" cy="850.8" r="1.55"/><circle cx="533.5" cy="833.1" r="1.55"/><circle cx="533.7" cy="831.5" r="1.55"/><circle cx="533.9" cy="831.3" r="1.55"/><circle cx="534" cy="831" r="1.55"/><circle cx="534.2" cy="831.8" r="1.55"/><circle cx="534.4" cy="831" r="1.55"/><circle cx="534.6" cy="830.9" r="1.55"/><circle cx="534.7" cy="831.1" r="1.55"/><circle cx="534.9" cy="831.8" r="1.55"/><circle cx="535.1" cy="835.9" r="1.55"/><circle cx="535.3" cy="832.4" r="1.55"/><circle cx="535.4" cy="838.2" r="1.55"/><circle cx="535.6" cy="832.4" r="1.55"/><circle cx="535.8" cy="832" r="1.55"/><circle cx="536" cy="834.7" r="1.55"/><circle cx="536.1" cy="831.8" r="1.55"/><circle cx="536.3" cy="832.4" r="1.55"/><circle cx="536.5" cy="832.4" r="1.55"/><circle cx="536.7" cy="832.7" r="1.55"/><circle cx="536.8" cy="832.2" r="1.55"/><circle cx="537" cy="834.3" r="1.55"/><circle cx="537.2" cy="834" r="1.55"/><circle cx="537.4" cy="831.8" r="1.55"/><circle cx="537.5" cy="831.9" r="1.55"/><circle cx="537.7" cy="832.5" r="1.55"/><circle cx="537.9" cy="833.1" r="1.55"/><circle cx="538.1" cy="833" r="1.55"/><circle cx="538.2" cy="833.6" r="1.55"/><circle cx="538.4" cy="832.3" r="1.55"/><circle cx="538.6" cy="833.2" r="1.55"/><circle cx="538.8" cy="835.7" r="1.55"/><circle cx="538.9" cy="833.2" r="1.55"/><circle cx="539.1" cy="832.9" r="1.55"/><circle cx="539.3" cy="833.8" r="1.55"/><circle cx="539.5" cy="840.6" r="1.55"/><circle cx="539.6" cy="832.9" r="1.55"/><circle cx="539.8" cy="832.7" r="1.55"/><circle cx="540" cy="833.3" r="1.55"/><circle cx="540.2" cy="834.5" r="1.55"/><circle cx="540.3" cy="833.8" r="1.55"/><circle cx="540.5" cy="833.5" r="1.55"/><circle cx="540.7" cy="834.2" r="1.55"/><circle cx="540.9" cy="834.4" r="1.55"/><circle cx="541" cy="836.1" r="1.55"/><circle cx="541.2" cy="834.1" r="1.55"/><circle cx="541.4" cy="835.7" r="1.55"/><circle cx="541.6" cy="835.3" r="1.55"/><circle cx="541.7" cy="835.3" r="1.55"/><circle cx="541.9" cy="853.2" r="1.55"/><circle cx="542.1" cy="834.5" r="1.55"/><circle cx="542.3" cy="834.6" r="1.55"/><circle cx="542.4" cy="837" r="1.55"/><circle cx="542.6" cy="835.6" r="1.55"/><circle cx="542.8" cy="836.4" r="1.55"/><circle cx="543" cy="835.2" r="1.55"/><circle cx="543.1" cy="837.7" r="1.55"/><circle cx="543.3" cy="836.4" r="1.55"/><circle cx="543.5" cy="835.8" r="1.55"/><circle cx="543.7" cy="837.1" r="1.55"/><circle cx="543.8" cy="836.3" r="1.55"/><circle cx="544" cy="840.2" r="1.55"/><circle cx="544.2" cy="837.4" r="1.55"/><circle cx="544.4" cy="836.3" r="1.55"/><circle cx="544.5" cy="837" r="1.55"/><circle cx="544.7" cy="837.1" r="1.55"/><circle cx="544.9" cy="836.7" r="1.55"/><circle cx="545.1" cy="847.8" r="1.55"/><circle cx="545.2" cy="841.7" r="1.55"/><circle cx="545.4" cy="840.8" r="1.55"/><circle cx="545.6" cy="839.7" r="1.55"/><circle cx="545.8" cy="849.9" r="1.55"/><circle cx="545.9" cy="838" r="1.55"/><circle cx="546.1" cy="839.5" r="1.55"/><circle cx="546.3" cy="838.3" r="1.55"/><circle cx="546.5" cy="839.4" r="1.55"/><circle cx="546.6" cy="842.6" r="1.55"/><circle cx="546.8" cy="840" r="1.55"/><circle cx="547" cy="840.7" r="1.55"/><circle cx="547.2" cy="839.6" r="1.55"/><circle cx="547.3" cy="840" r="1.55"/><circle cx="547.5" cy="841" r="1.55"/><circle cx="547.7" cy="840.9" r="1.55"/><circle cx="547.9" cy="840.6" r="1.55"/><circle cx="548" cy="850.4" r="1.55"/><circle cx="548.2" cy="841" r="1.55"/><circle cx="548.4" cy="841.9" r="1.55"/><circle cx="548.6" cy="850.9" r="1.55"/><circle cx="548.7" cy="843.3" r="1.55"/><circle cx="548.9" cy="842" r="1.55"/><circle cx="549.1" cy="842.4" r="1.55"/><circle cx="549.3" cy="844" r="1.55"/><circle cx="549.4" cy="845.3" r="1.55"/><circle cx="549.6" cy="843.5" r="1.55"/><circle cx="549.8" cy="843.6" r="1.55"/><circle cx="550" cy="846.5" r="1.55"/><circle cx="550.1" cy="845.3" r="1.55"/><circle cx="550.3" cy="887.9" r="1.55"/><circle cx="550.5" cy="848.2" r="1.55"/><circle cx="550.7" cy="847.6" r="1.55"/><circle cx="550.8" cy="846.5" r="1.55"/><circle cx="551" cy="845.3" r="1.55"/><circle cx="551.2" cy="845.8" r="1.55"/><circle cx="551.4" cy="846.2" r="1.55"/><circle cx="551.5" cy="855.1" r="1.55"/><circle cx="551.7" cy="847.2" r="1.55"/><circle cx="551.9" cy="847.2" r="1.55"/><circle cx="552.1" cy="848.6" r="1.55"/><circle cx="552.2" cy="849.4" r="1.55"/><circle cx="552.4" cy="852.2" r="1.55"/><circle cx="552.6" cy="849.2" r="1.55"/><circle cx="552.4" cy="854.8" r="1.55"/><circle cx="552.4" cy="861.2" r="1.55"/><circle cx="552.4" cy="867.7" r="1.55"/><circle cx="552.4" cy="885.8" r="1.55"/><circle cx="552.4" cy="915.5" r="1.55"/><circle cx="552.4" cy="917.4" r="1.55"/><circle cx="552.4" cy="920.7" r="1.55"/><circle cx="552.4" cy="945.2" r="1.55"/><circle cx="552.4" cy="965.3" r="1.55"/><circle cx="552.4" cy="981.4" r="1.55"/><circle cx="318.1" cy="1041.9" r="1.55"/><circle cx="320.1" cy="1041.9" r="1.55"/><circle cx="322.1" cy="1041.9" r="1.55"/><circle cx="324.1" cy="1041.9" r="1.55"/><circle cx="329.2" cy="1041.9" r="1.55"/><circle cx="330.8" cy="1041.9" r="1.55"/><circle cx="332.6" cy="1041.9" r="1.55"/><circle cx="344.1" cy="1041.9" r="1.55"/><circle cx="398.6" cy="1041.9" r="1.55"/><circle cx="428.8" cy="1041.9" r="1.55"/><circle cx="530.5" cy="1041.9" r="1.55"/></g>
<clipPath id="c4"><rect x="657.273" y="648.0" width="422.727" height="420.0"/></clipPath>
<g class="pb" clip-path="url(#c4)"><circle cx="657.4" cy="1041.9" r="1.55"/><circle cx="657.6" cy="1041.9" r="1.55"/><circle cx="657.8" cy="1041.9" r="1.55"/><circle cx="658" cy="1041.9" r="1.55"/><circle cx="658.1" cy="1041.9" r="1.55"/><circle cx="658.3" cy="1041.9" r="1.55"/><circle cx="658.5" cy="1041.9" r="1.55"/><circle cx="658.7" cy="1041.9" r="1.55"/><circle cx="658.8" cy="1041.9" r="1.55"/><circle cx="659" cy="1041.9" r="1.55"/><circle cx="659.2" cy="1041.9" r="1.55"/><circle cx="659.4" cy="1041.9" r="1.55"/><circle cx="659.5" cy="1041.9" r="1.55"/><circle cx="659.7" cy="1041.9" r="1.55"/><circle cx="659.9" cy="1041.9" r="1.55"/><circle cx="660.1" cy="1041.9" r="1.55"/><circle cx="660.2" cy="1041.9" r="1.55"/><circle cx="660.4" cy="1041.9" r="1.55"/><circle cx="660.6" cy="1041.9" r="1.55"/><circle cx="660.8" cy="1041.9" r="1.55"/><circle cx="660.9" cy="1041.9" r="1.55"/><circle cx="661.1" cy="1041.9" r="1.55"/><circle cx="661.3" cy="1041.9" r="1.55"/><circle cx="661.5" cy="1041.9" r="1.55"/><circle cx="661.6" cy="1041.9" r="1.55"/><circle cx="661.8" cy="1041.9" r="1.55"/><circle cx="662" cy="1041.9" r="1.55"/><circle cx="662.2" cy="1041.9" r="1.55"/><circle cx="662.3" cy="1041.9" r="1.55"/><circle cx="662.5" cy="1041.9" r="1.55"/><circle cx="662.7" cy="1041.9" r="1.55"/><circle cx="662.9" cy="1041.9" r="1.55"/><circle cx="663" cy="1041.9" r="1.55"/><circle cx="663.2" cy="1041.9" r="1.55"/><circle cx="663.4" cy="1041.9" r="1.55"/><circle cx="663.6" cy="1041.9" r="1.55"/><circle cx="663.7" cy="1041.9" r="1.55"/><circle cx="663.9" cy="1041.9" r="1.55"/><circle cx="664.1" cy="1041.9" r="1.55"/><circle cx="664.3" cy="1041.9" r="1.55"/><circle cx="664.4" cy="1041.9" r="1.55"/><circle cx="664.6" cy="1041.9" r="1.55"/><circle cx="664.8" cy="1041.9" r="1.55"/><circle cx="665" cy="1041.9" r="1.55"/><circle cx="665.1" cy="1041.9" r="1.55"/><circle cx="665.3" cy="1041.9" r="1.55"/><circle cx="665.5" cy="1041.9" r="1.55"/><circle cx="665.7" cy="1041.9" r="1.55"/><circle cx="665.9" cy="1041.9" r="1.55"/><circle cx="666" cy="1041.9" r="1.55"/><circle cx="666.2" cy="1041.9" r="1.55"/><circle cx="666.4" cy="1041.9" r="1.55"/><circle cx="666.6" cy="1041.9" r="1.55"/><circle cx="666.7" cy="1041.9" r="1.55"/><circle cx="666.9" cy="1041.9" r="1.55"/><circle cx="667.1" cy="1041.9" r="1.55"/><circle cx="667.3" cy="1041.9" r="1.55"/><circle cx="667.4" cy="1041.9" r="1.55"/><circle cx="667.6" cy="1041.9" r="1.55"/><circle cx="667.8" cy="1041.9" r="1.55"/><circle cx="668" cy="1041.9" r="1.55"/><circle cx="668.1" cy="1041.9" r="1.55"/><circle cx="668.3" cy="1041.9" r="1.55"/><circle cx="668.5" cy="1041.9" r="1.55"/><circle cx="668.7" cy="1041.9" r="1.55"/><circle cx="668.8" cy="1041.9" r="1.55"/><circle cx="669" cy="1041.9" r="1.55"/><circle cx="669.2" cy="1041.9" r="1.55"/><circle cx="669.4" cy="1041.9" r="1.55"/><circle cx="669.5" cy="1041.9" r="1.55"/><circle cx="669.7" cy="1041.9" r="1.55"/><circle cx="669.9" cy="1041.9" r="1.55"/><circle cx="670.1" cy="1041.9" r="1.55"/><circle cx="670.2" cy="1041.9" r="1.55"/><circle cx="670.4" cy="1041.9" r="1.55"/><circle cx="670.6" cy="1041.9" r="1.55"/><circle cx="670.8" cy="1041.9" r="1.55"/><circle cx="670.9" cy="1041.9" r="1.55"/><circle cx="671.1" cy="1041.9" r="1.55"/><circle cx="671.3" cy="1041.9" r="1.55"/><circle cx="671.5" cy="1041.9" r="1.55"/><circle cx="671.6" cy="1041.9" r="1.55"/><circle cx="671.8" cy="1041.9" r="1.55"/><circle cx="672" cy="1041.9" r="1.55"/><circle cx="672.2" cy="1041.9" r="1.55"/><circle cx="672.3" cy="1041.9" r="1.55"/><circle cx="672.5" cy="1041.9" r="1.55"/><circle cx="672.7" cy="1041.9" r="1.55"/><circle cx="672.9" cy="1041.9" r="1.55"/><circle cx="673" cy="1041.9" r="1.55"/><circle cx="673.2" cy="1041.9" r="1.55"/><circle cx="673.4" cy="1041.9" r="1.55"/><circle cx="673.6" cy="1041.9" r="1.55"/><circle cx="673.7" cy="1041.9" r="1.55"/><circle cx="673.9" cy="1041.9" r="1.55"/><circle cx="674.1" cy="1041.9" r="1.55"/><circle cx="674.3" cy="1041.9" r="1.55"/><circle cx="674.4" cy="1041.9" r="1.55"/><circle cx="674.6" cy="1041.9" r="1.55"/><circle cx="674.8" cy="1041.9" r="1.55"/><circle cx="675" cy="1041.9" r="1.55"/><circle cx="675.1" cy="1041.9" r="1.55"/><circle cx="675.3" cy="1041.9" r="1.55"/><circle cx="675.5" cy="1041.9" r="1.55"/><circle cx="675.7" cy="1041.9" r="1.55"/><circle cx="675.8" cy="1041.9" r="1.55"/><circle cx="676" cy="1041.9" r="1.55"/><circle cx="676.2" cy="1041.9" r="1.55"/><circle cx="676.4" cy="1041.9" r="1.55"/><circle cx="676.5" cy="1041.9" r="1.55"/><circle cx="676.7" cy="1041.9" r="1.55"/><circle cx="676.9" cy="1041.9" r="1.55"/><circle cx="677.1" cy="1041.9" r="1.55"/><circle cx="677.2" cy="1041.9" r="1.55"/><circle cx="677.4" cy="1041.9" r="1.55"/><circle cx="677.6" cy="1041.9" r="1.55"/><circle cx="677.8" cy="1041.9" r="1.55"/><circle cx="677.9" cy="1041.9" r="1.55"/><circle cx="678.1" cy="1041.9" r="1.55"/><circle cx="678.3" cy="1041.9" r="1.55"/><circle cx="678.5" cy="1041.9" r="1.55"/><circle cx="678.6" cy="1041.9" r="1.55"/><circle cx="678.8" cy="1041.9" r="1.55"/><circle cx="679" cy="1041.9" r="1.55"/><circle cx="679.2" cy="1041.9" r="1.55"/><circle cx="679.3" cy="1041.9" r="1.55"/><circle cx="679.5" cy="1041.9" r="1.55"/><circle cx="679.7" cy="1041.9" r="1.55"/><circle cx="679.9" cy="1041.9" r="1.55"/><circle cx="680" cy="1041.9" r="1.55"/><circle cx="680.2" cy="1041.9" r="1.55"/><circle cx="680.4" cy="1041.9" r="1.55"/><circle cx="680.6" cy="1041.9" r="1.55"/><circle cx="680.7" cy="1041.9" r="1.55"/><circle cx="680.9" cy="1041.9" r="1.55"/><circle cx="681.1" cy="1041.9" r="1.55"/><circle cx="681.3" cy="1041.9" r="1.55"/><circle cx="681.4" cy="1041.9" r="1.55"/><circle cx="681.6" cy="1041.9" r="1.55"/><circle cx="681.8" cy="1041.9" r="1.55"/><circle cx="682" cy="1041.9" r="1.55"/><circle cx="682.1" cy="1041.9" r="1.55"/><circle cx="682.3" cy="1041.9" r="1.55"/><circle cx="682.5" cy="1041.9" r="1.55"/><circle cx="682.7" cy="1041.9" r="1.55"/><circle cx="682.8" cy="1041.9" r="1.55"/><circle cx="683" cy="1041.9" r="1.55"/><circle cx="683.2" cy="1041.9" r="1.55"/><circle cx="683.4" cy="1041.9" r="1.55"/><circle cx="683.5" cy="1041.9" r="1.55"/><circle cx="683.7" cy="1041.9" r="1.55"/><circle cx="683.9" cy="1041.9" r="1.55"/><circle cx="684.1" cy="1041.9" r="1.55"/><circle cx="684.2" cy="1041.9" r="1.55"/><circle cx="684.4" cy="1041.9" r="1.55"/><circle cx="684.6" cy="1041.9" r="1.55"/><circle cx="684.8" cy="1041.9" r="1.55"/><circle cx="684.9" cy="1041.9" r="1.55"/><circle cx="685.1" cy="1041.9" r="1.55"/><circle cx="685.3" cy="1041.9" r="1.55"/><circle cx="685.5" cy="1041.9" r="1.55"/><circle cx="685.6" cy="1041.9" r="1.55"/><circle cx="685.8" cy="1041.9" r="1.55"/><circle cx="686" cy="1041.9" r="1.55"/><circle cx="686.2" cy="1041.9" r="1.55"/><circle cx="686.3" cy="1041.9" r="1.55"/><circle cx="686.5" cy="1041.9" r="1.55"/><circle cx="686.7" cy="1041.9" r="1.55"/><circle cx="686.9" cy="1041.9" r="1.55"/><circle cx="687" cy="1041.9" r="1.55"/><circle cx="687.2" cy="1041.9" r="1.55"/><circle cx="687.4" cy="1041.9" r="1.55"/><circle cx="687.6" cy="1041.9" r="1.55"/><circle cx="687.7" cy="1041.9" r="1.55"/><circle cx="687.9" cy="1041.9" r="1.55"/><circle cx="688.1" cy="1041.9" r="1.55"/><circle cx="688.3" cy="1041.9" r="1.55"/><circle cx="688.4" cy="1041.9" r="1.55"/><circle cx="688.6" cy="1041.9" r="1.55"/><circle cx="688.8" cy="1041.9" r="1.55"/><circle cx="689" cy="1041.9" r="1.55"/><circle cx="689.1" cy="1041.9" r="1.55"/><circle cx="689.3" cy="1041.9" r="1.55"/><circle cx="689.5" cy="1041.9" r="1.55"/><circle cx="689.7" cy="1041.9" r="1.55"/><circle cx="689.8" cy="1041.9" r="1.55"/><circle cx="690" cy="1041.9" r="1.55"/><circle cx="690.2" cy="1041.9" r="1.55"/><circle cx="690.4" cy="1041.9" r="1.55"/><circle cx="690.5" cy="1041.9" r="1.55"/><circle cx="690.7" cy="1041.9" r="1.55"/><circle cx="690.9" cy="1041.9" r="1.55"/><circle cx="691.1" cy="1041.9" r="1.55"/><circle cx="691.2" cy="1041.9" r="1.55"/><circle cx="691.4" cy="1041.9" r="1.55"/><circle cx="691.6" cy="1041.9" r="1.55"/><circle cx="691.8" cy="1041.9" r="1.55"/><circle cx="691.9" cy="1041.9" r="1.55"/><circle cx="692.1" cy="1041.9" r="1.55"/><circle cx="692.3" cy="1041.9" r="1.55"/><circle cx="692.5" cy="1041.9" r="1.55"/><circle cx="692.6" cy="1041.9" r="1.55"/><circle cx="692.8" cy="1041.9" r="1.55"/><circle cx="693" cy="1041.9" r="1.55"/><circle cx="693.2" cy="1041.9" r="1.55"/><circle cx="693.3" cy="1041.9" r="1.55"/><circle cx="693.5" cy="1041.9" r="1.55"/><circle cx="693.7" cy="1041.9" r="1.55"/><circle cx="693.9" cy="1041.9" r="1.55"/><circle cx="694" cy="1041.9" r="1.55"/><circle cx="694.2" cy="1041.9" r="1.55"/><circle cx="694.4" cy="1041.9" r="1.55"/><circle cx="694.6" cy="1041.9" r="1.55"/><circle cx="694.7" cy="1041.9" r="1.55"/><circle cx="694.9" cy="1041.9" r="1.55"/><circle cx="695.1" cy="1041.9" r="1.55"/><circle cx="695.3" cy="1041.9" r="1.55"/><circle cx="695.4" cy="1041.9" r="1.55"/><circle cx="695.6" cy="1041.9" r="1.55"/><circle cx="695.8" cy="1041.9" r="1.55"/><circle cx="696" cy="1041.9" r="1.55"/><circle cx="696.1" cy="1041.9" r="1.55"/><circle cx="696.3" cy="1041.9" r="1.55"/><circle cx="696.5" cy="1041.9" r="1.55"/><circle cx="696.7" cy="1041.9" r="1.55"/><circle cx="696.8" cy="1041.9" r="1.55"/><circle cx="697" cy="1041.9" r="1.55"/><circle cx="697.2" cy="1041.9" r="1.55"/><circle cx="697.4" cy="1041.9" r="1.55"/><circle cx="697.5" cy="1041.9" r="1.55"/><circle cx="697.7" cy="1041.9" r="1.55"/><circle cx="697.9" cy="1041.9" r="1.55"/><circle cx="698.1" cy="1041.9" r="1.55"/><circle cx="698.2" cy="1041.9" r="1.55"/><circle cx="698.4" cy="1041.9" r="1.55"/><circle cx="698.6" cy="1041.9" r="1.55"/><circle cx="698.8" cy="1041.9" r="1.55"/><circle cx="698.9" cy="1041.9" r="1.55"/><circle cx="699.1" cy="1041.9" r="1.55"/><circle cx="699.3" cy="1041.9" r="1.55"/><circle cx="699.5" cy="1041.9" r="1.55"/><circle cx="699.6" cy="1041.9" r="1.55"/><circle cx="699.8" cy="1041.9" r="1.55"/><circle cx="700" cy="1041.9" r="1.55"/><circle cx="700.2" cy="1041.9" r="1.55"/><circle cx="700.3" cy="1041.9" r="1.55"/><circle cx="700.5" cy="1041.9" r="1.55"/><circle cx="700.7" cy="1041.9" r="1.55"/><circle cx="700.9" cy="1041.9" r="1.55"/><circle cx="701" cy="1041.9" r="1.55"/><circle cx="701.2" cy="1041.9" r="1.55"/><circle cx="701.4" cy="1041.9" r="1.55"/><circle cx="701.6" cy="1041.9" r="1.55"/><circle cx="701.7" cy="1041.9" r="1.55"/><circle cx="701.9" cy="1041.9" r="1.55"/><circle cx="702.1" cy="1041.9" r="1.55"/><circle cx="702.3" cy="1041.9" r="1.55"/><circle cx="702.4" cy="1041.9" r="1.55"/><circle cx="702.6" cy="1041.9" r="1.55"/><circle cx="702.8" cy="1041.9" r="1.55"/><circle cx="703" cy="1041.9" r="1.55"/><circle cx="703.1" cy="1041.9" r="1.55"/><circle cx="703.3" cy="1041.9" r="1.55"/><circle cx="703.5" cy="1041.9" r="1.55"/><circle cx="703.7" cy="1041.9" r="1.55"/><circle cx="703.8" cy="1041.9" r="1.55"/><circle cx="704" cy="1041.9" r="1.55"/><circle cx="704.2" cy="1041.9" r="1.55"/><circle cx="704.4" cy="1041.9" r="1.55"/><circle cx="704.5" cy="1041.9" r="1.55"/><circle cx="704.7" cy="1041.9" r="1.55"/><circle cx="704.9" cy="1041.9" r="1.55"/><circle cx="705.1" cy="1041.9" r="1.55"/><circle cx="705.2" cy="1041.9" r="1.55"/><circle cx="705.4" cy="1041.9" r="1.55"/><circle cx="705.6" cy="1041.9" r="1.55"/><circle cx="705.8" cy="1041.9" r="1.55"/><circle cx="705.9" cy="1041.9" r="1.55"/><circle cx="706.1" cy="1041.9" r="1.55"/><circle cx="706.3" cy="1041.9" r="1.55"/><circle cx="706.5" cy="1041.9" r="1.55"/><circle cx="706.6" cy="1041.9" r="1.55"/><circle cx="706.8" cy="1041.9" r="1.55"/><circle cx="707" cy="1041.9" r="1.55"/><circle cx="707.2" cy="1041.9" r="1.55"/><circle cx="707.3" cy="1041.9" r="1.55"/><circle cx="707.5" cy="1041.9" r="1.55"/><circle cx="707.7" cy="1041.9" r="1.55"/><circle cx="707.9" cy="1041.9" r="1.55"/><circle cx="708" cy="1041.9" r="1.55"/><circle cx="708.2" cy="1041.9" r="1.55"/><circle cx="708.4" cy="1041.9" r="1.55"/><circle cx="708.6" cy="1041.9" r="1.55"/><circle cx="708.7" cy="1041.9" r="1.55"/><circle cx="708.9" cy="1041.9" r="1.55"/><circle cx="709.1" cy="1041.9" r="1.55"/><circle cx="709.3" cy="1041.9" r="1.55"/><circle cx="709.4" cy="1041.9" r="1.55"/><circle cx="709.6" cy="1041.9" r="1.55"/><circle cx="709.8" cy="1041.9" r="1.55"/><circle cx="710" cy="1041.9" r="1.55"/><circle cx="710.1" cy="1041.9" r="1.55"/><circle cx="710.3" cy="1041.9" r="1.55"/><circle cx="710.5" cy="1041.9" r="1.55"/><circle cx="710.7" cy="1041.9" r="1.55"/><circle cx="710.8" cy="1041.9" r="1.55"/><circle cx="711" cy="1041.9" r="1.55"/><circle cx="711.2" cy="1041.9" r="1.55"/><circle cx="711.4" cy="1041.9" r="1.55"/><circle cx="711.5" cy="1041.9" r="1.55"/><circle cx="711.7" cy="1041.9" r="1.55"/><circle cx="711.9" cy="1041.9" r="1.55"/><circle cx="712.1" cy="1041.9" r="1.55"/><circle cx="712.2" cy="1041.9" r="1.55"/><circle cx="712.4" cy="1041.9" r="1.55"/><circle cx="712.6" cy="1041.9" r="1.55"/><circle cx="712.8" cy="1041.9" r="1.55"/><circle cx="712.9" cy="1041.9" r="1.55"/><circle cx="713.1" cy="1041.9" r="1.55"/><circle cx="713.3" cy="1041.9" r="1.55"/><circle cx="713.5" cy="1041.9" r="1.55"/><circle cx="713.6" cy="1041.9" r="1.55"/><circle cx="713.8" cy="1041.9" r="1.55"/><circle cx="714" cy="1041.9" r="1.55"/><circle cx="714.2" cy="1041.9" r="1.55"/><circle cx="714.3" cy="1041.9" r="1.55"/><circle cx="714.5" cy="1041.9" r="1.55"/><circle cx="714.7" cy="1041.9" r="1.55"/><circle cx="714.9" cy="1041.9" r="1.55"/><circle cx="715" cy="1041.9" r="1.55"/><circle cx="715.2" cy="1041.9" r="1.55"/><circle cx="715.4" cy="1041.9" r="1.55"/><circle cx="715.6" cy="1041.9" r="1.55"/><circle cx="715.7" cy="1041.9" r="1.55"/><circle cx="715.9" cy="1041.9" r="1.55"/><circle cx="716.1" cy="1041.9" r="1.55"/><circle cx="716.3" cy="1041.9" r="1.55"/><circle cx="716.4" cy="1041.9" r="1.55"/><circle cx="716.6" cy="1041.9" r="1.55"/><circle cx="716.8" cy="1041.9" r="1.55"/><circle cx="717" cy="1041.9" r="1.55"/><circle cx="717.1" cy="1041.9" r="1.55"/><circle cx="717.3" cy="1041.9" r="1.55"/><circle cx="717.5" cy="1041.9" r="1.55"/><circle cx="717.7" cy="1041.9" r="1.55"/><circle cx="717.8" cy="1041.9" r="1.55"/><circle cx="718" cy="1041.9" r="1.55"/><circle cx="718.2" cy="1041.9" r="1.55"/><circle cx="718.4" cy="1041.9" r="1.55"/><circle cx="718.5" cy="1041.9" r="1.55"/><circle cx="718.7" cy="1041.9" r="1.55"/><circle cx="718.9" cy="1041.9" r="1.55"/><circle cx="719.1" cy="1041.9" r="1.55"/><circle cx="719.2" cy="1041.9" r="1.55"/><circle cx="719.4" cy="1041.9" r="1.55"/><circle cx="719.6" cy="1041.9" r="1.55"/><circle cx="719.8" cy="1041.9" r="1.55"/><circle cx="719.9" cy="1041.9" r="1.55"/><circle cx="720.1" cy="1041.9" r="1.55"/><circle cx="720.3" cy="1041.9" r="1.55"/><circle cx="720.5" cy="1041.9" r="1.55"/><circle cx="720.6" cy="1041.9" r="1.55"/><circle cx="720.8" cy="1041.9" r="1.55"/><circle cx="721" cy="1041.9" r="1.55"/><circle cx="721.2" cy="1041.9" r="1.55"/><circle cx="721.3" cy="1041.9" r="1.55"/><circle cx="721.5" cy="1041.9" r="1.55"/><circle cx="721.7" cy="1041.9" r="1.55"/><circle cx="721.9" cy="1041.9" r="1.55"/><circle cx="722" cy="1041.9" r="1.55"/><circle cx="722.2" cy="1041.9" r="1.55"/><circle cx="722.4" cy="1041.9" r="1.55"/><circle cx="722.6" cy="1041.9" r="1.55"/><circle cx="722.7" cy="1041.9" r="1.55"/><circle cx="722.9" cy="1041.9" r="1.55"/><circle cx="723.1" cy="1041.9" r="1.55"/><circle cx="723.3" cy="1041.9" r="1.55"/><circle cx="723.4" cy="1041.9" r="1.55"/><circle cx="723.6" cy="1041.9" r="1.55"/><circle cx="723.8" cy="1041.9" r="1.55"/><circle cx="724" cy="1041.9" r="1.55"/><circle cx="724.1" cy="1041.9" r="1.55"/><circle cx="724.3" cy="1041.9" r="1.55"/><circle cx="724.5" cy="1041.9" r="1.55"/><circle cx="724.7" cy="1041.9" r="1.55"/><circle cx="724.8" cy="1041.9" r="1.55"/><circle cx="725" cy="1041.9" r="1.55"/><circle cx="725.2" cy="1041.9" r="1.55"/><circle cx="725.4" cy="1041.9" r="1.55"/><circle cx="725.5" cy="1041.9" r="1.55"/><circle cx="725.7" cy="1041.9" r="1.55"/><circle cx="725.9" cy="1041.9" r="1.55"/><circle cx="726.1" cy="1041.9" r="1.55"/><circle cx="726.2" cy="1041.9" r="1.55"/><circle cx="726.4" cy="1041.9" r="1.55"/><circle cx="726.6" cy="1041.9" r="1.55"/><circle cx="726.8" cy="1041.9" r="1.55"/><circle cx="726.9" cy="1041.9" r="1.55"/><circle cx="727.1" cy="1041.9" r="1.55"/><circle cx="727.3" cy="1041.9" r="1.55"/><circle cx="727.5" cy="1041.9" r="1.55"/><circle cx="727.6" cy="1041.9" r="1.55"/><circle cx="727.8" cy="1041.9" r="1.55"/><circle cx="728" cy="1041.9" r="1.55"/><circle cx="728.2" cy="1041.9" r="1.55"/><circle cx="728.3" cy="1041.9" r="1.55"/><circle cx="728.5" cy="1041.9" r="1.55"/><circle cx="728.7" cy="1041.9" r="1.55"/><circle cx="728.9" cy="1041.9" r="1.55"/><circle cx="729" cy="1041.9" r="1.55"/><circle cx="729.2" cy="1041.9" r="1.55"/><circle cx="729.4" cy="1041.9" r="1.55"/><circle cx="729.6" cy="1041.9" r="1.55"/><circle cx="729.7" cy="1041.9" r="1.55"/><circle cx="729.9" cy="1041.9" r="1.55"/><circle cx="730.1" cy="1041.9" r="1.55"/><circle cx="730.3" cy="1041.9" r="1.55"/><circle cx="730.4" cy="1041.9" r="1.55"/><circle cx="730.6" cy="1041.9" r="1.55"/><circle cx="730.8" cy="1041.9" r="1.55"/><circle cx="731" cy="1041.9" r="1.55"/><circle cx="731.1" cy="1041.9" r="1.55"/><circle cx="731.3" cy="1041.9" r="1.55"/><circle cx="731.5" cy="1041.9" r="1.55"/><circle cx="731.7" cy="1041.9" r="1.55"/><circle cx="731.8" cy="1041.9" r="1.55"/><circle cx="732" cy="1041.9" r="1.55"/><circle cx="732.2" cy="1041.9" r="1.55"/><circle cx="732.4" cy="1041.9" r="1.55"/><circle cx="732.5" cy="1041.9" r="1.55"/><circle cx="732.7" cy="1041.9" r="1.55"/><circle cx="732.9" cy="1041.9" r="1.55"/><circle cx="733.1" cy="1041.9" r="1.55"/><circle cx="733.2" cy="1041.9" r="1.55"/><circle cx="733.4" cy="1041.9" r="1.55"/><circle cx="733.6" cy="1041.9" r="1.55"/><circle cx="733.8" cy="1041.9" r="1.55"/><circle cx="733.9" cy="1041.9" r="1.55"/><circle cx="734.1" cy="1041.9" r="1.55"/><circle cx="734.3" cy="1041.9" r="1.55"/><circle cx="734.5" cy="1041.9" r="1.55"/><circle cx="734.6" cy="1041.9" r="1.55"/><circle cx="734.8" cy="1041.9" r="1.55"/><circle cx="735" cy="1041.9" r="1.55"/><circle cx="735.2" cy="1041.9" r="1.55"/><circle cx="735.3" cy="1041.9" r="1.55"/><circle cx="735.5" cy="1041.9" r="1.55"/><circle cx="735.7" cy="1041.9" r="1.55"/><circle cx="735.9" cy="1041.9" r="1.55"/><circle cx="736" cy="1041.9" r="1.55"/><circle cx="736.2" cy="1041.9" r="1.55"/><circle cx="736.4" cy="1041.9" r="1.55"/><circle cx="736.6" cy="1041.9" r="1.55"/><circle cx="736.7" cy="1041.9" r="1.55"/><circle cx="736.9" cy="1041.9" r="1.55"/><circle cx="737.1" cy="1004.1" r="1.55"/><circle cx="737.3" cy="1041.9" r="1.55"/><circle cx="737.4" cy="1006.1" r="1.55"/><circle cx="737.6" cy="1004.8" r="1.55"/><circle cx="737.8" cy="1041.9" r="1.55"/><circle cx="738" cy="1041.9" r="1.55"/><circle cx="738.1" cy="1041.9" r="1.55"/><circle cx="738.3" cy="1041.9" r="1.55"/><circle cx="738.5" cy="1041.9" r="1.55"/><circle cx="738.7" cy="1041.9" r="1.55"/><circle cx="738.8" cy="1041.9" r="1.55"/><circle cx="739" cy="1000.9" r="1.55"/><circle cx="739.2" cy="1041.9" r="1.55"/><circle cx="739.4" cy="1005.7" r="1.55"/><circle cx="739.5" cy="1041.9" r="1.55"/><circle cx="739.7" cy="1041.9" r="1.55"/><circle cx="739.9" cy="1041.9" r="1.55"/><circle cx="740.1" cy="1041.9" r="1.55"/><circle cx="740.2" cy="1041.9" r="1.55"/><circle cx="740.4" cy="1001.7" r="1.55"/><circle cx="740.6" cy="1041.9" r="1.55"/><circle cx="740.8" cy="1001.3" r="1.55"/><circle cx="740.9" cy="1041.9" r="1.55"/><circle cx="741.1" cy="999.6" r="1.55"/><circle cx="741.3" cy="1041.9" r="1.55"/><circle cx="741.5" cy="1041.9" r="1.55"/><circle cx="741.6" cy="1041.9" r="1.55"/><circle cx="741.8" cy="1041.9" r="1.55"/><circle cx="742" cy="1041.9" r="1.55"/><circle cx="742.2" cy="1041.9" r="1.55"/><circle cx="742.3" cy="1041.9" r="1.55"/><circle cx="742.5" cy="1003.1" r="1.55"/><circle cx="742.7" cy="1000" r="1.55"/><circle cx="742.9" cy="1041.9" r="1.55"/><circle cx="743" cy="1041.9" r="1.55"/><circle cx="743.2" cy="1041.9" r="1.55"/><circle cx="743.4" cy="1001.3" r="1.55"/><circle cx="743.6" cy="1041.9" r="1.55"/><circle cx="743.7" cy="1041.9" r="1.55"/><circle cx="743.9" cy="1001" r="1.55"/><circle cx="744.1" cy="1041.9" r="1.55"/><circle cx="744.3" cy="1000.2" r="1.55"/><circle cx="744.4" cy="1041.9" r="1.55"/><circle cx="744.6" cy="1041.9" r="1.55"/><circle cx="744.8" cy="1001" r="1.55"/><circle cx="745" cy="1041.9" r="1.55"/><circle cx="745.1" cy="1001.9" r="1.55"/><circle cx="745.3" cy="1041.9" r="1.55"/><circle cx="745.5" cy="1041.9" r="1.55"/><circle cx="745.7" cy="1041.9" r="1.55"/><circle cx="745.8" cy="1041.9" r="1.55"/><circle cx="746" cy="1041.9" r="1.55"/><circle cx="746.2" cy="1041.9" r="1.55"/><circle cx="746.4" cy="1041.9" r="1.55"/><circle cx="746.5" cy="1041.9" r="1.55"/><circle cx="746.7" cy="1041.9" r="1.55"/><circle cx="746.9" cy="1041.9" r="1.55"/><circle cx="747.1" cy="1041.9" r="1.55"/><circle cx="747.2" cy="1041.9" r="1.55"/><circle cx="747.4" cy="1041.9" r="1.55"/><circle cx="747.6" cy="1041.9" r="1.55"/><circle cx="747.8" cy="1001.1" r="1.55"/><circle cx="747.9" cy="1041.9" r="1.55"/><circle cx="748.1" cy="1041.9" r="1.55"/><circle cx="748.3" cy="1041.9" r="1.55"/><circle cx="748.5" cy="995.3" r="1.55"/><circle cx="748.6" cy="1041.9" r="1.55"/><circle cx="748.8" cy="1041.9" r="1.55"/><circle cx="749" cy="1001.8" r="1.55"/><circle cx="749.2" cy="997.6" r="1.55"/><circle cx="749.3" cy="996.2" r="1.55"/><circle cx="749.5" cy="1041.9" r="1.55"/><circle cx="749.7" cy="1002.2" r="1.55"/><circle cx="749.9" cy="1000.8" r="1.55"/><circle cx="750" cy="1041.9" r="1.55"/><circle cx="750.2" cy="1041.9" r="1.55"/><circle cx="750.4" cy="1041.9" r="1.55"/><circle cx="750.6" cy="1041.9" r="1.55"/><circle cx="750.7" cy="1041.9" r="1.55"/><circle cx="750.9" cy="1041.9" r="1.55"/><circle cx="751.1" cy="1002" r="1.55"/><circle cx="751.3" cy="1041.9" r="1.55"/><circle cx="751.4" cy="1041.9" r="1.55"/><circle cx="751.6" cy="1005.7" r="1.55"/><circle cx="751.8" cy="1005.4" r="1.55"/><circle cx="752" cy="1041.9" r="1.55"/><circle cx="752.1" cy="994.1" r="1.55"/><circle cx="752.3" cy="992.7" r="1.55"/><circle cx="752.5" cy="1041.9" r="1.55"/><circle cx="752.7" cy="1041.9" r="1.55"/><circle cx="752.8" cy="993.5" r="1.55"/><circle cx="753" cy="1041.9" r="1.55"/><circle cx="753.2" cy="997" r="1.55"/><circle cx="753.4" cy="1041.9" r="1.55"/><circle cx="753.5" cy="1041.9" r="1.55"/><circle cx="753.7" cy="1041.9" r="1.55"/><circle cx="753.9" cy="1041.9" r="1.55"/><circle cx="754.1" cy="1041.9" r="1.55"/><circle cx="754.2" cy="1041.9" r="1.55"/><circle cx="754.4" cy="1041.9" r="1.55"/><circle cx="754.6" cy="1041.9" r="1.55"/><circle cx="754.8" cy="991.9" r="1.55"/><circle cx="754.9" cy="1002.6" r="1.55"/><circle cx="755.1" cy="997.3" r="1.55"/><circle cx="755.3" cy="1041.9" r="1.55"/><circle cx="755.5" cy="1041.9" r="1.55"/><circle cx="755.6" cy="991.3" r="1.55"/><circle cx="755.8" cy="1041.9" r="1.55"/><circle cx="756" cy="1041.9" r="1.55"/><circle cx="756.2" cy="992.8" r="1.55"/><circle cx="756.3" cy="1041.9" r="1.55"/><circle cx="756.5" cy="1041.9" r="1.55"/><circle cx="756.7" cy="1041.9" r="1.55"/><circle cx="756.9" cy="990.1" r="1.55"/><circle cx="757" cy="993.2" r="1.55"/><circle cx="757.2" cy="1041.9" r="1.55"/><circle cx="757.4" cy="994" r="1.55"/><circle cx="757.6" cy="1041.9" r="1.55"/><circle cx="757.7" cy="1041.9" r="1.55"/><circle cx="757.9" cy="1041.9" r="1.55"/><circle cx="758.1" cy="1041.9" r="1.55"/><circle cx="758.3" cy="996.8" r="1.55"/><circle cx="758.4" cy="1041.9" r="1.55"/><circle cx="758.6" cy="1041.9" r="1.55"/><circle cx="758.8" cy="1041.9" r="1.55"/><circle cx="759" cy="1001.9" r="1.55"/><circle cx="759.1" cy="994.6" r="1.55"/><circle cx="759.3" cy="1041.9" r="1.55"/><circle cx="759.5" cy="988.2" r="1.55"/><circle cx="759.7" cy="1041.9" r="1.55"/><circle cx="759.8" cy="1041.9" r="1.55"/><circle cx="760" cy="1041.9" r="1.55"/><circle cx="760.2" cy="989.4" r="1.55"/><circle cx="760.4" cy="998.6" r="1.55"/><circle cx="760.5" cy="1041.9" r="1.55"/><circle cx="760.7" cy="1041.9" r="1.55"/><circle cx="760.9" cy="1041.9" r="1.55"/><circle cx="761.1" cy="996.4" r="1.55"/><circle cx="761.2" cy="1041.9" r="1.55"/><circle cx="761.4" cy="1005.1" r="1.55"/><circle cx="761.6" cy="1041.9" r="1.55"/><circle cx="761.8" cy="1041.9" r="1.55"/><circle cx="761.9" cy="1041.9" r="1.55"/><circle cx="762.1" cy="994.6" r="1.55"/><circle cx="762.3" cy="1007.8" r="1.55"/><circle cx="762.5" cy="1041.9" r="1.55"/><circle cx="762.6" cy="1041.9" r="1.55"/><circle cx="762.8" cy="1041.9" r="1.55"/><circle cx="763" cy="1041.9" r="1.55"/><circle cx="763.2" cy="1041.9" r="1.55"/><circle cx="763.3" cy="1041.9" r="1.55"/><circle cx="763.5" cy="994" r="1.55"/><circle cx="763.7" cy="1041.9" r="1.55"/><circle cx="763.9" cy="1041.9" r="1.55"/><circle cx="764" cy="1041.9" r="1.55"/><circle cx="764.2" cy="1041.9" r="1.55"/><circle cx="764.4" cy="1041.9" r="1.55"/><circle cx="764.6" cy="999" r="1.55"/><circle cx="764.7" cy="1041.9" r="1.55"/><circle cx="764.9" cy="987.1" r="1.55"/><circle cx="765.1" cy="1041.9" r="1.55"/><circle cx="765.3" cy="1041.9" r="1.55"/><circle cx="765.4" cy="1041.9" r="1.55"/><circle cx="765.6" cy="1041.9" r="1.55"/><circle cx="765.8" cy="1041.9" r="1.55"/><circle cx="766" cy="993.8" r="1.55"/><circle cx="766.1" cy="998.7" r="1.55"/><circle cx="766.3" cy="989.9" r="1.55"/><circle cx="766.5" cy="981.9" r="1.55"/><circle cx="766.7" cy="1041.9" r="1.55"/><circle cx="766.8" cy="1041.9" r="1.55"/><circle cx="767" cy="1041.9" r="1.55"/><circle cx="767.2" cy="988.4" r="1.55"/><circle cx="767.4" cy="1004.7" r="1.55"/><circle cx="767.5" cy="1005" r="1.55"/><circle cx="767.7" cy="1041.9" r="1.55"/><circle cx="767.9" cy="1041.9" r="1.55"/><circle cx="768.1" cy="1006.5" r="1.55"/><circle cx="768.2" cy="1041.9" r="1.55"/><circle cx="768.4" cy="1041.9" r="1.55"/><circle cx="768.6" cy="1041.9" r="1.55"/><circle cx="768.8" cy="1002.2" r="1.55"/><circle cx="768.9" cy="1041.9" r="1.55"/><circle cx="769.1" cy="1007.2" r="1.55"/><circle cx="769.3" cy="1041.9" r="1.55"/><circle cx="769.5" cy="989.2" r="1.55"/><circle cx="769.7" cy="1041.9" r="1.55"/><circle cx="769.8" cy="985.9" r="1.55"/><circle cx="770" cy="981.9" r="1.55"/><circle cx="770.2" cy="985.6" r="1.55"/><circle cx="770.4" cy="983.5" r="1.55"/><circle cx="770.5" cy="992.3" r="1.55"/><circle cx="770.7" cy="1041.9" r="1.55"/><circle cx="770.9" cy="980.2" r="1.55"/><circle cx="771.1" cy="1041.9" r="1.55"/><circle cx="771.2" cy="981.9" r="1.55"/><circle cx="771.4" cy="1041.9" r="1.55"/><circle cx="771.6" cy="1041.9" r="1.55"/><circle cx="771.8" cy="1041.9" r="1.55"/><circle cx="771.9" cy="1041.9" r="1.55"/><circle cx="772.1" cy="1041.9" r="1.55"/><circle cx="772.3" cy="994.6" r="1.55"/><circle cx="772.5" cy="988.8" r="1.55"/><circle cx="772.6" cy="1041.9" r="1.55"/><circle cx="772.8" cy="998.9" r="1.55"/><circle cx="773" cy="1041.9" r="1.55"/><circle cx="773.2" cy="1041.9" r="1.55"/><circle cx="773.3" cy="1041.9" r="1.55"/><circle cx="773.5" cy="980.4" r="1.55"/><circle cx="773.7" cy="1041.9" r="1.55"/><circle cx="773.9" cy="987.4" r="1.55"/><circle cx="774" cy="1041.9" r="1.55"/><circle cx="774.2" cy="1041.9" r="1.55"/><circle cx="774.4" cy="975" r="1.55"/><circle cx="774.6" cy="1041.9" r="1.55"/><circle cx="774.7" cy="1041.9" r="1.55"/><circle cx="774.9" cy="1041.9" r="1.55"/><circle cx="775.1" cy="984.9" r="1.55"/><circle cx="775.3" cy="1041.9" r="1.55"/><circle cx="775.4" cy="1041.9" r="1.55"/><circle cx="775.6" cy="1041.9" r="1.55"/><circle cx="775.8" cy="1041.9" r="1.55"/><circle cx="776" cy="1041.9" r="1.55"/><circle cx="776.1" cy="1041.9" r="1.55"/><circle cx="776.3" cy="981.4" r="1.55"/><circle cx="776.5" cy="1041.9" r="1.55"/><circle cx="776.7" cy="994.4" r="1.55"/><circle cx="776.8" cy="1041.9" r="1.55"/><circle cx="777" cy="973.5" r="1.55"/><circle cx="777.2" cy="976.7" r="1.55"/><circle cx="777.4" cy="1041.9" r="1.55"/><circle cx="777.5" cy="1041.9" r="1.55"/><circle cx="777.7" cy="1041.9" r="1.55"/><circle cx="777.9" cy="1041.9" r="1.55"/><circle cx="778.1" cy="999" r="1.55"/><circle cx="778.2" cy="1041.9" r="1.55"/><circle cx="778.4" cy="970.5" r="1.55"/><circle cx="778.6" cy="993.6" r="1.55"/><circle cx="778.8" cy="978.8" r="1.55"/><circle cx="778.9" cy="970.2" r="1.55"/><circle cx="779.1" cy="1041.9" r="1.55"/><circle cx="779.3" cy="972.2" r="1.55"/><circle cx="779.5" cy="976" r="1.55"/><circle cx="779.6" cy="1041.9" r="1.55"/><circle cx="779.8" cy="1041.9" r="1.55"/><circle cx="780" cy="1041.9" r="1.55"/><circle cx="780.2" cy="1005.7" r="1.55"/><circle cx="780.3" cy="1041.9" r="1.55"/><circle cx="780.5" cy="1041.9" r="1.55"/><circle cx="780.7" cy="1041.9" r="1.55"/><circle cx="780.9" cy="969.9" r="1.55"/><circle cx="781" cy="1041.9" r="1.55"/><circle cx="781.2" cy="1041.9" r="1.55"/><circle cx="781.4" cy="993.4" r="1.55"/><circle cx="781.6" cy="983.3" r="1.55"/><circle cx="781.7" cy="1041.9" r="1.55"/><circle cx="781.9" cy="1041.9" r="1.55"/><circle cx="782.1" cy="966.8" r="1.55"/><circle cx="782.3" cy="989.3" r="1.55"/><circle cx="782.4" cy="1041.9" r="1.55"/><circle cx="782.6" cy="1041.9" r="1.55"/><circle cx="782.8" cy="1041.9" r="1.55"/><circle cx="783" cy="1041.9" r="1.55"/><circle cx="783.1" cy="1041.9" r="1.55"/><circle cx="783.3" cy="982.7" r="1.55"/><circle cx="783.5" cy="1041.9" r="1.55"/><circle cx="783.7" cy="974.4" r="1.55"/><circle cx="783.8" cy="1041.9" r="1.55"/><circle cx="784" cy="1041.9" r="1.55"/><circle cx="784.2" cy="970.4" r="1.55"/><circle cx="784.4" cy="1041.9" r="1.55"/><circle cx="784.5" cy="1000.7" r="1.55"/><circle cx="784.7" cy="1041.9" r="1.55"/><circle cx="784.9" cy="1041.9" r="1.55"/><circle cx="785.1" cy="1041.9" r="1.55"/><circle cx="785.2" cy="995.6" r="1.55"/><circle cx="785.4" cy="1041.9" r="1.55"/><circle cx="785.6" cy="993.9" r="1.55"/><circle cx="785.8" cy="1041.9" r="1.55"/><circle cx="785.9" cy="983.1" r="1.55"/><circle cx="786.1" cy="1041.9" r="1.55"/><circle cx="786.3" cy="966.5" r="1.55"/><circle cx="786.5" cy="1041.9" r="1.55"/><circle cx="786.6" cy="992.8" r="1.55"/><circle cx="786.8" cy="961.9" r="1.55"/><circle cx="787" cy="1041.9" r="1.55"/><circle cx="787.2" cy="1041.9" r="1.55"/><circle cx="787.3" cy="959.4" r="1.55"/><circle cx="787.5" cy="1041.9" r="1.55"/><circle cx="787.7" cy="1041.9" r="1.55"/><circle cx="787.9" cy="973.1" r="1.55"/><circle cx="788" cy="995.7" r="1.55"/><circle cx="788.2" cy="985.2" r="1.55"/><circle cx="788.4" cy="1041.9" r="1.55"/><circle cx="788.6" cy="1041.9" r="1.55"/><circle cx="788.7" cy="1041.9" r="1.55"/><circle cx="788.9" cy="1041.9" r="1.55"/><circle cx="789.1" cy="1041.9" r="1.55"/><circle cx="789.3" cy="958.6" r="1.55"/><circle cx="789.4" cy="958" r="1.55"/><circle cx="789.6" cy="997" r="1.55"/><circle cx="789.8" cy="1041.9" r="1.55"/><circle cx="790" cy="953.5" r="1.55"/><circle cx="790.1" cy="974.5" r="1.55"/><circle cx="790.3" cy="972.2" r="1.55"/><circle cx="790.5" cy="951.2" r="1.55"/><circle cx="790.7" cy="973.1" r="1.55"/><circle cx="790.8" cy="1041.9" r="1.55"/><circle cx="791" cy="990.6" r="1.55"/><circle cx="791.2" cy="1041.9" r="1.55"/><circle cx="791.4" cy="1041.9" r="1.55"/><circle cx="791.5" cy="987.4" r="1.55"/><circle cx="791.7" cy="1041.9" r="1.55"/><circle cx="791.9" cy="1041.9" r="1.55"/><circle cx="792.1" cy="941.8" r="1.55"/><circle cx="792.2" cy="955" r="1.55"/><circle cx="792.4" cy="1041.9" r="1.55"/><circle cx="792.6" cy="941.8" r="1.55"/><circle cx="792.8" cy="1041.9" r="1.55"/><circle cx="792.9" cy="969.9" r="1.55"/><circle cx="793.1" cy="935.3" r="1.55"/><circle cx="793.3" cy="1041.9" r="1.55"/><circle cx="793.5" cy="1041.9" r="1.55"/><circle cx="793.6" cy="935.4" r="1.55"/><circle cx="793.8" cy="1041.9" r="1.55"/><circle cx="794" cy="997.1" r="1.55"/><circle cx="794.2" cy="1041.9" r="1.55"/><circle cx="794.3" cy="940.3" r="1.55"/><circle cx="794.5" cy="926.1" r="1.55"/><circle cx="794.7" cy="1041.9" r="1.55"/><circle cx="794.9" cy="926.9" r="1.55"/><circle cx="795" cy="1041.9" r="1.55"/><circle cx="795.2" cy="938.2" r="1.55"/><circle cx="795.4" cy="975.5" r="1.55"/><circle cx="795.6" cy="970.5" r="1.55"/><circle cx="795.7" cy="1041.9" r="1.55"/><circle cx="795.9" cy="1041.9" r="1.55"/><circle cx="796.1" cy="903.9" r="1.55"/><circle cx="796.3" cy="960.2" r="1.55"/><circle cx="796.4" cy="1041.9" r="1.55"/><circle cx="796.6" cy="907.5" r="1.55"/><circle cx="796.8" cy="1041.9" r="1.55"/><circle cx="797" cy="1041.9" r="1.55"/><circle cx="797.1" cy="905.7" r="1.55"/><circle cx="797.3" cy="1041.9" r="1.55"/><circle cx="797.5" cy="949.7" r="1.55"/><circle cx="797.7" cy="884.2" r="1.55"/><circle cx="797.8" cy="888" r="1.55"/><circle cx="798" cy="923.4" r="1.55"/><circle cx="798.2" cy="1041.9" r="1.55"/><circle cx="798.4" cy="970.8" r="1.55"/><circle cx="798.5" cy="995.3" r="1.55"/><circle cx="798.7" cy="932.1" r="1.55"/><circle cx="798.9" cy="1041.9" r="1.55"/><circle cx="799.1" cy="940.2" r="1.55"/><circle cx="799.2" cy="1041.9" r="1.55"/><circle cx="799.4" cy="867.8" r="1.55"/><circle cx="799.6" cy="1041.9" r="1.55"/><circle cx="799.8" cy="1041.9" r="1.55"/><circle cx="799.9" cy="872.5" r="1.55"/><circle cx="800.1" cy="1041.9" r="1.55"/><circle cx="800.3" cy="866" r="1.55"/><circle cx="800.5" cy="1041.9" r="1.55"/><circle cx="800.6" cy="876.4" r="1.55"/><circle cx="800.8" cy="948.6" r="1.55"/><circle cx="801" cy="1041.9" r="1.55"/><circle cx="801.2" cy="867.3" r="1.55"/><circle cx="801.3" cy="937.1" r="1.55"/><circle cx="801.5" cy="947.2" r="1.55"/><circle cx="801.7" cy="871.5" r="1.55"/><circle cx="801.9" cy="943.7" r="1.55"/><circle cx="802" cy="1041.9" r="1.55"/><circle cx="802.2" cy="865" r="1.55"/><circle cx="802.4" cy="862.6" r="1.55"/><circle cx="802.6" cy="956.2" r="1.55"/><circle cx="802.7" cy="1041.9" r="1.55"/><circle cx="802.9" cy="867.5" r="1.55"/><circle cx="803.1" cy="964.3" r="1.55"/><circle cx="803.3" cy="927.6" r="1.55"/><circle cx="803.4" cy="1041.9" r="1.55"/><circle cx="803.6" cy="1041.9" r="1.55"/><circle cx="803.8" cy="1041.9" r="1.55"/><circle cx="804" cy="872.4" r="1.55"/><circle cx="804.1" cy="862.4" r="1.55"/><circle cx="804.3" cy="995.7" r="1.55"/><circle cx="804.5" cy="967" r="1.55"/><circle cx="804.7" cy="1041.9" r="1.55"/><circle cx="804.8" cy="1041.9" r="1.55"/><circle cx="805" cy="1041.9" r="1.55"/><circle cx="805.2" cy="866.2" r="1.55"/><circle cx="805.4" cy="900.6" r="1.55"/><circle cx="805.5" cy="957.6" r="1.55"/><circle cx="805.7" cy="860.7" r="1.55"/><circle cx="805.9" cy="1041.9" r="1.55"/><circle cx="806.1" cy="972.7" r="1.55"/><circle cx="806.2" cy="924.9" r="1.55"/><circle cx="806.4" cy="1005.4" r="1.55"/><circle cx="806.6" cy="1041.9" r="1.55"/><circle cx="806.8" cy="913.9" r="1.55"/><circle cx="806.9" cy="1041.9" r="1.55"/><circle cx="807.1" cy="930.8" r="1.55"/><circle cx="807.3" cy="862.3" r="1.55"/><circle cx="807.5" cy="1041.9" r="1.55"/><circle cx="807.6" cy="864.1" r="1.55"/><circle cx="807.8" cy="877.8" r="1.55"/><circle cx="808" cy="1041.9" r="1.55"/><circle cx="808.2" cy="1041.9" r="1.55"/><circle cx="808.3" cy="857.3" r="1.55"/><circle cx="808.5" cy="888" r="1.55"/><circle cx="808.7" cy="864.9" r="1.55"/><circle cx="808.9" cy="860" r="1.55"/><circle cx="809" cy="1041.9" r="1.55"/><circle cx="809.2" cy="1041.9" r="1.55"/><circle cx="809.4" cy="1041.9" r="1.55"/><circle cx="809.6" cy="1041.9" r="1.55"/><circle cx="809.7" cy="875.7" r="1.55"/><circle cx="809.9" cy="1041.9" r="1.55"/><circle cx="810.1" cy="859.5" r="1.55"/><circle cx="810.3" cy="1041.9" r="1.55"/><circle cx="810.4" cy="934.5" r="1.55"/><circle cx="810.6" cy="990.8" r="1.55"/><circle cx="810.8" cy="868.9" r="1.55"/><circle cx="811" cy="1001.2" r="1.55"/><circle cx="811.1" cy="1041.9" r="1.55"/><circle cx="811.3" cy="1041.9" r="1.55"/><circle cx="811.5" cy="1041.9" r="1.55"/><circle cx="811.7" cy="870.8" r="1.55"/><circle cx="811.8" cy="1041.9" r="1.55"/><circle cx="812" cy="855.5" r="1.55"/><circle cx="812.2" cy="1000.3" r="1.55"/><circle cx="812.4" cy="855.7" r="1.55"/><circle cx="812.5" cy="934.1" r="1.55"/><circle cx="812.7" cy="869.2" r="1.55"/><circle cx="812.9" cy="948" r="1.55"/><circle cx="813.1" cy="1041.9" r="1.55"/><circle cx="813.2" cy="862.1" r="1.55"/><circle cx="813.4" cy="859.5" r="1.55"/><circle cx="813.6" cy="940.3" r="1.55"/><circle cx="813.8" cy="964.6" r="1.55"/><circle cx="813.9" cy="976.4" r="1.55"/><circle cx="814.1" cy="982.3" r="1.55"/><circle cx="814.3" cy="904.3" r="1.55"/><circle cx="814.5" cy="862.2" r="1.55"/><circle cx="814.6" cy="979.2" r="1.55"/><circle cx="814.8" cy="882.4" r="1.55"/><circle cx="815" cy="935.3" r="1.55"/><circle cx="815.2" cy="854.8" r="1.55"/><circle cx="815.3" cy="860.6" r="1.55"/><circle cx="815.5" cy="855.1" r="1.55"/><circle cx="815.7" cy="856.6" r="1.55"/><circle cx="815.9" cy="1041.9" r="1.55"/><circle cx="816" cy="855.1" r="1.55"/><circle cx="816.2" cy="860.3" r="1.55"/><circle cx="816.4" cy="1041.9" r="1.55"/><circle cx="816.6" cy="966.3" r="1.55"/><circle cx="816.7" cy="881.9" r="1.55"/><circle cx="816.9" cy="979.3" r="1.55"/><circle cx="817.1" cy="1041.9" r="1.55"/><circle cx="817.3" cy="915" r="1.55"/><circle cx="817.4" cy="997.4" r="1.55"/><circle cx="817.6" cy="916" r="1.55"/><circle cx="817.8" cy="1041.9" r="1.55"/><circle cx="818" cy="854.1" r="1.55"/><circle cx="818.1" cy="938.3" r="1.55"/><circle cx="818.3" cy="898.9" r="1.55"/><circle cx="818.5" cy="899" r="1.55"/><circle cx="818.7" cy="928.5" r="1.55"/><circle cx="818.8" cy="916.7" r="1.55"/><circle cx="819" cy="857.9" r="1.55"/><circle cx="819.2" cy="861.1" r="1.55"/><circle cx="819.4" cy="915.6" r="1.55"/><circle cx="819.5" cy="853.1" r="1.55"/><circle cx="819.7" cy="872.4" r="1.55"/><circle cx="819.9" cy="854.1" r="1.55"/><circle cx="820.1" cy="857.5" r="1.55"/><circle cx="820.2" cy="857.3" r="1.55"/><circle cx="820.4" cy="853.6" r="1.55"/><circle cx="820.6" cy="862" r="1.55"/><circle cx="820.8" cy="880.4" r="1.55"/><circle cx="820.9" cy="857.6" r="1.55"/><circle cx="821.1" cy="877.4" r="1.55"/><circle cx="821.3" cy="852.1" r="1.55"/><circle cx="821.5" cy="852.3" r="1.55"/><circle cx="821.6" cy="855.6" r="1.55"/><circle cx="821.8" cy="851.4" r="1.55"/><circle cx="822" cy="871.6" r="1.55"/><circle cx="822.2" cy="858.8" r="1.55"/><circle cx="822.3" cy="862.9" r="1.55"/><circle cx="822.5" cy="1041.9" r="1.55"/><circle cx="822.7" cy="853.3" r="1.55"/><circle cx="822.9" cy="851.8" r="1.55"/><circle cx="823" cy="868.2" r="1.55"/><circle cx="823.2" cy="852.2" r="1.55"/><circle cx="823.4" cy="877.8" r="1.55"/><circle cx="823.6" cy="937.9" r="1.55"/><circle cx="823.7" cy="867.9" r="1.55"/><circle cx="823.9" cy="853.9" r="1.55"/><circle cx="824.1" cy="852.4" r="1.55"/><circle cx="824.3" cy="850.1" r="1.55"/><circle cx="824.4" cy="872.2" r="1.55"/><circle cx="824.6" cy="853.4" r="1.55"/><circle cx="824.8" cy="855.7" r="1.55"/><circle cx="825" cy="854.2" r="1.55"/><circle cx="825.1" cy="888.1" r="1.55"/><circle cx="825.3" cy="853.3" r="1.55"/><circle cx="825.5" cy="860.5" r="1.55"/><circle cx="825.7" cy="863.9" r="1.55"/><circle cx="825.8" cy="849.7" r="1.55"/><circle cx="826" cy="856.9" r="1.55"/><circle cx="826.2" cy="941.2" r="1.55"/><circle cx="826.4" cy="855" r="1.55"/><circle cx="826.5" cy="850.1" r="1.55"/><circle cx="826.7" cy="873.8" r="1.55"/><circle cx="826.9" cy="857.9" r="1.55"/><circle cx="827.1" cy="852.6" r="1.55"/><circle cx="827.2" cy="1008.2" r="1.55"/><circle cx="827.4" cy="864.6" r="1.55"/><circle cx="827.6" cy="849" r="1.55"/><circle cx="827.8" cy="850.5" r="1.55"/><circle cx="827.9" cy="924.4" r="1.55"/><circle cx="828.1" cy="997.7" r="1.55"/><circle cx="828.3" cy="884.5" r="1.55"/><circle cx="828.5" cy="848.7" r="1.55"/><circle cx="828.6" cy="858.2" r="1.55"/><circle cx="828.8" cy="850.7" r="1.55"/><circle cx="829" cy="861.6" r="1.55"/><circle cx="829.2" cy="867.9" r="1.55"/><circle cx="829.3" cy="872.6" r="1.55"/><circle cx="829.5" cy="854.5" r="1.55"/><circle cx="829.7" cy="850.9" r="1.55"/><circle cx="829.9" cy="905.5" r="1.55"/><circle cx="830" cy="850.2" r="1.55"/><circle cx="830.2" cy="848.1" r="1.55"/><circle cx="830.4" cy="850.3" r="1.55"/><circle cx="830.6" cy="852.5" r="1.55"/><circle cx="830.7" cy="847.5" r="1.55"/><circle cx="830.9" cy="889.2" r="1.55"/><circle cx="831.1" cy="854.1" r="1.55"/><circle cx="831.3" cy="854.1" r="1.55"/><circle cx="831.4" cy="855" r="1.55"/><circle cx="831.6" cy="852.2" r="1.55"/><circle cx="831.8" cy="946.5" r="1.55"/><circle cx="832" cy="863.6" r="1.55"/><circle cx="832.1" cy="868.4" r="1.55"/><circle cx="832.3" cy="855.6" r="1.55"/><circle cx="832.5" cy="852.9" r="1.55"/><circle cx="832.7" cy="874.8" r="1.55"/><circle cx="832.8" cy="847.3" r="1.55"/><circle cx="833" cy="847.6" r="1.55"/><circle cx="833.2" cy="885.7" r="1.55"/><circle cx="833.4" cy="853" r="1.55"/><circle cx="833.5" cy="860" r="1.55"/><circle cx="833.7" cy="890.2" r="1.55"/><circle cx="833.9" cy="958.8" r="1.55"/><circle cx="834.1" cy="860.7" r="1.55"/><circle cx="834.2" cy="880.2" r="1.55"/><circle cx="834.4" cy="885.8" r="1.55"/><circle cx="834.6" cy="856.1" r="1.55"/><circle cx="834.8" cy="848.2" r="1.55"/><circle cx="834.9" cy="919.6" r="1.55"/><circle cx="835.1" cy="848.4" r="1.55"/><circle cx="835.3" cy="849.2" r="1.55"/><circle cx="835.5" cy="858" r="1.55"/><circle cx="835.6" cy="848.7" r="1.55"/><circle cx="835.8" cy="848.5" r="1.55"/><circle cx="836" cy="850.2" r="1.55"/><circle cx="836.2" cy="854.4" r="1.55"/><circle cx="836.3" cy="848.1" r="1.55"/><circle cx="836.5" cy="852.2" r="1.55"/><circle cx="836.7" cy="846.6" r="1.55"/><circle cx="836.9" cy="855.7" r="1.55"/><circle cx="837" cy="847.8" r="1.55"/><circle cx="837.2" cy="850.8" r="1.55"/><circle cx="837.4" cy="960" r="1.55"/><circle cx="837.6" cy="846.4" r="1.55"/><circle cx="837.7" cy="852.6" r="1.55"/><circle cx="837.9" cy="855" r="1.55"/><circle cx="838.1" cy="845.5" r="1.55"/><circle cx="838.3" cy="852.5" r="1.55"/><circle cx="838.4" cy="845.2" r="1.55"/><circle cx="838.6" cy="949.1" r="1.55"/><circle cx="838.8" cy="855.4" r="1.55"/><circle cx="839" cy="845.2" r="1.55"/><circle cx="839.1" cy="845.1" r="1.55"/><circle cx="839.3" cy="845.6" r="1.55"/><circle cx="839.5" cy="855.6" r="1.55"/><circle cx="839.7" cy="849.8" r="1.55"/><circle cx="839.8" cy="848" r="1.55"/><circle cx="840" cy="846.4" r="1.55"/><circle cx="840.2" cy="921.1" r="1.55"/><circle cx="840.4" cy="844.7" r="1.55"/><circle cx="840.5" cy="875.5" r="1.55"/><circle cx="840.7" cy="851" r="1.55"/><circle cx="840.9" cy="854.2" r="1.55"/><circle cx="841.1" cy="844.5" r="1.55"/><circle cx="841.2" cy="859.8" r="1.55"/><circle cx="841.4" cy="860.1" r="1.55"/><circle cx="841.6" cy="872.8" r="1.55"/><circle cx="841.8" cy="898.8" r="1.55"/><circle cx="841.9" cy="849.3" r="1.55"/><circle cx="842.1" cy="925.9" r="1.55"/><circle cx="842.3" cy="928.1" r="1.55"/><circle cx="842.5" cy="861" r="1.55"/><circle cx="842.6" cy="845.9" r="1.55"/><circle cx="842.8" cy="845.6" r="1.55"/><circle cx="843" cy="845.4" r="1.55"/><circle cx="843.2" cy="843.8" r="1.55"/><circle cx="843.3" cy="845.2" r="1.55"/><circle cx="843.5" cy="843.5" r="1.55"/><circle cx="843.7" cy="850.2" r="1.55"/><circle cx="843.9" cy="845.2" r="1.55"/><circle cx="844" cy="854.5" r="1.55"/><circle cx="844.2" cy="846.6" r="1.55"/><circle cx="844.4" cy="928.3" r="1.55"/><circle cx="844.6" cy="847.6" r="1.55"/><circle cx="844.7" cy="847.8" r="1.55"/><circle cx="844.9" cy="850.2" r="1.55"/><circle cx="845.1" cy="858.9" r="1.55"/><circle cx="845.3" cy="845.1" r="1.55"/><circle cx="845.4" cy="843" r="1.55"/><circle cx="845.6" cy="846.9" r="1.55"/><circle cx="845.8" cy="858.5" r="1.55"/><circle cx="846" cy="865.4" r="1.55"/><circle cx="846.1" cy="849.9" r="1.55"/><circle cx="846.3" cy="843.6" r="1.55"/><circle cx="846.5" cy="849.9" r="1.55"/><circle cx="846.7" cy="843.3" r="1.55"/><circle cx="846.8" cy="863.7" r="1.55"/><circle cx="847" cy="943.2" r="1.55"/><circle cx="847.2" cy="843.5" r="1.55"/><circle cx="847.4" cy="850.8" r="1.55"/><circle cx="847.5" cy="850.6" r="1.55"/><circle cx="847.7" cy="845.4" r="1.55"/><circle cx="847.9" cy="844" r="1.55"/><circle cx="848.1" cy="850.4" r="1.55"/><circle cx="848.2" cy="842.7" r="1.55"/><circle cx="848.4" cy="851.6" r="1.55"/><circle cx="848.6" cy="868.6" r="1.55"/><circle cx="848.8" cy="843.7" r="1.55"/><circle cx="848.9" cy="845.7" r="1.55"/><circle cx="849.1" cy="869.5" r="1.55"/><circle cx="849.3" cy="1029" r="1.55"/><circle cx="849.5" cy="857.2" r="1.55"/><circle cx="849.6" cy="940.5" r="1.55"/><circle cx="849.8" cy="845.7" r="1.55"/><circle cx="850" cy="844.8" r="1.55"/><circle cx="850.2" cy="847.9" r="1.55"/><circle cx="850.3" cy="846.7" r="1.55"/><circle cx="850.5" cy="843.3" r="1.55"/><circle cx="850.7" cy="846.9" r="1.55"/><circle cx="850.9" cy="842.8" r="1.55"/><circle cx="851" cy="854.4" r="1.55"/><circle cx="851.2" cy="842" r="1.55"/><circle cx="851.4" cy="845" r="1.55"/><circle cx="851.6" cy="854.7" r="1.55"/><circle cx="851.7" cy="854.6" r="1.55"/><circle cx="851.9" cy="843.4" r="1.55"/><circle cx="852.1" cy="842.4" r="1.55"/><circle cx="852.3" cy="851.3" r="1.55"/><circle cx="852.4" cy="860.7" r="1.55"/><circle cx="852.6" cy="852.9" r="1.55"/><circle cx="852.8" cy="851.6" r="1.55"/><circle cx="853" cy="842.6" r="1.55"/><circle cx="853.1" cy="844.7" r="1.55"/><circle cx="853.3" cy="852.6" r="1.55"/><circle cx="853.5" cy="843.3" r="1.55"/><circle cx="853.7" cy="841.6" r="1.55"/><circle cx="853.8" cy="841.9" r="1.55"/><circle cx="854" cy="849.6" r="1.55"/><circle cx="854.2" cy="845.3" r="1.55"/><circle cx="854.4" cy="841.2" r="1.55"/><circle cx="854.5" cy="853.1" r="1.55"/><circle cx="854.7" cy="845.6" r="1.55"/><circle cx="854.9" cy="845.3" r="1.55"/><circle cx="855.1" cy="842.9" r="1.55"/><circle cx="855.2" cy="843.4" r="1.55"/><circle cx="855.4" cy="843.3" r="1.55"/><circle cx="855.6" cy="842.8" r="1.55"/><circle cx="855.8" cy="842.3" r="1.55"/><circle cx="855.9" cy="844" r="1.55"/><circle cx="856.1" cy="845.4" r="1.55"/><circle cx="856.3" cy="846" r="1.55"/><circle cx="856.5" cy="844.5" r="1.55"/><circle cx="856.6" cy="845.9" r="1.55"/><circle cx="856.8" cy="842.8" r="1.55"/><circle cx="857" cy="913.2" r="1.55"/><circle cx="857.2" cy="849.6" r="1.55"/><circle cx="857.3" cy="847.6" r="1.55"/><circle cx="857.5" cy="849.6" r="1.55"/><circle cx="857.7" cy="844.2" r="1.55"/><circle cx="857.9" cy="843.8" r="1.55"/><circle cx="858" cy="856.9" r="1.55"/><circle cx="858.2" cy="840.5" r="1.55"/><circle cx="858.4" cy="854" r="1.55"/><circle cx="858.6" cy="841" r="1.55"/><circle cx="858.7" cy="844.8" r="1.55"/><circle cx="858.9" cy="846.5" r="1.55"/><circle cx="859.1" cy="864.6" r="1.55"/><circle cx="859.3" cy="841.3" r="1.55"/><circle cx="859.4" cy="850.2" r="1.55"/><circle cx="859.6" cy="840.4" r="1.55"/><circle cx="859.8" cy="840.6" r="1.55"/><circle cx="860" cy="861" r="1.55"/><circle cx="860.1" cy="848.8" r="1.55"/><circle cx="860.3" cy="840.3" r="1.55"/><circle cx="860.5" cy="840.1" r="1.55"/><circle cx="860.7" cy="842.2" r="1.55"/><circle cx="860.8" cy="851.4" r="1.55"/><circle cx="861" cy="851.2" r="1.55"/><circle cx="861.2" cy="847.4" r="1.55"/><circle cx="861.4" cy="841.3" r="1.55"/><circle cx="861.5" cy="852.2" r="1.55"/><circle cx="861.7" cy="841.9" r="1.55"/><circle cx="861.9" cy="870.4" r="1.55"/><circle cx="862.1" cy="864.1" r="1.55"/><circle cx="862.2" cy="847.3" r="1.55"/><circle cx="862.4" cy="846.9" r="1.55"/><circle cx="862.6" cy="856" r="1.55"/><circle cx="862.8" cy="842.8" r="1.55"/><circle cx="862.9" cy="843.5" r="1.55"/><circle cx="863.1" cy="840.5" r="1.55"/><circle cx="863.3" cy="843" r="1.55"/><circle cx="863.5" cy="839.6" r="1.55"/><circle cx="863.6" cy="846.3" r="1.55"/><circle cx="863.8" cy="843.5" r="1.55"/><circle cx="864" cy="842.8" r="1.55"/><circle cx="864.2" cy="845.1" r="1.55"/><circle cx="864.3" cy="849.2" r="1.55"/><circle cx="864.5" cy="843" r="1.55"/><circle cx="864.7" cy="840" r="1.55"/><circle cx="864.9" cy="857.7" r="1.55"/><circle cx="865" cy="931.5" r="1.55"/><circle cx="865.2" cy="864.5" r="1.55"/><circle cx="865.4" cy="841.1" r="1.55"/><circle cx="865.6" cy="845.8" r="1.55"/><circle cx="865.7" cy="855" r="1.55"/><circle cx="865.9" cy="848.9" r="1.55"/><circle cx="866.1" cy="839.9" r="1.55"/><circle cx="866.3" cy="838.9" r="1.55"/><circle cx="866.4" cy="844" r="1.55"/><circle cx="866.6" cy="849.6" r="1.55"/><circle cx="866.8" cy="848.5" r="1.55"/><circle cx="867" cy="845.3" r="1.55"/><circle cx="867.1" cy="859.3" r="1.55"/><circle cx="867.3" cy="841.2" r="1.55"/><circle cx="867.5" cy="839.8" r="1.55"/><circle cx="867.7" cy="845.7" r="1.55"/><circle cx="867.8" cy="838.8" r="1.55"/><circle cx="868" cy="848.8" r="1.55"/><circle cx="868.2" cy="839.9" r="1.55"/><circle cx="868.4" cy="841.8" r="1.55"/><circle cx="868.5" cy="845.9" r="1.55"/><circle cx="868.7" cy="841.7" r="1.55"/><circle cx="868.9" cy="846.7" r="1.55"/><circle cx="869.1" cy="838.5" r="1.55"/><circle cx="869.2" cy="838.3" r="1.55"/><circle cx="869.4" cy="847" r="1.55"/><circle cx="869.6" cy="841.7" r="1.55"/><circle cx="869.8" cy="840.8" r="1.55"/><circle cx="869.9" cy="846.2" r="1.55"/><circle cx="870.1" cy="847" r="1.55"/><circle cx="870.3" cy="842" r="1.55"/><circle cx="870.5" cy="839.6" r="1.55"/><circle cx="870.6" cy="838.7" r="1.55"/><circle cx="870.8" cy="840" r="1.55"/><circle cx="871" cy="843" r="1.55"/><circle cx="871.2" cy="927.2" r="1.55"/><circle cx="871.3" cy="893.4" r="1.55"/><circle cx="871.5" cy="841.4" r="1.55"/><circle cx="871.7" cy="838.6" r="1.55"/><circle cx="871.9" cy="838.5" r="1.55"/><circle cx="872" cy="879.8" r="1.55"/><circle cx="872.2" cy="841.7" r="1.55"/><circle cx="872.4" cy="838" r="1.55"/><circle cx="872.6" cy="837.9" r="1.55"/><circle cx="872.7" cy="847.9" r="1.55"/><circle cx="872.9" cy="846.7" r="1.55"/><circle cx="873.1" cy="837.8" r="1.55"/><circle cx="873.3" cy="841.4" r="1.55"/><circle cx="873.5" cy="843.6" r="1.55"/><circle cx="873.6" cy="841.7" r="1.55"/><circle cx="873.8" cy="838.8" r="1.55"/><circle cx="874" cy="837.8" r="1.55"/><circle cx="874.2" cy="839.1" r="1.55"/><circle cx="874.3" cy="837.5" r="1.55"/><circle cx="874.5" cy="838.3" r="1.55"/><circle cx="874.7" cy="840.3" r="1.55"/><circle cx="874.9" cy="839.2" r="1.55"/><circle cx="875" cy="838.6" r="1.55"/><circle cx="875.2" cy="838.1" r="1.55"/><circle cx="875.4" cy="851.9" r="1.55"/><circle cx="875.6" cy="839.8" r="1.55"/><circle cx="875.7" cy="839.4" r="1.55"/><circle cx="875.9" cy="837.4" r="1.55"/><circle cx="876.1" cy="840.4" r="1.55"/><circle cx="876.3" cy="899.1" r="1.55"/><circle cx="876.4" cy="864" r="1.55"/><circle cx="876.6" cy="839.7" r="1.55"/><circle cx="876.8" cy="843.7" r="1.55"/><circle cx="877" cy="837" r="1.55"/><circle cx="877.1" cy="838.7" r="1.55"/><circle cx="877.3" cy="847.7" r="1.55"/><circle cx="877.5" cy="841.7" r="1.55"/><circle cx="877.7" cy="836.9" r="1.55"/><circle cx="877.8" cy="838" r="1.55"/><circle cx="878" cy="842.3" r="1.55"/><circle cx="878.2" cy="841.4" r="1.55"/><circle cx="878.4" cy="838.1" r="1.55"/><circle cx="878.5" cy="838.9" r="1.55"/><circle cx="878.7" cy="839.1" r="1.55"/><circle cx="878.9" cy="841" r="1.55"/><circle cx="879.1" cy="841.1" r="1.55"/><circle cx="879.2" cy="840.6" r="1.55"/><circle cx="879.4" cy="843" r="1.55"/><circle cx="879.6" cy="837.7" r="1.55"/><circle cx="879.8" cy="846.9" r="1.55"/><circle cx="879.9" cy="841" r="1.55"/><circle cx="880.1" cy="842.4" r="1.55"/><circle cx="880.3" cy="837.6" r="1.55"/><circle cx="880.5" cy="840.6" r="1.55"/><circle cx="880.6" cy="906.2" r="1.55"/><circle cx="880.8" cy="836.8" r="1.55"/><circle cx="881" cy="840.6" r="1.55"/><circle cx="881.2" cy="836.8" r="1.55"/><circle cx="881.3" cy="837.1" r="1.55"/><circle cx="881.5" cy="840.4" r="1.55"/><circle cx="881.7" cy="836.6" r="1.55"/><circle cx="881.9" cy="845" r="1.55"/><circle cx="882" cy="837" r="1.55"/><circle cx="882.2" cy="895.8" r="1.55"/><circle cx="882.4" cy="843.5" r="1.55"/><circle cx="882.6" cy="843.9" r="1.55"/><circle cx="882.7" cy="838.3" r="1.55"/><circle cx="882.9" cy="841.9" r="1.55"/><circle cx="883.1" cy="839.3" r="1.55"/><circle cx="883.3" cy="838.8" r="1.55"/><circle cx="883.4" cy="840.5" r="1.55"/><circle cx="883.6" cy="838.6" r="1.55"/><circle cx="883.8" cy="836.2" r="1.55"/><circle cx="884" cy="836.4" r="1.55"/><circle cx="884.1" cy="842" r="1.55"/><circle cx="884.3" cy="846.1" r="1.55"/><circle cx="884.5" cy="840.7" r="1.55"/><circle cx="884.7" cy="847.1" r="1.55"/><circle cx="884.8" cy="835.9" r="1.55"/><circle cx="885" cy="858" r="1.55"/><circle cx="885.2" cy="841.6" r="1.55"/><circle cx="885.4" cy="839.2" r="1.55"/><circle cx="885.5" cy="836.4" r="1.55"/><circle cx="885.7" cy="839.3" r="1.55"/><circle cx="885.9" cy="836.6" r="1.55"/><circle cx="886.1" cy="867.7" r="1.55"/><circle cx="886.2" cy="839.6" r="1.55"/><circle cx="886.4" cy="837" r="1.55"/><circle cx="886.6" cy="836.9" r="1.55"/><circle cx="886.8" cy="836.6" r="1.55"/><circle cx="886.9" cy="837.5" r="1.55"/><circle cx="887.1" cy="835.6" r="1.55"/><circle cx="887.3" cy="835.5" r="1.55"/><circle cx="887.5" cy="837.8" r="1.55"/><circle cx="887.6" cy="847.7" r="1.55"/><circle cx="887.8" cy="841" r="1.55"/><circle cx="888" cy="835.8" r="1.55"/><circle cx="888.2" cy="843.7" r="1.55"/><circle cx="888.3" cy="838.5" r="1.55"/><circle cx="888.5" cy="836.1" r="1.55"/><circle cx="888.7" cy="838" r="1.55"/><circle cx="888.9" cy="837.5" r="1.55"/><circle cx="889" cy="836.9" r="1.55"/><circle cx="889.2" cy="838.5" r="1.55"/><circle cx="889.4" cy="838.6" r="1.55"/><circle cx="889.6" cy="839.3" r="1.55"/><circle cx="889.7" cy="838" r="1.55"/><circle cx="889.9" cy="842.8" r="1.55"/><circle cx="890.1" cy="836.7" r="1.55"/><circle cx="890.3" cy="837.9" r="1.55"/><circle cx="890.4" cy="838.3" r="1.55"/><circle cx="890.6" cy="835.8" r="1.55"/><circle cx="890.8" cy="837.5" r="1.55"/><circle cx="891" cy="880.8" r="1.55"/><circle cx="891.1" cy="835" r="1.55"/><circle cx="891.3" cy="844.2" r="1.55"/><circle cx="891.5" cy="837" r="1.55"/><circle cx="891.7" cy="834.8" r="1.55"/><circle cx="891.8" cy="836.7" r="1.55"/><circle cx="892" cy="836.6" r="1.55"/><circle cx="892.2" cy="839" r="1.55"/><circle cx="892.4" cy="845.5" r="1.55"/><circle cx="892.5" cy="834.8" r="1.55"/><circle cx="892.7" cy="842.2" r="1.55"/><circle cx="892.9" cy="842.7" r="1.55"/><circle cx="893.1" cy="837.5" r="1.55"/><circle cx="893.2" cy="836.9" r="1.55"/><circle cx="893.4" cy="835.7" r="1.55"/><circle cx="893.6" cy="835.1" r="1.55"/><circle cx="893.8" cy="837.2" r="1.55"/><circle cx="893.9" cy="840.9" r="1.55"/><circle cx="894.1" cy="844.1" r="1.55"/><circle cx="894.3" cy="835.5" r="1.55"/><circle cx="894.5" cy="877.6" r="1.55"/><circle cx="894.6" cy="834.6" r="1.55"/><circle cx="894.8" cy="835.3" r="1.55"/><circle cx="895" cy="836.1" r="1.55"/><circle cx="895.2" cy="834.7" r="1.55"/><circle cx="895.3" cy="834.5" r="1.55"/><circle cx="895.5" cy="848.2" r="1.55"/><circle cx="895.7" cy="835.4" r="1.55"/><circle cx="895.9" cy="851" r="1.55"/><circle cx="896" cy="836.9" r="1.55"/><circle cx="896.2" cy="838.6" r="1.55"/><circle cx="896.4" cy="836.1" r="1.55"/><circle cx="896.6" cy="838.1" r="1.55"/><circle cx="896.7" cy="835.4" r="1.55"/><circle cx="896.9" cy="835.3" r="1.55"/><circle cx="897.1" cy="834.7" r="1.55"/><circle cx="897.3" cy="834.7" r="1.55"/><circle cx="897.4" cy="839.5" r="1.55"/><circle cx="897.6" cy="835.9" r="1.55"/><circle cx="897.8" cy="843.3" r="1.55"/><circle cx="898" cy="834.6" r="1.55"/><circle cx="898.1" cy="834.8" r="1.55"/><circle cx="898.3" cy="835.3" r="1.55"/><circle cx="898.5" cy="837.6" r="1.55"/><circle cx="898.7" cy="847.6" r="1.55"/><circle cx="898.8" cy="835.9" r="1.55"/><circle cx="899" cy="836.1" r="1.55"/><circle cx="899.2" cy="840.6" r="1.55"/><circle cx="899.4" cy="836.6" r="1.55"/><circle cx="899.5" cy="835.5" r="1.55"/><circle cx="899.7" cy="839.8" r="1.55"/><circle cx="899.9" cy="837.9" r="1.55"/><circle cx="900.1" cy="836.1" r="1.55"/><circle cx="900.2" cy="838.4" r="1.55"/><circle cx="900.4" cy="834" r="1.55"/><circle cx="900.6" cy="835.2" r="1.55"/><circle cx="900.8" cy="837.2" r="1.55"/><circle cx="900.9" cy="839.3" r="1.55"/><circle cx="901.1" cy="834.6" r="1.55"/><circle cx="901.3" cy="834.9" r="1.55"/><circle cx="901.5" cy="836" r="1.55"/><circle cx="901.6" cy="847.9" r="1.55"/><circle cx="901.8" cy="834" r="1.55"/><circle cx="902" cy="834.3" r="1.55"/><circle cx="902.2" cy="843.6" r="1.55"/><circle cx="902.3" cy="837.5" r="1.55"/><circle cx="902.5" cy="836.4" r="1.55"/><circle cx="902.7" cy="835" r="1.55"/><circle cx="902.9" cy="833.8" r="1.55"/><circle cx="903" cy="834.8" r="1.55"/><circle cx="903.2" cy="836.3" r="1.55"/><circle cx="903.4" cy="833.7" r="1.55"/><circle cx="903.6" cy="838.7" r="1.55"/><circle cx="903.7" cy="834.3" r="1.55"/><circle cx="903.9" cy="835.7" r="1.55"/><circle cx="904.1" cy="862.8" r="1.55"/><circle cx="904.3" cy="834.3" r="1.55"/><circle cx="904.4" cy="835.1" r="1.55"/><circle cx="904.6" cy="834.2" r="1.55"/><circle cx="904.8" cy="833.6" r="1.55"/><circle cx="905" cy="834.1" r="1.55"/><circle cx="905.1" cy="917.7" r="1.55"/><circle cx="905.3" cy="836" r="1.55"/><circle cx="905.5" cy="835.5" r="1.55"/><circle cx="905.7" cy="836.7" r="1.55"/><circle cx="905.8" cy="850.6" r="1.55"/><circle cx="906" cy="833.5" r="1.55"/><circle cx="906.2" cy="835.1" r="1.55"/><circle cx="906.4" cy="834.3" r="1.55"/><circle cx="906.5" cy="833.7" r="1.55"/><circle cx="906.7" cy="838.6" r="1.55"/><circle cx="906.9" cy="838.2" r="1.55"/><circle cx="907.1" cy="833.8" r="1.55"/><circle cx="907.2" cy="834" r="1.55"/><circle cx="907.4" cy="835.3" r="1.55"/><circle cx="907.6" cy="844.2" r="1.55"/><circle cx="907.8" cy="835.3" r="1.55"/><circle cx="907.9" cy="833.1" r="1.55"/><circle cx="908.1" cy="834.8" r="1.55"/><circle cx="908.3" cy="842.1" r="1.55"/><circle cx="908.5" cy="838.9" r="1.55"/><circle cx="908.6" cy="834.7" r="1.55"/><circle cx="908.8" cy="833.6" r="1.55"/><circle cx="909" cy="833.7" r="1.55"/><circle cx="909.2" cy="837.8" r="1.55"/><circle cx="909.3" cy="834.5" r="1.55"/><circle cx="909.5" cy="837.7" r="1.55"/><circle cx="909.7" cy="834.5" r="1.55"/><circle cx="909.9" cy="832.9" r="1.55"/><circle cx="910" cy="834.3" r="1.55"/><circle cx="910.2" cy="834.6" r="1.55"/><circle cx="910.4" cy="837" r="1.55"/><circle cx="910.6" cy="833.6" r="1.55"/><circle cx="910.7" cy="836.6" r="1.55"/><circle cx="910.9" cy="833.6" r="1.55"/><circle cx="911.1" cy="833.1" r="1.55"/><circle cx="911.3" cy="832.9" r="1.55"/><circle cx="911.4" cy="834.2" r="1.55"/><circle cx="911.6" cy="833.2" r="1.55"/><circle cx="911.8" cy="837" r="1.55"/><circle cx="912" cy="837" r="1.55"/><circle cx="912.1" cy="833.6" r="1.55"/><circle cx="912.3" cy="834.2" r="1.55"/><circle cx="912.5" cy="833.7" r="1.55"/><circle cx="912.7" cy="836.8" r="1.55"/><circle cx="912.8" cy="832.8" r="1.55"/><circle cx="913" cy="833" r="1.55"/><circle cx="913.2" cy="840.1" r="1.55"/><circle cx="913.4" cy="833.8" r="1.55"/><circle cx="913.5" cy="851.8" r="1.55"/><circle cx="913.7" cy="835.1" r="1.55"/><circle cx="913.9" cy="832.7" r="1.55"/><circle cx="914.1" cy="832.6" r="1.55"/><circle cx="914.2" cy="846.5" r="1.55"/><circle cx="914.4" cy="836.6" r="1.55"/><circle cx="914.6" cy="832.9" r="1.55"/><circle cx="914.8" cy="840" r="1.55"/><circle cx="914.9" cy="850.2" r="1.55"/><circle cx="915.1" cy="834" r="1.55"/><circle cx="915.3" cy="849.3" r="1.55"/><circle cx="915.5" cy="838.4" r="1.55"/><circle cx="915.6" cy="839.6" r="1.55"/><circle cx="915.8" cy="892.6" r="1.55"/><circle cx="916" cy="832.9" r="1.55"/><circle cx="916.2" cy="835.3" r="1.55"/><circle cx="916.3" cy="832.7" r="1.55"/><circle cx="916.5" cy="833.9" r="1.55"/><circle cx="916.7" cy="852.5" r="1.55"/><circle cx="916.9" cy="834.5" r="1.55"/><circle cx="917" cy="833.3" r="1.55"/><circle cx="917.2" cy="834.5" r="1.55"/><circle cx="917.4" cy="832.4" r="1.55"/><circle cx="917.6" cy="833.5" r="1.55"/><circle cx="917.7" cy="868.6" r="1.55"/><circle cx="917.9" cy="832.6" r="1.55"/><circle cx="918.1" cy="832.5" r="1.55"/><circle cx="918.3" cy="833.8" r="1.55"/><circle cx="918.4" cy="833.5" r="1.55"/><circle cx="918.6" cy="832.4" r="1.55"/><circle cx="918.8" cy="839.1" r="1.55"/><circle cx="919" cy="832.9" r="1.55"/><circle cx="919.1" cy="833.8" r="1.55"/><circle cx="919.3" cy="832.7" r="1.55"/><circle cx="919.5" cy="833.5" r="1.55"/><circle cx="919.7" cy="833" r="1.55"/><circle cx="919.8" cy="832.4" r="1.55"/><circle cx="920" cy="832.7" r="1.55"/><circle cx="920.2" cy="832.9" r="1.55"/><circle cx="920.4" cy="832.9" r="1.55"/><circle cx="920.5" cy="832.7" r="1.55"/><circle cx="920.7" cy="832.1" r="1.55"/><circle cx="920.9" cy="834.7" r="1.55"/><circle cx="921.1" cy="836" r="1.55"/><circle cx="921.2" cy="832.3" r="1.55"/><circle cx="921.4" cy="833" r="1.55"/><circle cx="921.6" cy="832.2" r="1.55"/><circle cx="921.8" cy="847.1" r="1.55"/><circle cx="921.9" cy="907.4" r="1.55"/><circle cx="922.1" cy="835" r="1.55"/><circle cx="922.3" cy="831.9" r="1.55"/><circle cx="922.5" cy="832.5" r="1.55"/><circle cx="922.6" cy="832" r="1.55"/><circle cx="922.8" cy="832.7" r="1.55"/><circle cx="923" cy="876.3" r="1.55"/><circle cx="923.2" cy="831.8" r="1.55"/><circle cx="923.3" cy="836.3" r="1.55"/><circle cx="923.5" cy="832.5" r="1.55"/><circle cx="923.7" cy="832.4" r="1.55"/><circle cx="923.9" cy="832.3" r="1.55"/><circle cx="924" cy="838" r="1.55"/><circle cx="924.2" cy="837.8" r="1.55"/><circle cx="924.4" cy="832" r="1.55"/><circle cx="924.6" cy="860.8" r="1.55"/><circle cx="924.7" cy="832.3" r="1.55"/><circle cx="924.9" cy="833.9" r="1.55"/><circle cx="925.1" cy="835.5" r="1.55"/><circle cx="925.3" cy="833" r="1.55"/><circle cx="925.4" cy="831.8" r="1.55"/><circle cx="925.6" cy="832.1" r="1.55"/><circle cx="925.8" cy="832.8" r="1.55"/><circle cx="926" cy="835.6" r="1.55"/><circle cx="926.1" cy="833.5" r="1.55"/><circle cx="926.3" cy="835.4" r="1.55"/><circle cx="926.5" cy="832.3" r="1.55"/><circle cx="926.7" cy="833.2" r="1.55"/><circle cx="926.8" cy="831.8" r="1.55"/><circle cx="927" cy="831.7" r="1.55"/><circle cx="927.2" cy="832" r="1.55"/><circle cx="927.4" cy="833" r="1.55"/><circle cx="927.5" cy="831.8" r="1.55"/><circle cx="927.7" cy="832.4" r="1.55"/><circle cx="927.9" cy="831.7" r="1.55"/><circle cx="928.1" cy="833.2" r="1.55"/><circle cx="928.2" cy="834.8" r="1.55"/><circle cx="928.4" cy="831.6" r="1.55"/><circle cx="928.6" cy="832" r="1.55"/><circle cx="928.8" cy="833.2" r="1.55"/><circle cx="928.9" cy="834.7" r="1.55"/><circle cx="929.1" cy="831.7" r="1.55"/><circle cx="929.3" cy="839.5" r="1.55"/><circle cx="929.5" cy="832.7" r="1.55"/><circle cx="929.6" cy="834.6" r="1.55"/><circle cx="929.8" cy="833.5" r="1.55"/><circle cx="930" cy="837.6" r="1.55"/><circle cx="930.2" cy="831.3" r="1.55"/><circle cx="930.3" cy="834.1" r="1.55"/><circle cx="930.5" cy="833.1" r="1.55"/><circle cx="930.7" cy="834.9" r="1.55"/><circle cx="930.9" cy="834.1" r="1.55"/><circle cx="931" cy="835.6" r="1.55"/><circle cx="931.2" cy="833.3" r="1.55"/><circle cx="931.4" cy="831.7" r="1.55"/><circle cx="931.6" cy="832.2" r="1.55"/><circle cx="931.7" cy="837.7" r="1.55"/><circle cx="931.9" cy="832" r="1.55"/><circle cx="932.1" cy="831.8" r="1.55"/><circle cx="932.3" cy="831.4" r="1.55"/><circle cx="932.4" cy="831.2" r="1.55"/><circle cx="932.6" cy="843.3" r="1.55"/><circle cx="932.8" cy="831.1" r="1.55"/><circle cx="933" cy="833.1" r="1.55"/><circle cx="933.1" cy="832.1" r="1.55"/><circle cx="933.3" cy="831.2" r="1.55"/><circle cx="933.5" cy="832.2" r="1.55"/><circle cx="933.7" cy="831.3" r="1.55"/><circle cx="933.8" cy="834.2" r="1.55"/><circle cx="934" cy="832.9" r="1.55"/><circle cx="934.2" cy="834" r="1.55"/><circle cx="934.4" cy="831.8" r="1.55"/><circle cx="934.5" cy="833.6" r="1.55"/><circle cx="934.7" cy="830.9" r="1.55"/><circle cx="934.9" cy="832.8" r="1.55"/><circle cx="935.1" cy="831.7" r="1.55"/><circle cx="935.2" cy="831.5" r="1.55"/><circle cx="935.4" cy="831.8" r="1.55"/><circle cx="935.6" cy="831.3" r="1.55"/><circle cx="935.8" cy="833.2" r="1.55"/><circle cx="935.9" cy="831.5" r="1.55"/><circle cx="936.1" cy="831.6" r="1.55"/><circle cx="936.3" cy="834.2" r="1.55"/><circle cx="936.5" cy="834.1" r="1.55"/><circle cx="936.6" cy="831.6" r="1.55"/><circle cx="936.8" cy="832.1" r="1.55"/><circle cx="937" cy="837.4" r="1.55"/><circle cx="937.2" cy="831.3" r="1.55"/><circle cx="937.3" cy="831.5" r="1.55"/><circle cx="937.5" cy="831.4" r="1.55"/><circle cx="937.7" cy="832.2" r="1.55"/><circle cx="937.9" cy="831.8" r="1.55"/><circle cx="938" cy="836.5" r="1.55"/><circle cx="938.2" cy="834.7" r="1.55"/><circle cx="938.4" cy="830.9" r="1.55"/><circle cx="938.6" cy="831.6" r="1.55"/><circle cx="938.7" cy="830.6" r="1.55"/><circle cx="938.9" cy="830.7" r="1.55"/><circle cx="939.1" cy="832.2" r="1.55"/><circle cx="939.3" cy="831.1" r="1.55"/><circle cx="939.4" cy="831.1" r="1.55"/><circle cx="939.6" cy="830.9" r="1.55"/><circle cx="939.8" cy="849.8" r="1.55"/><circle cx="940" cy="830.6" r="1.55"/><circle cx="940.1" cy="831" r="1.55"/><circle cx="940.3" cy="832.6" r="1.55"/><circle cx="940.5" cy="830.7" r="1.55"/><circle cx="940.7" cy="831.6" r="1.55"/><circle cx="940.8" cy="831.7" r="1.55"/><circle cx="941" cy="830.8" r="1.55"/><circle cx="941.2" cy="831.9" r="1.55"/><circle cx="941.4" cy="831.6" r="1.55"/><circle cx="941.5" cy="831.2" r="1.55"/><circle cx="941.7" cy="830.4" r="1.55"/><circle cx="941.9" cy="844.6" r="1.55"/><circle cx="942.1" cy="830.8" r="1.55"/><circle cx="942.2" cy="832.7" r="1.55"/><circle cx="942.4" cy="831.3" r="1.55"/><circle cx="942.6" cy="830.7" r="1.55"/><circle cx="942.8" cy="833.8" r="1.55"/><circle cx="942.9" cy="833.3" r="1.55"/><circle cx="943.1" cy="832.1" r="1.55"/><circle cx="943.3" cy="830.8" r="1.55"/><circle cx="943.5" cy="830.7" r="1.55"/><circle cx="943.6" cy="830.4" r="1.55"/><circle cx="943.8" cy="831.7" r="1.55"/><circle cx="944" cy="830.7" r="1.55"/><circle cx="944.2" cy="834.7" r="1.55"/><circle cx="944.3" cy="830.5" r="1.55"/><circle cx="944.5" cy="832" r="1.55"/><circle cx="944.7" cy="830.4" r="1.55"/><circle cx="944.9" cy="833.1" r="1.55"/><circle cx="945" cy="831.7" r="1.55"/><circle cx="945.2" cy="830.5" r="1.55"/><circle cx="945.4" cy="832" r="1.55"/><circle cx="945.6" cy="830.5" r="1.55"/><circle cx="945.7" cy="830.4" r="1.55"/><circle cx="945.9" cy="833.2" r="1.55"/><circle cx="946.1" cy="830.4" r="1.55"/><circle cx="946.3" cy="830.1" r="1.55"/><circle cx="946.4" cy="831.1" r="1.55"/><circle cx="946.6" cy="832" r="1.55"/><circle cx="946.8" cy="842.1" r="1.55"/><circle cx="947" cy="831.7" r="1.55"/><circle cx="947.1" cy="830.2" r="1.55"/><circle cx="947.3" cy="831.8" r="1.55"/><circle cx="947.5" cy="831.3" r="1.55"/><circle cx="947.7" cy="836.4" r="1.55"/><circle cx="947.8" cy="831.9" r="1.55"/><circle cx="948" cy="830.6" r="1.55"/><circle cx="948.2" cy="831.4" r="1.55"/><circle cx="948.4" cy="856.3" r="1.55"/><circle cx="948.5" cy="832.8" r="1.55"/><circle cx="948.7" cy="830.4" r="1.55"/><circle cx="948.9" cy="830.6" r="1.55"/><circle cx="949.1" cy="830.9" r="1.55"/><circle cx="949.2" cy="832.1" r="1.55"/><circle cx="949.4" cy="832" r="1.55"/><circle cx="949.6" cy="830.4" r="1.55"/><circle cx="949.8" cy="831" r="1.55"/><circle cx="949.9" cy="830.2" r="1.55"/><circle cx="950.1" cy="830.3" r="1.55"/><circle cx="950.3" cy="831.2" r="1.55"/><circle cx="950.5" cy="853.3" r="1.55"/><circle cx="950.6" cy="829.9" r="1.55"/><circle cx="950.8" cy="830.2" r="1.55"/><circle cx="951" cy="830.5" r="1.55"/><circle cx="951.2" cy="830.8" r="1.55"/><circle cx="951.3" cy="830.8" r="1.55"/><circle cx="951.5" cy="831.2" r="1.55"/><circle cx="951.7" cy="831.8" r="1.55"/><circle cx="951.9" cy="830.2" r="1.55"/><circle cx="952" cy="832.2" r="1.55"/><circle cx="952.2" cy="831.4" r="1.55"/><circle cx="952.4" cy="832.4" r="1.55"/><circle cx="952.6" cy="830.9" r="1.55"/><circle cx="952.7" cy="831.9" r="1.55"/><circle cx="952.9" cy="831.1" r="1.55"/><circle cx="953.1" cy="830.2" r="1.55"/><circle cx="953.3" cy="829.7" r="1.55"/><circle cx="953.4" cy="830" r="1.55"/><circle cx="953.6" cy="835.6" r="1.55"/><circle cx="953.8" cy="830" r="1.55"/><circle cx="954" cy="830.7" r="1.55"/><circle cx="954.1" cy="832.1" r="1.55"/><circle cx="954.3" cy="831.1" r="1.55"/><circle cx="954.5" cy="863" r="1.55"/><circle cx="954.7" cy="831.2" r="1.55"/><circle cx="954.8" cy="830" r="1.55"/><circle cx="955" cy="831.7" r="1.55"/><circle cx="955.2" cy="830.8" r="1.55"/><circle cx="955.4" cy="829.8" r="1.55"/><circle cx="955.5" cy="830.3" r="1.55"/><circle cx="955.7" cy="830.6" r="1.55"/><circle cx="955.9" cy="830.6" r="1.55"/><circle cx="956.1" cy="830.6" r="1.55"/><circle cx="956.2" cy="834" r="1.55"/><circle cx="956.4" cy="838.4" r="1.55"/><circle cx="956.6" cy="831.3" r="1.55"/><circle cx="956.8" cy="830.4" r="1.55"/><circle cx="956.9" cy="832.3" r="1.55"/><circle cx="957.1" cy="830.8" r="1.55"/><circle cx="957.3" cy="829.8" r="1.55"/><circle cx="957.5" cy="831" r="1.55"/><circle cx="957.6" cy="831.1" r="1.55"/><circle cx="957.8" cy="831.2" r="1.55"/><circle cx="958" cy="830" r="1.55"/><circle cx="958.2" cy="836.1" r="1.55"/><circle cx="958.3" cy="830.6" r="1.55"/><circle cx="958.5" cy="830.8" r="1.55"/><circle cx="958.7" cy="830.7" r="1.55"/><circle cx="958.9" cy="832.1" r="1.55"/><circle cx="959" cy="829.7" r="1.55"/><circle cx="959.2" cy="831" r="1.55"/><circle cx="959.4" cy="866.9" r="1.55"/><circle cx="959.6" cy="831.2" r="1.55"/><circle cx="959.7" cy="830.6" r="1.55"/><circle cx="959.9" cy="829.8" r="1.55"/><circle cx="960.1" cy="829.8" r="1.55"/><circle cx="960.3" cy="829.4" r="1.55"/><circle cx="960.4" cy="831" r="1.55"/><circle cx="960.6" cy="832" r="1.55"/><circle cx="960.8" cy="832.4" r="1.55"/><circle cx="961" cy="835.1" r="1.55"/><circle cx="961.1" cy="830.3" r="1.55"/><circle cx="961.3" cy="829.6" r="1.55"/><circle cx="961.5" cy="830.2" r="1.55"/><circle cx="961.7" cy="832" r="1.55"/><circle cx="961.8" cy="830.1" r="1.55"/><circle cx="962" cy="830.4" r="1.55"/><circle cx="962.2" cy="844.2" r="1.55"/><circle cx="962.4" cy="829.5" r="1.55"/><circle cx="962.5" cy="831.2" r="1.55"/><circle cx="962.7" cy="829.7" r="1.55"/><circle cx="962.9" cy="830.1" r="1.55"/><circle cx="963.1" cy="830.3" r="1.55"/><circle cx="963.2" cy="867.7" r="1.55"/><circle cx="963.4" cy="830.2" r="1.55"/><circle cx="963.6" cy="829.6" r="1.55"/><circle cx="963.8" cy="829.5" r="1.55"/><circle cx="963.9" cy="829.1" r="1.55"/><circle cx="964.1" cy="831.3" r="1.55"/><circle cx="964.3" cy="832.6" r="1.55"/><circle cx="964.5" cy="830.2" r="1.55"/><circle cx="964.6" cy="830.4" r="1.55"/><circle cx="964.8" cy="830.1" r="1.55"/><circle cx="965" cy="829.5" r="1.55"/><circle cx="965.2" cy="830.4" r="1.55"/><circle cx="965.3" cy="829.7" r="1.55"/><circle cx="965.5" cy="829.7" r="1.55"/><circle cx="965.7" cy="830.4" r="1.55"/><circle cx="965.9" cy="831.8" r="1.55"/><circle cx="966" cy="829.6" r="1.55"/><circle cx="966.2" cy="830.2" r="1.55"/><circle cx="966.4" cy="841.4" r="1.55"/><circle cx="966.6" cy="829.1" r="1.55"/><circle cx="966.7" cy="863.7" r="1.55"/><circle cx="966.9" cy="829.5" r="1.55"/><circle cx="967.1" cy="830" r="1.55"/><circle cx="967.3" cy="830.6" r="1.55"/><circle cx="967.4" cy="830.6" r="1.55"/><circle cx="967.6" cy="829.4" r="1.55"/><circle cx="967.8" cy="830.9" r="1.55"/><circle cx="968" cy="829.9" r="1.55"/><circle cx="968.1" cy="829.1" r="1.55"/><circle cx="968.3" cy="829" r="1.55"/><circle cx="968.5" cy="829.6" r="1.55"/><circle cx="968.7" cy="830" r="1.55"/><circle cx="968.8" cy="830.1" r="1.55"/><circle cx="969" cy="832.4" r="1.55"/><circle cx="969.2" cy="829.4" r="1.55"/><circle cx="969.4" cy="830" r="1.55"/><circle cx="969.5" cy="829" r="1.55"/><circle cx="969.7" cy="830" r="1.55"/><circle cx="969.9" cy="829.3" r="1.55"/><circle cx="970.1" cy="829.1" r="1.55"/><circle cx="970.2" cy="828.9" r="1.55"/><circle cx="970.4" cy="832.1" r="1.55"/><circle cx="970.6" cy="830.7" r="1.55"/><circle cx="970.8" cy="828.9" r="1.55"/><circle cx="970.9" cy="835" r="1.55"/><circle cx="971.1" cy="829.5" r="1.55"/><circle cx="971.3" cy="829.9" r="1.55"/><circle cx="971.5" cy="829.6" r="1.55"/><circle cx="971.6" cy="831.7" r="1.55"/><circle cx="971.8" cy="832" r="1.55"/><circle cx="972" cy="836.3" r="1.55"/><circle cx="972.2" cy="831.3" r="1.55"/><circle cx="972.3" cy="829.1" r="1.55"/><circle cx="972.5" cy="832.6" r="1.55"/><circle cx="972.7" cy="829.6" r="1.55"/><circle cx="972.9" cy="829.2" r="1.55"/><circle cx="973" cy="829.1" r="1.55"/><circle cx="973.2" cy="829" r="1.55"/><circle cx="973.4" cy="828.9" r="1.55"/><circle cx="973.6" cy="829.7" r="1.55"/><circle cx="973.7" cy="829.6" r="1.55"/><circle cx="973.9" cy="829.8" r="1.55"/><circle cx="974.1" cy="830.2" r="1.55"/><circle cx="974.3" cy="829.1" r="1.55"/><circle cx="974.4" cy="830" r="1.55"/><circle cx="974.6" cy="830" r="1.55"/><circle cx="974.8" cy="831.7" r="1.55"/><circle cx="975" cy="829" r="1.55"/><circle cx="975.1" cy="830.8" r="1.55"/><circle cx="975.3" cy="829.8" r="1.55"/><circle cx="975.5" cy="830.4" r="1.55"/><circle cx="975.7" cy="830.1" r="1.55"/><circle cx="975.8" cy="831" r="1.55"/><circle cx="976" cy="829.3" r="1.55"/><circle cx="976.2" cy="829.7" r="1.55"/><circle cx="976.4" cy="832.3" r="1.55"/><circle cx="976.6" cy="829.2" r="1.55"/><circle cx="976.7" cy="830.1" r="1.55"/><circle cx="976.9" cy="829.1" r="1.55"/><circle cx="977.1" cy="828.8" r="1.55"/><circle cx="977.3" cy="833.5" r="1.55"/><circle cx="977.4" cy="828.8" r="1.55"/><circle cx="977.6" cy="828.6" r="1.55"/><circle cx="977.8" cy="829.6" r="1.55"/><circle cx="978" cy="828.7" r="1.55"/><circle cx="978.1" cy="828.9" r="1.55"/><circle cx="978.3" cy="828.6" r="1.55"/><circle cx="978.5" cy="828.7" r="1.55"/><circle cx="978.7" cy="829" r="1.55"/><circle cx="978.8" cy="829.9" r="1.55"/><circle cx="979" cy="829.6" r="1.55"/><circle cx="979.2" cy="828.6" r="1.55"/><circle cx="979.4" cy="855.6" r="1.55"/><circle cx="979.5" cy="828.8" r="1.55"/><circle cx="979.7" cy="828.6" r="1.55"/><circle cx="979.9" cy="830.5" r="1.55"/><circle cx="980.1" cy="828.5" r="1.55"/><circle cx="980.2" cy="830" r="1.55"/><circle cx="980.4" cy="829.2" r="1.55"/><circle cx="980.6" cy="832.8" r="1.55"/><circle cx="980.8" cy="830.3" r="1.55"/><circle cx="980.9" cy="845.6" r="1.55"/><circle cx="981.1" cy="831.6" r="1.55"/><circle cx="981.3" cy="829.6" r="1.55"/><circle cx="981.5" cy="829" r="1.55"/><circle cx="981.6" cy="828.6" r="1.55"/><circle cx="981.8" cy="829.1" r="1.55"/><circle cx="982" cy="829.2" r="1.55"/><circle cx="982.2" cy="828.8" r="1.55"/><circle cx="982.3" cy="828.5" r="1.55"/><circle cx="982.5" cy="830.3" r="1.55"/><circle cx="982.7" cy="828.3" r="1.55"/><circle cx="982.9" cy="828.6" r="1.55"/><circle cx="983" cy="830.7" r="1.55"/><circle cx="983.2" cy="834" r="1.55"/><circle cx="983.4" cy="828.6" r="1.55"/><circle cx="983.6" cy="828.5" r="1.55"/><circle cx="983.7" cy="831.2" r="1.55"/><circle cx="983.9" cy="828.9" r="1.55"/><circle cx="984.1" cy="829.7" r="1.55"/><circle cx="984.3" cy="829.6" r="1.55"/><circle cx="984.4" cy="829.2" r="1.55"/><circle cx="984.6" cy="828.2" r="1.55"/><circle cx="984.8" cy="828.5" r="1.55"/><circle cx="985" cy="828.2" r="1.55"/><circle cx="985.1" cy="829.2" r="1.55"/><circle cx="985.3" cy="828.4" r="1.55"/><circle cx="985.5" cy="828.4" r="1.55"/><circle cx="985.7" cy="830.5" r="1.55"/><circle cx="985.8" cy="829.7" r="1.55"/><circle cx="986" cy="828.6" r="1.55"/><circle cx="986.2" cy="829.5" r="1.55"/><circle cx="986.4" cy="828.9" r="1.55"/><circle cx="986.5" cy="828.9" r="1.55"/><circle cx="986.7" cy="828.4" r="1.55"/><circle cx="986.9" cy="828.2" r="1.55"/><circle cx="987.1" cy="829.1" r="1.55"/><circle cx="987.2" cy="831.4" r="1.55"/><circle cx="987.4" cy="828.6" r="1.55"/><circle cx="987.6" cy="828.5" r="1.55"/><circle cx="987.8" cy="830.6" r="1.55"/><circle cx="987.9" cy="835" r="1.55"/><circle cx="988.1" cy="829.6" r="1.55"/><circle cx="988.3" cy="829.8" r="1.55"/><circle cx="988.5" cy="828" r="1.55"/><circle cx="988.6" cy="830.7" r="1.55"/><circle cx="988.8" cy="828.3" r="1.55"/><circle cx="989" cy="828.8" r="1.55"/><circle cx="989.2" cy="828.6" r="1.55"/><circle cx="989.3" cy="830.6" r="1.55"/><circle cx="989.5" cy="829.1" r="1.55"/><circle cx="989.7" cy="828.7" r="1.55"/><circle cx="989.9" cy="828.3" r="1.55"/><circle cx="990" cy="828.4" r="1.55"/><circle cx="990.2" cy="830.5" r="1.55"/><circle cx="990.4" cy="829.3" r="1.55"/><circle cx="990.6" cy="828.9" r="1.55"/><circle cx="990.7" cy="828.4" r="1.55"/><circle cx="990.9" cy="836.2" r="1.55"/><circle cx="991.1" cy="829.9" r="1.55"/><circle cx="991.3" cy="829.7" r="1.55"/><circle cx="991.4" cy="828.5" r="1.55"/><circle cx="991.6" cy="829.1" r="1.55"/><circle cx="991.8" cy="849.4" r="1.55"/><circle cx="992" cy="828.5" r="1.55"/><circle cx="992.1" cy="828.3" r="1.55"/><circle cx="992.3" cy="832" r="1.55"/><circle cx="992.5" cy="828" r="1.55"/><circle cx="992.7" cy="830.4" r="1.55"/><circle cx="992.8" cy="829.5" r="1.55"/><circle cx="993" cy="828" r="1.55"/><circle cx="993.2" cy="828.4" r="1.55"/><circle cx="993.4" cy="829.6" r="1.55"/><circle cx="993.5" cy="828.3" r="1.55"/><circle cx="993.7" cy="828.2" r="1.55"/><circle cx="993.9" cy="828.6" r="1.55"/><circle cx="994.1" cy="830.3" r="1.55"/><circle cx="994.2" cy="828.5" r="1.55"/><circle cx="994.4" cy="829.4" r="1.55"/><circle cx="994.6" cy="829.7" r="1.55"/><circle cx="994.8" cy="828.2" r="1.55"/><circle cx="994.9" cy="827.9" r="1.55"/><circle cx="995.1" cy="828.2" r="1.55"/><circle cx="995.3" cy="828.5" r="1.55"/><circle cx="995.5" cy="828.7" r="1.55"/><circle cx="995.6" cy="827.7" r="1.55"/><circle cx="995.8" cy="828.3" r="1.55"/><circle cx="996" cy="830.6" r="1.55"/><circle cx="996.2" cy="828.5" r="1.55"/><circle cx="996.3" cy="828.9" r="1.55"/><circle cx="996.5" cy="827.9" r="1.55"/><circle cx="996.7" cy="828.9" r="1.55"/><circle cx="996.9" cy="830.4" r="1.55"/><circle cx="997" cy="828.2" r="1.55"/><circle cx="997.2" cy="828.6" r="1.55"/><circle cx="997.4" cy="828.5" r="1.55"/><circle cx="997.6" cy="828.7" r="1.55"/><circle cx="997.7" cy="829.9" r="1.55"/><circle cx="997.9" cy="830.3" r="1.55"/><circle cx="998.1" cy="827.7" r="1.55"/><circle cx="998.3" cy="828.2" r="1.55"/><circle cx="998.4" cy="828.1" r="1.55"/><circle cx="998.6" cy="828" r="1.55"/><circle cx="998.8" cy="829.1" r="1.55"/><circle cx="999" cy="829.8" r="1.55"/><circle cx="999.1" cy="829.1" r="1.55"/><circle cx="999.3" cy="829.7" r="1.55"/><circle cx="999.5" cy="828" r="1.55"/><circle cx="999.7" cy="828.1" r="1.55"/><circle cx="999.8" cy="827.7" r="1.55"/><circle cx="1000" cy="828.9" r="1.55"/><circle cx="1000.2" cy="832.1" r="1.55"/><circle cx="1000.4" cy="828.6" r="1.55"/><circle cx="1000.5" cy="829" r="1.55"/><circle cx="1000.7" cy="828.1" r="1.55"/><circle cx="1000.9" cy="828.5" r="1.55"/><circle cx="1001.1" cy="828.6" r="1.55"/><circle cx="1001.2" cy="829.4" r="1.55"/><circle cx="1001.4" cy="828.9" r="1.55"/><circle cx="1001.6" cy="828.3" r="1.55"/><circle cx="1001.8" cy="827.8" r="1.55"/><circle cx="1001.9" cy="827.9" r="1.55"/><circle cx="1002.1" cy="828.2" r="1.55"/><circle cx="1002.3" cy="829.7" r="1.55"/><circle cx="1002.5" cy="829.2" r="1.55"/><circle cx="1002.6" cy="828.3" r="1.55"/><circle cx="1002.8" cy="829" r="1.55"/><circle cx="1003" cy="827.9" r="1.55"/><circle cx="1003.2" cy="829.2" r="1.55"/><circle cx="1003.3" cy="827.9" r="1.55"/><circle cx="1003.5" cy="831.6" r="1.55"/><circle cx="1003.7" cy="829.2" r="1.55"/><circle cx="1003.9" cy="832.4" r="1.55"/><circle cx="1004" cy="830" r="1.55"/><circle cx="1004.2" cy="828.6" r="1.55"/><circle cx="1004.4" cy="831.6" r="1.55"/><circle cx="1004.6" cy="828.5" r="1.55"/><circle cx="1004.7" cy="829.6" r="1.55"/><circle cx="1004.9" cy="828" r="1.55"/><circle cx="1005.1" cy="828.9" r="1.55"/><circle cx="1005.3" cy="829.6" r="1.55"/><circle cx="1005.4" cy="828.2" r="1.55"/><circle cx="1005.6" cy="828" r="1.55"/><circle cx="1005.8" cy="828.7" r="1.55"/><circle cx="1006" cy="830" r="1.55"/><circle cx="1006.1" cy="828.3" r="1.55"/><circle cx="1006.3" cy="831.5" r="1.55"/><circle cx="1006.5" cy="828" r="1.55"/><circle cx="1006.7" cy="828.5" r="1.55"/><circle cx="1006.8" cy="828" r="1.55"/><circle cx="1007" cy="828.8" r="1.55"/><circle cx="1007.2" cy="842.3" r="1.55"/><circle cx="1007.4" cy="829.3" r="1.55"/><circle cx="1007.5" cy="830.4" r="1.55"/><circle cx="1007.7" cy="828.1" r="1.55"/><circle cx="1007.9" cy="828.6" r="1.55"/><circle cx="1008.1" cy="829.2" r="1.55"/><circle cx="1008.2" cy="829.8" r="1.55"/><circle cx="1008.4" cy="830.4" r="1.55"/><circle cx="1008.6" cy="828.9" r="1.55"/><circle cx="1008.8" cy="828.2" r="1.55"/><circle cx="1008.9" cy="830.8" r="1.55"/><circle cx="1009.1" cy="828" r="1.55"/><circle cx="1009.3" cy="828.8" r="1.55"/><circle cx="1009.5" cy="829" r="1.55"/><circle cx="1009.6" cy="839.4" r="1.55"/><circle cx="1009.8" cy="832.4" r="1.55"/><circle cx="1010" cy="828.6" r="1.55"/><circle cx="1010.2" cy="828.3" r="1.55"/><circle cx="1010.3" cy="830.7" r="1.55"/><circle cx="1010.5" cy="828.2" r="1.55"/><circle cx="1010.7" cy="828.3" r="1.55"/><circle cx="1010.9" cy="829.2" r="1.55"/><circle cx="1011" cy="854.2" r="1.55"/><circle cx="1011.2" cy="828.6" r="1.55"/><circle cx="1011.4" cy="842.6" r="1.55"/><circle cx="1011.6" cy="828.7" r="1.55"/><circle cx="1011.7" cy="828.5" r="1.55"/><circle cx="1011.9" cy="831.1" r="1.55"/><circle cx="1012.1" cy="828.5" r="1.55"/><circle cx="1012.3" cy="828.1" r="1.55"/><circle cx="1012.4" cy="828.2" r="1.55"/><circle cx="1012.6" cy="828.3" r="1.55"/><circle cx="1012.8" cy="829.1" r="1.55"/><circle cx="1013" cy="828.9" r="1.55"/><circle cx="1013.1" cy="828.5" r="1.55"/><circle cx="1013.3" cy="831.6" r="1.55"/><circle cx="1013.5" cy="830.8" r="1.55"/><circle cx="1013.7" cy="842.6" r="1.55"/><circle cx="1013.8" cy="840.9" r="1.55"/><circle cx="1014" cy="829.8" r="1.55"/><circle cx="1014.2" cy="828.6" r="1.55"/><circle cx="1014.4" cy="828.8" r="1.55"/><circle cx="1014.5" cy="829.6" r="1.55"/><circle cx="1014.7" cy="828.6" r="1.55"/><circle cx="1014.9" cy="828.7" r="1.55"/><circle cx="1015.1" cy="831.5" r="1.55"/><circle cx="1015.2" cy="828.5" r="1.55"/><circle cx="1015.4" cy="831.6" r="1.55"/><circle cx="1015.6" cy="828.6" r="1.55"/><circle cx="1015.8" cy="828.4" r="1.55"/><circle cx="1015.9" cy="829.6" r="1.55"/><circle cx="1016.1" cy="830.6" r="1.55"/><circle cx="1016.3" cy="828.2" r="1.55"/><circle cx="1016.5" cy="828.8" r="1.55"/><circle cx="1016.6" cy="828.5" r="1.55"/><circle cx="1016.8" cy="829.4" r="1.55"/><circle cx="1017" cy="882.6" r="1.55"/><circle cx="1017.2" cy="828.4" r="1.55"/><circle cx="1017.3" cy="828.8" r="1.55"/><circle cx="1017.5" cy="849" r="1.55"/><circle cx="1017.7" cy="830.5" r="1.55"/><circle cx="1017.9" cy="829.2" r="1.55"/><circle cx="1018" cy="830.4" r="1.55"/><circle cx="1018.2" cy="828.8" r="1.55"/><circle cx="1018.4" cy="831.6" r="1.55"/><circle cx="1018.6" cy="905.4" r="1.55"/><circle cx="1018.7" cy="829.7" r="1.55"/><circle cx="1018.9" cy="829.8" r="1.55"/><circle cx="1019.1" cy="831.1" r="1.55"/><circle cx="1019.3" cy="828.5" r="1.55"/><circle cx="1019.4" cy="829.1" r="1.55"/><circle cx="1019.6" cy="828.4" r="1.55"/><circle cx="1019.8" cy="833.9" r="1.55"/><circle cx="1020" cy="848.9" r="1.55"/><circle cx="1020.1" cy="830.1" r="1.55"/><circle cx="1020.3" cy="828.7" r="1.55"/><circle cx="1020.5" cy="829.4" r="1.55"/><circle cx="1020.7" cy="828.8" r="1.55"/><circle cx="1020.8" cy="832" r="1.55"/><circle cx="1021" cy="838.2" r="1.55"/><circle cx="1021.2" cy="829.1" r="1.55"/><circle cx="1021.4" cy="893.7" r="1.55"/><circle cx="1021.5" cy="828.8" r="1.55"/><circle cx="1021.7" cy="828.9" r="1.55"/><circle cx="1021.9" cy="828.4" r="1.55"/><circle cx="1022.1" cy="830.3" r="1.55"/><circle cx="1022.2" cy="829.6" r="1.55"/><circle cx="1022.4" cy="829.9" r="1.55"/><circle cx="1022.6" cy="828.9" r="1.55"/><circle cx="1022.8" cy="828.8" r="1.55"/><circle cx="1022.9" cy="829.4" r="1.55"/><circle cx="1023.1" cy="830.7" r="1.55"/><circle cx="1023.3" cy="829.2" r="1.55"/><circle cx="1023.5" cy="828.6" r="1.55"/><circle cx="1023.6" cy="830.5" r="1.55"/><circle cx="1023.8" cy="829.9" r="1.55"/><circle cx="1024" cy="829.6" r="1.55"/><circle cx="1024.2" cy="829.6" r="1.55"/><circle cx="1024.3" cy="838.7" r="1.55"/><circle cx="1024.5" cy="829.9" r="1.55"/><circle cx="1024.7" cy="828.8" r="1.55"/><circle cx="1024.9" cy="829.7" r="1.55"/><circle cx="1025" cy="828.7" r="1.55"/><circle cx="1025.2" cy="830.3" r="1.55"/><circle cx="1025.4" cy="830" r="1.55"/><circle cx="1025.6" cy="828.9" r="1.55"/><circle cx="1025.7" cy="831.5" r="1.55"/><circle cx="1025.9" cy="828.9" r="1.55"/><circle cx="1026.1" cy="828.8" r="1.55"/><circle cx="1026.3" cy="829.4" r="1.55"/><circle cx="1026.4" cy="828.7" r="1.55"/><circle cx="1026.6" cy="829.9" r="1.55"/><circle cx="1026.8" cy="828.8" r="1.55"/><circle cx="1027" cy="829.6" r="1.55"/><circle cx="1027.1" cy="829.1" r="1.55"/><circle cx="1027.3" cy="829.1" r="1.55"/><circle cx="1027.5" cy="828.7" r="1.55"/><circle cx="1027.7" cy="829.9" r="1.55"/><circle cx="1027.8" cy="828.8" r="1.55"/><circle cx="1028" cy="829" r="1.55"/><circle cx="1028.2" cy="829.6" r="1.55"/><circle cx="1028.4" cy="829.8" r="1.55"/><circle cx="1028.5" cy="829.8" r="1.55"/><circle cx="1028.7" cy="828.9" r="1.55"/><circle cx="1028.9" cy="949.7" r="1.55"/><circle cx="1029.1" cy="829.7" r="1.55"/><circle cx="1029.2" cy="830.5" r="1.55"/><circle cx="1029.4" cy="829.3" r="1.55"/><circle cx="1029.6" cy="829" r="1.55"/><circle cx="1029.8" cy="829.8" r="1.55"/><circle cx="1029.9" cy="829.3" r="1.55"/><circle cx="1030.1" cy="874.7" r="1.55"/><circle cx="1030.3" cy="830" r="1.55"/><circle cx="1030.5" cy="830.2" r="1.55"/><circle cx="1030.6" cy="829.4" r="1.55"/><circle cx="1030.8" cy="829.3" r="1.55"/><circle cx="1031" cy="829.6" r="1.55"/><circle cx="1031.2" cy="871.8" r="1.55"/><circle cx="1031.3" cy="832.2" r="1.55"/><circle cx="1031.5" cy="829.7" r="1.55"/><circle cx="1031.7" cy="829.3" r="1.55"/><circle cx="1031.9" cy="830.6" r="1.55"/><circle cx="1032" cy="830.1" r="1.55"/><circle cx="1032.2" cy="830.6" r="1.55"/><circle cx="1032.4" cy="831.2" r="1.55"/><circle cx="1032.6" cy="830.4" r="1.55"/><circle cx="1032.7" cy="830.8" r="1.55"/><circle cx="1032.9" cy="830.6" r="1.55"/><circle cx="1033.1" cy="829.5" r="1.55"/><circle cx="1033.3" cy="830.3" r="1.55"/><circle cx="1033.4" cy="829.4" r="1.55"/><circle cx="1033.6" cy="829.7" r="1.55"/><circle cx="1033.8" cy="832.5" r="1.55"/><circle cx="1034" cy="830.3" r="1.55"/><circle cx="1034.1" cy="829.5" r="1.55"/><circle cx="1034.3" cy="830.2" r="1.55"/><circle cx="1034.5" cy="830.6" r="1.55"/><circle cx="1034.7" cy="829.8" r="1.55"/><circle cx="1034.8" cy="831.2" r="1.55"/><circle cx="1035" cy="831.5" r="1.55"/><circle cx="1035.2" cy="834.2" r="1.55"/><circle cx="1035.4" cy="830.4" r="1.55"/><circle cx="1035.5" cy="830.3" r="1.55"/><circle cx="1035.7" cy="831.2" r="1.55"/><circle cx="1035.9" cy="831.8" r="1.55"/><circle cx="1036.1" cy="830.1" r="1.55"/><circle cx="1036.2" cy="830.8" r="1.55"/><circle cx="1036.4" cy="832.6" r="1.55"/><circle cx="1036.6" cy="830.4" r="1.55"/><circle cx="1036.8" cy="834" r="1.55"/><circle cx="1036.9" cy="830.2" r="1.55"/><circle cx="1037.1" cy="834.5" r="1.55"/><circle cx="1037.3" cy="829.9" r="1.55"/><circle cx="1037.5" cy="830.9" r="1.55"/><circle cx="1037.6" cy="831.6" r="1.55"/><circle cx="1037.8" cy="830.7" r="1.55"/><circle cx="1038" cy="830.4" r="1.55"/><circle cx="1038.2" cy="831.2" r="1.55"/><circle cx="1038.3" cy="832.3" r="1.55"/><circle cx="1038.5" cy="831.6" r="1.55"/><circle cx="1038.7" cy="830.9" r="1.55"/><circle cx="1038.9" cy="830.5" r="1.55"/><circle cx="1039" cy="831.3" r="1.55"/><circle cx="1039.2" cy="830.4" r="1.55"/><circle cx="1039.4" cy="830.4" r="1.55"/><circle cx="1039.6" cy="830.3" r="1.55"/><circle cx="1039.7" cy="830.9" r="1.55"/><circle cx="1039.9" cy="830.9" r="1.55"/><circle cx="1040.1" cy="830.6" r="1.55"/><circle cx="1040.3" cy="832" r="1.55"/><circle cx="1040.4" cy="831" r="1.55"/><circle cx="1040.6" cy="830.8" r="1.55"/><circle cx="1040.8" cy="830.9" r="1.55"/><circle cx="1041" cy="832" r="1.55"/><circle cx="1041.1" cy="831.7" r="1.55"/><circle cx="1041.3" cy="830.9" r="1.55"/><circle cx="1041.5" cy="831.6" r="1.55"/><circle cx="1041.7" cy="953.3" r="1.55"/><circle cx="1041.8" cy="831.1" r="1.55"/><circle cx="1042" cy="831" r="1.55"/><circle cx="1042.2" cy="832.8" r="1.55"/><circle cx="1042.4" cy="844.2" r="1.55"/><circle cx="1042.5" cy="831.5" r="1.55"/><circle cx="1042.7" cy="842.1" r="1.55"/><circle cx="1042.9" cy="832.1" r="1.55"/><circle cx="1043.1" cy="832.4" r="1.55"/><circle cx="1043.2" cy="832.7" r="1.55"/><circle cx="1043.4" cy="833.8" r="1.55"/><circle cx="1043.6" cy="832" r="1.55"/><circle cx="1043.8" cy="837.9" r="1.55"/><circle cx="1043.9" cy="831.6" r="1.55"/><circle cx="1044.1" cy="831.8" r="1.55"/><circle cx="1044.3" cy="835" r="1.55"/><circle cx="1044.5" cy="849.1" r="1.55"/><circle cx="1044.6" cy="832.1" r="1.55"/><circle cx="1044.8" cy="832.3" r="1.55"/><circle cx="1045" cy="832.6" r="1.55"/><circle cx="1045.2" cy="832.2" r="1.55"/><circle cx="1045.3" cy="833.4" r="1.55"/><circle cx="1045.5" cy="832.8" r="1.55"/><circle cx="1045.7" cy="832.2" r="1.55"/><circle cx="1045.9" cy="833" r="1.55"/><circle cx="1046" cy="833.8" r="1.55"/><circle cx="1046.2" cy="833" r="1.55"/><circle cx="1046.4" cy="832.6" r="1.55"/><circle cx="1046.6" cy="832.5" r="1.55"/><circle cx="1046.7" cy="833.9" r="1.55"/><circle cx="1046.9" cy="832.8" r="1.55"/><circle cx="1047.1" cy="834.1" r="1.55"/><circle cx="1047.3" cy="864" r="1.55"/><circle cx="1047.4" cy="833.1" r="1.55"/><circle cx="1047.6" cy="834.4" r="1.55"/><circle cx="1047.8" cy="836.8" r="1.55"/><circle cx="1048" cy="833.4" r="1.55"/><circle cx="1048.1" cy="834.3" r="1.55"/><circle cx="1048.3" cy="833.7" r="1.55"/><circle cx="1048.5" cy="836.2" r="1.55"/><circle cx="1048.7" cy="833.9" r="1.55"/><circle cx="1048.8" cy="833.9" r="1.55"/><circle cx="1049" cy="834.1" r="1.55"/><circle cx="1049.2" cy="840.2" r="1.55"/><circle cx="1049.4" cy="836" r="1.55"/><circle cx="1049.5" cy="835.6" r="1.55"/><circle cx="1049.7" cy="837.6" r="1.55"/><circle cx="1049.9" cy="837.3" r="1.55"/><circle cx="1050.1" cy="836.3" r="1.55"/><circle cx="1050.2" cy="835" r="1.55"/><circle cx="1050.4" cy="835.2" r="1.55"/><circle cx="1050.6" cy="837.7" r="1.55"/><circle cx="1050.8" cy="835.9" r="1.55"/><circle cx="1050.9" cy="835.5" r="1.55"/><circle cx="1051.1" cy="839.7" r="1.55"/><circle cx="1051.3" cy="838" r="1.55"/><circle cx="1051.5" cy="836.1" r="1.55"/><circle cx="1051.6" cy="843.4" r="1.55"/><circle cx="1051.8" cy="836.3" r="1.55"/><circle cx="1052" cy="836.3" r="1.55"/><circle cx="1052.2" cy="837.7" r="1.55"/><circle cx="1052.3" cy="839.3" r="1.55"/><circle cx="1052.5" cy="837.7" r="1.55"/><circle cx="1052.7" cy="838" r="1.55"/><circle cx="1052.9" cy="838.8" r="1.55"/><circle cx="1053" cy="837.8" r="1.55"/><circle cx="1053.2" cy="841.6" r="1.55"/><circle cx="1053.4" cy="838.9" r="1.55"/><circle cx="1053.6" cy="839.1" r="1.55"/><circle cx="1053.7" cy="839.1" r="1.55"/><circle cx="1053.9" cy="843.5" r="1.55"/><circle cx="1054.1" cy="839.3" r="1.55"/><circle cx="1054.3" cy="840.9" r="1.55"/><circle cx="1054.4" cy="840" r="1.55"/><circle cx="1054.6" cy="841.1" r="1.55"/><circle cx="1054.8" cy="844.2" r="1.55"/><circle cx="1055" cy="842.9" r="1.55"/><circle cx="1055.1" cy="840.4" r="1.55"/><circle cx="1055.3" cy="841.5" r="1.55"/><circle cx="1055.5" cy="846.9" r="1.55"/><circle cx="1055.7" cy="843.8" r="1.55"/><circle cx="1055.8" cy="841.9" r="1.55"/><circle cx="1056" cy="841.8" r="1.55"/><circle cx="1056.2" cy="842.8" r="1.55"/><circle cx="1056.4" cy="843.6" r="1.55"/><circle cx="1056.5" cy="843" r="1.55"/><circle cx="1056.7" cy="852.4" r="1.55"/><circle cx="1056.9" cy="848.3" r="1.55"/><circle cx="1057.1" cy="844.1" r="1.55"/><circle cx="1057.2" cy="843.8" r="1.55"/><circle cx="1057.4" cy="844.4" r="1.55"/><circle cx="1057.6" cy="854.4" r="1.55"/><circle cx="1057.8" cy="844.8" r="1.55"/><circle cx="1057.9" cy="845.9" r="1.55"/><circle cx="1058.1" cy="847" r="1.55"/><circle cx="1058.3" cy="848" r="1.55"/><circle cx="1058.5" cy="848.1" r="1.55"/><circle cx="1058.6" cy="851.5" r="1.55"/><circle cx="1058.8" cy="847.6" r="1.55"/><circle cx="1059" cy="846.7" r="1.55"/><circle cx="1059.2" cy="848.5" r="1.55"/><circle cx="1059.3" cy="847.7" r="1.55"/><circle cx="1059.5" cy="855" r="1.55"/><circle cx="1059.7" cy="848.4" r="1.55"/><circle cx="1059.9" cy="849.9" r="1.55"/><circle cx="1059.7" cy="854.8" r="1.55"/><circle cx="1059.7" cy="861.2" r="1.55"/><circle cx="1059.7" cy="867.7" r="1.55"/><circle cx="1059.7" cy="885.8" r="1.55"/><circle cx="1059.7" cy="915.5" r="1.55"/><circle cx="1059.7" cy="917.4" r="1.55"/><circle cx="1059.7" cy="920.7" r="1.55"/><circle cx="1059.7" cy="945.2" r="1.55"/><circle cx="1059.7" cy="965.3" r="1.55"/><circle cx="1059.7" cy="981.4" r="1.55"/><circle cx="826.6" cy="1041.9" r="1.55"/><circle cx="828.4" cy="1041.9" r="1.55"/><circle cx="832.6" cy="1041.9" r="1.55"/><circle cx="834.4" cy="1041.9" r="1.55"/><circle cx="838.6" cy="1041.9" r="1.55"/><circle cx="850.7" cy="1041.9" r="1.55"/><circle cx="973.5" cy="1041.9" r="1.55"/><circle cx="992.4" cy="1041.9" r="1.55"/></g>
<g clip-path="url(#c3)"><path class="bx" d="M165.5 1042.5H175.5V1042.5H165.5ZM170.5 1042.5V1042.5M170.5 1042.5V1042.5M185.5 1042.5H195.5V1042.5H185.5ZM190.5 1042.5V1042.5M190.5 1042.5V1042.5M205.5 1042.5H215.5V1042.5H205.5ZM210.5 1042.5V1042.5M210.5 1042.5V1042.5M225.5 1042.5H236.5V1042.5H225.5ZM231.5 1042.5V1042.5M231.5 1042.5V1042.5M246.5 1042.5H256.5V1006.5H246.5ZM251.5 1042.5V1042.5M251.5 1006.5V990.5M266.5 1042.5H276.5V1000.5H266.5ZM271.5 1042.5V1042.5M271.5 1000.5V974.5M286.5 1042.5H296.5V986.5H286.5ZM291.5 1042.5V1042.5M291.5 986.5V904.5M306.5 1023.5H316.5V869.5H306.5ZM311.5 1023.5V1042.5M311.5 869.5V852.5M326.5 914.5H336.5V851.5H326.5ZM331.5 914.5V1002.5M331.5 851.5V845.5M346.5 863.5H356.5V844.5H346.5ZM351.5 863.5V889.5M351.5 844.5V840.5M366.5 848.5H376.5V840.5H366.5ZM371.5 848.5V861.5M371.5 840.5V838.5M387.5 844.5H397.5V837.5H387.5ZM392.5 844.5V855.5M392.5 837.5V835.5M407.5 839.5H417.5V834.5H407.5ZM412.5 839.5V845.5M412.5 834.5V833.5M427.5 836.5H437.5V832.5H427.5ZM432.5 836.5V841.5M432.5 832.5V831.5M447.5 834.5H457.5V831.5H447.5ZM452.5 834.5V837.5M452.5 831.5V830.5M467.5 832.5H477.5V830.5H467.5ZM472.5 832.5V836.5M472.5 830.5V829.5M487.5 832.5H497.5V829.5H487.5ZM492.5 832.5V836.5M492.5 829.5V828.5M507.5 832.5H517.5V829.5H507.5ZM512.5 832.5V836.5M512.5 829.5V828.5M527.5 834.5H537.5V831.5H527.5ZM532.5 834.5V839.5M532.5 831.5V829.5M548.5 847.5H558.5V836.5H548.5ZM553.5 847.5V863.5M553.5 836.5V833.5M568.5 981.5H578.5V981.5H568.5ZM573.5 981.5V981.5M573.5 981.5V981.5"/><path class="bx cp" d="M168.5 1042.5H173.5M168.5 1042.5H173.5M188.5 1042.5H193.5M188.5 1042.5H193.5M208.5 1042.5H213.5M208.5 1042.5H213.5M228.5 1042.5H233.5M228.5 1042.5H233.5M248.5 1042.5H253.5M248.5 990.5H253.5M268.5 1042.5H273.5M268.5 974.5H273.5M288.5 1042.5H293.5M288.5 904.5H293.5M309.5 1042.5H314.5M309.5 852.5H314.5M329.5 1002.5H334.5M329.5 845.5H334.5M349.5 889.5H354.5M349.5 840.5H354.5M369.5 861.5H374.5M369.5 838.5H374.5M389.5 855.5H394.5M389.5 835.5H394.5M409.5 845.5H414.5M409.5 833.5H414.5M429.5 841.5H434.5M429.5 831.5H434.5M449.5 837.5H454.5M449.5 830.5H454.5M470.5 836.5H475.5M470.5 829.5H475.5M490.5 836.5H495.5M490.5 828.5H495.5M510.5 836.5H515.5M510.5 828.5H515.5M530.5 839.5H535.5M530.5 829.5H535.5M550.5 863.5H555.5M550.5 833.5H555.5M570.5 981.5H575.5M570.5 981.5H575.5"/><path class="md" d="M165.5 1042.5H175.5M185.5 1042.5H195.5M205.5 1042.5H215.5M225.5 1042.5H236.5M246.5 1042.5H256.5M266.5 1042.5H276.5M286.5 1042.5H296.5M306.5 933.5H316.5M326.5 862.5H336.5M346.5 850.5H356.5M366.5 843.5H376.5M387.5 838.5H397.5M407.5 836.5H417.5M427.5 833.5H437.5M447.5 832.5H457.5M467.5 831.5H477.5M487.5 830.5H497.5M507.5 830.5H517.5M527.5 832.5H537.5M548.5 840.5H558.5M568.5 981.5H578.5"/></g>
<g clip-path="url(#c4)"><path class="bx" d="M672.5 1042.5H682.5V1042.5H672.5ZM677.5 1042.5V1042.5M677.5 1042.5V1042.5M693.5 1042.5H703.5V1042.5H693.5ZM698.5 1042.5V1042.5M698.5 1042.5V1042.5M713.5 1042.5H723.5V1042.5H713.5ZM718.5 1042.5V1042.5M718.5 1042.5V1042.5M733.5 1042.5H743.5V1042.5H733.5ZM738.5 1042.5V1042.5M738.5 1042.5V1042.5M753.5 1042.5H763.5V1004.5H753.5ZM758.5 1042.5V1042.5M758.5 1004.5V991.5M773.5 1042.5H783.5V1003.5H773.5ZM778.5 1042.5V1042.5M778.5 1003.5V974.5M793.5 1042.5H803.5V986.5H793.5ZM798.5 1042.5V1042.5M798.5 986.5V904.5M813.5 1042.5H823.5V873.5H813.5ZM818.5 1042.5V1042.5M818.5 873.5V853.5M833.5 908.5H843.5V852.5H833.5ZM838.5 908.5V990.5M838.5 852.5V845.5M854.5 859.5H864.5V844.5H854.5ZM859.5 859.5V880.5M859.5 844.5V840.5M874.5 848.5H884.5V840.5H874.5ZM879.5 848.5V861.5M879.5 840.5V838.5M894.5 843.5H904.5V837.5H894.5ZM899.5 843.5V851.5M899.5 837.5V835.5M914.5 838.5H924.5V835.5H914.5ZM919.5 838.5V843.5M919.5 835.5V833.5M934.5 836.5H944.5V832.5H934.5ZM939.5 836.5V840.5M939.5 832.5V831.5M954.5 834.5H964.5V831.5H954.5ZM959.5 834.5V838.5M959.5 831.5V830.5M974.5 832.5H984.5V830.5H974.5ZM979.5 832.5V836.5M979.5 830.5V829.5M994.5 831.5H1005.5V829.5H994.5ZM999.5 831.5V834.5M999.5 829.5V828.5M1015.5 832.5H1025.5V829.5H1015.5ZM1020.5 832.5V836.5M1020.5 829.5V828.5M1035.5 834.5H1045.5V831.5H1035.5ZM1040.5 834.5V839.5M1040.5 831.5V830.5M1055.5 846.5H1065.5V836.5H1055.5ZM1060.5 846.5V859.5M1060.5 836.5V833.5M1075.5 981.5H1085.5V981.5H1075.5ZM1080.5 981.5V981.5M1080.5 981.5V981.5"/><path class="bx cp" d="M675.5 1042.5H680.5M675.5 1042.5H680.5M695.5 1042.5H700.5M695.5 1042.5H700.5M715.5 1042.5H720.5M715.5 1042.5H720.5M735.5 1042.5H740.5M735.5 1042.5H740.5M755.5 1042.5H760.5M755.5 991.5H760.5M776.5 1042.5H781.5M776.5 974.5H781.5M796.5 1042.5H801.5M796.5 904.5H801.5M816.5 1042.5H821.5M816.5 853.5H821.5M836.5 990.5H841.5M836.5 845.5H841.5M856.5 880.5H861.5M856.5 840.5H861.5M876.5 861.5H881.5M876.5 838.5H881.5M896.5 851.5H901.5M896.5 835.5H901.5M916.5 843.5H921.5M916.5 833.5H921.5M937.5 840.5H942.5M937.5 831.5H942.5M957.5 838.5H962.5M957.5 830.5H962.5M977.5 836.5H982.5M977.5 829.5H982.5M997.5 834.5H1002.5M997.5 828.5H1002.5M1017.5 836.5H1022.5M1017.5 828.5H1022.5M1037.5 839.5H1042.5M1037.5 830.5H1042.5M1057.5 859.5H1062.5M1057.5 833.5H1062.5M1077.5 981.5H1083.5M1077.5 981.5H1083.5"/><path class="md" d="M672.5 1042.5H682.5M693.5 1042.5H703.5M713.5 1042.5H723.5M733.5 1042.5H743.5M753.5 1042.5H763.5M773.5 1042.5H783.5M793.5 1042.5H803.5M813.5 961.5H823.5M833.5 863.5H843.5M854.5 849.5H864.5M874.5 843.5H884.5M894.5 839.5H904.5M914.5 836.5H924.5M934.5 833.5H944.5M954.5 832.5H964.5M974.5 831.5H984.5M994.5 830.5H1005.5M1015.5 830.5H1025.5M1035.5 832.5H1045.5M1055.5 840.5H1065.5M1075.5 981.5H1085.5"/></g>
<path class="fr" d="M150.5 144.5H573.5V564.5H150.5ZM150.5 564.5v4.9M235.5 564.5v4.9M319.5 564.5v4.9M404.5 564.5v4.9M488.5 564.5v4.9M573.5 564.5v4.9M150.5 564.5h-4.9M150.5 480.5h-4.9M150.5 396.5h-4.9M150.5 312.5h-4.9M150.5 228.5h-4.9M150.5 144.5h-4.9M657.5 144.5H1080.5V564.5H657.5ZM691.5 564.5v4.9M743.5 564.5v4.9M796.5 564.5v4.9M849.5 564.5v4.9M902.5 564.5v4.9M955.5 564.5v4.9M1008.5 564.5v4.9M1060.5 564.5v4.9M657.5 530.5h-4.9M657.5 478.5h-4.9M657.5 426.5h-4.9M657.5 373.5h-4.9M657.5 321.5h-4.9M657.5 268.5h-4.9M657.5 216.5h-4.9M657.5 163.5h-4.9M150.5 648.5H573.5V1068.5H150.5ZM170.5 1068.5v4.9M190.5 1068.5v4.9M210.5 1068.5v4.9M231.5 1068.5v4.9M251.5 1068.5v4.9M271.5 1068.5v4.9M291.5 1068.5v4.9M311.5 1068.5v4.9M331.5 1068.5v4.9M351.5 1068.5v4.9M371.5 1068.5v4.9M392.5 1068.5v4.9M412.5 1068.5v4.9M432.5 1068.5v4.9M452.5 1068.5v4.9M472.5 1068.5v4.9M492.5 1068.5v4.9M512.5 1068.5v4.9M532.5 1068.5v4.9M553.5 1068.5v4.9M573.5 1068.5v4.9M150.5 1068.5h-4.9M150.5 1003.5h-4.9M150.5 939.5h-4.9M150.5 874.5h-4.9M150.5 810.5h-4.9M150.5 745.5h-4.9M150.5 680.5h-4.9M657.5 648.5H1080.5V1068.5H657.5ZM677.5 1068.5v4.9M698.5 1068.5v4.9M718.5 1068.5v4.9M738.5 1068.5v4.9M758.5 1068.5v4.9M778.5 1068.5v4.9M798.5 1068.5v4.9M818.5 1068.5v4.9M838.5 1068.5v4.9M859.5 1068.5v4.9M879.5 1068.5v4.9M899.5 1068.5v4.9M919.5 1068.5v4.9M939.5 1068.5v4.9M959.5 1068.5v4.9M979.5 1068.5v4.9M999.5 1068.5v4.9M1020.5 1068.5v4.9M1040.5 1068.5v4.9M1060.5 1068.5v4.9M1080.5 1068.5v4.9M657.5 1068.5h-4.9M657.5 1003.5h-4.9M657.5 939.5h-4.9M657.5 874.5h-4.9M657.5 810.5h-4.9M657.5 745.5h-4.9M657.5 680.5h-4.9"/>
<text x="251.98" y="136.18" font-size="18.0" textLength="216.69" lengthAdjust="spacingAndGlyphs">Ranks - (red &gt;= 0.05 IDR)</text>
<text x="728.18" y="136.18" font-size="18.0" textLength="277.65" lengthAdjust="spacingAndGlyphs">Log10 Scores - (red &gt;= 0.05 IDR)</text>
<text x="234.2" y="640.0" font-size="17.97" textLength="252.86" lengthAdjust="spacingAndGlyphs">Sample 1 Ranks vs IDR Values</text>
<text x="742.32" y="640.0" font-size="17.97" textLength="252.99" lengthAdjust="spacingAndGlyphs">Sample 2 Ranks vs IDR Values</text>
<text x="308.99" y="603.96" font-size="14.38" textLength="104.3" lengthAdjust="spacingAndGlyphs">Sample 1 Rank</text>
<text x="792.77" y="603.96" font-size="14.38" textLength="152.32" lengthAdjust="spacingAndGlyphs">Sample 1 log10 Score</text>
<text x="290.08" y="1108.12" font-size="14.21" textLength="141.69" lengthAdjust="spacingAndGlyphs">Sample 1 Peak Rank</text>
<text x="798.19" y="1108.12" font-size="14.21" textLength="141.51" lengthAdjust="spacingAndGlyphs">Sample 2 Peak Rank</text>
<text transform="translate(109.22 407.35) rotate(-90)" font-size="14.18" textLength="104.4" lengthAdjust="spacingAndGlyphs">Sample 2 Rank</text>
<text transform="translate(616.06 431.07) rotate(-90)" font-size="14.48" textLength="152.81" lengthAdjust="spacingAndGlyphs">Sample 2 log10 Score</text>
<text transform="translate(121.96 895.33) rotate(-90)" font-size="14.37" textLength="73.23" lengthAdjust="spacingAndGlyphs">-log10 IDR</text>
<text transform="translate(628.96 895.33) rotate(-90)" font-size="14.37" textLength="73.23" lengthAdjust="spacingAndGlyphs">-log10 IDR</text>
<text x="140.32" y="585.04" font-size="14.06" textLength="19.82" lengthAdjust="spacingAndGlyphs">0.0</text>
<text x="224.28" y="585.04" font-size="14.06" textLength="19.66" lengthAdjust="spacingAndGlyphs">0.2</text>
<text x="309.46" y="585.04" font-size="14.06" textLength="20.53" lengthAdjust="spacingAndGlyphs">0.4</text>
<text x="394.36" y="585.04" font-size="14.06" textLength="20.39" lengthAdjust="spacingAndGlyphs">0.6</text>
<text x="478.27" y="585.04" font-size="14.06" textLength="20.02" lengthAdjust="spacingAndGlyphs">0.8</text>
<text x="562.24" y="585.04" font-size="14.06" textLength="20.27" lengthAdjust="spacingAndGlyphs">1.0</text>
<text x="119.32" y="570.08" font-size="14.06" textLength="19.82" lengthAdjust="spacingAndGlyphs">0.0</text>
<text x="119.28" y="486.54" font-size="14.06" textLength="19.66" lengthAdjust="spacingAndGlyphs">0.2</text>
<text x="119.46" y="401.74" font-size="14.06" textLength="20.53" lengthAdjust="spacingAndGlyphs">0.4</text>
<text x="119.36" y="318.37" font-size="14.06" textLength="20.39" lengthAdjust="spacingAndGlyphs">0.6</text>
<text x="119.27" y="234.03" font-size="14.06" textLength="20.02" lengthAdjust="spacingAndGlyphs">0.8</text>
<text x="119.24" y="149.71" font-size="14.06" textLength="20.27" lengthAdjust="spacingAndGlyphs">1.0</text>
<text x="680.94" y="585.14" font-size="14.77" textLength="19.75" lengthAdjust="spacingAndGlyphs">0.5</text>
<text x="733.01" y="585.14" font-size="14.77" textLength="20.29" lengthAdjust="spacingAndGlyphs">1.0</text>
<text x="785.63" y="585.14" font-size="14.77" textLength="20.36" lengthAdjust="spacingAndGlyphs">1.5</text>
<text x="838.05" y="585.14" font-size="14.77" textLength="21.57" lengthAdjust="spacingAndGlyphs">2.0</text>
<text x="890.83" y="585.14" font-size="14.77" textLength="21.81" lengthAdjust="spacingAndGlyphs">2.5</text>
<text x="944.66" y="585.14" font-size="14.77" textLength="19.67" lengthAdjust="spacingAndGlyphs">3.0</text>
<text x="997.52" y="585.14" font-size="14.77" textLength="19.89" lengthAdjust="spacingAndGlyphs">3.5</text>
<text x="1050.18" y="585.14" font-size="14.77" textLength="20.14" lengthAdjust="spacingAndGlyphs">4.0</text>
<text x="626.94" y="536.3" font-size="14.77" textLength="19.75" lengthAdjust="spacingAndGlyphs">0.5</text>
<text x="626.01" y="482.71" font-size="14.77" textLength="20.29" lengthAdjust="spacingAndGlyphs">1.0</text>
<text x="625.63" y="431.25" font-size="14.77" textLength="20.36" lengthAdjust="spacingAndGlyphs">1.5</text>
<text x="626.05" y="379.51" font-size="14.77" textLength="21.57" lengthAdjust="spacingAndGlyphs">2.0</text>
<text x="625.83" y="325.99" font-size="14.77" textLength="21.81" lengthAdjust="spacingAndGlyphs">2.5</text>
<text x="626.66" y="273.89" font-size="14.77" textLength="19.67" lengthAdjust="spacingAndGlyphs">3.0</text>
<text x="626.52" y="221.23" font-size="14.77" textLength="19.89" lengthAdjust="spacingAndGlyphs">3.5</text>
<text x="626.18" y="169.15" font-size="14.77" textLength="20.14" lengthAdjust="spacingAndGlyphs">4.0</text>
<text x="166.32" y="1088.9" font-size="14.72" textLength="8.07" lengthAdjust="spacingAndGlyphs">1</text>
<text x="186.47" y="1088.9" font-size="14.72" textLength="7.68" lengthAdjust="spacingAndGlyphs">2</text>
<text x="206.78" y="1088.9" font-size="14.72" textLength="7.57" lengthAdjust="spacingAndGlyphs">3</text>
<text x="227.3" y="1088.9" font-size="14.72" textLength="8.06" lengthAdjust="spacingAndGlyphs">4</text>
<text x="246.37" y="1088.9" font-size="14.72" textLength="7.51" lengthAdjust="spacingAndGlyphs">5</text>
<text x="266.23" y="1088.9" font-size="14.72" textLength="8.27" lengthAdjust="spacingAndGlyphs">6</text>
<text x="287.63" y="1088.9" font-size="14.72" textLength="7.84" lengthAdjust="spacingAndGlyphs">7</text>
<text x="307.39" y="1088.9" font-size="14.72" textLength="8.01" lengthAdjust="spacingAndGlyphs">8</text>
<text x="328.2" y="1088.9" font-size="14.72" textLength="8.36" lengthAdjust="spacingAndGlyphs">9</text>
<text x="343.37" y="1088.9" font-size="14.72" textLength="15.74" lengthAdjust="spacingAndGlyphs">10</text>
<text x="362.87" y="1088.9" font-size="14.72" textLength="16.6" lengthAdjust="spacingAndGlyphs">11</text>
<text x="383.14" y="1088.9" font-size="14.72" textLength="15.84" lengthAdjust="spacingAndGlyphs">12</text>
<text x="403.06" y="1088.9" font-size="14.72" textLength="15.86" lengthAdjust="spacingAndGlyphs">13</text>
<text x="424.37" y="1088.9" font-size="14.72" textLength="15.68" lengthAdjust="spacingAndGlyphs">14</text>
<text x="444.14" y="1088.9" font-size="14.72" textLength="15.71" lengthAdjust="spacingAndGlyphs">15</text>
<text x="464.31" y="1088.9" font-size="14.72" textLength="16.1" lengthAdjust="spacingAndGlyphs">16</text>
<text x="484.36" y="1088.9" font-size="14.72" textLength="16.0" lengthAdjust="spacingAndGlyphs">17</text>
<text x="504.13" y="1088.9" font-size="14.72" textLength="16.13" lengthAdjust="spacingAndGlyphs">18</text>
<text x="524.12" y="1088.9" font-size="14.72" textLength="15.97" lengthAdjust="spacingAndGlyphs">19</text>
<text x="543.96" y="1088.9" font-size="14.72" textLength="17.24" lengthAdjust="spacingAndGlyphs">20</text>
<text x="564.07" y="1088.9" font-size="14.72" textLength="17.27" lengthAdjust="spacingAndGlyphs">21</text>
<text x="132.26" y="1073.96" font-size="14.72" textLength="7.99" lengthAdjust="spacingAndGlyphs">0</text>
<text x="132.32" y="1008.8" font-size="14.72" textLength="8.07" lengthAdjust="spacingAndGlyphs">1</text>
<text x="132.47" y="943.81" font-size="14.72" textLength="7.68" lengthAdjust="spacingAndGlyphs">2</text>
<text x="132.78" y="879.55" font-size="14.72" textLength="7.57" lengthAdjust="spacingAndGlyphs">3</text>
<text x="132.3" y="814.37" font-size="14.72" textLength="8.06" lengthAdjust="spacingAndGlyphs">4</text>
<text x="132.37" y="750.05" font-size="14.72" textLength="7.51" lengthAdjust="spacingAndGlyphs">5</text>
<text x="131.23" y="686.5" font-size="14.72" textLength="8.27" lengthAdjust="spacingAndGlyphs">6</text>
<text x="674.32" y="1088.9" font-size="14.72" textLength="8.07" lengthAdjust="spacingAndGlyphs">1</text>
<text x="693.47" y="1088.9" font-size="14.72" textLength="7.68" lengthAdjust="spacingAndGlyphs">2</text>
<text x="713.78" y="1088.9" font-size="14.72" textLength="7.57" lengthAdjust="spacingAndGlyphs">3</text>
<text x="734.3" y="1088.9" font-size="14.72" textLength="8.06" lengthAdjust="spacingAndGlyphs">4</text>
<text x="754.37" y="1088.9" font-size="14.72" textLength="7.51" lengthAdjust="spacingAndGlyphs">5</text>
<text x="774.23" y="1088.9" font-size="14.72" textLength="8.27" lengthAdjust="spacingAndGlyphs">6</text>
<text x="794.63" y="1088.9" font-size="14.72" textLength="7.84" lengthAdjust="spacingAndGlyphs">7</text>
<text x="814.39" y="1088.9" font-size="14.72" textLength="8.01" lengthAdjust="spacingAndGlyphs">8</text>
<text x="835.2" y="1088.9" font-size="14.72" textLength="8.36" lengthAdjust="spacingAndGlyphs">9</text>
<text x="850.37" y="1088.9" font-size="14.72" textLength="15.74" lengthAdjust="spacingAndGlyphs">10</text>
<text x="869.87" y="1088.9" font-size="14.72" textLength="16.6" lengthAdjust="spacingAndGlyphs">11</text>
<text x="891.14" y="1088.9" font-size="14.72" textLength="15.84" lengthAdjust="spacingAndGlyphs">12</text>
<text x="911.06" y="1088.9" font-size="14.72" textLength="15.86" lengthAdjust="spacingAndGlyphs">13</text>
<text x="931.37" y="1088.9" font-size="14.72" textLength="15.68" lengthAdjust="spacingAndGlyphs">14</text>
<text x="951.14" y="1088.9" font-size="14.72" textLength="15.71" lengthAdjust="spacingAndGlyphs">15</text>
<text x="971.31" y="1088.9" font-size="14.72" textLength="16.1" lengthAdjust="spacingAndGlyphs">16</text>
<text x="991.36" y="1088.9" font-size="14.72" textLength="16.0" lengthAdjust="spacingAndGlyphs">17</text>
<text x="1011.13" y="1088.9" font-size="14.72" textLength="16.13" lengthAdjust="spacingAndGlyphs">18</text>
<text x="1031.12" y="1088.9" font-size="14.72" textLength="15.97" lengthAdjust="spacingAndGlyphs">19</text>
<text x="1050.96" y="1088.9" font-size="14.72" textLength="17.24" lengthAdjust="spacingAndGlyphs">20</text>
<text x="1071.07" y="1088.9" font-size="14.72" textLength="17.27" lengthAdjust="spacingAndGlyphs">21</text>
<text x="640.26" y="1073.96" font-size="14.72" textLength="7.99" lengthAdjust="spacingAndGlyphs">0</text>
<text x="639.32" y="1008.8" font-size="14.72" textLength="8.07" lengthAdjust="spacingAndGlyphs">1</text>
<text x="639.47" y="943.81" font-size="14.72" textLength="7.68" lengthAdjust="spacingAndGlyphs">2</text>
<text x="639.78" y="879.55" font-size="14.72" textLength="7.57" lengthAdjust="spacingAndGlyphs">3</text>
<text x="639.3" y="814.37" font-size="14.72" textLength="8.06" lengthAdjust="spacingAndGlyphs">4</text>
<text x="639.37" y="750.05" font-size="14.72" textLength="7.51" lengthAdjust="spacingAndGlyphs">5</text>
<text x="639.23" y="686.5" font-size="14.72" textLength="8.27" lengthAdjust="spacingAndGlyphs">6</text>
</svg>
</body></html>
